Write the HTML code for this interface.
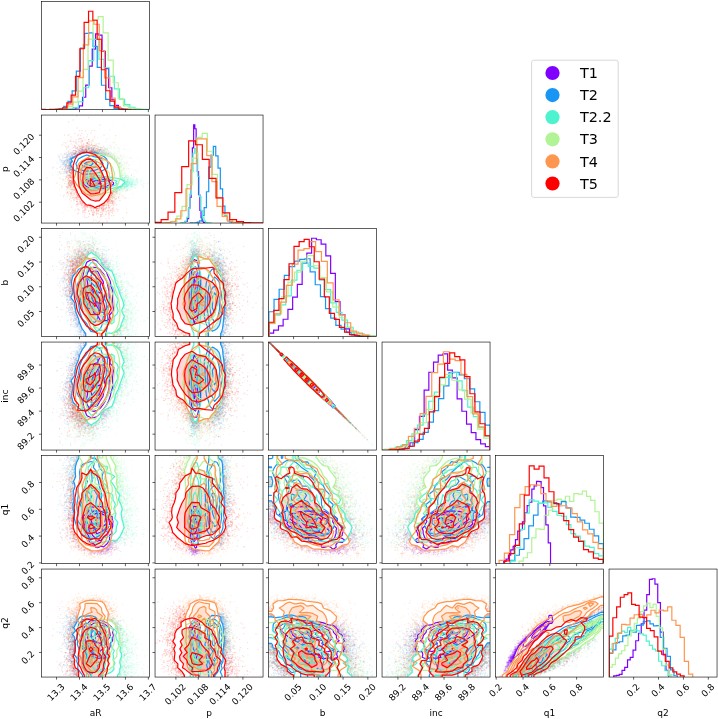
<!DOCTYPE html>
<html><head><meta charset="utf-8"><title>corner</title>
<style>html,body{margin:0;padding:0;background:#fff}body{width:718px;height:719px;overflow:hidden}</style></head>
<body>
<svg width="718" height="719" viewBox="0 0 718 719" style="display:block;font-family:'DejaVu Sans','Liberation Sans',sans-serif">
<rect width="718" height="719" fill="#fff"/>
<defs><marker id="m0" markerWidth="4" markerHeight="4" refX="2" refY="2" markerUnits="userSpaceOnUse"><circle cx="2" cy="2" r="1.56" fill="#8000ff" fill-opacity="0.12"/></marker><marker id="m1" markerWidth="4" markerHeight="4" refX="2" refY="2" markerUnits="userSpaceOnUse"><circle cx="2" cy="2" r="1.56" fill="#1996f3" fill-opacity="0.12"/></marker><marker id="m2" markerWidth="4" markerHeight="4" refX="2" refY="2" markerUnits="userSpaceOnUse"><circle cx="2" cy="2" r="1.56" fill="#4df3ce" fill-opacity="0.12"/></marker><marker id="m3" markerWidth="4" markerHeight="4" refX="2" refY="2" markerUnits="userSpaceOnUse"><circle cx="2" cy="2" r="1.56" fill="#b2f396" fill-opacity="0.12"/></marker><marker id="m4" markerWidth="4" markerHeight="4" refX="2" refY="2" markerUnits="userSpaceOnUse"><circle cx="2" cy="2" r="1.56" fill="#ff964f" fill-opacity="0.12"/></marker><marker id="m5" markerWidth="4" markerHeight="4" refX="2" refY="2" markerUnits="userSpaceOnUse"><circle cx="2" cy="2" r="1.56" fill="#ff0000" fill-opacity="0.12"/></marker></defs>
<svg x="41.54" y="1.55" width="108.00" height="108.00" viewBox="0 0 108.00 108.00">
<path d="M24.6 108L24.6 107.9 27.9 107.9 27.9 107.8 31.2 107.8 31.2 107.5 34.4 107.5 34.4 106.4 37.7 106.4 37.7 104.3 41 104.3 41 95.7 44.2 95.7 44.2 83.5 47.5 83.5 47.5 64.6 50.7 64.6 50.7 47.6 54 47.6 54 32.4 57.3 32.4 57.3 33.5 60.5 33.5 60.5 49.7 63.8 49.7 63.8 67.1 67.1 67.1 67.1 86.2 70.3 86.2 70.3 98.2 73.6 98.2 73.6 103.9 76.9 103.9 76.9 106.9 80.1 106.9 80.1 107.7 83.4 107.7 83.4 108 86.6 108 86.6 108 89.9 108 89.9 108" fill="none" stroke="#8000ff" stroke-width="1.20" stroke-linejoin="miter"/>
<path d="M5.4 108L5.4 108 9.6 108 9.6 108 13.8 108 13.8 107.7 18 107.7 18 107.1 22.2 107.1 22.2 104.9 26.4 104.9 26.4 99.8 30.6 99.8 30.6 89.4 34.8 89.4 34.8 69.6 38.9 69.6 38.9 46.5 43.1 46.5 43.1 31.9 47.3 31.9 47.3 31.3 51.5 31.3 51.5 44.8 55.7 44.8 55.7 65.8 59.9 65.8 59.9 83.7 64.1 83.7 64.1 97.9 68.3 97.9 68.3 104.1 72.5 104.1 72.5 106.8 76.7 106.8 76.7 107.4 80.9 107.4 80.9 107.9 85.1 107.9 85.1 107.9 89.3 107.9 89.3 108" fill="none" stroke="#1996f3" stroke-width="1.20" stroke-linejoin="miter"/>
<path d="M11 108L11 108 16.2 108 16.2 108 21.3 108 21.3 107.9 26.5 107.9 26.5 107.5 31.6 107.5 31.6 106.1 36.8 106.1 36.8 100.2 41.9 100.2 41.9 86.2 47.1 86.2 47.1 59.1 52.2 59.1 52.2 37.8 57.4 37.8 57.4 57.7 62.5 57.7 62.5 66.2 67.7 66.2 67.7 74.7 72.8 74.7 72.8 87.3 78 87.3 78 97.7 83.1 97.7 83.1 103 88.3 103 88.3 105.7 93.4 105.7 93.4 107.2 98.6 107.2 98.6 107.7 103.7 107.7 103.7 107.8 108.9 107.8 108.9 107.9 114 107.9 114 108" fill="none" stroke="#4df3ce" stroke-width="1.20" stroke-linejoin="miter"/>
<path d="M1.1 108L1.1 108 6.2 108 6.2 108 11.2 108 11.2 108 16.3 108 16.3 107.9 21.3 107.9 21.3 107.1 26.3 107.1 26.3 105 31.4 105 31.4 100.5 36.4 100.5 36.4 89.6 41.5 89.6 41.5 67.8 46.5 67.8 46.5 37.6 51.5 37.6 51.5 18.2 56.6 18.2 56.6 15.1 61.6 15.1 61.6 31.4 66.6 31.4 66.6 58.5 71.7 58.5 71.7 81.2 76.7 81.2 76.7 97 81.8 97 81.8 104.3 86.8 104.3 86.8 106.7 91.8 106.7 91.8 107.6 96.9 107.6 96.9 107.8 101.9 107.8 101.9 108" fill="none" stroke="#b2f396" stroke-width="1.20" stroke-linejoin="miter"/>
<path d="M-11.1 108L-11.1 108 -5.8 108 -5.8 108 -0.5 108 -0.5 108 4.8 108 4.8 108 10.1 108 10.1 108 15.4 108 15.4 107.7 20.7 107.7 20.7 107 25.9 107 25.9 103.2 31.2 103.2 31.2 95.3 36.5 95.3 36.5 76 41.8 76 41.8 43.4 47.1 43.4 47.1 19.4 52.4 19.4 52.4 22.7 57.7 22.7 57.7 49 63 49 63 76.3 68.3 76.3 68.3 96.5 73.6 96.5 73.6 105.2 78.9 105.2 78.9 107.6 84.2 107.6 84.2 107.8 89.5 107.8 89.5 108 94.8 108 94.8 108" fill="none" stroke="#ff964f" stroke-width="1.20" stroke-linejoin="miter"/>
<path d="M-0.7 108L-0.7 107.9 3.7 107.9 3.7 108 8 108 8 107.9 12.3 107.9 12.3 107.9 16.7 107.9 16.7 107.5 21 107.5 21 106.3 25.3 106.3 25.3 101.3 29.6 101.3 29.6 93.6 34 93.6 34 74.9 38.3 74.9 38.3 47.2 42.6 47.2 42.6 20.9 47 20.9 47 9.7 51.3 9.7 51.3 18.7 55.6 18.7 55.6 37.7 59.9 37.7 59.9 68.2 64.3 68.2 64.3 89.2 68.6 89.2 68.6 99.6 72.9 99.6 72.9 105.5 77.2 105.5 77.2 107.5 81.6 107.5 81.6 107.7 85.9 107.7 85.9 108" fill="none" stroke="#ff0000" stroke-width="1.20" stroke-linejoin="miter"/>
</svg>
<svg x="41.54" y="115.05" width="108.00" height="108.00" viewBox="0 0 108.00 108.00">
<path transform="scale(.5)" d="M54 121l9 2 99 2 4 0 14-5-14 12 0 7-5 0-96-1 0-2-3-3-1 6-2-1-3-5-7 11 6-3 3 4 7-4 3 5 77 3 4-2 0 2 0-3 1-1 1 0 2 0 1 1 3-1 1 0 0-2-1 7-10 5-3-2-4 2-69 1-1 2-3-8" fill="none" marker-start="url(#m0)" marker-mid="url(#m0)" marker-end="url(#m0)"/>
<path transform="scale(.5)" d="M96 53l-25 5-1-3-20 13 11-1 8 0 0 0 2 0 0-2 5-2 2 6 0-6 2 6 1-3 0 2 0 0 0 0 1 1 0-1 1-3 5 3 1 1 0-4 0 3 1-4 3 4 0-2 0-4 1 5 0 1 0-5 1 4 0 1 0-5 0 3 1 1 0 2 1-2 2-1 1 2 0-3 0 3 1-1 0-7 0 9 2-3 0 2 1 1 0 0 0 0 0-2 0 1 3-2 0-4 1 7 0-9 1 7 4 2 1-4 2 1 1 3 1 0 1-3 2-1 0 0 3 4 3-2 4 2 5-3 4 0 15 1 11 1-26 9-1-2-1 4-2 0 0-3-2 0 0 0 0 2-1 0-1 1 0-2-1 1 0-2 0-6-1 9-1-3-1 2 0-4 0 3-1-7 0 1-1 6 0-1-1 0 0 0 0-5 0 6 0 2-1-1 0-3-2 4 0-3 0 0 0 3-1-8 0 3 0-3 0 6-1-3 0-1 0-3-1 9 0-1-1-1 0 2 0-9 0 4 0 2 0 1 0-2-1-3-1 0 0 7 0-7 0 1 0-1-1 6 0 0 0 0 0 0 0-1-1-3 0 0 0 2 0-1 0 0-1 1 0 1 0 1 0-1 0 0 0-1 0 2-1-1 0-2 0-4 0 4-1 2 0-3 0 0 0 0 0 1 0 0-1 1 0-1 0 0-1-2 0 3 0-2 0-3-1 2 0 2 0 0 0-2 0-1-1 0-1 3 0-3 0 1-1 0 0 2 0-1 0-2-1 3 0-1 0 0-1-4 0 0 0 2 0 1 0 3 0-2-1-1 0 1 0-4-1 3 0 0 0 1 0-4-1 5 0-3-1-1 0 1 0 3 0-4 0 2 0 0 0 2-1 0 0-2-1 2-1-1 0-3 0 3 0-1 0 0-1-1 0 1-1 2-1 0-1 0 0-5-1 4 0-4 0 1 0 0-1 3 0-3 0 3 0-2 0 2 0-4-1 2-1 3-1-3 0-2 0 5-1-2 0 1-2 2 0-2 0-2 0 2 0-4 0 5-1 0-1 1 0-3 0 1 0-2 0 1 0-3 0 6-1 1 0-1 0-1-1-2 0 4 0-5 0-1-1 1 0 2 0 2 0-2-1 1-1-1 0 4 0-3 0 1 0 0 0 1 0 0-1 0 0-2 0-2-1 6 0 0 0-2 0-2 0 4-1-5 0 0 0 2 0 2-1 1 0-2 0-7-1 9 0-7 0 5 0-1 0 3-1-3-1-1-1-1-1 2 0 0 0 0-1-1 0 1-1-5 0 8-1 0 0-2 0-1-1-1 0-4 0 7-2-3-1-4 0 4 0 1-2-2-1 2-2 3-1-1 0 0 0-1-2-2-2 4-2-1-3-1-13 3 0 4 3 5 0-2 2 2 3-8 1 2 1 2 3 0 1 0 1 0 1-1 1 5 0-6 0 4 1-1 0-4 0-2 0 4 1 1 1 4 0-9 0 2 0 7 0 0 0-6 0-3 1 6 0-4 1 6 0 1 0-1 1 0 0-1 0 2 0-3 0 3 0-2 1 2 0-6 0 5 0-8 1 6 0 3 0-5 0 3 0-4 0 3 1-2 0 4 0-3 1 1 0 0 0-5 0 4 0-5 1 5 0-3 0 1 0 1 1 0 0 1 0-1 0 1 0 0 1-2 0 1 0-4 0 4 1 0 1-1 0-3 1 3 0 0 0 0 1-2 0 0 1 1 0-1 2-1 1 0 0 0 49 0 2 0 3 1 0-1 0 0 1 0 2 1 0-1 7 3 2 0 1 1 0-3 2 4 1-1 1-4 0 5 0-2 4 5 0-1 0 1 1-2 2 2 1 1 5-2 3-6 2 7 19-2-13 10-8 1-1 1-1-2-1 0-2 2-2-6-2 1-2-1-85 1-1 0 0-3 0 4 0-3 0 1 0 0 0 0 0-1 0 2-1 1 0-2 0 2 0-2 0 2-1-3 0 2-1 2 0 3 0-8 0 3 0 5 0 0 0-5 0-3 0 7 0 1 0-1 0 2 0-4 0 3-1 1 0-2 0-7 0 8 0-2 0-2-1 1 0 1 0 3 0-9 0 8 0-2-1-4 0-1 0 5 0 3 0-2-1-2 0 2 0-5 0 2-1-2 0 5 0-4-1 0 0-2 0 2-1-2 0-1 0 5-1-1 0-3 0 2 0 4-1 1 0 0 0-8-1 2 0 7 0-4-1 4 0-7-1 1 0 0 0 4 0-2 0 4-1-2 0-5-1 7 0-8-1 7 0-2 0-3-1-3-1 4 0 5-1-8 0 0-1 3-2-2-6 4-7 8 7 3 7-5 1 1 3 5 1-2 1-2 1-3 1 8 1-9 0 2 0 5 0-4 1-3 0 2 1 4 1-5 0 0 1 6 0-1 0-2 0 5 1-2 0-1 1-1 0-4 0 7 1-6 1 0 0 6 0-6 0 5 0-5 0 2 0 3 1-7 0 1 0 5 0-5 0 4 0 2 0-7 0 6 1 3 0-2 0-6 0 4 0 3 0-7 0 1 0 4 1 3 0-6 0 6 0-5 0 1 1 2 0-7 0 9 0-9 0 9 0-6 0-3 1 6 0 3 0-6 0 4 1-3 0 1 1 4 0-3 0 3 0-1 0 1 0-3 0 3 0 0 1-1 0 0 0 1 92-3 1 3 0-3 2-2 3-3 13 6-111 6 0 2 0-4 0 4 0 1-1-6 0 0 0 8 0-8 0 5 0-2-1 4 0-7 0 2-1 3 0-5 0 2 0 6 0-6-1-2-1 0-1 4 0-4 0 4-1-3 0 3 0-3-2 0 0 8-1-3-1 3-2-2-1-1 0 0 0-2-3-4 0 3 0 3-2 1-7-1 0-3-4 6-22 7 42-6 4 0 1 2 2 2 3-4 0 3" fill="none" marker-start="url(#m1)" marker-mid="url(#m1)" marker-end="url(#m1)"/>
<path transform="scale(.5)" d="M50 109l114-2 28 8-3-5-22 9-7 0 0-3-138 4 27 9 11-2 96-7 0 7 1 1 0-1 0-3 0 1 0 1 0-1 0-3 0 3 1-1 0-1 0 5 1-6 0-2 0 7 0 1 0-2 0 2 1-1 0-3 0-3 0 1 0 7 0-7 0 6 1-4 0 1 0 3 0 1 0 0 0 0 0-1 1-8 0 7 0-5 1 6 0 1 0-2 1-1 0-5 0 6 0 0 1 0 0-1 0 3 1 0 0 0 0-2 0 0 1 2 0-8 0 2 0 3 0-1 0 4 1-5 0 0 0-3 1 4 0-2 1 3 1-5 0 5 0 3 1-3 0 3 0 0 0-9 0 9 0 0 1-4 0-3 0 5 0-3 1 0 0 4 0 0 0 1 1-4 1 1 2 0 0 1 1 0 1-5 1 7 1-2 2 2 1-6 0 0 4 6 1 0 0-2 2 0 8 0 16-7 2 6-3 10-2-3-1 4-5 0-3 0-4 2 0-8-1 3 0-3-4-1-1 8-1-4-1 0 0 0-1-3 0 4 0-1-1 4-1-7 0 1-1 6 0-5-1 2-1-5 0 7 0 1-1-5-1 2 0-3-1 0 0 7 0-9-1 4 0 5 0-2 0-3 0 2-1 1 0-3 0 0 0 0 0 5 0-5-1 3 0-6 0 5 0 1-1 0 0 2 0 0 0-2 0-7 0 9-1-3 0 3 0-9 0 3 0 6 0 0 0-5 0 2-1-2 0-1 0-3 0 6-1 0 0-1 0-1 0 4 0 1 0-4-1-5 0 6 0-2 0 2 0-2 0-2 0 5 0-2-1-3 0 7 0-1-1-7 0 0 0 3 0 3 0-1 0 0 0 3-1-3 0-5 0 5 0-3 0 1 0 1 0-3 0 2 0 0-1 3 0 1 0-5 0-2 0 8 0-9-1 6 0 2 0-7 0 4 0 3 0 1-1-1 0 1 0-2 0-4 0 1 0 1 0 1 0-1 0 0 0-2 0 1 0 5-1-2 0-6 0 6 0 0 0 1 0-3 0-2-1-2 0 2 0-1 0 1 0 3 0-4 0 5 0-4-1 5 0-3 0 0 0-3 0-1 0 5 0-2-1-4 0 2 0 0 0-2 0 6 0-3 0-3 0 3 0 6 0 0 0-3 0 3-1 0 0-7 0 6 0-1 0 0 0 2 0-2 0 1-1-7 0 8 0-8 0 7 0-8 0 1 0-1-1 9 0 0-1-9 0 0 0 0-96 6-1-2-1-4-3 8 0 0-1 1-1-3-1-6-1 6 0 3-3-2-2 5 5 5 2-7 3 9 1-8 1-1 1 0 0 2 4 4 78 3 1-1 0 0 1 0 0 1 0-2 1-2 0 1 1 2 0-2 0-1 0 2 0-1 0 3 1-4 0 3 0-2 0-1 1 4 0-3 0-1 0 2 0 1 0-1 1 0 0 1 0-3 0 1 0-1 0 0 1-1 0 3 0 0 1-3 0 0 0 4 0 0 0-3 0 0 0 0 1 0 0 3 0-4 0 0 0 0 0 2 0-2 0 1 2-1 0 0 0 2 0-3 0 4 0-3 0-1 0 0 1 4 0-4 0 2 0 0 0-1 0-1 0 1 0-2 1 3 0 3 0-6 0 0 0 2 0 2 1-5 0 0 0 7 0-5 0 0 0-1 1-1 0 2 0 0 0 0 0-3 1 5 0-2 0-2 0-1 0 1 0 7 0-6 1 5 0-1 0-4 0 1 0-2 1 6 0 1 0-4 0-2 1 2 0-4 0 4 0 4 0-3 0-4 0 4 1 0 0-5 0 3 0 3 0-6 1 3 0-2 0-1 0 2 0 3 0-5 1 5 0-2 0 2 1-4 0 2 0-3 0 2 0 0 0 2 0 4 0-5 0 4 1-5 0-1 0 1 0-2 0 2 0-1 1-1 0 1 0 8 0-5 0 4 0-8 0 4 1-2 0-2 0 2 0 0 1-1 0-1 0 0 0 5 1 3 0-5 1-2 0-1 1 8 1-5 0 2 1-1 0-3 0 1 1 1 0 1 0-4 0 2 1-1 2 2 0 1 0-4 0 0 2 0 1 6 1-6 0 0 0 0 1 5 0-5 1 5 1-5 12 6 0-5 2 3 0-3 8 8-28 9-12-8-2 3-3-1-5 1-3 0-1-3-1 4-4-3 0 2-1-2 0 1-1 1 0-1 0 0-1-1-1-1 0 2-1 3 0-5-1 3-1-3-1 2 0-1-1 5 0-4-1-1 0 3 0-3 0 4-1-1-1-2 0 0-1 2 0-2 0 1-2 1-68 1-8-4-9 5-3-6 23 11 109 4" fill="none" marker-start="url(#m2)" marker-mid="url(#m2)" marker-end="url(#m2)"/>
<path transform="scale(.5)" d="M53 25l63 2 26-7 22 5-32 12-27 12 3-7 1 5 11-2 16 2 0-3 11 3 2 11-2-3-11 1-21 1-4 0-5-1-4 2 0-4-1 1-1 3-1-3 0 0-9-5-26 5-47-3 35 16 21-2 2 0 1-2 3 1 8 1 1 0 1 2 0-8 1 9 1-8 1 7 0-8 1 8 0-3 0-1 1 4 0-5 1 4 1 1 2 0 0 1 1 0 0-9 1 0 1 5 0 4 2-2 1 0 3-1 2 0 1-2 1 3 1-6 0 7 1 1 1-2 1-4 2 6 1-1 2 1 0 0 2-4 2 3 1-3 0 1 2 2 2 1 0-3 3 0 1 1 1-6 5 7 6 0 0-4 0 3 2-1 4 0 0-3 2 3 11-5 15 5-20 11-2 2-1-8-1-1 0 4-1 4-1-5-1 3 0-4-2 6-2-2 0-6 0 8-1 0-1-2 0-3-1 3 0 1-1 1-1-1 0 1-1 1-2 0 0 0-1-2-1 0 0 2-1-3-1-3 0 5 0-3-1 3-1-1 0-5-1 5 0-1-1 2 0-2 0 3 0-7-1 0-2 6 0-8-1 9 0-1-1-4-1 1 0-2 0-1 0 5 0-1-1-5-1 3 0-2-1 4 0 1 0-2 0 4 0-7-1-1-1-1-1 7 0-2 0 3-1 1 0-3 0 1-2 0 0-5 0 7 0-3 0-3 0 0 0 6-1-8 0 3 0-4 0 0-1 8 0 0 0-4 0 1-2 0 0 2 0-4 0 3 0-1 0-1-1 3 0 0 0 1-1-5 0 3-1-4 0 4 0 0 0 1-1-3 0 2-2 0 0-2 0 1 0-1-1-1 0-3 0 6-2-4 0-1 0 3-1 1-2-3-1 3 0-4 0 3-1-1-2 2 0-4-2 3 0-2-1 3-1-2-2-2 0 1-1-1 0-1-4 5-1-5-1 4 0 0 0-3-1-1-1 1-3 4 0-5 0 5-5-1-5 0-2 1-7 3-5-8 5 19 2-6 3-1 1 2 55-4 0 0 5 0 3 0 1 0 1 1 3-1 0 1 0 0 0 0 0 1 1 0 0-1 0 2 1-2 1 2 0-1 1 1 0 1 1 0 1 1 0-3 0 3 1-3 0 4 0 0 0-2 1 2 0-4 0 5 0-6 1 7 0-3 1-4 0 1 0 4 0-5 0 0 1 2 0 0 1 6 0-5 0 4 0-7 1 2 0-1 0 7 0-2 1 2 0-6 0 1 0 5 1-1 0 0 1-1 0 1 1-4 0 0 0 4 1-5 1 6 1-4 1-4 0 8 0-6 1 3 0 0 3-2 0 5 3-2 1-7 0 7 2-7 1 4 3 0 1 4 1-5 2 2 2 1 3 0 13 2 7 2-14 3-5 6-4 0-3-2-2 0-1 1 0-3-4-1-3 5-1 0-1-1 0 1 0-6-1-3 0 1 0 3-1 1-1 1-1 3 0 0 0 0 0-1 0-8 0 5-1 0-1 0 0 2-1-4 0 6-1-1 0-4 0 3 0-2 0 2-1 0 0-2 0-3-1-1-1 1 0-1 0 1 0 0-91 3-3 0-1 4-2-4-2 2 0 4 1-1 3 6 3-1 1 0 1 3 0 0 1-1 1 2 1-1 2 1 88-9 2 0 0 5 1 2 0-6 0 0 0 3 0 5 0-7 1 5 0-2 0-1 0-3 0 3 0-1 0 1 1 4 1-7 0 2 1-3 0 2 1 1 0 1 0 1 2 2 0 2 1-5 1 1 0-3 0 6 0-3 1 1 0 2 1-1 0-2 0 3 0 0 2-6 0 4 2 1 0-2 0 4 1-1 3-8 7 8 13 0 2-2-4 8-4-3-3 5 0-6-9 1-1 4-7 2 0 0-1 2 0-3-1-1-1-5 0 4 0-2-1 5 0-4-1 5 0-8 0 8-1 0 0-6 0-2-1 1-1 2 0 3 0-4 0-1 0 5 0-1 0 2-1-4 0-3 0 7 0-4 0 2 0 2 0 0 0-5 0-1-1 6 0 1 0-6 0-1 0 7-1 1 0 0 0 0 0-3 0-5 0 6 0 2 0-7-1-2-92 0-1 9 0-6 0 2-1 0 0 0 0 0 0 1-1 0 0 1 0 1-1 1-2-1-4-3 0 3-1 0-2 0-2-5 0-3-5 4-3 4-2-1-37 4 36 4 11-4 1-1 2 9 6-6 4 1 0-3 1 7 1-5 92 2 0 0 1-4 0 1 0 3 0 0 0 2 1-7 0 7 0-4 1 0 0 2 0-4 0 5 0-1 0 3 1-4 0 5 0-5 0 1 1 3 1-4 1 3 0 1 0-7 2-1 2 6 0 3 0-8 1 4 1-5 0 6 1-5 0 1 0 6 1-5 0 5 2-3 2-2 2 6 2-8 1 8 1-1 2 1 0-4 21 7-21 1 0 4-2-5-5-1-2 6-3-7-2 6-1-4-1 0 0-2 0 0-1 7-1-6-2 0-2-1-96 4-6-3 0 2 0 1-1-2-1 3-1-4-2 4 0 2-1-6 0 7-1-6 0 11 0 2 1 1 2 3 2-5 2 3 1-3 2 1 3 0 3 4 0-1 78 1 1-1 1-2 0 2 0-1 2 2 1-2 2 0 0-1 0-2 0 5 1-4 1 1 2 2 1-4 1-2 1 5 0 0 0-2 0 2 0-5 1 4 0 2 0 0 1-3 0-2 2 5 4 0 1-4 2 4 5-2 5 3 0-5 2 1 6-5-8 18-4-7-7 1-1 2-5-4-1 0-1 1 0-1-2 1 0-1 0 9-2-1-1-2 0-1-1 2-1-3-2-1-1 0 0-3 0 1-1 0 0 0-1 0 0 1 0 5-2-6 0-1 0 9-1-2 0-6-1 0-1 3 0 2 0-6 0 0 0 4 0 0-1 2 0 3 0-4-1-2 0 0 0 6-1-5 0 4-1-2 0-4 0 4 0 2 0 0 0-5-1 1 0 0-1 2 0-1-68 3-2-5-1-1-3-1 0-1-1 1 0 4 0-2-1 2-1-4-13-1 2 18 7-5 7 4 2-4 4-3 1 8 60 0 2 1 1-1 0-1 1 0 0-3 0 0 2-2 1 3 0-2 0 3 0-6 0 4 1 3 0-7 1 9 0-9 0 0 1 8 1-5 0 3 0 0 1-2 0-4 1 3 0-1 0 7 0-8 0 8 1-8 1-1 0 3 5-1 0-1 7 0 1 2 5-2 0 6 1-1 4 1 0-2 0 0 5 2-20 5-4-1-3 8-8-2-1-4-2-2-5 6 0-4 0-1-3 6-1-5 0 5 0-6-50 5-1 0 0-6-23 7 4 3 28 1 2-1 1-1 3 4 9 1 0 4 6-1 0-2 2-1 3 2 1-1 3-2 1 2 1 2 11 0 0-6 10-1 0 2 11-2 36 15-17 1-42-4-10-3-11 3-7-3-17 3 26 14 35-3 19 7-18-1" fill="none" marker-start="url(#m3)" marker-mid="url(#m3)" marker-end="url(#m3)"/>
<path transform="scale(.5)" d="M136 30l-23 16 37 13-4-6-2 2-1 1-15-2-47-4-11 8-5-4-4-1-9-1-7 8 6 6 11-6 4 0 8 9 6-4 10 0 3 3 0-3 4 0 1 1 2 0 1 3 1-2 0-3 1-2 2 3 0-1 0 1 1 1 0-5 1 0 2 8 0 0 1-7 0-2 1 1 0 5 4 3 0-9 3 6 1 0 5 3 2-4 0 3 1-1 5-1 13-2 28 6-35 3-2 4-2 1-2 1-2-5 0 0 0 5-1-3 0-1 0 1 0-3-1 4-1 2-1-1-1 1 0-1-2 0 0-5-1-1-1 1 0 1 0-4-1 7-1 1 0-1 0 0-3 1 0-8 0 0-1 9-1-8-2 1 0-2-1 5 0-3-2 4 0-3 0 1-1 1-2 0-1 1-3-1 0-3 0 2-1-4 0 6 0-3-1 1-1 1 0-3-1 1-1-1-1 1 0 1 0 1 0-5-1 5-1-1 0-1-1-3 0 4-1-1 0 2 0-4 0-1-2 3 0-3-10 2-1 4-1 0-1-1-2 4 0-9-1 6-2 1-4-5-1-1-2 5-4-1-9 4-3 10 2 0 7-8 6 2 67-3 4 0 1 1 1 1 3 3 3 1 2-6 1 3 1-1 4 3 0-4 1 5 8-3 3 1 9 10-2 0-11 0-4 1 0 2-1 0-2-1-5-6-87 0-1 4-1 5-2-5 0 3-4-7-1 6-2-1-8 14 2 0 4-1 5-4 1-4 1 4 0 0 0-2 0 0 0 4 1 0 0-6 0 9 0-9 0 0 1 6 1 0 1-3 0-3 1 3 0 2 1-1 1 4 0-4 1 2 2 2 90-5 0 1 2-1 4 6 5-9 8 2-13 12-96-3-1 3 0-4 0 2-1 2 0-2 0 4-1 3 0-3 0-3 0 4 0-2-1-2-1 4-1 2-1-8-1 4 0-2-2 1-2 1-1-3-2 1-3 0-2 1-2-1-1 3-9-2 10 14 0 1 3-6 4 1 3-2 3 3 1 0 0-4 0 0 0 1 0-2 1 0 0 4 0-3 0 0 2 2 0-1 0-1 0 3 1 2 1-1 0-2 1 0 0-1 0 0 0 7 1-6 0 2 0-2 1 4 0 1 93-6 1-1 3 0 9 1 20 6-124 9-1-4 0 5 0-5 0 3-1-5 0 3 0-4 0 0 0 1 0 2-1 4 0-2 0 2 0-4-1-3 0 6 0-2-1 3-1-5 0 2-1 1-3 3-1 1 0-8-1 1 0 7-1-2 0-2-1-3-2 6-2-6-1 1-4-1-7 7 0 9 4-3 2-1 9 5 1-4 1-5 0 0 1 6 1-6 2 9 1-9 1 3 0 5 0-8 1 7 0-5 1 5 0-3 0-3 3 1 0 3 1-2 0-2 1 2 0 1 1 2 1 2 79 1 0 0 1-1 2 1 3-4 9-4-9 17-2-6-3 3-1-5-3 1-3 4-1 0-1-1 0-1 0 0-2 6-64 0-2-3-1-2 0 0-1-4 0 3-1 0-1-3 0 9 0-9-1 6 0-5 0 4-1-4-2 4-1 2-1-5 0-2-3 6 0 3-2-2-19 3 17 1 4 5 3-5 4 8 0 0 2-4 1-4 0 6 0-1 6-1 1 0 1 1 57 2 3-1 1-2 3 2 2 0 2-7 4 9-12 2-1 1-2-1-1 8 0-8-2 1-1 5-2-2-1 3-43-2-4-4-2 3-6-3-13 6 15 2 7 5 12-1 2-3 4 0 1 0 4 3 1 4 11 1 2-8 3 2 2 6 5-1 0-4 2 1 41 2-26 4-9 4-10-3-6 7-25-6-8 5-33-7-11 4 21 7 19 1 28-3 6 13" fill="none" marker-start="url(#m4)" marker-mid="url(#m4)" marker-end="url(#m4)"/>
<path transform="scale(.5)" d="M71 2l23 3-31 5-9 4 17 12 46-6-11 11-5 0-2 5-7 3-4-7-7-1-1 6-4-6-2 8-7-2-12 2-9 1 7 1 6 3 13-3 2 8 1-2 2 0 1-6 0 6 2 0 4-2 7-1 3 5 0 0 9-1 3-4 19-4 6 8 17-7-33 16-6 1-6-6-3 6 0-6-4 4-1 3 0-9-1 3-1 4-1-1 0 0 0 0-1 1-1-1 0-1-3-5-3 7 0 2-2-7-1 7 0-7 0-1-1 3-1 2-2-3-3 1-5-4 0 3-1 3-4-3-5 5 0-8-1 3-1-1-8 4-4-1-4 5 7 3 3 1 3-2 0 2 3 5 7-4 1 0 1-4 1 1 0 2 1 2 1-3 2 3 1-1 1-3 0 6 0 1 1-9 2 2 1 3 0 2 0-4 0 4 1 0 1-6 1 7 0-5 1 2 0 0 0 3 0-7 2 2 0 5 0-4 0 0 0 5 0-6 0 6 0-8 1 4 1-2 1 6 0-5 0 4 1-1 0-6 1 8 0-3 1-6 0 2 0 7 0-6 1 5 0-7 0 3 0 3 2-5 1 2 0-4 0 5 1 4 0-2 1-1 0-6 1 2 0 4 2-5 0 4 1-5 1 7 1-2 1-3 2-1 0 7 0-1 1-2 0-4 1 0 1 7 1-5 2 4 1 0 1-4 1 5 0-4 1 5 4 0 0-5 3 4 3-5 6 5 8-6-4 10-9 1-1-2-1 4-2 2-2-1-1-6-2 0-1 4 0 2-1-6-1 6-1-5 0 2-1-3 0 7-1-2-1-3-1 4-1-2 0 1 0 1-1-3 0 1 0 0 0-3-1 4 0-4 0 2-1 2 0-4-1 0-1-1 0 4-1-4 0 2 0 2 0 0-1-1 0 0 0-3-1 5 0-4-1 1 0 0-1 2-1 0 0 0 0 1-1-5-1 5 0-3-2 2-1 0-1-3 0 1 0 0 0 1 0 1-1-4 0 0 0 0-1 3-1-2 0 4 0-5-1 4 0 0-1-4 0 4 0-1 0 1 0-3 0 1 0 3-2-3 0 0 0 3 0 1 0-4-1 0-2-1 0 4-1-5 0 3 0 0-1 1 0 3 0-3-1-3-1-1 0 5 0 2 0 1 0-7 0-1 0 8 0-2-1 3 0-2 0 2 0-5 0-3 0 7-2-5 0 5 0 1-1 0-1-1-1-5-1-1 0 4 0-3 0-1-1 6 0-7 0 6-1 2 0-2 0 1 0-1-1 1-1-2 0-5 0 7-1 0 0-7-2 2-1 6 0-2-2 1-1-2-3 0 0-3-2-1-3 4-3 2-8 0-4 6 1-2 7 4 2-6 4 5 2-3 2 5 3-5 0 2 2 3 0-2 1 2 2-1 0-6 0 0 0 6 1-6 0 5 0-1 1 2 0-1 1-2 0 1 1 0 3-3 2-1 0 1 0-1 1 0 57 0 3 1 8 1 0 1 6 2 0 4 6 3 0 1-90-1 0 0-2-2 0 3-1 5 0 1 0-4-1-1-1 0 0-1 0 6-1-8-3 4 0-4-2 8-2-8-2 1-1 3-1 1-1 0-1 3-20 7 15-1 4 3 6 1 1-5 0 1 1-3 2 1 1-2 1 6 0-3 2 5 1-5 1-3 0 2 1 0 0 2 0 2 0-6 1 8 0-5 1 5 0-1 0-4 1 5 1-3 0 2 1-1 1 6 0 4 0-4 0 1-1 0 0-3 0 3 0-4 0 9-1 0 0-3-1-5 0 0 0 6-1-1 0-2-1 4 0-5 0 2-1 2 0-2 0 1-1-1-1 0 0-4 0-1 0 3-1-2-1 1-1 0-1 1-1 2 0-2-1 2 0-3-2 0-10 5-2-3 1 13 7 2 4-2 1-3 1 0 1-3 0 3 2 3 0-2 0 4 1-3 0-4 0 5 1-5 1-2 0 3 0 6 1-4 1-4 0 2 0 2 0 1 1-1 0 0 2 3 0-3 0-4 0 7 1-2 0-5 0 5 0-3 0-1 1 7 0-3 1 2 0-2 0 2 106 5-105 4 0-1 0 1 0-1-1-3 0 5 0-1 0-6 0 7-1-4 0 0 0 0-1 3 0 1 0-4 0-3-1 3 0-1 0-3 0 7 0-4 0-2 0 4-1-1 0 4-1-7 0 4-1 2 0-1 0-5-1 8 0-7 0-1 0 5 0-5 0 2-1 3-1-1 0-2-1 3 0 2 0-7 0 5-8 1-15-1 9 6 10 1 1 3 1-3 1 3 1-4 0 2 2-4 0 1 1 3 0-3 1 3 0-1 0 6 1-8 1 8 0-9 2 9 1-1 0-3 1-2 0-1 0 7 0-6 2-1 0 6 0-1 0-6 1 2 0 1 0 1 1 3 80-2 3 1 15-4 6 7-3 1-13 8 0-9-1 0-3 6-2 0 0-3-1 1 0 4-1-6-2 1-2 0-1 5 0-7-1 4 0 4 0-2 0-5-1 5 0 0-1-2 0 4 0-5 0 1 0 2 0-2 0 2-2-4 0 3-67-1 0 1 0-3-1 2 0 4-2-5 0 1 0-3 0 0-2 6-1-7-1 7-3-5-1 5 0-3-1 1 0 1-1-1-2-3-2 5-2-5 0 2 0 0-2 1-6 7 1-3 6 2 5 6 2-5 1-3 2 6 2-1 0 0 0-4 2 7 1-3 3-1 0 1 1 1 0 2 0-4 1 2 0-6 1 2 0 3 0-5 0 1 0 0 1 8 0-7 0 1 0-3 1 2 0 4 0-2 1 0 1 1 1 4 54 0 1-1 0 1 1 0 1-1 0 1 0 0 1-5 1 3 0-4 0 5 1-5 0 2 0 0 0 0 0 4 1-1 1-7 0 0 0 0 0 2 1 2 0-5 1 3 0-1 1 4 1-4 0 2 2 1 1 0 0-5 1 8 2 0 0-5 0 4 5-2 0 1 1-3 8-1 4 4-10 5-7 8-3-3-2 1 0-5 0 1-1 6-1-6 0 2 0-3-1 5 0 1 0-2 0-1-1-1 0-3 0 1 0-1 0 2-1-1-1 0 0 5 0 0-1-4 0 2 0-5-2 5 0-5 0 3-1-2 0 0 0 6-1 0 0-5 0 7-1-7 0 1 0 0 0 1-1 1 0 0 0 0-1-1 0-4 0 2-1 0 0 6 0-5-1 6 0-7-2 2-1 2 0-1-1 4 0-2 0 1-1-2 0 2-2 1 0 0-36-2 0 1 0 1-1-4 0 2 0-2-1-2 0 5 0-5 0 1-2 3 0-2 0 0 0 0-1-2 0 4-1-5 0 7-1-1 0 0 0-3 0-5-1 6 0-3-1 0-1-3 0 8 0-5-3 4 0-2 0 4-1-1-1-5 0 0 0-3-1 3 0 6-1-1-4-7-6 1 1 12 11-2 1 6 2 1 6-8 1 0 1 4 0 2 1-6 1 3 1-1 0 0 1 6 0-8 1 5 0-6 0 6 0-4 0 3 0-4 1 6 0-5 1-1 0-1 0 9 0-6 1 0 1 1 0-1 1-2 0 4 0-3 3-1 0 0 0 3 1-3 0 0 1 3 0-3 0 0 1 1 0 2 0-3 0 7 0-7 1 5 0 0 0-3 1 2 1-1 0-2 0 7 1-3 2-1 0 2 1-4 0 3 3 0 0-2 0 3 1 0 0-2 1-2 0 1 0 3 0 2 0-2 1 0 0-4 1 4 0-4 0-1 1 4 0 1 2-4 0 0 0 5 1-2 0-4 0-1 0 3 1 2 0-4 1-1 0 4 0-4 2 1 0 4 0 1 0 0 0-7 1 5 0-5 0 0 0 4 0-3 0 7 1-7 1 0 0 8 0-2 0-2 1-3 0 6 0 1 0-7 0-1 0 5 1-5 0 1 1-2 1 7 0 1 1-8 1 6 1-5 0 5 0-2 3-3 1 4 0-4 0 2 0-2 1 5 0 0 1-1 1-3 2 7 2-2 0-6 2 7 0-3 0 3 2-6 5 6 3 1 17 6-18-3-6 0-4 1 0 4 0-7-1 4-2-3-1 0 0 3-3-3 0 5 0 3-1-9 0 3 0 4-2-6-2 2-1 5 0-4-1 5-1-9-3 2-1-1 0-1-1 1 0 3 0 4-1 0-1-8-1 9 0-5-1 5 0-4-4-4 0 7 0-5 0-3-1 2-1-1-1 5 0 1-1-5 0 6 0-8 0 3 0-3-1 1-2 5-1-2-2-2 0-2 0 6-1 0 0-2 0 5 0 0-1-4 0 4-2-7 0-1-2 0-2 7 0-1-2-5 0 0-6 3-1-5 0 0-1 4-1-3-1 3-1-3-1 3-7-4-1 6-2 2-5-8 19 12 1 3 4 0 3-2 9-3 0 1 2-1 7 4 6 0 0-2 1-1 1 2 5-1 4 5 6 0 0-5 5-1 4 0 19 5-26 11-6-2 0-3-8 4-7 1-1-4-2 3-4-5-5-1-1 6-2 0" fill="none" marker-start="url(#m5)" marker-mid="url(#m5)" marker-end="url(#m5)"/>
<defs><path id="c1" d="M53.2 73.8l2.4 0.3 3.3-0.1 2.3-0.2 1-0.8 3.2-0.4 0.3-0.1 3-0.8 1.2-0.4 0.9-1.3 1.2-1.1 0.1-0.1-0.1-0.6-0.1-0.6-1.4-1.3-1.8-1.1-0.2-0.1-2-1.3-1.1-0.2-3.2-0.6-3.3-0.3-3.3-0.1-3.2 0.1-3.3 0.8-1.4 0.3-1.8 0.7-1.3 0.6-1.5 1.2-0.5 0.4-0.9 0.9 0.4 1.2 0.5 1.2 2 1.3 1.3 0.6 3.2 0.5 0.2 0.1 3.1 1.2z"/><path id="c2" d="M49.8 71.3l2.6 0.9 3.2 0.1 3.3 0.1 3.3-0.6 2.8-0.5 0.4-0.2 2.2-1.1 1.1-1.1 0.2-0.1-0.2-0.3-0.4-0.9-0.7-1.3-2.2-1.1-0.3-0.1-2.9-0.7-3.3-0.5-3.3 0.1-3.2 0.1-3.3 0.7-0.8 0.3-1.6 1.2-0.8 1-0.4 0.3 0.4 1.2 0.4 1.2 2.8 1.1z"/><path id="c3" d="M53.1 70l2.5 0.9 3.3 0.1 3.3-1 2.2-1.2-0.9-1.2-0.4-1.3-0.9-0.3-3.3-0.2-3.3-0.3-3.2 0.5-0.8 0.3-2.3 1.3-0.2 0.8 0 0.4 3.3 0.9z"/><path id="c4" d="M55 68.8l0.6 0.3 3.3-0.1 0.7-0.2-0.7-1.2-3.3 0.4z"/><path id="c5" d="M39 57.7l2 1.5 4.2-0.1 4.2-0.3 4.2-0.3 3.5-0.8 0.7-0.1 3.2-2.2 1-0.4 3.7-1.9 0.3-2.3 0.2-1.1 0.3-1.2-0.3-0.7-0.5-1.6-0.6-2.3-2.5-2.3-0.6-0.4-4.2-1.9-4.2-1.5-4.2-0.1-4.2-0.2-4.2 0.6-3.2 1.2-1 0.2-3.4 2.1-0.7 0.7-3.3 1.6 1.5 2.3-1.9 2.3 0.6 2.3 1.5 2.3 1.6 2.1 0.1 0.2 4 1.7z"/><path id="c6" d="M41.4 55.4l3.8 0.7 4.2-0.2 2.4-0.5 1.8-0.2 4.2-1.8 0.7-0.3 2.1-2.3 0.9-2.3-1.4-2.3 0.2-2.3-2.5-1.4-4.2-0.7-1.1-0.2-3.1-0.9-4.2-0.7-4.2 1.6-4.2 2.3-1 2.3-1.4 2.3 0.7 2.3 0.7 2.3 1 0.8 4.2 1.5z"/><path id="c7" d="M49.1 53.1l0.3 0 0.4 0 3.8-1 0.7-1.3 0.5-2.3-0.3-2.3-0.9-0.8-4.2-1.5-4.2-0.2-0.4 0.2-3.8 2-0.5 0.3-1 2.3 1.5 2.3 0 0.1 4.2 1.7z"/><path id="c8" d="M43 48.5l2.2 1.3 4.2 0.7 2.2-2-2.2-2.3-4.2 1.1z"/><path id="c9" d="M47.7 74l2 0.5 5.1 0.6 5.2-0.6 5.1-0.5 5.1-0.5 4.7-1.1 0.5-0.1 4.9-1.5 0.2-0.8 0.5-0.8 2.3-1.5-1-1.6-1.8-1.1-0.7-0.5-4.4-1.3-2.9-0.3-2.3-0.5-5.1-0.7-3.5-0.4-1.6-0.3-5.2-0.6-5.1 0.8-0.8 0.1-4.4 1.5-0.3 0.1-3.3 1.6-1.2 1.6 0 1.6-0.3 1.5 1.4 1.6 3.7 1.5 0.1 0.1z"/><path id="c10" d="M49.7 72.4l5.1 0.7 3.6-0.7 1.6-0.2 5.1-0.3 5.1-0.8 1.1-0.3 4.1-1.1 0.8-0.5-0.8-0.4-1.4-1.1 1.4-1.6 0.1 0-0.1-0.1-4.7-1.5-0.5-0.1-5.1-0.7-5.1-0.4-2-0.4-3.2-0.4-3.5 0.4-1.6 0.2-3.1 1.4-2.1 1.2-0.8 0.4 0.8 1.3 0.1 0.3 0.3 1.5 1.3 1.6 3.5 1.6z"/><path id="c11" d="M51.7 70.8l3.1 0.5 3.4-0.5 1.8-0.6 5.1-1 2.6-1.5-2.6-1-1.1-0.6-4-0.7-3.6-0.9-1.6-0.4-2.2 0.4-2.9 0.9-1.4 0.7-0.2 1.6 0.8 1.5 0.8 0.7z"/><path id="c12" d="M53.6 67.7l1.2 1.5 1.5-1.5-1.4-1.6-0.1-0.1-0.1 0.1z"/><path id="c13" d="M48.2 78.5l0.8 0.4 5.1 1.3 5 0.9 3.6-2.6 1.4-0.6 5.1-1.1 4.9-3.4 0.1-0.2 2.5-4.8 1.7-5.1 0-5-0.8-5.1-2.2-5-1.2-1.7-3.5-3.4-1.5-1.1-5.1-1.6-5-0.9-5-0.5-5.1 1.8-3.2 2.3-1.8 1.8-3.2 3.3-1.9 5-2.5 5.1 0.3 5 1.3 5.1 0.9 1 3.6 4 1.5 2.2z"/><path id="c14" d="M50.6 73.4l3.5 0.8 5 1.2 5-0.8 2.1-1.2 2.7-5 0.3-0.4 3-4.7 0.8-5-1.7-5.1-2.1-3.8-0.8-1.2-4.3-3-5-0.7-5-0.2-5.1 3.9-5 4.8-0.2 0.2-1.7 5.1 0 5 1.7 5.1 0.2 0.2 5 4.5z"/><path id="c15" d="M51.4 68.4l2.7 1.3 5 0.6 3.5-1.9 1.5-1.4 2.8-3.7 1.2-5-4-4.6-0.5-0.5-4.5-3.6-5 0.7-5.1 2.9-2.1 5.1 0.4 5 1.7 2.9z"/><path id="c16" d="M55.1 63.3l4 0.6 0.7-0.6-0.7-5-5-0.3-0.4 0.3 0.4 3.3z"/><path id="c17" d="M46.5 79.6l3.3 1.5 5.3-1 1.7-0.5 3.6-0.8 5.3-3.4 1.3-1 3-5.2 1-5.1-0.3-5.2-0.8-5.2-1.3-5.2-2.9-3-4.2-2.1-1.1-0.8-5.3-2.2-5.3-0.4-4.9 3.4-0.4 0.1-5.3 3.3-1.8 1.7-2.6 5.2-0.8 5.2-0.1 0.6-1.7 4.6 1.7 3.3 0.9 1.8 4.4 5 0.2 0.2 5.1 4.6z"/><path id="c18" d="M46.8 74.4l3 1.2 5.3-0.4 1.5-0.8 3.8-2 3-3.2 2.3-5.1-0.1-5.2-1.7-5.2-3.5-4.2-1.3-1-4-2-5.3-0.7-4.5 2.7-0.8 0.6-4.7 4.6-0.6 4.6-0.1 0.6-0.4 5.2 0.5 0.8 2.3 4.3 3 3.8z"/><path id="c19" d="M48.8 69.2l1 0.8 3.8-0.8 1.5-0.3 4.9-4.8 0.4-5.2-3.1-5.2-2.2-1.8-5.3-0.3-3.5 2.1-1.8 1.9-1.2 3.3 0.1 5.2 1.1 1.4z"/><path id="c20" d="M49.6 58.9l0.2 3.9 5.3-3.9-5.3-0.2z"/><path id="c21" d="M52.1 91.6l1.3 1.2 1.7-1.2 2.7-0.8 4.3-2.5 3.4-3.6 0.9-1 2.7-5.8-0.1-6.9-1.7-6.8-0.9-2-1.4-4.9-2.9-5.9-0.4-0.9-3.9-6.9-4.4-4.2-4.3-1.4-4.3-1-4.3 0.9-4.4 2.3-2.3 3.4-2 6.1-0.2 0.8 0.2 6.8 0.1 6.9 1.2 6.8 3 6.7 0.1 0.2 3.8 6.8 0.5 0.7 4.3 4.4 4.3 0.6z"/><path id="c22" d="M49.1 84.7l4.3 1.3 4.4-0.4 0.7-0.9 3.6-4.3 1.8-2.5-0.1-6.9-0.5-6.8-1.2-2.7-1.8-4.2-2.5-5-1.5-1.8-2.9-3-4.3-3.4-4.3 0.3-4.3 2.6-2.5 3.5-1.3 6.8 0 6.9 0.9 6.8 2.9 6.7 0.2 0.2 4.1 3.3 4.3 3.5z"/><path id="c23" d="M48.3 77.9l0.8 0.9 4.3-0.2 3.4-0.7 1-0.3 2-6.6-2-6.8-4.4-6.6-0.2-0.3-4.1-4.8-4.3-0.1-2.9 4.9-0.6 6.9 0.3 6.8 3.2 4z"/><path id="c24" d="M48.7 71l0.4 0.2 4.3-0.2-3.8-6.8-0.5-0.6-0.3 0.6z"/></defs>
<g fill-rule="evenodd"><use href="#c1" fill="#fff"/><use href="#c2" fill="#8000ff" fill-opacity="0.15"/><use href="#c3" fill="#8000ff" fill-opacity="0.15"/><use href="#c4" fill="#8000ff" fill-opacity="0.15"/><use href="#c5" fill="#fff"/><use href="#c6" fill="#1996f3" fill-opacity="0.15"/><use href="#c7" fill="#1996f3" fill-opacity="0.15"/><use href="#c8" fill="#1996f3" fill-opacity="0.15"/><use href="#c9" fill="#fff"/><use href="#c10" fill="#4df3ce" fill-opacity="0.15"/><use href="#c11" fill="#4df3ce" fill-opacity="0.15"/><use href="#c12" fill="#4df3ce" fill-opacity="0.15"/><use href="#c13" fill="#fff"/><use href="#c14" fill="#b2f396" fill-opacity="0.15"/><use href="#c15" fill="#b2f396" fill-opacity="0.15"/><use href="#c16" fill="#b2f396" fill-opacity="0.15"/><use href="#c17" fill="#fff"/><use href="#c18" fill="#ff964f" fill-opacity="0.15"/><use href="#c19" fill="#ff964f" fill-opacity="0.15"/><use href="#c20" fill="#ff964f" fill-opacity="0.15"/><use href="#c21" fill="#fff"/><use href="#c22" fill="#ff0000" fill-opacity="0.15"/><use href="#c23" fill="#ff0000" fill-opacity="0.15"/><use href="#c24" fill="#ff0000" fill-opacity="0.15"/></g>
<g fill="none" stroke-width="1.20" stroke-linejoin="round"><g stroke="#8000ff"><use href="#c1"/><use href="#c2"/><use href="#c3"/><use href="#c4"/></g><g stroke="#1996f3"><use href="#c5"/><use href="#c6"/><use href="#c7"/><use href="#c8"/></g><g stroke="#4df3ce"><use href="#c9"/><use href="#c10"/><use href="#c11"/><use href="#c12"/></g><g stroke="#b2f396"><use href="#c13"/><use href="#c14"/><use href="#c15"/><use href="#c16"/></g><g stroke="#ff964f"><use href="#c17"/><use href="#c18"/><use href="#c19"/><use href="#c20"/></g><g stroke="#ff0000"><use href="#c21"/><use href="#c22"/><use href="#c23"/><use href="#c24"/></g></g>
</svg>
<svg x="155.04" y="115.05" width="108.00" height="108.00" viewBox="0 0 108.00 108.00">
<path d="M27.4 108L27.4 107.9 28.7 107.9 28.7 107.8 29.9 107.8 29.9 106.7 31.2 106.7 31.2 106.4 32.4 106.4 32.4 103.5 33.6 103.5 33.6 93.1 34.9 93.1 34.9 82.3 36.1 82.3 36.1 54.7 37.3 54.7 37.3 32.9 38.6 32.9 38.6 9.7 39.8 9.7 39.8 13.7 41.1 13.7 41.1 29.5 42.3 29.5 42.3 56.6 43.5 56.6 43.5 79.7 44.8 79.7 44.8 95.3 46 95.3 46 102.5 47.2 102.5 47.2 106.1 48.5 106.1 48.5 107.6 49.7 107.6 49.7 107.8 51 107.8 51 107.8 52.2 107.8 52.2 108" fill="none" stroke="#8000ff" stroke-width="1.20" stroke-linejoin="miter"/>
<path d="M35.3 108L35.3 107.9 37.6 107.9 37.6 108 39.9 108 39.9 107.7 42.2 107.7 42.2 107 44.5 107 44.5 105.8 46.8 105.8 46.8 100.6 49.1 100.6 49.1 92.5 51.4 92.5 51.4 76.7 53.7 76.7 53.7 52.1 56 52.1 56 40.1 58.3 40.1 58.3 31.3 60.7 31.3 60.7 40.8 63 40.8 63 53 65.3 53 65.3 73.8 67.6 73.8 67.6 91 69.9 91 69.9 100.7 72.2 100.7 72.2 104.9 74.5 104.9 74.5 106.8 76.8 106.8 76.8 107.8 79.1 107.8 79.1 107.9 81.4 107.9 81.4 108" fill="none" stroke="#1996f3" stroke-width="1.20" stroke-linejoin="miter"/>
<path d="M25.3 108L25.3 107.8 26.9 107.8 26.9 107.9 28.5 107.9 28.5 107.5 30.1 107.5 30.1 106 31.7 106 31.7 102.3 33.2 102.3 33.2 93.6 34.8 93.6 34.8 79.1 36.4 79.1 36.4 56.6 38 56.6 38 38.2 39.6 38.2 39.6 33.5 41.1 33.5 41.1 38 42.7 38 42.7 61.2 44.3 61.2 44.3 81.6 45.9 81.6 45.9 95.6 47.5 95.6 47.5 102.9 49 102.9 49 106 50.6 106 50.6 107.5 52.2 107.5 52.2 107.7 53.8 107.7 53.8 107.9 55.4 107.9 55.4 108 56.9 108 56.9 108" fill="none" stroke="#4df3ce" stroke-width="1.20" stroke-linejoin="miter"/>
<path d="M-3.4 108L-3.4 108 1.7 108 1.7 107.8 6.8 107.8 6.8 107.8 11.8 107.8 11.8 107.2 16.9 107.2 16.9 106.4 21.9 106.4 21.9 101 27 101 27 91.3 32 91.3 32 69.5 37.1 69.5 37.1 43.1 42.1 43.1 42.1 22.4 47.2 22.4 47.2 18.4 52.3 18.4 52.3 36.2 57.3 36.2 57.3 59.4 62.4 59.4 62.4 83.2 67.4 83.2 67.4 99.5 72.5 99.5 72.5 104.5 77.5 104.5 77.5 107 82.6 107 82.6 107.6 87.6 107.6 87.6 108 92.7 108 92.7 107.8 97.8 107.8 97.8 108" fill="none" stroke="#b2f396" stroke-width="1.20" stroke-linejoin="miter"/>
<path d="M-10.4 108L-10.4 108 -5.2 108 -5.2 108 0 108 0 108 5.1 108 5.1 107.8 10.3 107.8 10.3 107.5 15.5 107.5 15.5 106.7 20.7 106.7 20.7 103.8 25.8 103.8 25.8 95.7 31 95.7 31 73.7 36.2 73.7 36.2 48.6 41.4 48.6 41.4 23.9 46.5 23.9 46.5 23.8 51.7 23.8 51.7 40.6 56.9 40.6 56.9 66.5 62 66.5 62 91.3 67.2 91.3 67.2 101.4 72.4 101.4 72.4 106.2 77.6 106.2 77.6 107.3 82.7 107.3 82.7 107.9 87.9 107.9 87.9 108 93.1 108 93.1 108" fill="none" stroke="#ff964f" stroke-width="1.20" stroke-linejoin="miter"/>
<path d="M-14.4 108L-14.4 107.9 -7.6 107.9 -7.6 107.9 -0.7 107.9 -0.7 107.3 6.1 107.3 6.1 104.5 13 104.5 13 97.1 19.8 97.1 19.8 77.6 26.7 77.6 26.7 51.6 33.6 51.6 33.6 25.9 40.4 25.9 40.4 29.7 47.3 29.7 47.3 44.3 54.1 44.3 54.1 63.4 61 63.4 61 82.8 67.8 82.8 67.8 97.8 74.7 97.8 74.7 104.5 81.5 104.5 81.5 106.6 88.4 106.6 88.4 107.5 95.3 107.5 95.3 107.9 102.1 107.9 102.1 107.9 109 107.9 109 108 115.8 108 115.8 108 122.7 108 122.7 108" fill="none" stroke="#ff0000" stroke-width="1.20" stroke-linejoin="miter"/>
</svg>
<svg x="41.54" y="228.55" width="108.00" height="108.00" viewBox="0 0 108.00 108.00">
<path transform="scale(.5)" d="M83 27l1-1 11-1 8 4 22 7-21 3-3-5-6-3-7 6-12-2-9 13 5-2 3 1 3-2 2 2 0-5 2 3 0 2 2-2 1 1 0-2 2-2 0 2 2-2 2 6 1-1 2 0 0-7 0 7 1-1 2-2 2 3 1-4 0 5 1-2 2-3 1 1 0 3 2 1 2-1 3-7 1 1 1 7 5-6 3 4 13-4-4 11-1 4-3 2-3-9-1 3-1 6 0-9 0 5-2 0-3-1-1-1 0 3-1 2-3-7-3 0-3 0-1 1-7-2 0 0-4 4 0-4-3 3 0-2-1 5 0-6-1 6 0 1-2 1 0 1 0-4-3 4-1-7-1 3-2-3-5 4-1 3-8 1 2 2 3 2 2 1 4 2 4-5 0 3 1 3 0-7 0 1 38 3 1 4 0 0 0 0 0-1 2 1 0-8 1 7 0-3 1 2 0-7 0 1 1 2 1 6 0-1 0-3 1 0 0 2 1 1 2-1 0-1 1-2 2-4 4 8 2-5-2 14-1 0-2-5 0 2-1 5-1-4 0 2 0 0-1-5-2 0 0 5 0 1-2-7 0 6-1-3-2-2 0 1 0-1 0 1-1-1 0 0 0 1-1 0-1-3-1 2-41-1 0-1 0 2-2 3 0-5-2 4-3 4-1 1-5-7-4-1-1 3-5-1-2 10 11-2 0 7 3-1 0-6 61 0 1 0 2 1 1-1 0 0 1 0 0-1 0 3 3 0 3-1 2 6 12-6 12 9-9 4-7-4-4 1-80-1-7 3-1-2 89 13 4-1 29 11-19-3-5 6-2-2-3-5-1 0-1 0-94 8-6 6 107 3 1 0 1-5 3 6 1-8 4 5 0 18-21 64 5-3 1 2 7 2 0-5-6 8-7 2-14 1-2-3 0-1-2 4" fill="none" marker-start="url(#m0)" marker-mid="url(#m0)" marker-end="url(#m0)"/>
<path transform="scale(.5)" d="M42 9l16 0 9 9-9-5-21 5-1 8 17 0 2 0 1 3 15-3 2 1 2 1 34-3-11 8-11 6-9-2-2 2-13-2-27 4 10 2 7 6 0 0 12-7 2 3 2-3 3-2 2 4 0 4 0-8 0 9 2-8 1 5 5 2 3-7 4 6 3-2 0 1 2 3 5-1-7 3-1 6-3-2-1-1 0 4-3-3 0 4-1-5-1 4-1-8 0 2-1-2 0 9-2-2-1-1-1 0 0 2-1-6-1 0 0 4 0-3-2 1 0 5-1-7 0 1 0-1-1 1-1 4 0-2 0 4-2 0 0-9-1 2-1 3 0 4-4-4-4-2-4-2-2 4 0 2-2-5-3 1 0 6-9 10 11-1 3-6 2 6 0-6 1 3 1 0 1-5 0 4 2 4 2 0 0-7 1 8 1-7 0 4 0-5 1 6 1-4 1 5 2-4 1 2 1 2 0-8 1 9 1-1 0-2 1 3 0-2 0-1 0-6 1 5 1 1 0 1 1-6 0 4 1 0 0-4 0 8 1-8 0 8 0-7 0 4 0 3 1-1 0-3 1-3 0 2 1-3 0 8 0-2 0 1 0-5 1-3 0 6 1-3 1-2 0-1 40 9-2 4-41-3-3 4 0 0 0-1-1 1 0-3-1 5-1-2-2 5 0-6 0-3 0 3-1 5-1-4 0 1 0 1 0 3-1-9 0 2 0 2-1-3-1 1-1 1 0 4-1-7 0 8-1-6-1 1 0-1 0 0 0 3-1-2 0 3-1 0 0-6 0 7-3-1-4 1 0-3-3-1-1 5-1-3 0 3-2-5-1-3-2 1-1 4-2 3-3-6-7 4-7 7 23 0 1 5 1-5 1-1 3-1 1 7 0-2 1-1 0 2 1-6 0 1 1 7 0-7 1 6 0 0 1 1 2-4 1-3 0-1 0 8 0-6 1 4 0-3 1 3 0-7 0 8 0-7 0 5 0-6 1 3 0 2 0-4 1 3 1-4 0 1 0 3 0-3 1 4 0-2 0-1 0 7 0-2 1 1 0-6 1 3-3 6-1 0-3 0 0 2 0-1 0 2-1 0 0-2 0-2-2 8 0-2 0-3-1 5 0-7-3 5-1-3 0 0 0 3 0-3-2 5-1-7-2-1-2 6-1-4-2 2-12 5-22-7 26 13 2-4 1-1 1 5 2 0 0-4 0 6 1 1 1-8 1 1 0 0 0 2 1 4 1 1 1-7 2 1 2-2 2 0 1 8 1-7 0 0 0 3 0 3 1 0 0 1 0-7 0-1 1 2 0 2 0-3 0 2 1 1 0 1 0 0 0-1 1-3 0 0 0-1 0 15 0 0 0-3 0 7 0-5 0-1 0-2 0 8-1-6 0-1 0 6-1-7-1 8 0-8 0 2-1 4 0-5 0-1 0 8-1-7 0 3 0-1 0-2-1 6-2-5 0 1-1 3-1-3-1-4 0 0-1 9-2 0 0-1-1-6 0 5-8-2-5-1 9 9 1-3 2 7 3 2 1-9 1 4 1-1 0 3 1 3 1-7 1 0 1-1 1 6 0-4 0 4 1-2 0-1 0 2 0-4 1 4 1-6 0 4 1 4 0 1 0-8 0 4 0-1 1 3 1 2 0-5 0 2 0 0 1-1 0 0 95 1-97 7 0-1-1-1 0 8 0-9 0 4 0-1-1 4-1-1 0-2 0-4 0 8 0-2 0 1-1-1 0-5-1 2 0 4 0-2-1 3 0-4-1-2-1 5-1-3-1-3 0 2-1 1-1 1-1-4-1 7-1-4 0-2-2-1-2 4-1 13 9-5 0 0 1-2 0 0 1 7 0 0 1-1 2-4 0 1 1-1 0-2 0-1 1 2 1 6 0-4 0 4 1-2 0-3 1 2 0 4 0-9 1 2 0 0 1 2 0 2 0 2 1 1 1-3 0 1 1-1 101-2 0 15-98 0-1-5 0 4-1 1 0-9 0 8-1-5 0 3-1 0-1-3-1-2 0 1-1 6 0-6 0 5 0-7 0 9 0-1-1-8-1 2-1 0 0 3-2 3 0-2 0-1-6 3-6-7-13 6 8 5 11 5 3-1 1-6 1 4 0 0 0-1 1 5 1 0 0-6 1 5 1-6 0-1 1 3 0 4 1 2 1 0 0-7 0 7 1-9 0 7 2-5 0 6 0-1 1-1 0-4 0 2 1-3 1 0 0 7 0 1 0-2 1 2 1 0 104-5 5 5-105 10-2-3-1 3 0-2 0-3 0 5 0-1-1-7 0 2 0 2 0 4 0-9 0 7-2-5 0 1 0 2 0 4-1-2 0-2 0-1-1 5 0-7 0-1 0 3 0 1-2 1 0-2-2-2-1 2 0 2-2-3-1 5 0-8-1 4-4 0-4-3-9 5-7 0 19 9 2-2 6-2 0 6 1-7 2 6 1-3 0 1 0-1 2 2 1 3 0-8 1 1 0 7 0-5 0-3 1 5 0-2 0 6 1-2 1-1 1-4 0 3 2 2 0 2 0-3 0 0 1 3 1 0 5 10-1 0 0-1 0 1 0-1-1-3-1 0 0-3 0 3 0 4 0-7-1 7-1 0 0-8 0 4 0-2-1 4 0-6 0 1-1 3-1 4 0-6 0 2 0-4 0 1 0 1-1 0 0-3-1 4 0 2 0-4 0 5 0 0-1-6 0 2-1 2-1-5 0 1 0 7-1-6 0 2-2 3 0-1-1-5-3 5 0-4-4 12 12 1 3 0 1 0 1-3 1 6 0-8 1 2 1 5 0-2 0-2 1 5 0-4 0-2 0 5 0-1 1-2 0 4 1-3 0-2 0 5 0-4 1-2 0 1 1 1 1 1 1-1 1 5 0-1 1-2 0 3 0-1 0-2 42 3 1-1 2 1 12 0 3-3 1 1 2-1 6-2 1 1 1-4-2 12-2-3-3 3-4 2 0-1-2-1-12-1-1-2 0 3-1 2 0 0 0-5-1 1 0 3 0-3 0 2 0-3-1 2-1 3-38-3 0 0-1-1 0 4 0-3-1 3 0 0-1-5 0 0-1 3 0 0-1 2-1-3 0 0 0-2-3 4-1-2-1 0-1-1 0 0-3 1 0 1-3-2-4 2" fill="none" marker-start="url(#m1)" marker-mid="url(#m1)" marker-end="url(#m1)"/>
<path transform="scale(.5)" d="M51 0l28 6 1-6 5 8 1 1 21 0 4-4 24 3-21 7-3 4-5 0-4-2 0 2-5-2 0-5-1 7-3 0-2-1-2-4-5-3 0 1-2 3-1-4-1 7-11-5-3 2-17 6 14 4 8-2 2 3 4 3 1-1 0 1 0-2 5-3 6 2 0-2 2-1 5 2 2 1 3-4 1 2 2 3 0-4 3 0 1 6 1-2 8 1 0-5 2 4 11-5 0 14-1 2-8-2-6-6 0 1-4-1-3 0-2 5 0-3 0-1-2 5 0 1-2 0 0-6-1 5-1-2 0 3-1-1-2-4 0 0 0 6-2 0 0-5-1-2-1 2 0 1-1 2-1-1-2 2 0-6-2 8 0-4-2 0-2-1-1-3-1 8-4-7-2 1-2-2-1 4-1 1-13 8 20 1 0-1 1-3 0 6 1 1 4 1 2-4 0-2 0 4 1-2 0-5 1 2 0 2 1-3 0 2 0-2 1 5 1 3 2-3 1 3 0-8 1 8 1-6 0-3 1 1 1 7 0 0 0-1 0 2 1-5 0 1 0 1 0-1 0-3 2 4 1-5 0 7 0 0 0-6 1 7 2-9 0 5 2-4 0 5 0 3 0-1 1-2 1 2 0 1 0-2 0-1 0 2 1-7 0 7 0-2 0-2 1-2 2 6 0-7 0 1 2 2 0 4 0-4 7 5 0-8 1 2 2-2 1 2 0 0 2 1 2 1 1-1 4-1 6-3 11 4 0 10-1 2 0 0-10 2-6-6 0 5-6-6-3 1 0 1 0-1-1 0-3 7 0 0 0-2-1 1 0 1-4-9-2 6 0-6 0 8-1-8 0 3 0 1 0 3-2-1-1-4 0 1-2-2-2 0 0 2-3-2-7-1-3 1-1 1 0 1 0 0-1 2-1-1 0-1 0 2 0-2 0 3-1-5 0 4-1 0 0 2 0-3-1-3 0 1-1 6 0 0-1-6 0 3 0 4-1-2 0-2-1 0 0 4 0-1 0-7-1 7-1 0 0-2 0-5-1 1 0 3-1-4-1 4 0 0 0 3-1 0-1-1 0 0 0 0-2-6-2 3 0 4-5-2-46 3 36 1 1 6 7-4 4-2 0 1 1 0 2 6 2-7 0 4 1 0 1 3 1 2 1-4 1 3 3-8 33 0 3 1 0 2 0 1 0-1 0-1 1 0 0-1 0 0 1 5 0-5 0 0 1 0 1-1 0 4 0 4 1-1 1 2 1-1 2-4 0 1 1 4 2 0 0-6 0 5 0-5 1 6 1-7 0 5 2 2 0 0 0-4 1 4 2-2 3-3 2 2 3 1 2-7 2 6 0 3 0 0 3-9 0 6 47 12-36-7-7 4-4 1-1-2-1-3 0 7-1-1 0-1-5-2-1-2 0 4-1 1 0-5-1 1 0 6-5-3 0-4 0-1 0-1-2 6 0 0 0-6 0 3-1 4 0 0 0 0-1-4 0 6-1-3-1-6-1 8 0 1 0-7-1 4-1 3 0-5-1-3 0 5 0-2-1-4-1 2 0 4 0 0 0 0-1-5 0 3 0-3 0 6-1-4 0-3-43 0-1 0-1 0-1 4-1-2 0 1 0 0-1-1-1 1 0 1 0-2-1 1-1 5-4-5-3 2-12 13 7-3 1-3 3-2 67 0 1 1 1 0 0 2 1-1 1 0 0 1 2-3 0 1 1 0 0 3 0-3 1 4 1-2 0 3 1-2 0-2 0 2 1 1 0 0 0-1 0 0 1-4 0 8 0-6 0 5 1-1 1-4 0-1 0 1 7 7 2 0 3-2 2-7 4 7 15 0 8 11-1-5-2 6-3-7-7-2-3 9-5-9-2 6-5 2-1-8-1 4-2 4 0-3-1 4 0-4-2-2-1 4 0 1-1-8-1 9 0-3 0-3 0 0 0 4-1 1 0-3-1 2-1-6 0 6 0-5-1 0 0 1 0 0-1-1 0-2-80 4-3 1-3-3-1 5 0 8 0-5 90 0 1 1 0-1 1 8 0-6 0-1 0 0 0 4 0-2 1-3 1 9 1-3 1 3 0 0 0-6 0-2 0 5 1 0 0 0 1 2 1 0 3-2 0-2 0 3 0 1 1-4 1 3 1 1 0-3 2-2 3 6 1-3 3 0 1-1 0 4 1-4 2 3 1-2 7-3 22 6 9 5-21-2-1 4-6 1-2 2-5-3-2-4-1 2-3 3-3 0-4 1-1 0-2-3-1 1 0 0-1 2 0-1 0-6-1 4-1 2-1 1-1-4-1 5 0-6 0 2 0 2-1-4 0 2-1 1 0-1-1 1 0 2 0-6 0 3-1-5 0 0-1 1 0 0 0 2-1-2-99-1 10 13 93-3 1 4 1-1 0-3 1 1 0-1 1 7 0-5 0 5 1-2 0 3 0-4 1 5 0-6 0-3 1 3 0-1 0 6 1 0 2 1 0-5 5 1 0-1 0-3 1 4 0-3 1 0 2 1 0 3 5 2 3 1 2-3 10 2 10-8 2 4-4 15-1-3-8 0-1-3-1 1-5 2-8 0-2-6-2 6 0 1 0-6-1 7-1 0-1-6 0 7 0-3 0-1-1 3 0-8 0 4 0-4 0 5-1 1-1-2-1-2-1 7 0-2-1-5 0 7 0-6-1 3-1-6 0 4 0 4-2-8-1 1 0-1 0 2-1-2 0 2 0-2-104 17 109-6 0 1 0 3 0-5 1 5 0-3 1 1 0 3 1-1 0-4 0 7 1 1 0-3 0 0 0 2 1 0 0-7 0 0 0 2 0 1 2 2 0 2 1-8 1 8 2-6 0 3 1 0 1 0 1 1 2 1 1 1 4 1 3-5 2-2 27 7 3-1-2 7-26-5-2 6-1 2-2 1-3 0-1-6-1-2-1 4-1-5-2 3 0-3-1 9 0-6-2 2-1-2-2 0 0 1-1 3 0-4-2 0 0 4-1-5 0 0-1-2 0 4 0-3 0 3 0 0 0 5 0-3-1-5 0 8 0-3 0 2-102 3 100-1 0 9 1-9 0 6 0 0 1 0 0 2 0 0 1-2 2 0 0 1 0-6 1 1 0 5 0-3 1 4 1 0 0-7 0 2 1 0 1 1 0-1 0-1 1 6 0 0 0-3 0-5 1 1 0 1 1 0 1 5 0-2 3 0 0 2 1-5 1 5 0 1 1-5 7 1 0 4 4-4 2 0 17 15 0 0-12-5-6 4-6-8-3 0-1 9-1-2-2-5 0 2 0 4-1-7 0-1-2 1 0 7-1-3 0 3-3-7-1 1 0 3-1 0-1 1 0-4-1 5 0 2-1-4-2-2 0-1 0 2-1-2 0 5 0-4 0 4-1-5 0 6-1-4-114 11 110 4 1-1 1 0 0-2 2 1 0 0 0 1 0-8 1 5 0-3 0 3 0-4 0 1 2-1 0 7 0-3 0-3 0 3 1-3 0 4 1-4 0 0 1 2 0 3 0 2 1-2 0-4 0 6 1-8 0-1 0 5 1-1 1-4 0 1 2 8 1-9 1 2 0 4 1-3 0 4 0-5 0 7 1-2 1-5 1 3 2-1 2-1 1 4 0-4 2-2 1 7 9-3 5 0 3-1-15 9-1 5-7-5-1 4-1-3-1 2-2-6-1 3 0-2-1 5-2-4-3 0 0-2 0 6-1-5 0 7-1-5-1-2-1 0 0 7-2-2 0 3 0 0-1-8 0 3 0-4-1 8 0-6-1 2 0 0-1 2 0-4 0 1-1 2 0-2 0 0-1 2 0-1-1 1-1-1-1 2-87 3 7 3 8 5 45 1 2 1 12-1 0 0 0 1 0-1 0 1 1-1 0-2 1 1 1 0 1-1 1 2 0-2 0 2 1 1 1-2 1-1 0-1 0 4 1 0 0-2 0 1 0-4 0-2 1 1 0 2 1-2 0 2 1-1 0 1 0-2 0 5 0 0 1-5 0 0 0-3 0 6 1-3 0-3 1 9 0-2 1-3 0 0 5 1 1-2 0-3 0 0 1 5 2-1 1 4 1 1 0-8 0 1 1-1 0 4 0-3 1 0 0 3 0-2 1-1 1 1 3 2 1-4 3 0 1 4 0 1 3-2 2 5 2-5 12 7-10-1-3 3-2-1-7 3 0-2-2 2-2 0-1-5 0 4 0-4-1 4 0-4-1 3-1 2 0-3-4 0-3-2-1 2-2 0-1 2 0-2-1 0-1 3 0 0 0 0 0-4 0-1-1 1 0-1-1 1 0 2-1 0-3-2-1 4-2-2 0 1-4-1-2-1-1-2-1 1-10 1 0 1 0-1-1-2 0 0 0 0-1 4 0 1 0-1-1-2 0 1-1 0 0-2-1 1 0 2" fill="none" marker-start="url(#m2)" marker-mid="url(#m2)" marker-end="url(#m2)"/>
<path transform="scale(.5)" d="M97-2l-11 6 33 13-17 1-11 0-32-8-1 0-9 8 3 3 3 8 3-5 20 1 0 3 8-7 2-1 9 0 5 5 7-4 1 5 4-6 3 9 30 2-27 3-8-1-1 3-5-2-1-3-3 6-2-4 0 4-2 1 0 1-2-8-2 8-2-8-3 8-1-6 0 2-1-3-1 6-1-8-1 4-1 0-1 3-5 2 0-8-7 6-2-7-1 3-3-1-7 1 0 6-4-4 0-4-51 7 52 5 5 3 3-6 0 3 3 6 5-5 1 4 1-6 2 6 0 1 1-4 4 2 3 0 1-6 0 7 0-1 1-4 0 4 0-6 2-1 1 6 1 3 2-5 0 5 2-2 1-4 0 5 0 1 1-2 1-5 1 3 1-1 0 5 1-5 0-2 1 7 2-3 0 2 0-6 2 0 0 4 1 1 0-3 1-1 1 3 0 2 3-5 1 4 1-4 0 6 12 0 1-5 19 9-1 3-13 3-1 0-1-4-3 0-2-4-1 5 0 1 0-3-1 5 0 0 0 0-1 0 0-8 0 0-1 2 0 5-3-6 0-1-1 4 0 1-1-1-1 0 0-1 0 0 0-1-1-2-1 3-1-3-1 3 0-4-1 3-1-3 0 3-2-3 0 0-12 0-2 7-1-2 0 1-2 3 0-8-2 6 0 1 0-5-1 6 0-6 0 4 0 2 0-3-1-3-1 6 0-5-1-2-1 5 0-6-1 2-2 6-1-1 0-5-2 2 0-3 0-2-2 9-1-9-1 6-1-3-1-2-1 0 0-1-1 7-1 1-1-3 0-5-1 3-1 2-1 3-1 1-1-9-9 6-11-4 2 17 13-9 4 9 1-3 2-3 2-1 1 3 0-5 2 2 1 7 2-4 0-5 1 3 1-1 0 3 1 4 0-4 1-3 0 5 2 1 0-5 0 4 0-4 1-1 1 2 0 5 0-8 1 8 0-4 0 2 0-3 0 4 0-4 1 5 0 0 1-7 0 3 1 2 0-4 0 3 2-4 0-1 0-1 37 3 0 6 2-1 0-3 0 0 2 0 0-5 4 1 0 8 0-8 1 8 0-1 5 1 1-5 2 2 5-3 3 0 5 10-1-1 0 1-4 3-3 0-2 0 0-4-1 3 0-1 0-4-1 5 0-1-1-3-1 5-1 2 0-7-1 3 0 1 0-4-1 1-1 7-1-8 0 6 0-5 0 5-2-1 0 3-1-2 0 0-1-5 0 6-1-6 0 2 0 2-1-3 0 4 0-4-1 0 0 0 0 0-1-3 0 5-2-3-41-1-3-1 0 3-1-3-1 5-1 1-1-5 0 7 0-4-1 3 0-5 0 1-1-1-2 5-1-1 0 3 0-1-1 0-1-6-2 6-2-1 0 2 0-1 0-1-5 0-3-4 0 3 0-6-2 3 0 2 0 1-1-3-2 5-32 7 35-3 1 5 7 0 3-2 2-2 2 5 0-5 0 3 0 1 0-6 1 5 1 2 0-3 59-5 2 1 2-1 4 1 1 1 1 2 1-1 0 0 2 4 6-7 4 7 2-7 9 12-3-1-2 5 0 1-2-3 0-4-5 7 0-5-2 4 0-4-1 6-1-2 0-6-1 4 0 1 0 1-81-4-3 0 0 0-1 0-1 5-1-4 0 1 0-2-6 1-3 2 0 2 1 7 0-3 4-1 1 6 4 1 1-7 88 6 0-1 1-1 0 0 1 2 1-6 1 6 0 1 1-2 1 1 1 2 2 0 2 0 1-1 0 0 0-2 3 1 1 3 1-1 1-1 9 3-11 6 0-3-1 4 0-4-4-2-2 1 0 5-1 2-1-7-1 5-1 2-1-1-2-6-1-2 0 2-88 6 0-3-10-1-7 15 9-7 5 0 1 6 3-1 0-4 0-1 0 4 0 0 1 1 92 0 1-4 1 1 0-1 1 2 1-4 0-1 0 4 1 4 2-4 1 5 4-2 3 0 21 2 13 6-18 2-11 2-6-5-4 5 0-3-1-2-1 2 0 0-1-1 0-2-1 0-1-2 0 5-104 2-1 0-2-3-2-2 3 16 110-2 2-5 0 2 3 4 2-7 0 5 6-6 4 1 15 4-13 7-2 3-2-3-1 5-1-6-1 6 0-4-8-2 0-1-1 1-2 0 0 7 0-1-100-6-5 2-22 9 124 3 0 0 2 1 3-5 1 2 1-3 1 5 0 3 0-8 0 4 3 0 2 2 4 1 1-2 3 3 0-8 2 1 0 3 7 9-4 5-4-6-1 2-2 4-2 0-4 1 0-8-1-1-3 9-1-5 0 0-1 3 0-4-1-2-2 4 0 2-1-6-2 0-94 5-2-3 96 11 2 4 0 0 1-8 0 6 0-4 1 5 1 1 1-3 0 2 1-5 0 2 0 0 1-4 0 2 1 0 2 5 7-7 17 12-17 2-10-1-2 3-1 0 0-4-1 1 0 6 0-6-2 5-1-6 0 4-1-4 0 3-2 2-1-3 0 4 0 1 0-7-1 5 0-3 0 1-1 2-84-6-2 4 11 8 4 5 42 0 16 1 0-1 1-1 1-2 2 3 0-3 1 3 1 1 0-2 1 0 1-3 0 1 0 2 0-1 0-1 1 2 1-5 0 5 1-7 0 3 1 1 1-1 1 1 0 3 1 0 0 2 0-2 0 0 0-3 4-4 1 5 2 4 2-9 4 5 8 4 8-9 5 7-11 8-7 0-6-1 0 1-9 0-1 0-2-3-3 2-1-3-2 0-1 0-1 4 0-2-1 2 0-5-2 0 0 3 0 0-2 1 0-1 0 1-1-3 0 2 0 2-1-1 0-4 0 4 0-3-11-1-2 1 0 0-1 3-1-4 0 4-1 0-51-2" fill="none" marker-start="url(#m3)" marker-mid="url(#m3)" marker-end="url(#m3)"/>
<path transform="scale(.5)" d="M80 8l28 2-7 5-3 2-10-6-14 8-14 6 5-2 3 2 0-2 2 4 5-3 0 2 0-1 2-1 3 5 3-8 4 5 5 1 2-1 6 3 1-9 1 7 1-6 0 7 1 0 1-8 9 19-5-2-2-3 0-3-2 1-1 1 0 6-2-2-1 1-4 1 0-6-1 3-1 2 0-5-3-3 0 3-2-2-1 3-3 2 0-2-1-2-2 2-2 4 0 1-1-3-1-1-1-4 0 8-1-2-1-2-3-4-3 0-1 8-7 0-3-9-3 7 0 0-4-7-1 3-4 5 7 5 1-3 1 4 4 2 3-2 1 3 0-1 1 2 1-1 0-5 1 2 2 2 1-5 2 7 0-6 0 2 1 4 0-2 1-4 0 1 1 0 1 1 0-2 2 7 2-8 0 3 0 5 1-8 1 8 0-1 5 1 0-8 1 4 1-3 0 2 2 3 0-2 1 4 1-2 0-5 2 6 1 0 1-5 1-3 1 0 0 7 1 1 0 0 0-4 2-1 0 6 0-4 5 1 1 3 0-2 2-7 0 2 4-2 9 2 6 2-5 9-5 6-2-6-1 4-2 0-1-6-1 5-1-5 0 2-1 2-1-4-1 1-2 1-3-2-11 4-1 1-1-1 0 0 0 4-1-1-1-5 0 3 0-4 0 5-1-4 0 0 0 3 0-4-1 6 0-3-1 2 0-4 0-1 0-1-2 4 0-5 0 7-1 0 0-3 0-1 0 0-1 1 0 3 0 1-1-5 0-1-1 6 0-5 0-3-1 5-1-1 0 0 0 0 0 4 0-3-1 3 0-7-1 1 0 7 0-4-1 0 0 0-1 2 0 2-2-2 0 2 0-8-1 4 0-5 0 6-2 1-3 1-1-2-2 0 0-6-1 3-1 3 0-1-3 1-2-5-1 1-1 2-7 5-3-3 1 12 4-8 3 4 2-1 1-2 3 7 1-4 1 5 0-3 1-1 0-1 1 0 0 4 0-3 0-3 1 2 2-2 1 6 1-2 0-5 1-1 1 7 0-6 0 8 1-5 0-3 0 3 1 5 0-4 0 4 0-2 1-5 0 3 1-3 1-1 0 7 1-3 1 3 0 0 0-3 0-5 1 2 0-2 1 8 0-5 0 1 0 5 0-3 1-6 0 6 1 3 0-9 1 0 1 5 0 1 0-1 1-2 1-2 0-1 0 1 0 2 35-1 0 1 3 0 1 0 3 3 1-4 1 2 1 3 0-7 1 5 27 5-15 9-7-1-4-3 0 0-2 2 0 0-4-3-2 1-42-5 0 1-2 0-1-1-1 1 0 2-1 3 0-2 0 0 0 0-1 2-1 1 0-6-1 2 0 1 0-3 0 1-1 5 0-6-1 6 0-2 0 4-1-1 0-1-1-5 0 6-1-5 0 6 0-5-1 1 0-2 0 3 0 0 0-3-1 6 0-8-1 1-1 2 0 1 0 2 0-1-1 3-3-4 0 0-2-4-1 5-1-6-2 4-1 2-3 1-7 7 3 5 2-3 2-6 4 5 2-3 2 0 1 6 0 1 2-1 1-6 0 4 1-4 1 0 0 7 0-5 0-1 1 4 0-6 1 1 0 1 0 0 0-2 0 3 1 2 0-6 0 8 1-6 0 2 1 1 0 1 0-6 0 0 1 0 0 5 0 0 0 0 0-3 1-2 60 0 2 1 13 10-79 0-2 1 0 0-1 4 0-6-1 6 0-2-1-3 0 7-1-7 0 4-1 3 0-1 0 2 0-9 0 8-1-4-3-2-1-2-1 2-4 1-7 4 10 4 0 8 0-9 2 1 2 1 0 7 0-1 1-7 0 5 1 2 1-3 91-2 23 8 0 0-13 5-7-6-92 7 0-3-2 2-1-4 0 2-2-3 0 8-2-1-1-3-2-3-1-1-5 3-2 4-1 0 0-8-6 8-4-7 20 16 2-1 0-6 1 4 1 4 2-7 2-1 1 6 1 0 0 1 1-3 93 0 16 6-12 5-99-4 0 1-1 2-1 5-1-8 0-1-1 3-1 4-1-7 0 1-1-1-2 2-11 3-1 0-3-3 14 13 1-4 3 3 1 4 5 0 129-1-25 6-99 0-5 6-19 4 9 4 3-5 7 1 2 1 2 2 3-5 0 0 93 7 9-2 0-4-98 15-2-7-1 4-4-1-29 12 33-1 5-4 0 7 96 7-8 0-85 2-36 7 34 4 10-1 43 3 2-1 14 0 1 0 2 0 0 1 3-1 1-4 0 4 0-4 3 0 0 0 3-1 0 4-2 5-3-2-4 3-1-1-1-1-1 3-2-3-1-1-10 2 0-1 0 1-1-1 0 2 0 1 0-4-1 5-2-1-41 1-8-3" fill="none" marker-start="url(#m4)" marker-mid="url(#m4)" marker-end="url(#m4)"/>
<path transform="scale(.5)" d="M37 14l14 14 43 7-8-3-1 7-7-7-4 4-19 1-3-1-12-3-4 9 31 0 0 2 2 5 6-5 0 2 0 0 2 0 2 2 1 1 1-7 8 0 4 2 0-3 1 8 2-9 5 3 3 2-11 5-1 3-5-2 0 5-2-3 0-1 0 7-1-9-1 3 0 0 0-3-3 7-1-2-1-2 0 3-1 0-1 2-1 0-1-8-1 1-1 8 0-1 0-1-2-6-3 5 0 1-7 1-3-1-1 0-4-1-17 11 3-3 3 5 3-1 6-6 1 5 1-2 0-2 2 4 2-1 1-3 0 3 1 3 1-3 0 0 1-3 2 3 0-2 1-4 0 5 0 4 0-4 1 1 2 1 1-6 0 6 0 2 0-8 1 8 1-1 0-6 0 2 0 2 1 1 0-1 1-2 0 5 0-2 0-4 1 6 1-5 1 5 0-9 1 8 0 0 0-7 0-1 1 6 0-1 1-3 0 2 1-3 0 7 1-7 0-1 0 1 1 1 0 0 0 7 1-3 0 0 0-2 41 5 8-6-54 7 0 5 0 0-3-1 0-2 0 1 0 4-1 1 0-3 0 0-1 2 0-2 0 3-1 1 0-9 0 9-1-1 0-3 0-3 0 3 0 4-1-4 0-2-1 5-2-7 0-1-1 0 0 1-1 2 0 2 0-2-1-3 0 0-1 5 0 0-1 0-1 0-1 0 0 4 0-7 0 0 0 7-2-3 0-2-5-3 0 4-2 3-5-1-3-5-19 3 17 7 3-2 3 9 1-1 1-5 3 6 4-3 0 3 0-6 1 1 0 5 1 0 2-8 0 8 1-5 0-2 1 4 1 3 0-3 0-6 0 2 1-1 0 8 0-5 0-3 0 6 0-4 0 5 0-5 1 5 0-3 0-2 1 2 0-5 0 4 0 4 1-5 0 5 0-3 1 2 0-1 0-2 1 3 1-6 0 0 0 7 1 0 0-3 1-5-4 12 0-1-1 0 0 1-3 3-1-5 0 4 0 5 0-5 0-4-1 7-1-2-1 0 0 4-1-7 0 6-1-1-1 1 0 1-1-2-1-2 0 0-1-3 0 0-1 1-1-2-2 2-1-2-1 7-1 1 0-4-2 3-7 11 8-4 4-2 1 2 1-2 1-1 2 1 1 4 0-3 0 4 0-1 0-2 1 0 1-2 0 4 0-5 0 7 1-8 0 7 1-2 0-1 0-2 0 1 1 2 0-2 0-1 1 5 1-7 0 1 0 1 0 15-1-5 0 1-1 2 0-1 0-5 0 0 0 6-2 1-2-5 0-1-2 5 0 0-1-3-1 5-1-1-1 1-12 8 6-3 2 0 1-3 2 6 0-2 0 2 3-3 3 1 0 0 2 3 0 2 0 0 0-9 0 4 1-2 0-2 0 7 1-1 0-1 0-2 0 3 1 1 2-5 0 5 0-4 0-3 2 6 107 7-109 0 0-2-1 0 0 3-2 0-1 2 0-6-1 1-1 5-2 0 0-2-1 2-2-1 0 1-1-5-1 2 5 10 1 6 4-6 0-2 0 0 0 8 1-9 1 8 0-5 1 3 1 3 0-6 4 6 0-1 1 5-1 5 0-4 0-1 0-1 0 2 0 4 0-3-2-1 0-2-2-2 0 9-2-8 0 6-1 0 0-5-2 7-1-8-2 7-1-5 0-1-2 7-20-1-32 0 58 10 1-7 1 3 1 4 2-5 1 3 3 0 1-6 1 2 0 5 0-7 0 8 1 1 98-2 5 10-101 1 0 1 0-6-3 4-2-5-1 7-1-9 0 0-1 1-2 1-5 0 2 11 1 0 6-1 0 2 2-4 2 2 1 0 0 1 2 5 1-3 1 3 0 0 1-1 91-6 4 16-1 2-9-3-80 2-2-3-1 1 0 3-3-9-1 0-1 5-2-5-11 3-1-1 17 15 4-2 2-5 0 1 0 1 2 6 2 0 0 0 2 1 58-1 6-4 0 2 5-3 7 2 0-4-18 14 0-3-3-1-10 4 0-5-2 4 0-1 0 0-1-2-1 0-1 3-39-1 0 0-1-3-1 0-1 4-1-1-5 2-9 0" fill="none" marker-start="url(#m5)" marker-mid="url(#m5)" marker-end="url(#m5)"/>
<defs><path id="c25" d="M58.2 91l0.7 1.2 3.3-0.6 3.2 0.5 1.8-1.1 1-4.7 0.5-0.6 3.3-3.9 0.1-0.3-0.1-0.9-0.7-3.8-0.3-4.8 0-4.7 0.2-4.8-1.8-4.7-0.6-4.7-0.1-0.3-2-4.5-1.3-3.5-0.4-1.2-2.8-3.4-1.2-1.4-2.1-2.6-2.1-2.1-1.2-1.4-3.2-1.6-3.3 0.5-3.2 1.6-0.9 0.9-1.6 4.7-0.8 3.2-0.4 1.6-1.1 4.7 1.5 4.5 0.1 0.3 0.1 4.7 1.2 4.7 1.9 4.2 0.1 0.6 1.6 4.7 1.2 4.8 0.3 0.7 2.6 4 0.7 3 3.2 1.8z"/><path id="c26" d="M57.8 81.5l1.1 1.9 3.3 0.5 1.5-2.4 1.7-2.2 1.4-2.5 0.9-4.8-0.1-4.7-0.1-4.8-1.1-4.7-1-4.7-1.9-4.8-1.3-2.6-1.7-2.1-1.6-2.1-3.3-2.4-2.7-0.3-0.5-0.1-0.5 0.1-2.8 0.5-2.8 4.3-0.4 1.3-1.5 3.4 1.5 4.8 0.5 4.7 1.6 4.7 0.6 4.8 0.5 1.2 2.2 3.5 1.1 2 2.4 2.8 0.8 1.4z"/><path id="c27" d="M54.2 72l1.4 1.9 3.3 1 3.2-2.9 0.1-0.5 0.9-4.2 1.4-4.8-2.3-4.7-0.5-4.7-2.8-4.8-2.3-4.7-1-1-3.2 0.1-2 0.9-0.7 4.7 0.3 4.8-0.5 4.7 2.1 4.7 0.8 2.8 0.7 2z"/><path id="c28" d="M55.4 62.5l0.2 0.6 3.3 1.6 1.3-2.2-1.3-4.2-0.4-0.5 0.4-1.9 0.1-2.8-0.1-0.2-3.3 0.2-1 4.7z"/><path id="c29" d="M44.2 110.3l1 0.7 4.2 1.7 4.2 0.1 4.2-0.5 4.2-1.2 2.1-0.8 0-5.2 1.4-5.1 0.5-5.2 0.1-5.1-0.5-5.2-0.6-5.2-0.3-5.1-2.3-5.2-0.4-0.7-1.5-4.4-2.2-5.2-0.5-1.1-1.3-4-2.4-5.2-0.5-0.9-4.2-3.6-0.3-0.7-3.9-4.1-4.2-0.5-4.2 2.3-1.1 2.3-3 2.8-1.6 2.4-1.2 5.2 0.7 5.1 0.9 5.2-2.1 5.1 3.3 4.6 0.2 0.6 0.7 5.1 1 5.2 2.2 5.2 1.4 5.1 2.3 5.2 0.5 0.7 3.2 4.4z"/><path id="c30" d="M47.4 100l2 2.9 4.2 0.8 4.2-2.5 1.2-1.2 2.1-5.2 0.4-5.1 0.5-2.4 0.4-2.8-0.4-1.9-0.6-3.3-1.3-5.1-2.3-5-0.1-0.2-2.3-5.1-1.3-5.2-0.5-0.8-4.2-4.1-0.2-0.2-4-5-4.2 0.4-4.2 4.6-1.8 5.1-0.3 5.2-0.3 5.1 2.4 5.2 0 0.3 0.8 4.8 0.8 5.2 2.1 5.2 0.5 0.9 4 4.2 0.2 0.5z"/><path id="c31" d="M45.2 89.7l4.2 3.7 4.2 0.3 2.4-4 0.4-5.2 1.2-5.2-1.5-5.1-2.5-4.8-0.1-0.4-2.2-5.1-1.9-3-3.3-2.2-0.9-0.9-2.3 0.9-1.9 0.9-2.6 4.3 0.4 5.1 0.7 5.2 0.8 5.1 0.7 3.1 1 2.1 3.2 5.2z"/><path id="c32" d="M45.2 79.3l4.2 1 0.7-1 1.6-5.1-1.1-5.2-1.2-2.4-4.2-2.6-2.2 5 2.2 4.6 0.6 0.6z"/><path id="c33" d="M52.7 99.2l2.1 2.9 5.2-0.4 5.1 2.6 5.1 0.5 5.2-2.6 3.3-3 1.8-5.6 2.3-5.6-2.3-4.5-0.3-1.1 0.3-1.3 1.9-4.4-1.4-5.6-0.5-0.7-2.1-4.9-1.8-5.6-1.2-2.3-1.3-3.3-1.3-5.6-2.3-5.6-0.3-0.5-5.1-2.3-3.3-2.8-1.8-2.6-0.8-3.1-4.4-4.7-2-0.9-3.1-2.2-3.2 2.2-2 4-0.6 1.6-3.1 5.7-0.1 5.6-0.5 5.6-0.1 5.6 0 5.6 1 5.6 2.3 5.6 1.1 3.2 0.3 2.4 0.9 5.7 2.2 5.6 1.8 3 1.3 2.6z"/><path id="c34" d="M65.1 93.6l5.1 1.7 2.2-1.7 0.2-5.6 2.8-2.4 1.2-3.2-1.2-4.2-0.4-1.5 0.4-1.3 1.4-4.3-1.4-2.1-2-3.5-1.4-5.6-1.8-2.5-4.1-3.1-1-2-1.5-3.6-3.6-3.2-1.4-2.4-3.2-5.6-0.6-2-5.1-1.6-2.7 3.6-1.8 5.6-0.5 5.6-0.2 1.5-0.7 4.1 0.6 5.6 0.1 0.8 0.3 4.8 1.3 5.6 1.6 5.6 2 5 0.2 0.7 2 5.6 2.9 4 5.2 0.2 5.1 1.4z"/><path id="c35" d="M53.7 82.4l1.1 2.6 5.2-1.7 5.1-0.9 3.8-5.7-1.1-5.6-2.7-5.1-0.3-0.5-0.7-5.6-4.1-5.3-0.2-0.3-2.5-5.6-2.5-5.1-5.1 2.3-1.2 2.8 0.1 5.6-1.1 5.6 1.1 5.6 0.1 5.6 1 2.2 1.4 3.4z"/><path id="c36" d="M53.7 65.5l1.1 5.6 1.8-5.6-1-5.6-0.4-5.6-0.4-0.6-0.4 0.6-0.5 5.6z"/><path id="c37" d="M65.5 110.9l3.7 1.2 2.4-1.2 0-6.4 2.6-3 2-3.4 1.7-6.4 0.6-6.4-0.3-6.4-0.8-6.4-1.5-6.4-1.7-4.1-0.7-2.3-1.7-6.4-2.6-4.3-1.2-2.1-3.9-5.2-1-1.3-4-4.6-1.8-1.8-3.2-5.4-5.1 1.5-5 1.5-2.8 2.4-1.3 6.4-1 3.8-1.1 2.7-0.2 6.4 0 6.4 0.7 6.4 0.6 1.7 1.8 4.7 2.2 6.4 1.1 1.5 2 4.9 3 6.4 4.3 6.4 0.8 0.7 5 1.7 5 3.3 1.4 0.7z"/><path id="c38" d="M55.1 91.7l4 3.4 5 0.5 5.1-1.1 2-2.8 0.8-6.4 1.1-6.4-0.5-6.4-1.1-6.4-2.3-4.9-0.7-1.5-2.1-6.4-2.3-4-1.7-2.4-3.3-3.9-5-2.2-0.8-0.4-4.3-2.4-3.2 2.4-1.8 3.9-0.6 2.6-0.9 6.4-0.2 6.4 0.5 6.4 1.2 2.1 1.4 4.3 3.6 6.4 1.5 6.4 3.6 5.1z"/><path id="c39" d="M57.2 85.3l1.9 2.3 5-1.3 0.7-1 1.9-6.4 0.1-6.4-0.9-6.4-1.8-4.7-1-1.7-4-6.4-5-2-5.1 2-1.9 6.4 1.2 6.4 0.7 2.7 1 3.7 4 6.4 0.1 0.1z"/><path id="c40" d="M57.2 72.5l1.9 0.8 0.8-0.8 1.8-6.4-2.6-3.9-5-2.5-1.2 6.4 1.2 4.9z"/><path id="c41" d="M58.6 110.6l1.8 0.1 0.2-0.1 0-5.8 3.7-5.9 1.4-1.1 3.4-4.7 1.9-4.7 0.5-1.2-0.5-2.1-0.5-3.7 0-5.9-1.3-5.8-1.1-5.9-0.5-5.8-1.9-3.7-1.1-2.2-3.6-5.8-0.6-1.4-3.1-4.4-2.2-1.9-2.7-4-2.6-3.5-5.3-2.3-4.4 5.8-0.9 1.9-5.3 4 0.9 5.8-0.9 5.4-0.2 0.4 0.2 0.6 0.8 5.3 1 5.8 0.1 5.9 2.7 5.8 0.7 1.8 1 4.1 3.1 5.8 1.2 1.9 2.4 4 2.2 5.8 0.7 0.7 5.3 4.8 3.5 0.4z"/><path id="c42" d="M59 93.1l1.4 0.3 0.3-0.3 3.5-5.9 1.5-3.4 0.9-2.4 0.4-5.9-1.3-3.5-1-2.3-1.2-5.9-0.9-5.8-2.2-3.6-1.1-2.3-3.1-5.8-1.1-1.3-4.8-4.5-0.5-0.8-5.3-1.7-1.5 2.5-3.1 5.8-0.7 2.1-1.3 3.7 1.3 4.3 0.4 1.6 0.2 5.8 1.4 5.9 1.2 5.8 2.1 5.9 4.9 5.8 0.4 0.5 5.3 4.7z"/><path id="c43" d="M51.5 81.4l3.6 3.2 5.3-2 0.5-1.2 0.2-5.9-0.7-2.1-0.8-3.7-0.2-5.9-2.3-5.8-2-4.4-0.8-1.5-4.5-4.3-5.3 1.3-1 3 1 5.9-1.5 5.8 1.5 3.3 1.3 2.6 1.4 5.8 2.6 3.9z"/><path id="c44" d="M48.3 63.8l1.5 3.7 4.5-3.7-4-5.8-0.5-1-0.4 1z"/><path id="c45" d="M55.9 110.2l1.9 1 2.4-1 0-5 1.9-1.5 2.8-3.6 1.5-4.1 0.4-0.9 2-5.1-1.5-5 2.3-5-2-5.1-1.2-2-1.4-3-0.7-5.1-2.2-4.8-0.1-0.2-1.5-5.1-2.7-2.8-2.1-2.2-2.3-3-2.6-2.1-1.7-2.5-1.7-2.5-2.6-1.8-4.3 1.8-3.6 5-0.8 1.4-2.7 3.7-1.2 5 0 5.1 0.4 5 0.4 5.1 1.6 5 0.6 5.1 0.9 2.5 1 2.5 2.9 5 0.5 0.6 3 4.5 1.3 2 4 3 0.3 0.3 4.3 2.9 2.5 1.9z"/><path id="c46" d="M50.7 95.1l2.7 1.9 4.4-1.2 0.8-0.7 3.5-2.4 1.5-2.7-0.4-5 0.3-5-1.2-5.1-0.2-0.5-0.8-4.5-1.1-5.1-2.4-3.7-0.7-1.3-2.3-5.1-1.4-1.5-4.3-3.5-4.3-2.6-3.9 2.6-0.4 0.6-3 4.4-1.2 5.1-0.2 1.5-0.4 3.5 0.4 1.6 1.3 3.5 0.7 5 1.1 5.1 1.3 2.1 1.7 2.9 2.6 2.7 1.7 2.3 2.6 4.1z"/><path id="c47" d="M48.5 85l0.6 0.8 4.3 0.4 4.4-0.7 0.2-0.5 0.9-5-0.5-5.1-0.6-5-3.6-5.1-0.8-1.7-1.6-3.3-2.7-3-4.3 1.2-2.7 1.8-0.7 5 0.9 5.1 0 5 2.5 3.9 0.9 1.2z"/><path id="c48" d="M51.6 74.9l1.8 3 1.1-3-1.1-5-4-5.1-0.3-0.6-4.3-0.4-0.6 1 0.6 4.6 0.1 0.5 4.2 3.3z"/></defs>
<g fill-rule="evenodd"><use href="#c25" fill="#fff"/><use href="#c26" fill="#8000ff" fill-opacity="0.15"/><use href="#c27" fill="#8000ff" fill-opacity="0.15"/><use href="#c28" fill="#8000ff" fill-opacity="0.15"/><use href="#c29" fill="#fff"/><use href="#c30" fill="#1996f3" fill-opacity="0.15"/><use href="#c31" fill="#1996f3" fill-opacity="0.15"/><use href="#c32" fill="#1996f3" fill-opacity="0.15"/><use href="#c33" fill="#fff"/><use href="#c34" fill="#4df3ce" fill-opacity="0.15"/><use href="#c35" fill="#4df3ce" fill-opacity="0.15"/><use href="#c36" fill="#4df3ce" fill-opacity="0.15"/><use href="#c37" fill="#fff"/><use href="#c38" fill="#b2f396" fill-opacity="0.15"/><use href="#c39" fill="#b2f396" fill-opacity="0.15"/><use href="#c40" fill="#b2f396" fill-opacity="0.15"/><use href="#c41" fill="#fff"/><use href="#c42" fill="#ff964f" fill-opacity="0.15"/><use href="#c43" fill="#ff964f" fill-opacity="0.15"/><use href="#c44" fill="#ff964f" fill-opacity="0.15"/><use href="#c45" fill="#fff"/><use href="#c46" fill="#ff0000" fill-opacity="0.15"/><use href="#c47" fill="#ff0000" fill-opacity="0.15"/><use href="#c48" fill="#ff0000" fill-opacity="0.15"/></g>
<g fill="none" stroke-width="1.20" stroke-linejoin="round"><g stroke="#8000ff"><use href="#c25"/><use href="#c26"/><use href="#c27"/><use href="#c28"/></g><g stroke="#1996f3"><use href="#c29"/><use href="#c30"/><use href="#c31"/><use href="#c32"/></g><g stroke="#4df3ce"><use href="#c33"/><use href="#c34"/><use href="#c35"/><use href="#c36"/></g><g stroke="#b2f396"><use href="#c37"/><use href="#c38"/><use href="#c39"/><use href="#c40"/></g><g stroke="#ff964f"><use href="#c41"/><use href="#c42"/><use href="#c43"/><use href="#c44"/></g><g stroke="#ff0000"><use href="#c45"/><use href="#c46"/><use href="#c47"/><use href="#c48"/></g></g>
</svg>
<svg x="155.04" y="228.55" width="108.00" height="108.00" viewBox="0 0 108.00 108.00">
<path transform="scale(.5)" d="M72 27l2-2 5 4 4-3 5 10-7-1-2-1-2 5-1-2-2-6-3 12 2 1 0 3 0-5 1 6 0 0 1-2 1 1 0-1 1-3 0 2 0 2 1 1 1-7 0-1 0 6 0 2 0-1 2-5 0 5 0-3 2 0 1 2 0 0 0-4 0 0 2 5 0-7 0 4 1 4 0-1 1 0 0-2 1 0 3 2 11-5-15 10-1 5 0-3-1-1 0 6-1 0 0-3 0-5 0 6-1-2 0 2 0 0 0 0 0-5-1 4 0-5 0-1 0 0-1 3 0 3 0-4-1 3 0-2 0-2-1 4 0-1 0 0 0-4 0 3-1 3 0-3 0-2-1 3 0 1-1-3-1 5 0 2 0-3 0-6-1 3 0 6 0 0 0-9 0 0-1 6 0 3 0-2 0-2-1 2-1 2 0-6 0 6-1 0 0-6-1 3 0 3-6-3-3 13 7-6 1 1 0 1 1 0 0-4 0 0 1 0 1 6 0-1 0-3 0 2 0 0 0 2 1 2 0-3 0 1 0 2 0-6 1 4 0-5 0 7 0-5 0 3 0-2 0 1 0 1 0-2 0 4 1-6 0 0 0-3 0 3 0 1 0-3 0 0 0-1 10 1 1-1 0 3 1 2 0-3 1 3 0-4 1 4 1-1-17 6-1 1 0 1 0 0 0 0 0-1-1 0 0-1 0 0-1 1 0 0-1 3-1-2 0-2-1 7 0-1 0-5-1 0 0 1-1 5-5-3 2 15 0-4 1-2 1-2-4 12 34 122-5-3-1 2-21-3" fill="none" marker-start="url(#m0)" marker-mid="url(#m0)" marker-end="url(#m0)"/>
<path transform="scale(.5)" d="M108 9l25 0-15 9 0-5-18 5 9 10 11 1 3-2 4-1 0 0 0 0 0 0 3-1-4 12-5 2-3 0 0-2-6-4-11 15 0 0 5-2 2-6 2 5 1-3 0-2 2 5 1 1 1 3 2-2 0-4 7 6 0-1 3 1 1-8 1 1 0-1 2 0 0 3 7 5 13 3-8 6-6-2 0 3-1-1-1-8-2 3 0-1-1 5-1-4-1-1 0 1-2 0 0 6 0 0-1-4 0-1-3 3 0 2-1-1 0-7-1 8-1-9 0 7-1-2-1 4-1-7 0 2 0-1 0 6-1-3 0-3-1 4-1-6 0 3 0 1 0 0 0-3-1 4 0 3-1-7 0 7-4-4-1-3-2 3-5 1-1-4 0-2-1 5-2-1 6 7 3-1 1 0 0 1 4-1 1 1 1 4 1-2 0 4 0-3 0 1 1-5 0 4 1-1 0 5 1-3 1 4 1-7 0-2 0 0 0 8 1 1 0-3 0 2 0-4 1 4 0-3 0 2 0-5 1 5 0-4 0 6 1-7 0 6 0-4 1 4 0-7 1 7 0-1 0-6 0 4 0 2 0-1 0-1 1-5 0 4 1 2 0-4 0 5 1-5 0 7 0-5 0 4 0-7 1 7 0-7 1-1 0 9 0 0 0-3 0 3 2 0 0-6 0-1 2-1 0 7 2-2 0-5 1 0 0 7 1-4 1 5 1-1 13 7-3-5-1 0-7 4 0 0 0 2-1-5 0 3-5-1 0-2 0 2-1 5 0-4-1 0 0 2 0 0-1 1 0-6 0 2-1 1 0-4 0 5-1 4 0-1 0 0-1-5 0 4 0-1-1-4 0-2 0 6-1-4 0 0 0 3 0-4-1 7 0 0 0-4 0-1 0 6-1-3 0 0 0 1-1-2-1 4 0-5 0 0 0 1 0 0-1 0 0 4-1-3 0-3 0 5 0-8 0 3 0 2-1 2 0-3 0-1 0-3-1 3 0-2 0 4 0-1-1-2-1-2 5 11 0-1 1 0 0 0 1 1 1 0 0 4 0-1 0-2 0 3 0-2 1 3 0-5 0 2 0 2 0-5 0 0 1 6 0-5 0 3 0-1 1 5 0-5 0 6 0-7 1 1 0 2 0-4 0 6 0-5 1-1 0 4 0-1 0-1 0 3 1-5 0 4 0 4 1-5 0-2 0-1 0 0 1 7 0-6 0 0 0-1 0 5 1-2 0 5 0-2 0-5 1 2 0-3 0 2 0 1 0-1 2 1 0 4 1-1 0 0 2 0 0 0 0-1 4-3 1 4 1 0 3-5 6 14-8-4-1-2-3 1-3 1 0 6-1-7 0 8-1-8-1 0 0 4 0 2-1-5 0 6 0-8-1 2 0-2-1 8 0-6 0 3-1-1 0-3 0 5 0-1 0 2-1-5 0 2 0 0 0-2-1 0 0 1 0 1-1-4 0 2-2-2 5 18 0 0 0-5 0 0 1-1 0 6 0-5 0-3 0 6 0-1 0 3 0-7 0 0 0 8 1-5 0-3 0 7 0-1 0-1 0 1 0 0 1 0 0-7 0 3 0 4 1-2 0-5 0 4 0-4 1 0 0 1 0 0 1 3 0-2 0 4 0 2 0-2 0 0 2 0 1 2 1-5 1-3 0 7 2-7 1 8 1 0 0-4 2 7-3-1-4 7 0-1-1-3 0 0-1 3-1-1-1-2 0 5 0-4-1 4 0-6 0-2 0 2 0 2 0-1-1-3-1 3 0 3 0-3 1 9 0 0 1 1 0-2 0 4 1-2 0-3 0 1 0 4 0-4 1 4 0 2 0-5 0 2 0 0 0 2 0-1 1-4 0 6 0-2 1 1 2-1 0 1 1 0 1 2 3-3 3-4 0 6-2 9-1 2 0-7-1 1 0 0-1 5-2-4-1 0-1 6 0-4 0-5 0 2 0 4-1-3 0 1-1 1 0-3 0 2 0 1-1-1 0 5 0-5 0 3-1 0 0-2 0-1 0 3 0-1 0 1 0-1 0-2 0 7 0 6 0 0 1-4 0 4 0-3 0 1 1-1 0-3 0 6 0-4 1 3 0 3 1-9 0 4 0 1 1-3 1 4 1 1 1-4 4-3 1 3 5 7-7 6-1 1 0-7 0 5-1 4 0-9-1 9 0-1 0-8 0 1 0 3-1 5 0-8-1 1-1 0 0 2-1 1-1 3-1-8 0 0 0 4 0 1 0-3 0 4 0 2-1-5 0 5 0-1 0 2 0-1 0-4-1 4 0-6 0 6 0 0 0-4-1 4-1 9 0-2 1-4 0 1 0-2 0 5 0-4 0 6 0 2 0-3 0 0 0-5 1 5 0-5 0 6 0-3 0-2 0 4 1 3 0-2 0-7 0 2 0-2 1 5 0-3 0 5 1 0 0-4 1 1 1 5 1-5 0-4 1 1 1 3 0 5 1-9 0 1 2 0 3-1 9 6-12 6-3 2 0 2-2 0 0-3 0 3 0 3 0-3-1-2 0 1-1 0 0-2-1 1 0 2-1-3 0 0 0 6-1-6 0 1 0-2-1 6 0-8 0 1 0 7 0-7 0 7 0-5-1 6 0-2 0 1 0-8 0 9 0-1-1-2 0-1 0-4 0 2 0 6 0-4 0 0-1 0 0 3-1 10 1-2 0-4 0 4 0 3 0-2 1-3 0-1 0 3 0 0 0-1 1-4 0 2 1-3 0 8 0-2 0-4 0-2 1 2 0 5 2-3 0-1 1-3 0 4 1-3 1 5 1-3 0-1 2 4 0-6 1 0 6 2 5 11-13 1-1-1 0 2 0-3 0 3-1-4-1 4-1 2-1-3 0 1 0-2 0 5 0-5-1 4-1-6 0 7 0-7 0 0-1 1 0 1-2-2 0 0 0 1-1 3 0 0 0-2 0 0-1 2 0 3 0-3 0 0 0 2 0-1 0-5-1 4-33 14 1-2 2 2 0-1 0 1 1-2 1 2 25 0 0 0 1-2 0 0 0 1 1-1 0 2 1-3 0-2 0 5 0-4 0-2 1 5 0-2 0 1 0-7 0 4 1 0 0 2 0 0 1 3 0-4 0-4 1 6 0 1 0-6 0 5 1 2 0-1 1-7 0 3 1-2 0 6 0 0 2-8 1 6 1-4 3 6 1 1 1-8 3 9-5 3-2-3-2 5-2-2-6-1 0 3 0-1 0-2 0 1-1-1 0 1-1 2 0-3-1 0 0 3 0-3-1 1 0-2 0 3-1 0 0-4 0 0 0 2 0-2 0 2-1 1-24 1 0-3-1 0 0 2-1-2 0 4 0-1-1-4 0 4 0-4-1 2 0 1 0 0-1 1-1 0-1-3 0 2-1-3-2 4-3-4-2 5" fill="none" marker-start="url(#m1)" marker-mid="url(#m1)" marker-end="url(#m1)"/>
<path transform="scale(.5)" d="M74 0l4 8 1 0 1 1 1-9 1 6 5-1 2 4 0 6 0 4-3-7-2 5 0-4-1 1-1-3-2 8-1-4 0 4-1-8 0 7-1-1-3 2 0-7-5 7-6-1-1-3 4 8 3 0 1 3 1 1 1-2 1-1 1 4 1-4 0 0 0-2 1 3 1 2 1 2 1 0 0 0 4-1 0-5 1 3 1-3 2-2 1 6 2-1 2-4 1 1 2 4 9 6-4 4-7-6-1 5-2-2-3 4 0-6-2 5 0-1-2-1 0-5-1 6 0-3-1-1-1-2 0 2 0 2 0 3-1 1 0-3-1 0 0-5 0 1 0 2 0 1-1 2 0-5 0 0-1 4 0-3-1 5 0-6-1 4-1 1 0 0-1 3 0-8-1 8-1-1-1-7-5 5 1 12 2 1 0-6 2 3 1-1 1 1 1-1 0 4 0-6 0 2 0-1 1 4 0-6 1-2 0 1 0 0 0 4 1-4 0 0 0 5 0 2 0 1 0-1 1 0 0-6 0 1 0 6 0-8 0 5 0-5 1 3 0 5 0-6 1 1 0 4 0 0 0-3 0-1 1 4 0-2 0 0 1-3 0-2 0 5 0-2 1 3 0 1 0-8 0 4 1 4 0-6 0 4 0-6 0 2 1 6 0-7 0 3 0 3 0-2 1-2 1 4 0-3 2-1 0 1 0 1 0 4 1-8 0 6 0 2 0 0 1-5 2-2 0 7 2-8 0 0 1-1 4 10-2 9-1-6-2 4 0-1-1-2 0 1 0 0 0 4-1-4 0-2 0-2-1 0 0 2-1-3-1 6 0-2-1-4 0 7 0 2 0-6 0 6 0-5 0 2 0 1-1-2 0 3 0 0 0-4 0 1 0 3-1 1 0-3 0-2 0 3 0-3 0 4 0-2 0-5 0 8 0-8 0 2-1-1 0 4 0 1 0-1 0 1-1-6 0 6 0 0-1-4 0 0 0-3 0 6 0-1 0 2 0-7 0 2 0 0 0 4 0 0 0-4-1 2 0-2 0 1 0 1 0-3-1 1 0-1 0 4 0-3-1-1 0 0 0 5 0-1 0-2 0 2-1 0 0-4 0 4 0-1 0 2-1-1 0 2 0-2-1 2 0-2 0-2 0-3 0 9 0-6 0 1 0 4-1-3 0-3 0 1 0 5 0-5 0 5 0-5-1-1 0 2 0-2 0 5 0 0 0 1-1 0 0 1 0-2 0-4 0 6-1-1 0-7 0 5 0 3 0-5 0 1-1 1 0-5 0 6-2 2 0-1 0-6-1 0-1 2-2 1-1 3-9 0 7 11 4-4 1 4 1 0 0 0 1-4 0 2 0 0 0 1 1-1 0-3 0 4 0-1 1-2 0-5 0 8 0 1 0-5 0-1 0 6 0-4 0 1 1-3 0 6 0-3 0 3 0-7 0 3 0-3 1 4 0-4 0-1 0 2 1 2 0 0 0-4 0 1 0 0 1 1 0 0 0-3 1 0 9 1 1 2 0-2 1-1 0 5 0-1 1 0 0 0 0 1 0-3 1 2 0 0 2-4 4 1 2 0-24 10 0 0-1-1 0 1-3 1 0-1 0-1-1 6 0 0-1 0-1-6 0 3-1-2-1 5-1-2-2 5-3-1 2 10 0-7 1-1 3 0-11 17 12 112 0 0 28 0 3 0 0 6-2-3-4 0 0-1 0 1-1 1 0 1-1-2-16 2 0-1-2-2 0 0 0 1-5 1-1-1-1 2" fill="none" marker-start="url(#m2)" marker-mid="url(#m2)" marker-end="url(#m2)"/>
<path transform="scale(.5)" d="M93-2l15 6 28 13-25-7-3 0-2 8-3 0-19 0-17 11 4-8 1 7 2-2 10-5 2 4 4 0 2-5 1 4 12-4 2 1 2-1 27 9-6 10-11-8-1 2-2-2-1 5-2-1-2-2-2 4 0 0-1-5-1 1-1 5-2-7-1 3-1 0-2 4-1-5-4 5-1 1 0-2-1 0-4 2-4-4 0-4-1 0-2 8 0-9-1 3-3 1-6 5-2-8-2-1-2 4-1-2-12 15 12 0 1-6 5-1 3 9 2-3 2-2 1-1 1 5 0 1 3-2 0-3 2 2 3-2 0-1 1 1 2 2 2 1 2-4 2 5 0 1 4 0 2-7 0 7 1-4 1 3 0-1 0 0 0 1 3-2 0-4 1 0 2 5 0-4 1 0 5 0 1 6 0 0 1-6 0 6 0-5 2 4 2-6 9 3 2 1 0-2 3-2 4-2 4 1 1 7 0 1 5-2 8 5-17 3-4 2-1 2-2-4-6 1-2-2-1-4-1 2-2 7-1-6 0 3-2 2 0-5 0 6 0-2-1-1 0 1-2 2 0-1-3 1-1-1 0-1-1-2-1 4 0-9 0 1-1 1 0 7 0-6 0 4-1 2 0-9-1 4 0 3 0-3-2 4-1 1 0 0 0 0 0 0 0-5-2-1-1 2-1-2 0 2 0 2 0 2-1-8-1 5 0-4 0 1-1-2 0 4 0-4 0 5-1 2-1-5 0 5 0-4 0 3-1-6 0 8 0-7-1 7 0-3 0-1-1-1 0 2 0 2 0 0-1-5-1-2-1 4 0-4-1 6 0-4-1 3 0 0-1-6-1 9-1-9 0 3-1 1-1 1 0-2 0 0-1 1 0-4-2 3-1 2-1 2 0-2 0-4-1-1-1 1 0 8 0 0-1-3 0 3 0-1-1 1 0-9-3 8-1-4 0-3-5 5-1 1-1-7-2 0-1 3-3 1-1 3-1 2-3-4-1 0-1 0-5 10 11-2 2 3 1 3 4-9 0 5 1 2 2-1 0 0 1-1 0-5 0 2 0 5 2-7 0 6 0-6 0 9 1-3 0-6 0 2 0 7 1-9 1 4 0-2 0 0 0 3 1-1 0 1 1-3 0 2 0-1 0-1 1 3 0-3 0 4 12-6 0 3 0 1 1-3 0 3 0-1 1 2 0-4 0 3 2-3 2 0 3-1 1 1 1-1 3 0 5 1 2 1 1 0 2-1 1-1 0 1 1 5 1-4 0 0 0 0 2 6 0 0 0 0 1-4 1 1 0-3 0 4 0-1 0-2 0-3 1 5 0-1 0-2 1 1 1 3 2-2 1 1 0-2 1 5 2 0 1-3 0 2 0-1 1 3 0-2 0-4 1-1 0-2 0 6 0-5 2 5 2 1 1 1 0-8 4 0 3 1 5 3 24 5-23 3 0 7-12 0-1-4 0-3-1 5 0-5-1-1-1 2 0 5-2-5 0 4-1-1 0 2 0-3 0-5-1 4 0-2 0 6-1-6-1-2-1 5 0-3 0 1 0 0-1 3 0-4-1 7 0-8-1 4-1 1 0-3 0 1-1-2 0-1-1 0-1 0 0 0-1-1-44 1-2 0-1 0-1 2-2 3 0 0 0 2-1 0-1-8 0 2-1 0 0-2-1 2 0 2 0-3-1 4 0 0-2-4-1 4-1-3-1 1 0 6-2-7-2 7 0-5-1-1-2 1 0-2-3-1-19 5 15 6 2-1 3 8 1-1 3-3 1 0 0-4 3 8 2-3 0-5 1-1 1 5 0 4 0-1 1-1 0-2 1-5 0 0 1 4 0 4 0-4 0-1 0 0 0 2 1-2 0-1 60-1 1 2 1-3 0 3 1 5 0-7 1 0 1 7 0-5 0 0 1 1 0-3 0 6 1 2 0-7 2 2 0-3 0 3 1-2 0 7 0-8 2 4 1-1 0-4 1 7 2 2 2-5 0 1 6-3 2-1 0 8 0-5 10-3 4 4-8 6-3 5-1-5-4-1-2 8 0-8-1 7-1-6 0 5-1 3-2-9 0 9-1-4 0-5-1 8-1-6-1 7 0-4-1 4 0 0-1-7-1 1 0 2 0-1-1-4 0 9-1-8 0 0-2-1 0 0-1 0 0 0-69 4-1-3 0 2-2 1 0-1 0-2-1 1-1 3-2-3 0 6 0-6-1 2 0-3 0 8-1-1-2-4-2 2 0-4-2 7-6-5-3 4-1-5-1 3-2-5-2-1-3 7-21 4 17 8 19-7 3-1 5-1 0 1 83-1 1 0 0 0 3 5 0 0 0-5 0 3 2-3 1 8 1-8 0 4 1 4 3-8 2 7 8 2 1 0 16-2 2 4-25 8-1-2-1-2-2-2 0 5 0 1-1-1-1-3-1-4-1-1-1 0-1 5 0 3-1-2 0-5-97-1-10 4-5-2-21 12 18-1 6 2 111-2 0-2 1 0 0 2 1 0 2-2 0-1 2 5 0-4 0-1 2 4 0 5 1-1 1-3 0 2 1-5 4 4 3-2 3 5 0-6 8 5 22 7-12 3-12-7-5 6-10-2-1-2-1 4 0-6-1 4-2-3 0 5-1 1 0-3-1 4 0-3-1 1 0 0 0-4-1 5 0-7-1 3 0 3 0-3-2 4 0 1 0-2-106-5-1 1-1 3-4-1 0-3-8 5 3 11 3 0 114-8 0 3 2-3 0 1 0 7 1-7 0-1 2 7 2-3 2 2 0-2 3-4 1 0 2 3 0 3 1 2 2-2 8-2 3 5 20-1 7-5-27 14-16 2-1-6-1-1-1 0-2-2 0 8-1-7-2-1 0 5-1 0-1 0 0 0-1 3 0-6-1 4 0-2 0-3 0-1-1 9-110-4 108 11 1-4 2 3 0 3 2-6 1-1 0 0 0 8 2-8 4 0 0 3 0-3 9 6 2-3 0 9-10-3-2 8-1-6 0 4-1-1-1 4-3 0 0 0-1-9-2 3 0-2 0 1-1 4 0 0-1-6 0 1 0 3 0-4 0 8-101 1-2-1-4-3-22 1 3 9 7 2 11-6 4 6 103 0 0-4 2-2 1 3 1 3 0-6 6 2 1-3 1 1 7 0 2 8 3-7 30 14-31 3-10-2 0-2-2 4-2 0-8-7 0-1-88 14 1 1 16 3 32 0 3 0 3-2 1 2 32-7 2 0 4 9-5 2-7 0 0-3-27 5-2-2-2-2 0 4 0-5-2 4 0 1 0-5 0 1-1-1-1 4 0-3 0 4-1-1 0 1-1-1 0-3-2-1 0 4-1-2 0 1-2 2-1 0 0-3-17-1-1 1-1 2-6 0-5 0-1-3-6 4-2-3" fill="none" marker-start="url(#m3)" marker-mid="url(#m3)" marker-end="url(#m3)"/>
<path transform="scale(.5)" d="M99 8l4 9-15-2-2 4-13-9-7 1-4 9 5 6 10 1 7-4 1 0 2 5 3-1 0-1 0-5 0-1 3 8 1-3 2 1 22-2 0 1 2 0 0-1 3 3 3 2 5-8 19 8 6 10-19 0 0-9-7 7-10-4-3 1-4-1-1 2-2-2-2-2-4-1-1 6-1 3-4-8 0 4-2-1-1 3 0-4 0 0-1 5-2-6 0 4-1-4-1 7 0-2-2 0 0 2-3-3-2 2 0-4-2 4 0-8-7 9-1-8-1 8-5-5 0 4-3-7-2 0-3 6-28 7 26 0 8 2 5 1 1-4 1 4 4-5 2 6 0-7 0 3 2 4 0-4 1-1 1-2 1 4 1-2 0-2 1-1 0 6 0 3 0-3 2 1 0-5 1-2 0 1 0 8 0-2 1-4 3 3 1-2 1 0 2 0 2 4 2-6 1 6 0-8 2 6 1 3 0-5 2-2 1-2 1 8 0-4 0 1 1-3 1 0 0 7 1-7 1 7 5-1 0 0 0-1 2-7 0 7 1 1 0-5 2 6 1 0 1-9 0 5 23-3-3 15-11-2 0-2-2-2-3 3 0 5-2-4-8-4 0 3 0-2-1 3-1 1-2-1 0-2-1 3 0-1 0 0-1-3 0 1-1 3-1 0-1-1 0 0 0-3-2 6 0-1 0 0 0 1 0 1 0-1-1 0 0 0 0-2-1 1-1-1 0-3-1 6 0 0 0-6 0 2-1 4-1-5 0-1 0 4 0 0-1-5-1 5 0-3-1-4-1 2 0 3 0 4-1-6-1 6-1-1 0-1-1-7 0 9-1-2 0 2 0-4 0 4 0 0 0-6-1 0 0 4 0 2-1 0-1-4 0-4-1 4 0-3 0 1-1 2-1 2 0-4-2 3 0-4 0 4-1-5 0 5-1-3 0-3-1 1-1 4-1-3-1 1-2 1 0-1 0 4 0-6 0 0-3 2-3-1 0 5 0-1-1-4 0 0-1-2-1 1 0 6-1 1 0 1-5-1-2-2-1-2-2 4 0-5-7 3-5 1-6 7 4-2 9 1 1 5 2-8 1 5 1-2 4-1 2 4 1 2 0-7 0 4 1-2 0 5 0 0 1-3 0 3 1-7 0 1 1 1 1 5 0 1 1-4 1 1 0 1 1-5 1 2 0-4 1 0 0 6 0-3 1 6 0 0 0 0 0-1 0-5 1 2 0-3 11 0 0 0 0 0 0 0 0-1 1 4 0-3 2 1 0-1 1-1 0-1 0 1 0 3 2-4 1 0 0 0 0 0 0 0 2 0 3 1 0-1 3 0 3 1 1 0 1-1 0 1 1-1 1 0 2 1 1-1 0 1 1 3 1-2 2 0 0 4 1-3 0 1 1 4 0-3 0-4 1 8 1-4 1 3 1-1 0-6 3 5 2 2 0-1 0-1 0 1 1-5 0 7 0-5 4 0 3 0 2 0 8-4 3 19-4-6-1 4-1-7-2 5-3 4-1-6 0-1-5 4-1-5-1-1-2 9 0-4 0-2-1-1-1-1-1 8 0-3 0-1-1 3 0-3 0-4-1 4 0 1 0-2 0 1 0-3-2-2-2 0 0 0 0 0-45 1 0-1-1 4-1 0 0-4-1 3 0-3-1 5 0 2 0 0-1-5 0 5 0-6 0 4 0 0 0-1-1 5 0-7-1 4-4 0 0 0-1-3 0-2-1-1 0 2-2 4 0-2-2 2 0 3-8-1-12-2-10-2-9-2 25 8 4 1 1 0 1 7 0-7 6 8 0-5 0-2 1 6 2-1 2 1 0-7 0 4 1 1 1-5 0 8 0-3 2-1 0-5 0 7 0-4 0 5 1-1 0-5 0 2 1-1 0 0 1-2 0-1 60 4 0-1 2-1 0-1 1 3 0-2 0 2 2 2 0 2 0 0 1-5 0 6 1 0 1-2 2 1 2 1 3-1 4-3 6-5 6 4 0 5 0 8-13-7-3 8-1-1 0 2-1-1-1-5-1 0-1 5 0-6-74 0 0 0-1-2-1 5-2-1 0 1 0 2 0-2 0-1-1 3 0-3 0-3-1-1-1 4 0 0-1 1-2 3 0-5 0-2-1 8-1-9-3 9 0-6-1-1-7 5-7-1-3 13 7-5 1-4 2 9 6-9 1 4 4-3 1 0 0-1 84 8 0-4 0 4 1-3 0-1 2-4 0 0 0 0 1 8 1 1 1 0 0-4 1-1 5 2 0 0 8-3 12-2-10 14-1-5-4 8-1-6-2 6 0-5-1 4-1-6 0 2 0-1 0 3-2-3-2 0-3-1-1 6 0-4-1 3-100 1-4-4 2 14 105-7 1 0 0 2 3 0 2-1 1 3 5-2 3 1 15 16-6-7-2 3-11-1 0 3-5 2-1-7 0 3-1 1-1-3 0 0 0 6-1-4 0 2 0 2-1-3 0 3-1-1 0-1-113 0-4 2 118 1 0 2 2 7 0-2 1 1 3-1 4 1 35 5-23 6 0-9-5 7-6 0-1 1-2-3-3-3-1 0-2 3-1-3-1 0-2 7-107-9 0 6-4-6-7 6-3-4-4 12 3-2 4 1 3 1 5-2 3 3 106 1 2-1 0-1 1-1 1 4 0-1 1 2 0-8 1 9 2-4 0-4 3 2 1 2 0 1 1-3 0 5 4-6 6 6-4 7-7-4-3 8-4-3-1-6-3 1-1 3-103 5-32 5 10 0 12 4 2-5 8 0 5 4 2 1 97-7 1 6 1-2 9-3 2-2 2 0 8 7-23 12-3-6-103 10 12 3 1-1 5 3 4-3 2 2 35 2 11-2 1 2 1-2 29 2 2-7 1-2 0 4 3 0 20 0-10 8-43 0-2 1-2-1 0-1-2 1 0-2 0 4-1-3 0-1-1 5 0-5 0 4 0-3-1 2-2 1 0-1-1 0-1-2-1 4-1-4 0-1-2 0 0 3 0-2 0-1-1 5 0-4 0 1 0-1 0 4-1 0-18-4-5 1 0 1-3-2-1 2 0-1-2-2-2 3 0-2 0 1-6 1-1-1-1 2 0-4" fill="none" marker-start="url(#m4)" marker-mid="url(#m4)" marker-end="url(#m4)"/>
<path transform="scale(.5)" d="M111 14l-41 14 107 8-72 1-16-5-15 1-13 3-6 3-7-7-10 3 6 8 7-1 6-2 33 2 3 3 5-1 2 2 5-5 3 8 1 0 0 0 1-7 9 6 1-2 11-2 3-2 5 2 10 2-20 4-3 8-11-3-1-2-4 3-2 1-3-1 0 1 0 2-6-8-2-1-1 0-3 2-3 4 0-5-2 2-2 5-1-8-2 3 0 4-5-4-2-2-1 2-2 3 0 1-6-1-5 1-50 12 14 0 0-4 0-5 1 9 24 0 5-3 1 0 0 1 0-4 3 4 1-4 1-1 1-2 0 5 1-3 1 1 1 4 2-7 3 1 1 6 0-1 1 2 0 1 12-9 4 4 0-1 2-2 0 0 15 0 4 1 2 0 4 1 3 0 1 5 0 1 1-1 0-8 2 6 0 0 2-3 2-2 1-1 3 8 1-1 4-2 2 2 0 0 1 1 3-7 3-1 7 7 1 0 3 2 7-5 16 3-15 10-4 1-1-2-8 3 0-1-5-1-6-2-2 0-1 2-1 2-2-8 0 3-2-3-1 8-1-1 0-8 0 5-1-4-1 4-2-2 0 1-1-4 0 5-1-4 0 2-1-3-1 0-2 4 0 1-48-4-3 3-3 3 0 2 0-9-1 5-1-2-1 5 0-7-1 1-1 7-1-2 0-5-1 7-2 0-1-1 0-6-1 5-1-6-1 6 0-3-4 5-6-2-1 2-3-3 0-6-10 7 1 4 5 6 0-7 3 5 1 3 2 0 2-2 0-3 3 3 1-6 1 0 2 4 0-1 3 5 2-1 0-4 2 1 1 2 0 1 1-5 1 1 1-2 0 7 0-6 2-2 0 5 0 2 60-7 2 4 1 2 0-3 2 1 0-1 0 3 1-2 1 1 2 1 2-5 1 4 0 3 3-5 0-1 2 6 0-5 1-1 2 7 1-4 1 1 2-5 4 2 1 0 2-1 7 7 3-2 12 1-7 8-6 3-4-5-6 5 0-5-5 1 0 4-2-1 0-7-2 4-1-3-1-2-2 5-2-3-1-1-1 7 0-5 0 5 0-3 0-5-2 1 0 4-1-2 0 5-1-4 0 0-1-2-69-2-3 1 0 1 0 2-1 0-1 1-1 0 0 3 0-7 0 2-1 5 0-5-1 6-1-7 0 0 0 1-1 0-1 6 0-2 0-2-2 0 0 1 0-5-1 5 0-6 0 9 0-3-1 3 0-6 0 4 0 1-2-6 0 2-1 0-1 3 0-6-2 6-1-3-7-1 0 6-1-1-2-8-5 1-7 6 0 1-14 1-3 1 12 5 4-4 4-1 1 7 0-5 2 4 2-5 2 0 4 8 0-1 0-6 4 3 1-4 2 6 0 0 2 0 1 2 1-2 0 0 0-2 0 2 1-4 0-1 0 3 1-5 4 0 0 1 2-1 0 1 2-1 81 1 1 6 0-3 0-2 0 5 1-2 1 0 1-2 0 1 0-3 0 4 1-1 1-2 1 4 0-1 2-3 0 2 1 3 0-6 0 4 1 3 0 0 0-5 4 5 2 1 2-6 1 1 1-4 5 9 2-6 4 0 6-3 12 9 27 6-5 4-21-2-5-4-3-2-10 4-1 1 0-1-1-4-1 6-1-1-2-3-1 0 0-2-2-1-3 4 0 1-1 1 0-1-1 0 0 3-3-2-1-5 0 1-2 2-1-4 0 3 0-1-1-1-1 6 0-7-1 4 0 5 0-1 0-6-1-1 0 2-2 2-1-5-1 7-1-4-1-3 0 2-94-2-1 2-2 7-1-7 0 3 0 3 0-7-2 7-1-7 0 7-2-2 0-4-1 0 0 2-2-1 0 3-1 1-3-1-1 3 0-7-3-1-2 6 0 1 0 1-2-4-4 4-9 9 10-2 1 3 4-2 3-7 1 5 0 4 0-4 2-2 0 4 3 1 1-2 2 2 0 0 1-5 0-3 1 7 0-5 0-1 1 5 0-5 0 3 0 4 1-2 0-2 0 1 0 3 1-1 0 2 0-1 2-8 0 0 100 0 1 1 0 7 0-2 1 0 0-1 1 1 0 3 0-6 1 5 0 1 2 0 0 0 1-7 1 0 0 5 0-2 1 4 0-2 0-2 2-1 0 0 1-3 2 4 6-4 1 3 3-4 1 2 3 0 5 5 18 2-5 8-10-3-6-2-1 1-2 6-4-4-5 4 0-1-1-5-1 2-1 1 0-6-2 0 0 1 0-1-1 4 0-2-3 7 0-5-1 0 0-4-1 2 0 1 0 6-1-4 0 3-1-1 0 0-1-4 0 1-1-3 0 3-2 1 0 4 0-3-1 1-104-3 0 5 0-1 0-1-1-4 0-3 0 3 0 6 0-3-1-6 0 6 0 2-1-4-1-2 0 3 0 1-3 2-2-2-1-6 0 6 0-5-2 5-1-3 0 4-1-4-2-2-4 6-6-6-9 1-1 6 16 9 1-2 3 2 3-6 1 3 2 5 2 0 0 0 0-9 1 1 1 7 1 1 2-2 0 1 1-7 107 2 0 2 1-4 0 1 0 0 1 6 2-3 0 0 1 1 2-1 1 0 0-2 0 4 7 1 0 1 0-3 2-4 1 6 11 1 8-6 8 2 0 2 17 2 12 10-18-1-21-4-7 3-4 1-4-4 0 0 0 0-4-4 0 2-1-2-1 0-2 2 0 3-1-5-1 7-1-6 0 0 0 4-2 3-1-8-1 5 0-3 0 2-2 5-1-5 0 5-1-6 0-3-2 7-106 2 0-8 0 0-1 7-1 1 0-7-2 5 0 1 0-6-1 6 0 0-2-5 0-2-2 4 0 2-4-1-2 2 0-5-1 5 0-7 0 8-3-7-1 4-4 1-9 7 3-3 8 3 1 5 5-5 0 3 0-7 1 2 1 7 3-2 0-5 0 1 1-1 2-1 2 0 0 5 0-1 1 0 1 1 0-5 0 8 0-8 1 0 0 1 0 3 1 4 0-1 2-7 0 6 1 0 1 2 0-1 104-1 0-6 0 2 1 6 0-3 1-2 1-4 0 7 0 2 1-7 0 7 0-1 1-5 1 0 2-2 2-1 1 8 1-7 0 0 1 8 1-9 1 4 1 0 1 0 2 4 11-6 2 1 8 8-4 7-12-5-7 6-2-7-2 5-1-7-2 3 0-1-3-2 0 1-1 6 0 1-1-7-2 1 0 2-1 5 0-4-1-1-1-1 0-1-1 0 0-2 0 8 0-3-101-5 0 4-2 4 0-4 0-3 0 7 0-1-1-2 0 4-1-2 0 0-1-5-1 2 0-2-1 5-1-1-2 3 0-7-1 1-1-1 0-1-1 2-3-3-7 3-14 6-1-4 15 5 1 5 5 3 3-6 1 5 1-4 1 5 2-2 0-2 1-3 1 1 0-1 0 1 0 2 1 5 0-1 4-2 0 3 2-8 0 3 1-1 0-1 0 2 1 3 99-7 0 2 2-2 1 8 1-2 0-3 10 1 1 3 0 0 6-2 8 1 5-3 3 6 1-1-21 2-2 9-7-9 0 3-2 0 0-1-3 1-2 3-1 1-2-4-1 4-88 2-3-8 0 1 0 0 0 3 0 4 0-5-1-4 0 7 0-7-2 2-1 2 0 1-1-1 0 0 0 1-1-4-1 6-1 0-1-5 0 0 0 0 0 2 0-3-3 0-1 8-2-2-1-4-3-2-1 5-2 2-1-1-2-3-1-1-12-2-6 6 10 4 1 1 15-2 3 8 1-1 5-2 0-4 1 0 1 2 0-3 1 3 2 1 1 4 0 0 0-3 0 0 1 0 0-1 0 1 1-3 1-1 0 3 0-3 2-1 0 1 1 1 1 3 0 0 0-2 1 6 0-8 0 2 0-2 2 2 1 6 2-1 0-3 1 3 0 0 0-2 1 1 1 1 0-2 1 2 1-1 1 1 1 1 40 0 35 0 4 0 1-6 1-2 2 0 2 5 2 6-8-2-33 3-1 0-1-3-6 1 0 0 0-1-2 1-2-1 0 1-1-1 0 5-1 0 0-2 0 2 0-3-1 3-1-5 0 1 0 4 0-1-1-4 0 4-1 0-1-1 0-1-16-2-1 3 0 1-1-1-1 0-1 0 0-3-1 3 0-1 0-2-1 5-1-5-3 3 0-2 0 4-2-1-1 0-1 0-1 0-1-1-3-3 0 1-5 2-2-1 0 3-1-4-1 1-4-1 0 1-1-1-2 3-3-4 0 0-4 1-5-1" fill="none" marker-start="url(#m5)" marker-mid="url(#m5)" marker-end="url(#m5)"/>
<defs><path id="c49" d="M38.4 91l0.8 3.9 1.2-3.9 1.3 1.1 0.2-1.1 1-3 0.4-1.7 0.6-4.8 0.3-3.3 0.2-1.4 0.2-4.8 0.5-4.7 0.3-4.8 0.1-4.7 0.3-4.7-0.4-4.3-0.1-0.5-0.6-4.7-0.5-2.6-0.6-2.2-0.7-3.7-0.2-1-1-2.2-1.3-0.3-1.2-0.5-1.2 1.3-0.7 1.7-0.6 1.8-0.9 2.9-0.3 2.1-0.7 2.7-0.4 4.7-0.2 2.4-0.1 2.4-0.2 4.7 0.3 4.7 0.2 4.8 0.2 4.7 0.9 4.8 0.5 4.7 0.7 4.8 1.3 3.2z"/><path id="c50" d="M38.7 81.5l0.5 2.3 1.2-0.1 1.3-2 0-0.2 0.2-4.7 1-2.5 0.3-2.3 0.4-4.7 0.6-3.9 0-0.9 0-0.8-0.6-3.9 0.1-4.7-0.3-4.8-0.5-3.1-0.4-1.6-0.8-2.7-1-2.1-0.3-0.4-1.2 0.4-1.2 1.9-1.3 2-0.2 0.9-0.2 4.7-0.2 4.8-0.2 4.7 0.2 4.7 0 4.8 0.3 4.7 0.3 2.1 0.6 2.7 0.7 2.3z"/><path id="c51" d="M38 72l1.2 2 1.2-2 1.3 0 0.2-4.7 0.5-4.8-0.1-4.7 0.2-4.7-0.8-4.1-0.2-0.7-0.9-4.7-0.2-0.4-1.2 0.3 0 0.1-1 4.7-0.2 2.5-0.3 2.3-0.9 4.7 0.5 4.7 0.4 4.8 0.3 4.1z"/><path id="c52" d="M39.1 62.5l0.1 0.5 1.2 1.4 0.8-1.9-0.8-4.5-0.1-0.2 0.1-4.7-1.2-2.8-0.3 2.8 0 4.7z"/><path id="c53" d="M53.4 110.3l1.5 1.9 2.3 0 2.3 0.1 2.3 0 2.3-0.6 1.5-1.4 0-5.2 0.8-1.3 1.1-3.8 0.6-5.2 0.6-5.1 0.3-5.2 0.6-5.2 0.6-5.1-0.4-5.2-0.8-5.1-0.3-0.9-0.8-4.3-0.7-5.1-0.8-4.3-0.2-0.9-2.1-3.7-1.3-1.5-1-2.4-2.3-0.4-2.3 0.1-2 2.7-0.3 0.5-1.6 4.7-0.7 2.1-1.2 3.1-0.7 5.1-0.2 5.2-0.2 5.1 0 2.6-0.2 2.6-0.1 5.1-0.9 5.2 0.5 5.2 0.7 1.7 0.8 3.4 1.5 4 0.3 1.2 0.5 5.1z"/><path id="c54" d="M54.9 100l2.3 2.6 2.3-0.9 2.3-1.5 0.2-0.2 2.1-2.9 0.8-2.3 1-5.1 0.5-4.1 0.2-1.1-0.2-2.6-0.1-2.6 0.1-0.6 1.3-4.5-0.9-5.2-0.4-3.3-0.2-1.8-1.4-5.2-0.6-5.1-0.1-0.3-2.3-3-2.3-1.9-2.3 3.9-1 1.3-1.3 1.2-1.1 3.9-0.8 5.2-0.4 4-0.2 1.1 0.2 3.9 0 1.3 0 0.4-0.5 4.7 0.4 5.2 0.1 0.2 1.1 5 0.3 5.1 0.9 5.2z"/><path id="c55" d="M57.2 89.7l2.3 3.9 2.3-2.9 0.8-1 1-5.2 0.5-1.6 0.6-3.6-0.6-5.1 0.2-5.2-0.2-0.7-1.9-4.4-0.4-0.8-1.7-4.4-0.6-1.1-1.5 1.1-0.8 1-2 4.2-0.3 0.7-0.7 4.4 0.5 5.2 0.2 5.1 0.7 5.2 1.6 5.2z"/><path id="c56" d="M57.2 79.3l2.3 4.6 1.7-4.6 0.6-2.5 0.4-2.6 0.3-5.2-0.7-1.5-2.3-3.2-2.2 4.7 0.3 5.2z"/><path id="c57" d="M38.8 110.4l1.5 0.8 1.6 0.5 1.1-1.3 0-5.6 0.5-1.1 1.2-4.5 0.2-5.6 0.2-1.6 0.3-4 1.3-5.3 0.1-0.3 0.3-5.7-0.1-5.6-0.3-1.1-0.4-4.5 0.4-4.5 0.3-1.1-0.3-2.1-0.4-3.5-0.1-5.6-1.1-4.6-0.3-1-0.5-5.6-0.8-5.2-0.1-0.5-1.5-3.2-1.6-1.8-1.5 1.7-1.3 3.3-0.3 1.8-1 3.9-0.6 3.1-0.4 2.5-0.2 5.6-0.8 5.6-0.2 2.8-0.3 2.8-0.6 5.6 0.9 5.2 0.1 0.4-0.1 0.5-0.6 5.1 0.1 5.7 0.5 2.8 0.6 2.8 1 4.8 0.1 0.8 0.8 5.6 0.7 2.5 1.6 3.1z"/><path id="c58" d="M36.9 93.6l0.3 1.2 1.6 0.9 1.5 0.4 1-2.5 0.6-0.9 1.6-3 0.3-1.7 0.3-5.6 0.7-5.7 0.3-3.5 0.1-2.1-0.1-5.6 0.2-5.6-0.2-1.1-0.9-4.5 0.1-5.6-0.8-3.2-0.7-2.4-0.9-4.3-1.6 0.3-1.5-0.3-1 4.3-0.6 2.5-0.4 3.1-0.8 5.6-0.3 5.6-0.1 0.8-0.5 4.8 0.5 5.6-0.3 5.6 0.3 2.4 0.5 3.3 0.8 5.6z"/><path id="c59" d="M38.3 82.4l0.5 1.3 1.5 2.5 1.6-0.1 0.7-3.7 0.4-5.7 0.3-5.6-0.1-5.6 0.3-5.6-1.2-5.6-0.4-2.2-1.6-3.2-0.1-0.2-1.4-1.3-0.4 1.3-1.2 5.5 0 0.1 0 5.6 0 0.5 0.2 5.1-0.2 2.4-0.3 3.2 0.3 4 0.1 1.6z"/><path id="c60" d="M38.4 71.1l0.4 4 1.5 0.4 1.3-4.4 0.3-2.3 0.3-3.3-0.3-5.6-1.6 2.3-0.8 3.3-0.7 2.3z"/><path id="c61" d="M44.4 110.9l0.3 0.1 5 0.2 0.8-0.3 0-6.4 4.3-1.8 4.4-4.6 0.6-0.6 3.6-5.8 1.4-6.4 0.1-0.3 2.8-6.1-0.2-6.4 0.7-6.4-0.3-6.4-1.3-6.4-0.4-6.4-1.3-1.9-3-4.6-2.1-3.6-1.8-2.8-3.2-3.3-5.1-0.3-5 1.5-5.1 1.8-0.3 0.3-2.7 6.4-2 2.8-2.9 3.7-1.7 6.4-0.5 6.4-2.1 6.4 1.7 6.4 0.4 6.4 1.4 6.4 1.8 6.4 1.9 2.7 3.2 3.7 1.8 1.7 4.8 4.7z"/><path id="c62" d="M40.3 91.7l4.4 2.6 5 1.4 5.1-3.3 0.8-0.7 4.2-5.2 0.4-1.2 1.2-6.4 0.5-6.4 1-6.4-2.1-6.4-0.3-6.4-0.7-1.1-4.1-5.3-0.9-1-4.3-5.5-0.8-0.9-5-0.9-1.9 1.8-3.2 5.8-0.5 0.7-3.2 6.4-0.9 6.4-0.4 1.5-1.9 4.9 1 6.4 0.9 6.4 2 6.4 3 5.8z"/><path id="c63" d="M45.6 85.3l4.1 2.9 3.1-2.9 2-5 0.5-1.4 1.9-6.4 1.7-6.4-4.1-6.4 0.8-6.4-0.8-1-5.1-3.7-5 2.1-3.4 2.6-1.7 3.7-0.5 2.7-1.5 6.4 1.1 6.4 0.9 4.1 1 2.3 4.1 5.1z"/><path id="c64" d="M44.5 72.5l0.2 0.3 5-0.3-2.8-6.4 2.8-2.4 0.8-4-0.8-1.2-2.8 1.2-2.2 4-0.6 2.4z"/><path id="c65" d="M36.5 98.9l2.3 2.5 5.1 2.5 5.2-0.8 5.2-1.2 3.1-3 1.5-5.8 0.6-0.3 4.1-5.6 1-2.9 1.5-2.9-0.7-5.9-0.4-5.8 0.8-5.9-1.2-5.8 0.5-5.9-0.5-0.7-2.2-5.1-1.5-5.8-1.4-2.6-2.6-3.3-2.6-3.9-5.2-0.7-2.9-1.2-2.3-0.9-0.9 0.9 0.9 3.3 0.8 2.5-0.8 0.4-1-0.4-4.1-2.4-2.2 2.4-3 3.7-1.4 2.2-1.8 5.8-1.3 5.8 0.1 5.9 0.2 5.8-0.1 5.9-0.9 4.3-0.5 1.5 0.5 1.3 1.7 4.6 1.6 5.8 1.9 4.9 0.5 1z"/><path id="c66" d="M43.3 93.1l0.6 0.5 2.3-0.5 2.9-0.6 5.2-2.5 3.3-2.8 1.9-4.5 0.5-1.3 0.6-5.9 0-5.8 1.5-5.9-0.7-5.8-1.5-5.9-0.4-0.8-3.5-5-1.7-3.7-3.3-2.1-1.9-0.7-2.9 0.7-2.3 0.3-5.1 3.4-1.8 2.1-2.5 5.8-0.9 2.3-0.9 3.6 0.5 5.8 0.4 5.9 0.9 5.8 1.1 5.9 3.2 5.2 0.5 0.6z"/><path id="c67" d="M42.5 81.4l1.4 1.7 5.2 0.5 2.1-2.2 3.1-5.9 1.1-5.8 1.3-5.9-1.4-5.8-1-3.5-1.9-2.4-3.3-1.9-5.2-1.5-2.3 3.4-1.5 5.9-1.3 5.4-0.1 0.4 0 5.9 0.1 0.3 1.1 5.5z"/><path id="c68" d="M44.6 75.5l4.5 1.6 0.9-1.6-0.9-3.1zM42.8 63.8l1.1 5.9 5.2-1.6 2.6-4.3-2.6-3.9-5.2 2z"/><path id="c69" d="M34.7 110.2l2.3 0.4 6.8-0.1 0.6-0.3 0-5 6.3-5.1 6.2-5 0.6-0.7 6.6-4.4 0.3-0.3 3.3-4.7 0.2-5 2.7-5.1-1.3-5 1.4-5.1-2-5-0.4-5.1-3.9-3.6-0.9-1.4-4.4-5.1-0.3-5-1.3-0.9-6.8 0.9-6.9 0-6.8 0.7-5.2 4.3-1.7 1.9-2.8 3.2-4 2.5-2.6 2.5-1.2 5.1-1.4 5-0.9 5.1-0.8 3.9-0.4 1.1 0.4 2.5 0.2 2.6 1.5 5 0 5 3.6 5.1 1.6 5 6.8 3.9 4.6 1.2z"/><path id="c70" d="M30.1 95.1l6.9 1.6 2.6-1.6 4.2-0.8 6.9-2.2 1.4-2.1 5.4-4.8 0.2-0.2 2.5-5 1.1-5.1 1.1-5 1.5-5.1-1.6-5-4.2-5.1-0.6-0.8-6.8-3.4-0.9-0.8-6-2.1-6.8 1.8-0.3 0.3-5.7 5-0.9 1.2-3.2 3.9-2.4 5-1.2 3.6-0.7 1.5 0 5-0.7 5.1 1.4 2.6 1.3 2.4 1.7 5 3.8 5.1z"/><path id="c71" d="M36 90l1 0.5 1.2-0.5 5.6-3.8 2.4-1.2 4.5-4.3 0.4-0.7 3.2-5.1 1.3-5-1.8-5.1-3.1-3-3.5-2-3.4-2.9-6.8-0.7-3.1 3.6-3.2 5-0.6 1.5-0.9 3.6 0.9 5-0.9 5.1 0.9 1.5 2.6 3.5z"/><path id="c72" d="M34.4 80l2.6 2.7 4.8-2.7 0.6-5.1 1.4-0.5 4.5-4.5-3.9-5.1-0.6-0.3-1 0.3-5.8 5.1-1.7 5z"/></defs>
<g fill-rule="evenodd"><use href="#c49" fill="#fff"/><use href="#c50" fill="#8000ff" fill-opacity="0.15"/><use href="#c51" fill="#8000ff" fill-opacity="0.15"/><use href="#c52" fill="#8000ff" fill-opacity="0.15"/><use href="#c53" fill="#fff"/><use href="#c54" fill="#1996f3" fill-opacity="0.15"/><use href="#c55" fill="#1996f3" fill-opacity="0.15"/><use href="#c56" fill="#1996f3" fill-opacity="0.15"/><use href="#c57" fill="#fff"/><use href="#c58" fill="#4df3ce" fill-opacity="0.15"/><use href="#c59" fill="#4df3ce" fill-opacity="0.15"/><use href="#c60" fill="#4df3ce" fill-opacity="0.15"/><use href="#c61" fill="#fff"/><use href="#c62" fill="#b2f396" fill-opacity="0.15"/><use href="#c63" fill="#b2f396" fill-opacity="0.15"/><use href="#c64" fill="#b2f396" fill-opacity="0.15"/><use href="#c65" fill="#fff"/><use href="#c66" fill="#ff964f" fill-opacity="0.15"/><use href="#c67" fill="#ff964f" fill-opacity="0.15"/><use href="#c68" fill="#ff964f" fill-opacity="0.15"/><use href="#c69" fill="#fff"/><use href="#c70" fill="#ff0000" fill-opacity="0.15"/><use href="#c71" fill="#ff0000" fill-opacity="0.15"/><use href="#c72" fill="#ff0000" fill-opacity="0.15"/></g>
<g fill="none" stroke-width="1.20" stroke-linejoin="round"><g stroke="#8000ff"><use href="#c49"/><use href="#c50"/><use href="#c51"/><use href="#c52"/></g><g stroke="#1996f3"><use href="#c53"/><use href="#c54"/><use href="#c55"/><use href="#c56"/></g><g stroke="#4df3ce"><use href="#c57"/><use href="#c58"/><use href="#c59"/><use href="#c60"/></g><g stroke="#b2f396"><use href="#c61"/><use href="#c62"/><use href="#c63"/><use href="#c64"/></g><g stroke="#ff964f"><use href="#c65"/><use href="#c66"/><use href="#c67"/><use href="#c68"/></g><g stroke="#ff0000"><use href="#c69"/><use href="#c70"/><use href="#c71"/><use href="#c72"/></g></g>
</svg>
<svg x="268.54" y="228.55" width="108.00" height="108.00" viewBox="0 0 108.00 108.00">
<path d="M0.4 108L0.4 104.5 5.1 104.5 5.1 101.6 9.9 101.6 9.9 97.4 14.6 97.4 14.6 90.7 19.4 90.7 19.4 80.9 24.1 80.9 24.1 68.5 28.8 68.5 28.8 55.8 33.6 55.8 33.6 34.8 38.3 34.8 38.3 24.6 43.1 24.6 43.1 9.7 47.8 9.7 47.8 11.2 52.6 11.2 52.6 15.6 57.3 15.6 57.3 27.3 62.1 27.3 62.1 44.8 66.8 44.8 66.8 73.1 71.5 73.1 71.5 86.1 76.3 86.1 76.3 100.3 81 100.3 81 104.2 85.8 104.2 85.8 106.5 90.5 106.5 90.5 107.5 95.3 107.5 95.3 108" fill="none" stroke="#8000ff" stroke-width="1.20" stroke-linejoin="miter"/>
<path d="M0.3 108L0.3 83.2 5.5 83.2 5.5 70.8 10.6 70.8 10.6 60.7 15.8 60.7 15.8 46.8 20.9 46.8 20.9 38 26.1 38 26.1 32.5 31.2 32.5 31.2 30.8 36.4 30.8 36.4 30.2 41.6 30.2 41.6 43.4 46.7 43.4 46.7 56.2 51.9 56.2 51.9 68.1 57 68.1 57 80 62.2 80 62.2 89.5 67.3 89.5 67.3 96.9 72.5 96.9 72.5 100.6 77.7 100.6 77.7 103.9 82.8 103.9 82.8 106.5 88 106.5 88 107.5 93.1 107.5 93.1 107.4 98.3 107.4 98.3 107.7 103.4 107.7 103.4 108" fill="none" stroke="#1996f3" stroke-width="1.20" stroke-linejoin="miter"/>
<path d="M0.4 108L0.4 94.9 6 94.9 6 86.6 11.6 86.6 11.6 76.3 17.2 76.3 17.2 67.4 22.8 67.4 22.8 51.6 28.4 51.6 28.4 41.7 34.1 41.7 34.1 34.6 39.7 34.6 39.7 37.8 45.3 37.8 45.3 39.5 50.9 39.5 50.9 51.5 56.5 51.5 56.5 61 62.1 61 62.1 74.4 67.7 74.4 67.7 83.8 73.4 83.8 73.4 91.5 79 91.5 79 98.9 84.6 98.9 84.6 103.5 90.2 103.5 90.2 105.4 95.8 105.4 95.8 106.5 101.4 106.5 101.4 107.4 107 107.4 107 107.7 112.6 107.7 112.6 108" fill="none" stroke="#4df3ce" stroke-width="1.20" stroke-linejoin="miter"/>
<path d="M0.3 108L0.3 95.2 6.7 95.2 6.7 85.4 13.1 85.4 13.1 68.4 19.5 68.4 19.5 53.5 25.9 53.5 25.9 43.5 32.3 43.5 32.3 32.7 38.7 32.7 38.7 27 45.1 27 45.1 37.2 51.5 37.2 51.5 49.1 57.9 49.1 57.9 63.3 64.3 63.3 64.3 78.5 70.8 78.5 70.8 89.2 77.2 89.2 77.2 98.9 83.6 98.9 83.6 104.5 90 104.5 90 106.3 96.4 106.3 96.4 107.4 102.8 107.4 102.8 107.8 109.2 107.8 109.2 107.9 115.6 107.9 115.6 108 122 108 122 107.9 128.4 107.9 128.4 108" fill="none" stroke="#b2f396" stroke-width="1.20" stroke-linejoin="miter"/>
<path d="M0.3 108L0.3 94.5 6.1 94.5 6.1 85.4 12 85.4 12 73.6 17.8 73.6 17.8 56.8 23.7 56.8 23.7 35.5 29.5 35.5 29.5 21.5 35.4 21.5 35.4 20 41.2 20 41.2 13 47.1 13 47.1 23.1 52.9 23.1 52.9 32.9 58.8 32.9 58.8 54.4 64.6 54.4 64.6 71.4 70.5 71.4 70.5 86.3 76.3 86.3 76.3 94.2 82.2 94.2 82.2 102.5 88 102.5 88 104.5 93.9 104.5 93.9 106.5 99.7 106.5 99.7 107.7 105.6 107.7 105.6 108 111.4 108 111.4 107.8 117.3 107.8 117.3 108" fill="none" stroke="#ff964f" stroke-width="1.20" stroke-linejoin="miter"/>
<path d="M0.3 108L0.3 93.7 5.3 93.7 5.3 81.9 10.4 81.9 10.4 70 15.4 70 15.4 51 20.5 51 20.5 35.2 25.5 35.2 25.5 17.8 30.6 17.8 30.6 13 35.6 13 35.6 10.8 40.7 10.8 40.7 18.2 45.7 18.2 45.7 33.2 50.7 33.2 50.7 50.5 55.8 50.5 55.8 68.4 60.8 68.4 60.8 84.9 65.9 84.9 65.9 90.9 70.9 90.9 70.9 98.9 76 98.9 76 103.5 81 103.5 81 106.1 86 106.1 86 107 91.1 107 91.1 107.7 96.1 107.7 96.1 107.9 101.2 107.9 101.2 108" fill="none" stroke="#ff0000" stroke-width="1.20" stroke-linejoin="miter"/>
</svg>
<svg x="41.54" y="342.05" width="108.00" height="108.00" viewBox="0 0 108.00 108.00">
<path transform="scale(.5)" d="M127 1l2 2 0 1 2-4 1 4 1-4 12 2 0 5 6 1 1-5 6 3 0 5-8-1 16 60-5 1-5 15 1 0 4-1 5 2 14 11-18-6-4-1-2 4-2 2-99-1-6-6 98 19 2-6 1 0 1 0 10-2-4 18-6-9-93 13 1-2 6 6 1-3 2 3 74-2 4-4 4 1 16 0-12 9-14 1-3-1 0 5-1 1-2-4 0 0 0 6-1-5 0-2 0 0-1 6 0-1 0-1-3 0 0 0-2 0-1 3-3-1-1 1-1-1-49-1-1-2-3-1-3 0-11-2 2 10 5-1 1 3 4-2 9-1 1 7 1-3 2-2 0 2 0-2 2 3 38-4 0 1 0 5 1-6 0 0 0 3 0 0 0-3 0 2 0 2 0-5 1 3 1 0 0-4 1 6 0-4 0 0 0 6 0-7 1 5 0-5 0-1 0 2 0-2 2 5 0 1 0 3 1-1 0-1 0-5 1 4 1-4 1 4 0 1 1-5 0 7 3-7 3 3 2 5-6 3-4 3-3-1-1-5-1 3 0 0-2 0-1 2 0 3-2 0-4-1-1-1-25 2-1 1 0-2-2 0 0-2-3 0-2-2 0-1-1 0 0-2-6 8-1-3-1-5-2 1-3 2-2 2 2 12 5 2 3-2 3 2 1-6 1 4 1-7 1 7 0-4 2 6 1-1 1-8 3 4 1-3 0 2 1 4 1 0 1-7 0 4 1 3 0 0 1 1 2-4 0 0 2 3 1-1 1 2 3-6 0 5 1-4 1 3 2-3 0 4 3-5 2 3 2-4 1-1 5 3 0 4 1-6 1 3 7-4 4 11-9 6-7-6-6 2-1 1-7 0 0-4-1 1-3 0-3-1-3 4-5-2-1 5-1-5 0-2-2 1-3-1-2 2-4 7 7 8 1 1 11 0 0-5 6-3 2 5" fill="none" marker-start="url(#m0)" marker-mid="url(#m0)" marker-end="url(#m0)"/>
<path transform="scale(.5)" d="M67 2l4 2 3-1 0-1 1 5 2 1 0-4 0 1 1 2 0-3 0 5 0 0 1-6 0 4 1 0 0-5 3 1 0 0 0 2 1-5 1 2 0 4 0 2 0-6 1 7 0-3 0 1 0-2 0 0 0 4 1-8 0-1 1 4 0-4 0 3 1 0 0 0 38 1 0-4 1 6 0-3 1 1 0-3 0 4 0-3 0 5 0-1 1-6 0 0 0 5 1 1 0-1 0-3 1 5 0-4 1 0 8 3 1 0 1 0 1-4 2-2 0 9 0-7 1 6 2 1 1-7 3 3 2-3 2 12-1-4-1 1-70 0-1 1-1 1 0-3-1 2-1 1 0-1 0 4-1-5 0 1 0 4 0 1 0-1 0 1 0-6-1 1-1-1 0 2 0 3-1 0 0-6 0 3-1 3 0-3-1 5 0-3-1-2-1 3 0-6-1 1-1 8 0-1 0 0-2-8-1 8-3 0 0 1-4 0-4-8 3 17 1-4 3 1 3-2 0-2 0 6 1-2 0 2 0-3 1 2 0-6 1 4 0 4 0-6 1-1 0 2 0 6 1-7 0 3 1-3 0-2 0 4 0 0 0-2 1 6 0-2 0 3 0 0 0-9 1 4 0 2 0-3 1 1 0 2 0-6 0 2 2-2 0 3 0-3 0 3 1-3-4 12-1 3 0 1-1 3-1-6 0-3 0 9-1-2 0 1 0-2 0 1-1-1 0 2-1-8 0 3-1 1 0-2 0 4 0-1-1 3 0-3-1 1 0-6-2 9 0-7 0-1 0 1-1-2-2 9 0-4-1-1-2 3-4-5-2-2-12 9-7 0 16 5 1 5 3 0 0-8 3 6 1 0 0-6 1 7 0-3 1-2 1 5 1-7 0 5 1-3 0 3 0 0 1 2 1-7 1 6 0 1 1-5 0 6 0-5 0-3 0-1 1 0 0 2 1 1 0 4 0-5 0 4 0 2 0-8 1 7 1-3 0-1 0-3 0 5 0 1 1-5 108 4-5 5-8 6-97-6-1 5 0 1 0-3-1 5 0-4-1 2 0-3 0-2 0 6-1-4 0 6-1 0-1-4-1-2-1 4 0 1 0-2 0 1-1-5-1 3 0 0-2-2-1 5 0 1-1-8 0 0 0 1-1 3-4 2-11-4-8 5 10 9 3-3 8 3 0 0 1 1 3-8 2 7 0-4 0-3 0 7 1-4 0 6 1-3 0-1 1-2 0 2 1-1 0-1 0 6 0-2 1-5 0 4 1 3 0-1 1 1 0 0 0-7 1 3 1-4 99 9-101 0-2 2-1-1-1 2 0 0-1 3 0-6 0 5-1 3 0-6-1 7 0-2 0-6 0 8 0 0-1 0 0-6-1-1 0 6 0-4 0 1-1 2 0-5 0-1-2 7-2-4 0 0-1-2 0 0-3 5-5 3 2 5 1 3 1-6 0 1 2 3 0-2 1-4 1 1 1 3 0-2 0 7 1-8 0 5 2-3 1-2 1 1 0 6 0 0 0-8 1 9 0-5 1-3 0 8 0-3 2 2 0-4 0 2 0-1 0-4 0 1 1 6 0-6 0 1 1 3 0 3 0 0 96-1-95 2 0 0-1 1-1 5 0 0-1-2 0-4 0 7 0-6-1 4 0-4-1 5-1 2 0-8 0 1 0 2 0 3-1-4-1 5 0-3-1-1-1 0-1 5-1-6-1-1-1 4 0 1-2 0 0 1-1 1-3-3-1-2-9 8 5 0 5 7 1-1 2-4 1 6 1-1 2-3 0 0 1-4 2 1 0-1 3 2 0-3 0 2 0 2 0 4 1-5 0 1 0 4 1 0 0-1 0-3 0-2 1 3 1-3 0 1 1-3 0 0 0 3 0 4 0-1 0-5 0 1 0 5 0-3 0 2 1-6-1 14 0 0 0 1-1-4 0 6 0-7 0 9 0-9 0 1-1 6 0-4 0-2 0 3 0-2-1 2 0 1-1-1 0 0 0-3-2 5 0 3-2-2 0-2-2-2-2 1-1 5-2-5 0 1 0-3-1 3-2-4 0 3-2-3-1 5-1-2-2-3-4 5-22 8 34-3 2 2 1 5 2-2 2-2 2 3 0 2 1-7 0 0 0 6 0-5 1-3 1 6 1 1 0 0 1-1 0-2 1-2 2 4 0-5 0 2 0 2 1 3 0-4 0-2 0 1 0-2 1 7 0-1 0 2 2-5 1 0 1 5 0-3 0 2 1-1 53 12-47 0-4-2-1-7 0 8 0-2-1-3-1-1 0 1-1 1 0 0 0-4 0 4-1-3 0 7-1-6 0 5 0-7 0 4-1 1 0-1 0 1-1-4-1 2 0 1 0-2 0 7-1-9 0 9 0-1-3 1-1-6-1 1 0-1-1-3-1 8-1-4-3 3 0-4-1 4 0-5-2 0-6 5-17-4 7 7 6 6 1-3 5-2 1 3 2 2 1-4 1 6 1-8 2 2 2 5 1-6 4 6 2 0 1-1 0-1 1 4 0-7 1 0 0 6 0-5 0 0 0-3 1 2 1 2 0 3 1-5 1 1 1 6 0-5 1 0 0-1 0 4 0-6 1 0 0 4 0-5 1 7 0 1 1-3 0 3 0-6 0 2 0 5 0-8 2 7 0-7 0 7 1 1 1 0 0-8 0 5 0-3 1-3 0 5 0-4 0 7 0-6 0 4 1 0 2-2 0 1 0 2 0 0 1 1 40-8 2 4-32 13-3 2-1-2-3-1-1-3 0 1-1-3 0 5-1-2-1-1 0 2 0-4-1 2 0-3-1 7 0-7-1 3 0 6 0-7-1 2 0 5 0-2-1-3-1 4-1-8-1 4 0 2-3 1 0-2 0 4 0-3-2 0 0-5-2 5-1-4-2 1 0 1-2 0-4 1 0-4-1-1-1 0-1 3-2 0 0 5-5-2 0 6 3 2 2-4 2 6 0 0 0-2 4-2 4-2 4 0 1 3 1 2 0 4 3-7 1 0 0 0 0 1 1-2 2 1 0 5 0-5 0 4 1-3 2 5 3-4 1 1 0-3 1 4 1-6 1 0 3 1 2 6 3-4 0 6 0-1 2-3 5 1-12 9-2-2-7 5-2-5 0 3-2-6 0 5-2 0-3-3-4 1-2 5-17-6-10 2 0 15 17 0 2 0 1-3 15 3 2-1 2-1 23-7 11 8-42 8-30 2 5 8 16-4 0 4" fill="none" marker-start="url(#m1)" marker-mid="url(#m1)" marker-end="url(#m1)"/>
<path transform="scale(.5)" d="M85 8l42-5 0 0 0-2 1 1 0 2 1-1 0-1 1 0 0 5 0-7 0 2 1 3 0 0 0 0 1 1 0-3 0-1 0 1 1 4 0-6 8 3 1 3 0-3 1 4 0-3 1 2 0 0 0-4 0 3 0 1 0-1 1 1 0 2 1-1 0-6 1 6 1 1 1-2 0 2 0-2 1-1 0-4 0-1 1 7 1 1 0-3 0-6 1 6 0 2 0-1 0-3 3-2 0 5 0 0 1-3 0-2 0 7 1-5 0 1 1 1 0-5 0-1 0 0 0 4 0 4 0-3 1-2 1-2 0 2 1 0 2 0 1 2 3-1 2 3 1-1 1-6 0 3 1-1 1-1 0 4 1 0 0-3 0 3 1-5 2 0 2 0 0 2 3 7 4-6 1 3 1-4 3 3 10-1-11 13-1-7-4 1-3-1 0 8-1-4-1 5-2-6-1-3-1 8-2-6-1 1-1 0 0-3 0 2-1 2 0-4 0 9 0-6-1 1 0-1 0 4-2-6-1 6-1-7-1 2 0 7 0-4 0 1 0-1 0 0-1-5-1 7-2 2-2-8 0 0-2 1 0 3-1-3 0 7 0-7 0 3-1-4 0-1 0 2-1 0 0-2-1 2 0-2-1 1 0 2-1-3-75 3-7 3 88 5 1-1 1 0 0 1 0 4 1 2 0-7 0 2 0 0 1 5 0-4 0 6 0-7 1-1 0-1 1 8 0-1 0 0 0-4 1 1 0-3 0 8 0-5 2 3 1-3 0 5 1-5 1 3 0-2 0-3 1 5 0-3 0 1 1-2 0 1 3-1 1 3 2-4 0 7 0-6 1 5 0-3 0-1 1 3 2 2 0-8 2 0 3 7 3-2 2-5 7 8 5 0 8 7 0-1-5-5-13 7-5-3-2-2-1 0-2-2 0 6-1 1-2-4 0 3-2-4 0 1-1-1 0 4-1 3 0-4 0 2-3-3 0 0-1 5 0-9-1 9 0-6 0 2 0-5-1 9 0-7-1 5 0-6 0 4-1-2 0 0 0 6-1-7-1 2 0-4 0 3 0-3-1 8 0-1-1-7 0 3 0 1 0-1 0 3-1 0 0-2-1-2-113-2 112 16 1 2 0 0 1 1 0-9 0 7 0-1 1-3 0 5 1-6 0-1 1 7 0-7 0 1 0 5 0-7 1 7 1-1 1 0 1-4 2 1 0 3 0 1 0 2 1-6 2 4 0 2 2-6 1 6 0-2 1-4 0 2 1-3 0-2 0 7 0-1 4-2 3 0 1 3 11-7 16 18-21-8-2 0-4 0-1 8-1-2-2-1-3-4 0 4-2-2-1 6-4-4 0-3-1 1 0 0-1 6 0-4-1-5 0 1 0 1-1-1-1 2 0-2-1 6-1-5 0-2-1 7 0-4-2 2 0 3-1-3 0 3 0-1-1-3-101 0-9 15 110 0 1-1 1-4 0-4 0 3 0 6 0-9 0 6 0-6 1 5 0-3 0 6 0-6 0 6 0-2 1 0 0-5 2 7 0-2 0-5 1 0 0-1 1 5 1-4 1 8 1-1 1 0 0-7 1 0 0 7 0-4 2 3 0-3 1 2 1-3 1-2 2 4 7-1 25 1 3 1-18 8-1 3-8 1-3-7-2-1-2 7-8 1-3-6-1 6 0-1-1-1-1-2 0 2-1-1 0 2 0 2-1-3 0 3-1-1 0-5 0 0 0-3 0 0-2 3-1 2 0-4 0 6-1-2 0-3-1 1 0-2 0 2 0 5-1-5 0 3-4 11 0-3 0-1 0 3 1-3 0 6 0-3 0-2 0-2 0 7 1-4 0-1 1 2 1-2 0-4 0 6 2-4 0 3 0 4 0-8 2 1 1-2 2 9 0-5 0-4 0 4 1-2 0 6 3 0 0-5 2 1 3 2 3-2 2 3 7-7 1 0 2 5 12 4 9 10-11-6-11 4-6-1-2-2-5 3-3 2-3-9 0 7-2-6-1 5 0-4-1-2 0 3-3 2-1 1-2 3-1-1 0 0-1-8 0 6 0-5 0 5-1 2 0-7 0 2-1 3-1-1 0-3-1 1 0 1 0 5-1-5 0 5 0-3 0-5 0 3-1 5-1-2 0-3 0 4-1 0 0-2 0 3-92-7-10 13 98 1 0 3 1-6 1-1 0 0 0 2 0-3 1 7 0-4 0 0 1 0 0 1 0-4 0 6 1 0 0 1 1-8 0 6 1-6 0 6 3 1 0 2 0-2 0-2 2 1 0-3 1 3 0 3 5-5 1 3 3 0 1 1 0-4 1 4 2-3 1 2 1-6 16 0 12 3-18 11-3-1-1-4-12 4-7-4 0 7-4-7-1 5-4 0 0 3-1-4 0 4-1-8 0 2-2 4 0-1-1-2-1 1 0 3 0-5 0 0 0 0 0 4 0-5-1 4 0-3 0 1 0 5-1-4 0-1 0 0 0 3-1 1-89 1 0-8 0 5-3 12 4-4 3-3 3 1 75 8 1 0 2 0 0 0 1-1 0 0 0 1 0 0 1-4 0 2 0-5 0 2 1-3 0-1 0 1 0 6 1-5 0 0 3-2 0 0 1 3 2-3 1 4 2 0 2-4 1 3 0 3 6-1 2-2 8 0 5 3 2-6 5 0 15 14-41-1-2 5-4-1-1 2-1-4-1 1 0 1-5-6 0 8 0-7 0-1-1 6-1-4 0 4 0-6-1 3-1-3-1-1-2 2 0 1-1 4 0-3 0-2-2 0 0 5 0 0 0-6-1 6 0-1 0 0 0-5-1 1 0 3-1 3 0-6-1 1-1 3 0-2-1 4-1-4-1 3 0 2-2-2 0 0 0 1-1 1 0-2-52 0-8-2-3-2-1-3-1 19 6-9 3 2 5 6 0-6 1-1 0-1 0 3 1 0 1 0 0-2 0 1 1-2 0 8 1-4 0 2 1-2 0 5 1-4 0 2 39 2 1-9 1 7 2-7 0 9 0-3 0-2 1-1 0 3 0-3 1 2 0-4 1 4 0-1 1-2 1 7 0-9 0 8 1-4 1-3 1 3 0-1 0 2 1-1 1-4 0 6 2-2 0 0 0-1 0 5 0-8 1 4 1-3 0 1 0 1 1 4 3 2 1-9 1 7 0-6 1 0 2 5 4 1 0-3 0 0 1-2 2 5 11-6-11 12-1 6-1-2 0-1-3-3-7 2-6 1-2-5-2-1 0 1-8 3-1 1 0-1 0 2 0-3-1 2 0-2 0 0 0 1-1-2 0 1 0 0-1 0 0-3 0 0 0 1-3 3-1 3 0-2-1 2-2 1-20 1-1-1-1 1-1 0 0-1-2-2 0 0-1 3 0-4-1 2 0 2-1-4 0 2-1 0 0-2-1 2 0 1-1 1-2-3-1 1-1 0 0 1 0 0-1-7-1 4 0-4-2 5-2-3-1 2 0-1-2 4-2-5-8 2-36 2 51 4 2 3 3 5 1-9 0 0 0 7 1-1 0-3 1-1 1 2 2-4 0 5 0-2 2 6 0-7 0 5 1 2 1-6 0-1 1-2 1 3 0 5 1-8 0 1 0-1 0 5 0-4 2-1 0 2 0 0 0 6 0-7 1 4 0-2 1 2 2-1 1 2 0 0 0 1 0-2 1 4 0-1 0 1 2-1 1-2 0 0 1-1 1-2 1 6 2-7 0 6 0-8 0 5 0 1 1 2 1-2 0-2 0 3 0-5 0 6 0-3 1 0 0 3 1-6 0-1 2 5 1-3 0-2 0-1 1 5 0 4 0-5 2 0 5 0 3-3 1 1 0-2 0 1 2 8 1-6 1 5 1 1 4-8 17 8-11 4-6-3-5 7-1-2-3-5 0 0-1 2-2-2-1 2-1 5-6-7-2 3 0-1-2-1-1 2 0-3-3 3-1 5-1-4-1 4 0-1-2-4 0 4 0-5-1 6-1-1-1-7 0 8 0-6-2 1 0 3-1-5 0 3-1 2-1-3-2 5-1 1-2-6 0 4 0-6 0 2-1 0 0-2-1 4 0 4 0-5-1-3-1 8-4-4-2-1-1-3-6 8-1-1-13-7 15 18 0-6 2-2 2 4 0-3 1 4 0-1 0 2 4-4 1-3 6 3 0 5 4-7 0-1 1 3 1-2 1 8 1-7 0 0 1 6 2-8 2 3 2 3 2-5 0 2 2 0 0 1 1 3 2-4 4 0 0-1 2 3 2 1 11 4-13 0-3 9-3-5-4-4-1 4-2-4-2 7 0-7 0 4-1-2-4 5-1-2-3 0-2 1 0-5-2-1-6 0-3 6-9-5-8-1-14 4 17 6 3 1 10 7 2-5 1-3 2 3 0-1 1 4 1 0 3-6 8 2 10 3 4 3 24-4-39 14-16-4-29 1" fill="none" marker-start="url(#m2)" marker-mid="url(#m2)" marker-end="url(#m2)"/>
<path transform="scale(.5)" d="M76 3l11 4 40-5 1 3 0-4 1 0 0 6 1-3 0 0 2 1 1-3 0 3 0-5 8 4 1-1 0 0 1 5 0 1 0-8 0 4 0-3 0 2 1 0 0-2 0-2 1 6 0-4 0 0 0 5 0-6 1 7 1-3 0-3 0 0 2 5 0-6 0 4 1-5 0 2 0 5 1-1 0 2 0-4 1 0 0 4 1 0 0 1 1-1 0-4 1-3 0 7 3-5 1 5 1 0 0-2 0 2 0 0 0-8 1 1 6 5 3-4 0-2 6 1 5 5 2-6 11 8-5 6-16-4-4 5 0 4-1-1-1-2-2 1 0-7-1 5 0 4-3-1-1-1 0-1 0-5-1 6 0-6 0 8-1-1 0-6-1-1-1 4 0-3-1 1-2-2 0-1 0 0-4 0-2 0-64 2-11 8 2 4 85-3 1 0 0 2 3-1 0-2 1 3 1 4 0 0 1 2 1-8 0 1 0 6 1-5 0 4 1 2 0-1 2-6 3 5 7-6 17 2-10 13-7-1 0 2-2 0-4-1-3-3-1 1 0-1 0 3-1-3 0-3 0 0-1 8-3-4 0 4 0-5-3-2-94 8-2 3 95 7 2 0 1-6 1-3 2 4 1-3 1 8 0-9 0 6 0-5 4 3 1 4 0-5 4 5 1 1 3-3 0-6 1 2 8 0-7 11 0-3-2 4-2 5-3-2-2 0-3-7-3 4 0-4-1 4-1-3-1 3-2 2 0 1-3-7-124 3 16 13 6-4 5 7 0-5 99 3 1-4 1 6 1-6 1 0 0 1 1 2 2 2 5-7 1 2 2-1 4 0 13 7 8 9-18-1-5-4-4 1-2 1-4-2-5-1-1 3 0 3-1 1-1-1 0 0-1 1-2-1-104-1-1 0-11 9 7-4 2-2 6 7 2-6 1 7 0 1 0 0 1-1 94 1 1 0 2-7 0 3 1-5 1 1 1 4 4 2 2-7 1 6 21-1-27 13-1-2-1-6-3 2 0 1 0-3-2 1 0 5-1-5 0 3-2 2-1-1-91-3 0 1-1 4-3-3-5 0-2 8 4 7 4-1 2-8 87 8 0 0 1-5 0-1 1 0 0 6 2-1 0 0 1 1 1-1 1-1 0-4 2 3 0-4 2 4 0-3 1 4 0 0 0 2 3-8 0 7 1-3 0-3 1 4 1 1 9-3-18 14 0-1-2 3-4-6-1 3-1-6 0 0-1 8-1-2-1 1 0-7-1 9 0 0 0-2-85-2-1 3-5-2-4-5 0 3-1 4 0 3 3 2 1 5 5-6 0-1 0 2 2 5 0-5 1 0 0 0 3 0 1-2 2 6 0 2 0-1 1 1 1-2 72-1 5-2 2-3 2 0 1 5 4-2 4-2 3-1-9 12-6 0-2 4-3 0-2 0-1 2 0-8 0 8 0-8-1-1 0 8 0 1-1-8-1 6 0-4-1 2-1 4 0-1-2-4 0 1-1 1 0 1-2 0 0-3-1 3 0-1-1-1-1 2-1-1-2 2-2 1-46 0-1 0-1-2-1 0-3 0 0-7-1 9 0-3 0 1-1-5 0 5 0-3-2-2-1 5-1-7-1 8 0-2 0 1 0 1-5 0-3 1-2-6 0 6-3-2-32-6 24 16 10-5 1 0 0-2 2 2 0 3 4 1 1 3 7-6 1 2 4-2 1 0 0 2 0-3 1 2 0 4 0-8 2 7 0 0 1-2 1 0 0-1 0-3 1 5 0 2 0-1 1-1 0-1 1 4 1-2 0 1 38-4 1 0 0-1 0-1 1 0 1 4 0 2 0 0 1-5 1-3 0 9 0-9 0 1 1-1 0 1 1 0 0-1 1 1 1 4 1-1 0 1 2-2 0-1 2 0 1 0 0 3 1-2 0 6 2-7 0 5 2-4 1-2 9 0 0-1 1 0-5 10-3 7 0-7-13 4-1-2 0 2 0-2-1 6-3 0 0-5-3 5 0-2 0 3-1-9 0 4 0 0 0 1-1 0-1 0-4 3 0-1-1 2-1 0-22-2-1 2 0-1-4 0 0-2-1 0 0 1 0-2 0 3-1-6 0 2 0 0-1 1-1-3-1 0 0 6-2-8 0 0 0 1-1 0 0 4 0-1-1 2 0-4-1-1 0 1-2 1-1 2 0-5-1 3 0-3-1 8 0-7-1-1 0 5-3 3 0-6-1 5-1-7 0 5-1-2-2 4 0-5-1 4-6-1-15 9 11-4 9 9 0-4 3-5 1 2 1-2 0 5 1 1 2-3 0 2 1-1 1-2 2 5 0-3 3-4 0 3 0 2 0 1 0-1 2-3 3 5 0-6 1 2 1-1 1 5 0-7 1 7 0-6 0 7 1-7 0 7 1-6 2 7 0-6 1 2 2 0 2-1 0 3 1-1 0-1 1 2 2 2 1-4 2 0 2 3 0-2 2 2 1-1 0-3 0 0 0 5 2-2 0-3 0 2 1-5 1-1 0 3 1-1 1 4 0-6 1 2 0 3 1-5 0 0 0 0 3 2 0 1 3-3 1 2 0 0 3 0 1 3 1 4 19-9-23 19-9-9 0 8-2-7-3 8-1-9-2 2-1 5-1-5-1 5-2-1 0-6 0 2 0 2-1-4-2 2-1 3-1-4-3-1-1 5-1 4-2-5 0 3-2-6 0 2-1 0-1 5-5-2-2-6-3 2-2 5 0-6-8 4 0-3-5 4-3-4-52 7 51 2 0 3 2 2 2-4 7 1 3-1 1 2 9 0 1 3 5-7 1 0 1 4 2-2 1-1 4 2 4 0 4-2 2 7 3-5 5 4 2-7 5 4 30-2-28 14-5-2-5-1-7 2-5-1-6 2-3-2-2-1-8-3-20 1-6 3-3 4 9 7 1 0 38 11-11-6" fill="none" marker-start="url(#m3)" marker-mid="url(#m3)" marker-end="url(#m3)"/>
<path transform="scale(.5)" d="M75 8l4-5 8-3 40 4 0-3 1 5 0-5 2-1 0 7 1-3 0-2 0-1 0 4 1-2 0 1 0-1 2 0 0 2 8-1 0 1 0-2 1 1 1 3 1-6 0 6 1-3 1 4 0-2 0-3 1-1 2 5 1 0 1-2 3-2 2 5 0 4-3-1 0 0-3 0 0 0-66-1-44 3 33 15 3-8 85 1 8 0-96 14-2 3-3-7-33-1 15 18 14-6 0 7 4-8 1 4 100 3 0 4-102 2 0 0-5-3-2 5 0-4-7 2-12-2 14 15 5 0 5-5 99-1 25 6-30 11-101-2-3 2-1-7-3 3-1-4-14 13 3-2 1-1 11 3 0 5 2-3 0 4 1-4 0-1 1 3 1-5 1 2 0 1 2-4 1 8 0-5 0-1 1 0 0 6 0-1 110-5-12 15-4-8-93 1-2 7-1-3-1 4-1-5-2 2-1-5-1 6 0-2-11 3-1 0-6-1-4 7 10 2 3-5 5 3 1-1 1 3 1-6 3 6 0 1 0-2 1 4 1-5 0-3 0 6 3-6 92 2 20-1 0 1-23 7-87 9-1 0-1-2 0-7-2 7 0 1 0-8 0 7 0 0-2-3-1-1-2 1-2 0 0 1-10 4 3 7 4-3 4 0 1 2 1-2 3-2 0 6 0-1 1-1 1-1 0-4 0 7 1-3 0 5 1-8 1 5 0-1 1-2 0 5 0-5 2 1 0 5 0-2 2 2 77-7-4 12-7 1-2-3-2 7 0-5 0 5-2-2 0-1-4 3-2 0-1 0-46 0-1 0-1-2-2 1-1-3 0 3 0 1 0-3-1-1 0-5 0 0 0 0 0 7 0 1 0-6-1-2 0 7 0-2 0 0-1-2 0 3 0-5-1 4 0 4 0-1-1-2 0-3 0-2 0 1 0 1 0-2-1 3-1-1 0 5 0 1 0-8 0 1-1 4 0-3-1 0-4 0-1 6-1-6-2-2-1 8-3-1 0-3-2-5-5 2 2 15 9-6 2 4 2 2 0-3 2-4 0 6 0 3 0-9 2 7 2-6 0-1 1 3 1 1 0 3 1-7 0 2 0 7 0-7 1 0 0-2 1 2 0 5 0-1 2 0 0-1 0 3 1-4 1-2 0-1 0 3 0-1 1 0 0 3 2 1 0 0 0-6 0 0 0-1 1 4 0-2 1 5 0-1 0-1 0 4 1 0 0-6 1 3 1-1 1 3 37 0 1-3 0-1 0 1 6 3 2 1 1-3 1 2 27-5-28 10-2-1-4-2-1 1-2 4-1-4 0 0-2 6-2 0-2 1-2 1-19-1-1 1-2-1 0 0-1 0-1-2 0 3-1-1-2-5 0 1 0 3 0-3 0-2-1 6 0-6-1 5 0-1 0-6 0 0-1 4-1 3 0-3-1 1-1-4 0-1 0 7-1-5 0 2 0 3-1-1 0-6 0 4-1-4 0 9-1-1 0-4 0 2-1-3-1 4 0-4 0-3 0 6-1-6 0 8-1-8 0 4 0-3-1 3 0 3-1-2-1-2-1 4-1-4 0 6-2 0 0-8-1 0 0-1 0 3-1 6 0-9 0 1-2 0-1 8-3-5-1-2-2 0-3 3-2 2-3 2 10 3 1 1 1 1 5 5 0-9 1 2 1 2 2 4 0 1 1-2 1 1 3 1 1-9 0 5 1-1 1 3 1-1 0 3 1-9 1 2 0-2 1 4 1-3 0-1 0 0 0 0 1 6 0-6 1 2 0 3 1 0 0-4 0 2 1-2 1 4 0 1 0-5 0 0 0 0 1-1 0 5 2-4 0 1 0 1 2 2 0-3 0-1 0 2 1-2 0 8 0-6 2-3 1 7 0 2 1-9 0 5 1 2 2-1 1 0 3 1 1-1 0 0 2-1 0 4 1-6 3-2 1 7 1-6 0 3 0 2 1-4 2 0 0-2 2 2 4-3 7 0 5 9-6 2-9 4 0-2-4 1 0-2-1 4-5-1-2-4 0 6-1-2-1-5-1 4-1 0-1 1 0-4-1 7-1-2-2-4-4 0 0-2-2 4-1 4-5-2 0 0 0-2-1 4 0-4 0-4-1 9-1-4-1 3-1-7 0 2-1-2-1 2 0-2-2 2 0-3-2 4-1 2-2-6-1 2-3-1-1 5-6 2 0 0 0-7-1 4-1-3-7 5 4 5 1 3 7 0 9 4 2-2 0-3 3-1 2 6 0 0 1-9 2 3 2 2 3-5 2 2 1-1 1 7 2-8 1 3 2 1 0 2 0-5 2 6 1-6 2-1 3 5 2 2 1-1 1-5 0 4 1-3 2-2 0 3-2 10-2-1-2 6 0-4-3 3-15-4-6-2-2-1-1 5-6-4-3 1-5-2 20 17 8-4 20 0" fill="none" marker-start="url(#m4)" marker-mid="url(#m4)" marker-end="url(#m4)"/>
<path transform="scale(.5)" d="M70 0l5 8 4-8 4 7 1-5 1 5 0 0 0-6 1 5 1 0 0-1 1-3 0 1 39-2 1 3 1 0 1-2 0 0 0 0 1 5 1-7 0 5 9-3 0 1 1 1 0 4 3-8 0 3 0 4 6 2 19 8-1-1-6-6 0 4-3 5-4-7-5-1-70 5 0-2 0 0-1 3-1-7-2 9 0-3-19 7 1-1 11 3 2-5 0 7 1-2 1 2 0-2 0 2 1 1 3-8 94 17-6-4-93-3 0 8-2-1 0-1-1-3 0-1-1 1-1 5-1-3-2-2 0 3 0-5-6 2-1-1-2 12 1 3 3 0 1-4 2 6 0-5 1 1 0 0 2 4 0-6 2 5 0-1 1-1 2-4 1-2 95 7-99 6 0 2-1 4 0-4-1 2 0 0-4-1 0-4-2 6-1 0 0-7-1 3-1 2-3 1-3-1-20 1-32 1 54 4 0 1 1 3 2-2 2 2 1-3 1 4 0-3 1 5 1-4 0 1 2-5 0 2 2 3 0-1 0 2 0-6 0 1 0 1 0-2 0-1 1 2-3 8-2 2-2 0-1 3-1-3 0 2 0 0-1 5-2 0-2 0 0-7-1 7-2 0-13 10 11 0 0 0 0-7 1 2 1-4 3 1 3 7 0-2 0 1 0-2 1 0 0 3 1 1 0-8 1 7 1-4 0-3 1 7 0-6 0 2 2 5 107-8-107 11-2 1 0 4 0-5 0 3-2 4 0 0-1-9 0 2 0-2-1 3 0 2 0 3-1-3 0-4-2 0 0 0-1 8 0 0-2-2 0-5-1 7-1-2-1-6-2 4-1-2-2-1-7 15 16-5 2 6 0 0 0 0 1-5 0 1 1 4 0-2 1 1 2 2 0-9 0 5 0 0 1-3 0 5 0-6 1 6 0 5 0 4 0-2 0-1 0 0-1 6-1-8 0 1-1-2 0 0 0 2 0-1 0 5-1-2 0 3-1-5 0 6 0-5-1-3 0 7 0-1-1-5 0 7 0-8-1 2-2 2-1-2-1-2-1 2-2 5-1-1-1-6-1 8 2 8 0-6 1 7 1-3 1-2 2 2 0 2 1-4 1 1 0 0 1-3 0 0 1 6 1 0 1 0 1-3 1 3 0-6 1 0 1 9 1-4 0 1 0-5 0 8 0-8 0 4 1 1 0 2 0-8 0 7 1 0 1 0 1-4 0 4 0 2 0-6 1 0 0 1 0 4 0 1 1-1 1-1 1-1 1 2 3 9-1 0 0 2-1-1 0 1 0-3-1 0 0-3 0 2 0 1-1 1 0-7 0 5-1-2 0 1-1 3-1-6-1 1-1-2 0 5 0-4-1-1 0 2-1 2 0-3 0 3 0-2 0 0-1 2 0-1-2-2 0 2-1 1 0 2 0 0-2 3-1-8-1-1 0 3-5 4-2-5-3 7-2-3-3-3-17 8 13 8 6-5 0 3 3 0 7 1 0-4 0-4 3 8 2 1 0-8 1 8 1-9 0 3 0 0 0 3 1 3 0 0 0-9 1 0 1 0 0 0 1 5 0 0 0 4 1-7 0-2 0 9 0-7 0 4 1-1 0 4 0-5 1 0 0 0 1 4 1 0 0-2 1-6 0 6 0-4 1 5 0-7 0 3 0-3 0 9 1-5 0 4 0 1 1-3 0 2 1-8 0 6 1-5 0 1 0-1 1 5 1 0 0 0 1-1 0 4 0 0 0-9 2 7 2-2 1 3 0 1 41-4 8 5-43 8-2-3-4-5-1 3 0 4 0-4-1 0 0 6 0-5 0-1-1 1 0 4-1-6 0-2 0 9-1-2-1 0 0-4 0 2-1 0-1-5-1 6 0 1 0 1-1-7 0 1-2 1 0-2-2 3 0 5 0-1 0-5-4 2 0-5-1 0-2 7 0-5-3 0 0 6-1 0-4-8 0 9 0-7-2 1-12-1 31 14 1-3 3 0 1 2 1 3 0 0 2 1 1-7 1 4 1 0 3-5 0 0 0 3 1 0 1-2 0 0 2 1 5-2 1 3 1 2 10 3-3 2-5 2-2 6-1-9 0 3-4 0-4 2-4-3-6-2-1 9-7-6 0-2-12 7-19-5 4 10 11 4 1-7 26 2 8 0-49 20" fill="none" marker-start="url(#m5)" marker-mid="url(#m5)" marker-end="url(#m5)"/>
<defs><path id="c73" d="M45 73l0.9 0.9 3.2 1.6 3.3 0.2 3.2-1.3 1.3-1.4 2-2.2 2.1-2.5 1.2-1.5 2.6-3.2 0.6-1.2 1.7-3.5 1.6-4.7 1-4.8 1.6-4.7-0.3-4.7 0-4.7 0.6-4.7 0.4-1.6 0.6-3.1-0.6-1-3.3-3.4-0.3-0.3-0.5-4.7-2.5-1.5-3.2-0.1-3.3-0.2-1.1 1.8-2.2 4.4-1.6 0.3-1.6 0.8-0.7 3.9-2.6 3.8-0.4 0.9-1.2 4.7-1.5 4.7-0.1 0.6-2.1 4.1-1.1 4.7-0.1 4.8-1.5 4.7 0.9 4.7 0.6 2.3 0.7 2.4z"/><path id="c74" d="M49.5 68.3l2.9 1 3.2-1 3.3-2.3 1.8-2.4 1.5-2.1 1.6-2.6 1.4-4.7 0.2-0.7 1.3-4.1 1-4.7-0.1-4.7 0.6-4.7-1.1-4.7-1.7-3.2-1.1-1.5-2.1-2.9-3.3 0.2-1.6 2.7-1.7 2.4-1.4 2.3-1.8 2.1-1.4 2.6-1.9 3.1-0.8 1.6-0.7 4.7-1.4 4.7-0.3 2.9-0.3 1.9-1.4 4.7 1.7 4 0.2 0.7 3 4.6z"/><path id="c75" d="M50.6 63.6l1.8 0.8 3.2-0.7 0.2-0.1 2.6-4.7 0.5-0.6 2.6-4.1 0.7-4.1 0.2-0.7 2-4.7-1.5-4.7-0.7-4.7-3.3-3-3.3 1.2-1.3 1.8-1.2 4.7-0.7 2.1-0.8 2.6-1.9 4.7 0.5 4.8-0.2 4.7z"/><path id="c76" d="M55.5 54.2l0.1 0.4 1.3-0.4 2-4.8 1.4-4.7-1.4-1.9-3.3 1.3-0.2 0.6-0.7 4.7z"/><path id="c77" d="M35.7 64.4l1.1 1.5 4.2 2.4 4.2-0.4 3.5-3.5 0.7-1.6 4.2-3.6 2.8-5.2 1.4-4.5 0.2-0.6 2.3-5.2 1.7-5.1 2.6-5.2 0.2-5.1 0.9-5.2 0.2-5.2 0-5.1-0.3-5.2-1.8-5.1 0-5.2-1.8-0.7-4.2-1.3-4.2-0.5-4.2 0.1-4.2 1.8-0.8 0.6 0 5.2-3.4 4.7-0.3 0.4-2.5 5.2-1.3 5.1-0.1 0.3-2.1 4.9-1.1 5.2-0.5 5.1-0.4 0.9-3.2 4.3 2.1 5.1-0.8 5.2-0.7 5.1 1.1 5.2 1.5 2.3z"/><path id="c78" d="M36.8 54l4.2 4.7 4.2 0.3 4.2-5 4.2-4.5 0.4-0.6 1.1-5.2 2.6-5.1 0.1-0.4 2.3-4.8 1.2-5.1 0.7-3 0.6-2.2-0.6-3-0.6-2.2-0.3-5.1-1.8-5.2-1.5-1.4-4.2-2.4-4.2 0.8-2 3-2.2 4.2-0.6 1-3.6 4.2-0.5 0.9-2.1 5.2-0.9 5.2-0.7 4.3-0.2 0.8-2.1 5.2 0.1 5.1 0.3 5.2 1.9 5.1z"/><path id="c79" d="M42.3 48.9l2.9 1 0.9-1 3.3-2.6 1.7-2.6 2.2-5.1 0.3-0.7 2.5-4.5 0.9-5.1-0.2-5.2-0.8-5.2-2.4-4.5-4.2 0.6-4.2 3.9-3.1 5.2-1.1 1.7-0.9 3.5-0.6 5.1-0.4 5.2-0.7 5.1 2.6 4.6z"/><path id="c80" d="M43.1 38.6l2.1 4 4.2-1.8 1.1-2.2 1.7-5.2-2.5-5.1-0.3-0.6-4.2 0.6 1 5.1-1 1z"/><path id="c81" d="M46.6 80.9l3.1 2 2.8-2 2.3-1.1 4.1-4.5 1.1-5.6 5.1-2.8 5.1-2.6 0.2-0.2 2.3-5.6 1.1-5.5 1.6-3.5 1.2-2.1 1.8-5.6 2.1-5.6 2.1-5.6-2.1-4.9-0.1-0.6 0.1-0.7 2.1-4.9-2.1-5.6-1.8-5.6-3.3-2.9-5.2-2.6-5.1 0.4-5.1 2.5-5.2-0.3-2 2.9-1.9 5.6-1.2 2.5-1.7 3.1-2.3 5.6-0.9 5.5-0.3 2.5-1.2 3.1-2.2 5.6-0.9 5.6-0.2 5.6 0.2 5.5 0.6 5.6 0 5.6 3.1 5.6 0.6 1.6z"/><path id="c82" d="M46.9 69.7l2.8 3.5 5.1-2 0.4-1.5 3.6-5.6 1.2-2.1 3.7-3.5 1.4-4.3 0.5-1.2 4.6-3.7 1.5-1.9 1.8-5.6 1.9-3.8 1.2-1.8-1.2-4.8-0.2-0.8 0.2-0.5 1.4-5-1.4-3.3-2.8-2.3 0.1-5.6-2.5-1.8-5.1 1.8-5.1 1.3-5.2 0.2-2.9 4.1-2 5.6-0.2 0.6-2 4.9-1.6 5.6-1.2 5.6-0.4 4.3-0.2 1.3-0.5 5.6 0.7 3.5 0.3 2 0.3 5.6z"/><path id="c83" d="M48.5 58.5l1.2 2.7 5.1 2.3 2.5-5 2.2-5.5 0.5-0.9 4.2-4.7 0.2-5.6 0.7-0.9 3.2-4.7 0.2-5.6-3.4-5.5-5.1-1.2-5.2-1.7-1.2 2.9-2.6 5.5-1.3 3.3-1 2.3-0.2 5.6-1.1 5.6 1.2 5.6z"/><path id="c84" d="M54.7 53l0.1 0.1 0.1-0.1 0.7-5.6 0.2-5.6-1-5.6-0.6 5.6-0.2 5.6z"/><path id="c85" d="M41.9 73.1l2.1 1.9 5 1.6 5.1 0.4 2.4-3.9 2.6-2.5 3.3-3.8 1.7-1.9 3.1-4.5 2-3 2.3-3.4 1.4-6.3 1.3-3.1 1.6-3.3 1.3-6.4 0.7-6.3 0.5-6.4-0.7-6.4-1.8-6.3-1.6-2.9-3.3-3.5 0-6.4-1.7-0.9-3.1 0.9 0 6.4-2 1-5 3.7-5 1.7-4.7 6.3-0.4 0.6-2.7 5.8-2.3 5.3-0.8 1.1-2 6.3-2.3 5.7-0.2 0.7-0.7 6.4 0.3 6.3 0.3 6.4 0.3 1 1.1 5.4z"/><path id="c86" d="M46.1 66.8l2.9 2 4.4-2 0.7-0.3 5-2.7 3-3.4 2-2.7 2.4-3.7 1.5-6.3 1.2-2.1 2.6-4.3 0.7-6.4 0.5-6.3-1.1-6.4-0.6-6.4-2.1-2.7-5.1-1-5 0.3-3.9 3.4-1.1 1.4-3.7 5-1.4 6.4-3.5 6.3-1.5 4.4-1.1 2-0.6 6.4 0.2 6.3 1.1 6.4 0.4 1.8z"/><path id="c87" d="M49 54l5.1 1.3 5-1.3 3.6-6.3 1.4-2.5 1.8-3.9 0.8-6.4-0.1-6.3-1.7-6.4-0.8-1.2-5-0.9-1.8 2.1-3.1 6.4-0.1 0.2-4.1 6.1-1 4-0.6 2.4-1.2 6.4 1.8 6.3z"/><path id="c88" d="M52.6 41.3l1.5 6.4 5-2.6 2.5-3.8-0.7-6.4-1.8-2.1-3.9 2.1-1.1 0.6z"/><path id="c89" d="M40.1 72.9l4.4 5.6 5.3-2.6 2.3-3 3-4 1.8-1.9 3.5-5.1 0.4-0.7 3.5-5.9 1.4-3 1.5-2.8 0.9-5.8 1.1-5.9 1.2-5.8 0.3-5.8 0.3-4.9 0.1-1-0.1-0.4-1.6-5.4-3.7-4.9-1.2-1-3.6-5.8 0-5.8-0.5-0.3-2.7 0.3 0 5.8-2.6 0.3-5.3 4.9-0.7 0.6-2.3 5.9-2.3 3.7-1.4 2.1-2.9 5.9-1 4.1-0.7 1.7-2.7 5.8-0.1 5.9-1.1 5.8-0.7 5.3-0.2 0.5 0.2 0.5 1 5.4-1 5.8 5.3 4z"/><path id="c90" d="M43.7 67l0.8 1.4 5.3-1.1 0.2-0.3 5.1-5.4 0.3-0.4 3.8-5.9 1.2-2.3 1.9-3.5 1.2-5.8 1.1-5.9 1.1-2.5 1-3.3 0-5.8-1-2.7-1.5-3.2-3.4-5.8-0.4-0.4-1.8 0.4-3.5 0.6-5.3 4.7-0.4 0.5-4.9 5.9-2.1 5.8-1 5.8-1.6 5.9-0.1 5.8-0.5 2-1.1 3.8 1.1 3.3 0.8 2.6z"/><path id="c91" d="M42.8 55.3l1.7 4.7 5.3-0.3 4.8-4.4 0.5-0.8 2.5-5 2.2-5.8-0.2-5.9 0.8-2.8 1.3-3-0.1-5.8-1.2-2.5-5.3-1.5-4.2 4-1.1 1.2-3.2 4.6-1 5.8-1.1 2.1-1.9 3.8 1.9 5.8z"/><path id="c92" d="M49.6 49.5l0.2 0.5 0.2-0.5 3.8-5.8-4-5.1-1.7 5.1z"/><path id="c93" d="M36.1 68.2l4.4 0.2 4.3 0.6 1.1-0.8 3.2-2.8 1.9-2.3 2.4-2.6 2.3-2.5 2.1-2.9 1.4-2.1 2.6-5.1 0.3-0.6 2.1-4.4 0.4-5.1 1.8-2.9 1.6-2.1 1.1-5.1-1.2-5.1 0.8-5-2.3-5.1-1.3-5-3-3.7-1.8-1.4 0-5-2.5-1.1-2 1.1 0 5-2.4 1.8-4.3 2.6-0.5 0.7-3.8 2.9-1.4 2.1-2.9 4.3-0.7 0.8-2.8 5-0.9 2.6-0.8 2.5-0.9 5.1-1.3 5-0.6 5.1-0.2 5-0.4 5.1 1.4 5 2.8 3.3 1.2 1.8z"/><path id="c94" d="M41.3 58l3.5 2.4 3.3-2.4 1-0.8 4.3-4.2 3.8-5.1 0.6-1.5 1.6-3.5 1.7-5.1 1-5 1.2-5.1-0.1-5.1 0.1-5-1.2-2.3-3.4-2.8-0.9-0.8-4.4-1-2.5 1.8-1.8 1.1-2.5 4-1.8 2.2-2.6 2.8-1.7 3.1-1.2 2-1.1 5.1-1 5-1.1 3.9-0.2 1.2 0.2 1.7 0.5 3.3 1.4 5.1 2.5 4z"/><path id="c95" d="M42.5 47.9l2.3 1.5 4.3 0.1 1.5-1.6 2.8-3.6 0.7-1.4 3.7-4.9 0.1-0.2-0.1-5 1.2-5.1-1-5.1-0.2-0.4-4.4-0.2-4.3 0.2-0.4 0.4-2.9 5.1-1 1.6-2.1 3.5-0.6 5-0.2 5.1z"/><path id="c96" d="M44.5 37.8l0.3 2.8 4.3 2.3 3.9-5.1 0.4-1.7 0.7-3.3-0.7-2.2-1.3 2.2-3 1.8-4.3 2.3z"/></defs>
<g fill-rule="evenodd"><use href="#c73" fill="#fff"/><use href="#c74" fill="#8000ff" fill-opacity="0.15"/><use href="#c75" fill="#8000ff" fill-opacity="0.15"/><use href="#c76" fill="#8000ff" fill-opacity="0.15"/><use href="#c77" fill="#fff"/><use href="#c78" fill="#1996f3" fill-opacity="0.15"/><use href="#c79" fill="#1996f3" fill-opacity="0.15"/><use href="#c80" fill="#1996f3" fill-opacity="0.15"/><use href="#c81" fill="#fff"/><use href="#c82" fill="#4df3ce" fill-opacity="0.15"/><use href="#c83" fill="#4df3ce" fill-opacity="0.15"/><use href="#c84" fill="#4df3ce" fill-opacity="0.15"/><use href="#c85" fill="#fff"/><use href="#c86" fill="#b2f396" fill-opacity="0.15"/><use href="#c87" fill="#b2f396" fill-opacity="0.15"/><use href="#c88" fill="#b2f396" fill-opacity="0.15"/><use href="#c89" fill="#fff"/><use href="#c90" fill="#ff964f" fill-opacity="0.15"/><use href="#c91" fill="#ff964f" fill-opacity="0.15"/><use href="#c92" fill="#ff964f" fill-opacity="0.15"/><use href="#c93" fill="#fff"/><use href="#c94" fill="#ff0000" fill-opacity="0.15"/><use href="#c95" fill="#ff0000" fill-opacity="0.15"/><use href="#c96" fill="#ff0000" fill-opacity="0.15"/></g>
<g fill="none" stroke-width="1.20" stroke-linejoin="round"><g stroke="#8000ff"><use href="#c73"/><use href="#c74"/><use href="#c75"/><use href="#c76"/></g><g stroke="#1996f3"><use href="#c77"/><use href="#c78"/><use href="#c79"/><use href="#c80"/></g><g stroke="#4df3ce"><use href="#c81"/><use href="#c82"/><use href="#c83"/><use href="#c84"/></g><g stroke="#b2f396"><use href="#c85"/><use href="#c86"/><use href="#c87"/><use href="#c88"/></g><g stroke="#ff964f"><use href="#c89"/><use href="#c90"/><use href="#c91"/><use href="#c92"/></g><g stroke="#ff0000"><use href="#c93"/><use href="#c94"/><use href="#c95"/><use href="#c96"/></g></g>
</svg>
<svg x="155.04" y="342.05" width="108.00" height="108.00" viewBox="0 0 108.00 108.00">
<path transform="scale(.5)" d="M67 4l21-2 0 1 1 0 5-2-35 116-1 0 2 4 0-1 2 9 5 9-2-2-1-3-1-2-3 8 1 7 5-3 0-1 1 1 1-1 0 2 1-4 0 9 1 0 0-6 0 0 1-1 0 3 0-1 1-1 0 3 0 2 0 1 0 0 0-1 1 0 0-2 0-1 1 3 0-2 0 3 0-1 0-1 0 2 13-1 1 1 1 0 1 0 0 1-1 0-1 7 0-1 0-3-1-3 0 0 0 7 0-5-1 2 0-3 0 4-1 0 0 3 0-4 0 3-1 1 0-2 0 1 0 0-1 1-1 0-1 1-1 0-1-1-3-1 0-2 0 3-1-3 0 0 0-4 0 0 0 2 0-3 0 0 0 3 0 0 0 1-1 5 0-7 0 2 0-4 0 6 0 2-1-1 0-7-1 1 0 4 0 0-1 0 0-2-1 0 0 5 0-5 0 3-1-6-1 1-4 6 7 4 1-1 1 7 1 0 0 0 1-6 0 3 0 0 0 3 1 0 0 1 0-4 1-1 0 6 0-2 1-7 0 0 0 5 1-4 0 7 0-2 0-3 0 4 1-7 0 0 0 4 0-3 1 0 0 2 0 4 1-6 0 0 1 2 0 1 0-1 1 6 0-1 0-6 1 0 1-1 0 6 1-1 0 1 0-7 1 7 0 2 0-6 4 4 11 4-14-1-1 7-2-3 0-3-2 1 0 0-1-2-2 2 0 7 0-9-2 3 0 1-2-3 0 3-1 3-3-7 0 1-2 0 1 16 2 1 0-5 5-3 0 5 4 3" fill="none" marker-start="url(#m0)" marker-mid="url(#m0)" marker-end="url(#m0)"/>
<path transform="scale(.5)" d="M90 7l2-6 2 4 3-3 2 3 1-1 0-2 1 0 1 4 0-5 1 2 0-1 0 6 0-6 1 3 0-4 0 4 1-1 0 2 0 1 0-7 0 6 0-5 1 7 0-3 0-3 1-1 0 3 24-2 1-1 0 4 0 1 0 0 0-3 0 2 0 2 0-4 1 5 0-6 0 2 0 4 0-7 0 6 1-4 0 5 0-7 0 6 0-4 1 6 0-9 0 6 0-3 1 4 0-4 0-1 0 7 0-1 1-5 0 6 0-9 0 1 0 2 0-1 0 7 1-3 1 2 0-1 0 1 1-2 0 1 2 0 0 0 1-5 2-2 0 9 2-4 2-3 0 5 1-1 4-1-3 9-5-1-2 2 0 3-1-1-1-4 0 5-1-4 0 3 0-6-2 2-1-3 0 4-1-2-1 5 0 1 0 1 0-4 0-4-1 0 0 0 0 1 0 8 1 0 0 7 0-7 0 0 0 7 0-3 1 5 0-9 0 9 0-3 0-6 0 2 0 0 0 6 1-4 0 5 0 0 0-5 0-1 2 4 0-4 0 6 0-7 1 2 0 4 0-4 0-1 2-2 0-1 0 2 0 0 2-2 1 9 0-6 1-1 0-2 0 3 0-3 1 1 1 8 12-7-5 11-6 2-1 0-1 4-1-7 0 1-1 6 0-1 0-2 0 3-1-5-1 1 0-4-1 0 0 1 0 7-1-3-1-3-1 4 0-2 0 2 0-1 0-3 0 2-1 1 0 2 0-4 0 3 0-1 0 1 0-6-1 8 0-8 0 1 0 4 0-6-1 3 0 4 1 3 0 4 0-2 0 6 0-8 0 0 1 5 0 4 0-1 0-3 0 4 0 0 1-4 0-1 0 5 0-1 0-5 0 6 0-7 1 4 0 2 0-6 0 0 0 1 1-1 0-1 0 6 1 1 0-8 1 0 0 2 1-1 0-1 0 6 1-5 2 0 0 5 3-3 12 6-9 6-3-2 0 6-1-1 0 1-1-3 0-1 0-1-1 2 0-5 0 6-1-1 0-2-1-3 0 3-2-4-1 7 0-5-1-2 0 2 0 6 0-1-1-1 0-1 0 3 0-3 0 1 0-3 0 2-1 1 0 1 0 0 0-4 0-2 0 2-1 1 0-1 0 0 0 1 0 2-1-6 2 13 0-3 0 8 0 0 1-6 0 6 0-8 1 5 0-1 0 4 0-8 0 0 0 2 1 6 0-2 1-6 1 2 0-1 1 2 0 6 1-6 0 5 1-3 0-1 0-3 1 4 1 0 8 0-5 7-1 3-1 4-1-2-2 1 0-6-3 1-1 3 0-2 0-3 0-1 0 9-2-9 0 4 0-2 0 7-1-7 0-1 0-1 0 6 0 1-1 1 0-1 0 1 0 0 0 0-1 1 0 0 0 10 1-3 0-6 0 1 0 8 0-8 0 3 0-3 1 7 0-7 0 8 0-8 0 8 1-9 0 8 0-6 0-2 0 9 1-8 0-1 0 8 1-8 0 5 0-2 1-2 0 8 1-1 0-6 1 4 2-4 0 1 1 6 0-5 3 4 0 5-8-3-1 7 0 2-2-6 0 6-1-9 0 3 0-2 0-1-1 2 0 3 0-1 0 3 0-4-1 4 0-6 0 3-1-1 0-1-1 7-3 7 0 1 0 2 1-3 0 2 0-2 0 0 1-5 0 6 0 1 0 1 0-9 0 8 0-7 0 6 1 1 0-6 0 6 0-7 1 8 0-4 1-2 0 2 0-3 0-1 0 0 1 0 0 7 0-7 0 5 0 3 0-1 1-8 1 9 1-8 0 5 0-4 2 5 3-3 0 3 1-1 2-3 5 15-7-8-2 4-2 1-1-4-3 6-1-6 0 2 0 3-1-2 0-1 0 0-1 1 0 4 0-7 0 4-1 2 0-3 0-3-1-1 0 3-1-1 0-1 0 6 0-2 0-5 0 4 0-1-1-2 0 7 0 1 0-1 0-6-1 1-7 16 1-1 0 1 1-1 1-4 0 2 0 0 1 3 0-1 1-4 0-2 0 7 0-1 0-6 1 1 0 3 0-4 0-2 0 1 1 1 0-1 0 0 0 2 1 3 0-5 0 8 0-5 1 2 0-3 0-3 0 8 1-5 0 2 1-2 0 2 1-2 0-3 0 7 1 0 0-3 0 4 1-4 1 4 0-6 0 5 0 1 3-4 2 3 1 1 0-4 1-2 5 17-3-7-5-1-3 7-4-7-2 0 0 3 0-3 0-1 0 2-1-2 0 7 0-5-1 0 0 0 0 1 0 6 0-1-1-1 0-7 0 3 0 1 0-1-1 1 0-4-1 5 0 1 0-3 0 3 0-6 0 2-1-1 0 7 0 0 0-4 0-2-1-1 0 7 0-6-1 2 0 5 0-9 0 1-1 3 0 3 0-6 0 5 0-2 0 0 0 1-1 3 0-5 0-3 0 1 0 2 0 5 0-6 0 6-1 1 0-6-1 3 0-1 0-1 0 5 0 0-1-5 0 1 0-2 0 2-1 4 0-2 0-2 0 4-1-1-8 11 1-2 2-1 1 3 1-5 0-4 0 6 1-3 0 3 1 0 0-4 0 6 0-1 0-3 0-4 0 0 0 0 1 7 0 2 0-2 0-7 0 0 0 6 1 2 0-6 0 2 0-2 0 4 1 0 0-5 1 7 0-7 0-1 1 7 0 0 0 1 0 0 0 1 2 0 0-9 0 1 0 7 1-3 0 1 0-4 0 1 0 0 1 0 0 4 0-3 1-2 0 4 0 0 0 3 0-3 2-5 0 4 0-1 0-4 1 3 0-2 1 5 0-6 1 0 1 1 0 2 0 5 0-6 1 5 2-2 1 2 1-3 0-3 1 0 0 0 7 4 1 0-7 12-5-7-1 3 0 6 0-3-1-2 0 3-2-4-2-2 0 6 0-4-2 1-1-2-1 1 0-2 0 3 0 2 0-1-1-2 0 6-1-5 0-4-1 4 0-4-1 7 0-4 0 2-1-2 0-3 0 6-1-4 0 4-1 2 0-6-1 7 0-8-1 1 0 2 0 2 0-2-1 2-1 2-1-7 0 6-1-2 0-5-1 9 0-3 0-5 0-1 0 0-1 5-1-2 0-3-1 4-4 0 0 0-1 1-3-2-2 6-2 0-2 2 3 3 0 0 1 2 0 0 5-6 0 8 2-6 1-2 1 9 3 0 0-6 1 5 1-5 0-3 0 6 0-6 0 0 0 2 2 5 0-6 1 1 0-2 0 2 3 3 2-1 1 2 0 1 3-2 0-4 1 1 2 0 0 0 1 0 2 0 0 1 2 2 3 1 13-3-20 10 0-3-2 2 0 2-1-1-2 5-5-2-3-1 0 3-1-6-6 1 0 2-3 0 1 12 3-7 8 6 3 2 4 1 0 0 0 0 0 0 3-1-12 8-18 2 8 8 10-4 15 4" fill="none" marker-start="url(#m1)" marker-mid="url(#m1)" marker-end="url(#m1)"/>
<path transform="scale(.5)" d="M63 2l1 1 1 3 0 0 0-4 5 2 0 0 0-1 2-2 0 1 14 3 0-5 1 5 0-1 1-1 0-2 1 1 0-1 1 2 0 1 0-1 3 3 1-3 2 3 0-6-43 116 7 11 8 12-1-1-3 0 0-4-3 1 0-1-1-1-2 3 4 9 1-5 2 4 1 0 0 5 0-7 1 4 1-2 0 0 1 5 0-7 0 5 0 1 0-2 0-3 0 1 1 4 0 1 0-3 0 1 1 2 0-3 0-1 0 0 0 3 0 0 1-4 0 4 0-4 0 1 0 4 0-5 1 4 1 1 0 0 12 0 1-1 0 1 1 0 0 0 1 0 7 8-3 0 0 1-1 1 0-4-1-4 0 8 0-5 0-4 0 1-1 4 0 0-1-5-1 1 0 3 0-4 0 8 0-5 0 3 0-2-1 0 0 3 0-3 0 1 0-5 0 6 0 0-1-5 0 5 0 1 0 2 0-3 0-2-1 1 0 3 0-1 0-5 0 1 0 4 0 1 0-4 0 1-1 3 0-1 0 1 0-1-1 0 0 1-1 0 0 0 0 0-1 1-1 0-1-1 0 1 0-1-1 1 0-1-1 1 0-3 0 3-1-3 0 3 0-4 0 0 0 4 0-4-1 4 0-8 0 0 0 6 0-3 0 3-1-4 0-1 0 0 0 5 0 0 0-1-1-4 0 4 0-2 0 4 0-5 0-3 0 5-1-4 0 5 0 2 0-3 0-3 0 7 0-7-1 6 0-4 0 3 0-7 0 1-2 3 0 2-4 3-1-3-9 0 10 10 2-6 0 5 1-3 1 6 0-7 1 7 1 0 0-5 1 6 0-6 0-3 0 5 0 4 0 0 1-3 0-5 1 1 0-2 0 2 0 7 1-7 0-1 0 7 0-2 0-2 0 1 0-4 0 0 1 5 0-5 0 3 0-4 0 5 0 3 1-3 1 4 0-5 0 2 0-6 0 0 0 6 0 3 1-6 0-1 0 3 0 3 0 0 0-7 1 1 0 0 0 6 0-7 1-1 0 2 0 5 0-6 0 4 0-5 0 3 1-2 0 5 0-6 0 4 0-4 0 4 0-2 0-1 0 7 0-6 1 4 0-3 0 6 0-2 0 2 1-7 1-2 0 7 0-7 0 3 0 1 0-3 1-1 0 0 1 3 0 6 0 0 0-8 0 0 0 4 1 2 0-7 0 5 0 0 1-1 1-1 0-2 1 3 0-2 0 1 1-3 0 0 3 0 3 4 2 13-6-4-1 0 0 0-1 5-1-7-2-1-1 3-1-2 0 4-2 2 0-6 0 7-1-8-1 9 0-6-1 4 0-5 0 2 0-2-1 2 0-4-1 1 0 2 0-2 0 6-1-1 0 3-1 0 0-8-1-1 0 8 0-8-1 9 0-6 0-3 0 2 0 0-1 1 0 1 0 3-1-3 0-1 0 5 0-5-1 5 0 0 0-6-1 3 0-5-1 5-1 1-3-5-3 6 5 5 1 6 1-2 1 3 0-6 2 2 1-2 1-2 1 5 0-3 0 0 1 0 0 2 0-2 0-2 0-1 1 4 0 1 1-2 0-1 0-2 1 2 1-1 1 5 0-3 1 6 3-7 1 5 2-7 0 8 3-5 2 4 9-6-11 10-1 1-3 7 0-5-2 0-2-4-1 7-1-7-3 4-1 0-1 2-1 1-1-7-1 0 0 0 0 0-1 5-1-5-4 5 0-5-3 1-3 5-1 4 12 2 4 1 0 1 1-4 0 6 1-1 2 3 0-5 1-3 1 1 2 1 1 6 2-2-2 12-6-4-7 1" fill="none" marker-start="url(#m2)" marker-mid="url(#m2)" marker-end="url(#m2)"/>
<path transform="scale(.5)" d="M50 3l2-3 6 4 1-2 5-1 3 5 3-4 1 1 1 1 14-1 1-3 0 0 0 1 0 0 0 3 2-4 0 3 1-3 2 3 0-1 1 4 0-5 2 0 0 3 1-3 0-1 1 1 0 3 0-4 1 5 1 1 0-5 0-1 0 5 0-1 2 0 0-4 0 5 1 1 1-4 2-1 1 5 26-4 0 3 7-3 5 2 47 15-31-3-10 2-2-2-2 0-6-3-2 0-87-3-1 0-31 18 15 0 103 0 1-6 0 2 3 4 9-8 8 6 3 6-5 2-7 0 0 3-1-2 0 4-1-7-1 4-3 0 0 0-2-2-1-4-1 8 0 1 0-5-1 2-1-4-100 4-2 1-4 2-1-5-18-4-3 9 129 6 0-1 0 4 0-7 0 4 2-3 0 2 0-1 1 4 1-2 2 0 3-5 1 3 3 2 8 2 2-5 8 15-8-6-8 5-3-2 0-3 0 2-2 3-2-3-2 1 0-1 0 6-1-7 0 7 0 0-1-2-1 2 0-9-1 5-1-2-116 14 3 0 4-7 3 5 108-4 0 3 0 1 1-3 0 4 3-2 0-4 0 7 2-3 1 1 1 3 1-6 1 1 1-1 3 6 1-1 2 1 11-3 20 2 7 4-17 6-13-7-4 7-7-5-2 2-1 0-2 4-1-7-2 0 0 7-1-1 0 2-1-4 0 3-1-1 0 0-1-4 0 3 0-2-1 4 0-4 0-1-2 3 0-2 0 2 0 1 0-5-108 7-12-2 8 3 0 2 5-1 1 1 106 2 2-3 0 0 1 1 1-1 3 2 1 2 1 1 0-6 1 8 0-1 0-3 1-3 1-1 3 9 6-4 6-1 2 2 22-6-30 12-3-2-7 2-2 4-1-6 0 8-1 1-1-9 0 3 0 1-1 2 0-2-1 3 0-3 0 0-1 5-1-7-1 2 0-2-1-1 0 2-1 6 0-3-1 2-109-8-6 2-18-2 18 16 3-4 5-1 10 3 2-3 93 1 1 7 0 0 1-6 2 3 0-2 1 1 1-1 0 3 3-6 2 6 8-3 1 1 16 2 2-4-21 15-7-2-1 1 0-2-1 3-1-3-2 0 0-5 0 5-1 4-1-5 0 2-2-1 0 4 0-6 0-1-1 3 0-1-2 5 0-5 0 1-1-1 0 1-78 4-2-3-1-2-1 2-1-1 0-1-3 4-2-2 0-4-3 1-6 4-2 1-7-1-21-4 24 11 2-1 3-1 4-1 8 1 1 3 1 1 0-6 3 0 0 4 0 5 1 0 0-8 0 2 3 2 0-3 1-2 0 1 0 2 1 5 1-5 0-2 1 8 0-4 0 1 1 2 2 1 64-3 2 0 0-2 1 0 0 2 0-2 1 1 1-2 0 0 1 1 1-3 0 0 0 4 1-2 1 6 2-7 0 6 2-3 0-1 1 0 3-1 2 2 2-1 2 1 2-2 4 0 8 8-4 2-10 0 0-3-2 3 0 2-6-4 0-1-5 0 0 4-1 1-1 4-1-7 0 1 0 4-1-6 0 2 0-3-1 6-1-5-1-1 0 3 0 4-1 1 0-3 0 4 0-7 0-1-1 5 0-4-1 1-1 0 0-1-1 7 0-8 0-1-1 3 0 5-1-3-1 0 0 4-1-2 0 2-54-1 0 0-1-1-2-5 0-1-1-1 0 0 0 1 0 0-1 3 0 4 0-4-1-4-2 5-1-2-1 2-4 0 0-1-3 5-5-7-2 0-15 5 17 12 2-6 3-1 2-2 1 0 2 1 2 0 1 2 0 4 1-2 0-5 1 3 2-3 1 2 0-2 0 3 1 3 0-4 0 2 1 0 0-2 1 6 0 1 1-2 2 1 0-6 0 3 1-1 0 4 0-3 1-2 1 6 3 0 0-1 14 1 0 0 1 0 0 0 23-1 3-3 0 1 0 0 1-1 1 4 0-1 0 0 0-5 0 0 1 0 1-1 0 1 1 5 0-8 0 1 2 3 0 5 1 0 0-8 1 1 0-1 0 0 0 5 1-1 1 1 0-4 1 7 0-9 0 7 0 0 0-5 1 3 0 2 0-2 1-3 0 5 2 2 0-8 1 2 1 4 0-5 1 4 0-4 13 0 23 2-24 6-5 3-3 1-1 3-1-2-2 3 0-4-5-1 0 1 0-1-1 5 0-8-2 9-3-7-1 3-1 3-2-6 0 4 0-2 0 3-1-7 0 0 0 7 0-5-1 1 0-2 0 4-1 1 0 0 0-6-3 2 0 0 0 3 0-3-1 5 0 0-1 2 0-4 0-1-1-1 0 1-1 1 0 2-1-1 0-4-1 1 0 5-1-6-1 1 0 2-1 0 0-3 0 3 0 0 0 0-3 4-1-2 0-3 0 1-2 3-1 1 0-4 0 3-1-2 0-2-1 2 0-2 0 2-1-1-1-1 0 3-1 0 0-4 0 3 0 0-2-4-1 6-1-6 0-2 0 8-1-6 0 5 0-6 0 1 0 5-1-2 0-1 0-2 0-2-1 4 0-2-3 7-4 0-1-2 0 2-2-4 0 0-1 3 0-3 0 1 0-4-1 3 0-3 0-2 0 1 0 1-1-2 0 0-1 0 0 2 0 0-1 5 0-3-1 1 0-4-1 3 0 1-2-5 0 4 0-2-2 6-1-2-1-3 0-3-7 8 0-7-1 3-3 5-1-1-1 1 3 8 4-7 3 0 1 5 2-1 2 4 5-8 0 2 4 2 0 1 2 3 0-5 1 1 1-1 2-2 0 5 0-1 2-5 0 4 1 3 0-7 0 1 1-1 1 8 0-3 0-4 2 2 2 6 0-8 1 2 1 4 0-5 1-2 1 0 0 7 1-7 1 2 0 1 1-3 0 0 1 7 0-2 1-1 0-2 1 2 0-3 1 2 1-2 0 4 0-5 2 2 0 3 1 4 1-2 0 0 0 1 0-2 0-6 3 9 0-9 0 0 1 5 1-3 0 0 1 4 0-1 0-3 7 4 0-1 1-5 0 5 0 4 1-7 1 4 1-4 3 0 1 2 8 5 8-9 4 6 0-1 5 2 8-5-14 11-4 1-4-2-3-2-2 0-2 4-7-2-4-2-2 1-2 7-2 1-1-8-1 0-2 6 0 0 0-5-1 0-2 4-3-4-1 7-2-2-5 2 0-7-1 3 0 2-1 1-4-3-1-5 0 0-5 1-1 5-3-4-1-2 0 9-6-3-1-1-5-2-1 10 1-3 1 6 1-2 2 0 2 3 2 0 7-5 1 2 2-1 1-2 0 3 1 4 13-7 4-1 1 3 3-1 1 0 3-2 5 3 2-2 1 1 17 2 0 12-27-2-2-1-1 2-1-1-2 4-10-7-1 3-2-4-6 3 0 3-13-2 37 11 3 0-3 5-15 6" fill="none" marker-start="url(#m3)" marker-mid="url(#m3)" marker-end="url(#m3)"/>
<path transform="scale(.5)" d="M45 9l4-7 0 3 1-2 1-1 0 5 6-5 0 2 0-1 0 5 2-3 2-3 0 1 1 1 3-1 0-1 5 2 16-2 0-2 0 0 0 0 0 2 1 2 1-3 1-1 0 4 0-1 0 1 0-4 1 5 0-3 0 2 0 1 2 1 0-2 0 1 1-5 1 4 1-2 1 0 0 1 2-1 1-2 0 5 0-4 0 3 1 0 0 1 1-2 0 2 0-4 2 2 0 5 0-4 1 3 1-5 0 6 2-5 27 3 16-3 10 8-20 0-1 5-2-1 0-4-1 2-81-3-9 0-13 2-8 15 15 1 2-1 94 1 0-6 4 5 22 1-8 7-2-1-2-1-3 3-4 2-2-8-2 4-104-2 0 4-8-4-14-1-10 0 135 9 0 9 1-6 1 6 2-5 0 3 0 1 1-1 1-1 2 3 4-5 0 4 1-2 6-6 4 6 2 10-5 2-3-6-3 6-1-6 0 5-1-7-1 2-3 2-3 0-2-2-1-1-1 4-107-5 0 9-3-7-5-1-3 1 0 6-4-5-3-2 4 12 10 1 4 0 109-2 1 1 1 3 0 1 0-7 1 7 1-4 1-1 1 6 2-8 2 6 12-2 23-3-16 15-19 2-5-2-2 2-1-2-1 2 0-3-1 4 0-5 0-1 0 3-1 1 0 1-113-1-4-2 12 12 107-7 1 2 0 0 2 0 0-2 6 0 11 0 2 3-8 16-1-8-3 2-1 4-3 0-1-7 0 7-1-4 0 6-2-7-3 2 0-2-1 2-2 3-1 1-100-1-9 8 5-4 5 5 4-3 92 4 0 0 1-2 0 4 1-9 2 6 0-4 1 4 0-3 1 2 0 4 2-7 2 1 2 6 0-7 0 0 0 6 0-6 2-1 2 2 5 1 11 9-10 5-2-7-13-1-1 7-1 1 0-3-1 1-1-2 0 0 0 0-2 2 0-6-1 0-76 7-1 2 0-2 0 2-1-2-5 0-1-2 0-2 0 2-1-2-3 2-1-5-1 5-6 2-2-2-1-5-4 8 14 4 1-1 1 5 2-1 2-4 0 2 2 3 0-6 1 1 0 6 0-6 1 4 1-5 0 3 0 4 1-6 0-1 1 6 0 3 1-9 0 8 1-4 0 1 0 3 2 1 0-1 0-2 68 2 0-1 0-1 1 0 1-1 1 3 2-6 0 5 1-5 1 4 0-6 3 6 3-2 13 2 0 4-6 3-3 2-3-5-2 7-3 2-3-4-5-4-1 8-2-9 0 3 0-3-1 3 0 1-1 1-1-5 0 2-2 1 0 3 0 3 0 0-1-3 0 3 0-4-1 4 0-3 0 2 0 1-53 0 0-1-1-1 0 2 0 0-1-3 0 0-1-2 0 1 0 4-1-7 0-1-1 0 0-1-1 3 0-2-1 7 0 1-1-6-2 0-1 5-2 0 0-3-2-5 0 2-6 4 0-3-1 0-1-1-4 1-6 5-19 4 9-1 27 5 5-6 2 4 0-1 1-1 0 2 2 4 1-2 0 3 1-2 0-1 1 3 0-3 1-3 1-1 0 1 0-3 1 5 0 1 1-5 0 4 1 3 0-8 0 8 0-3 2 0 1 4 2-1 12 1 28-3 0 2 1-5 1 1 0-2 0 2 0 3 0-3 0 5 1-3 1-2 1 2 1 2 0-8 0 2 1 2 2 4 0-5 1-1 1 4 0 1 0-7 0 8 0-8 0 7 1-2 1 0 1-2 6-1 0 0 6 2 2-3 1 12 0 4-8-7-2 0-1 9-2-9-3 5-1-3 0 0-6 0-2-2-2 3-1-1 0 6 0-7-1 0-1 8-1 0 0-7-1-2-1 4 0-1 0 5-1 1 0-5-1 5-1-5-1 2 0 2 0 0 0-2 0-1 0 2 0-2-1-1 0 2 0 1 0-4 0 5-1-1 0-4-1 5-1-2 0 1-1-2-1 3 0-4 0 3-2-1-1-2 0 0-1 1-2 0 0 0-1 1 0 2-1-3 0 0 0-1 0 0 0 1-1-1 0 3 0-3 0 2 0 0-1-4 0 5 0-6 0 5-1-3 0 2 0 0 0 0 0 1 0-2 0-4-1 0 0 3 0 6-1-4-1-3 0 7-1-8 0 2 0 0 0-1 0 1 0 4 0-3-2 5 0 0-1 0-3 0-4-2-1-4-1-1-1 2 0-3-1 0 0 3-1-1-1 4 0 1-1-8-2 1 0 6-1-3 0-2 0 3 0 0-2-3-1 1-2 3-1-3-1 5-3-1 0-6-1-1-1 4-3-3-2 7-5-1-2-5-4-1-7 18 25-7 2-2 7 8 2-5 1 2 1-3 0 1 1 0 0 4 2 1 1-7 3 1 0-1 0 3 0-1 2 4 0-6 1 1 1 5 1-3 1-3 0 3 1-1 0 6 1-7 1 7 0-4 0 4 1-8 1 6 1-7 0 2 0 3 0 3 0-8 1 4 2-3 1 8 0-9 0 1 1 4 3-4 1 1 0-2 1 6 0-1 1-5 1 2 1-1 0-1 0 6 2 3 0-7 0-2 1 6 0-5 4 5 0 3 1-9 0 3 1 2 2-3 0 3 0-4 1-1 0 0 1 1 3 5 0 0 0-6 0 7 1-4 0-2 0 2 1 4 1-1 2-1 1 0 1 4 2-9 2 1 3 2 2-1 23 14-9-3-10 2-7 2-6-4-4-2-1 3-7 5-1-8-1 1-1 0-1-1-1 4-1-2-2-3-1 8-1-3-1-1-1-2-4-1-1 7-1-3 0-5-1 1-1 7-2-2 0 2-1-7-1 7 0-2 0-2 0 2-1-4-2 2 0 4-1-6 0 2-1 3-1-3-1 2 0-5-1-1-2 4 0-4-2 3-2 2-2 0-1-4-4 5-8 2-2-8 5 13 2 0 3-3 0 8 6-5 4 4 4-2 2-5 4 6 3 1 0 2 1-7 1 0 1 3 1 4 1-8 0 0 1 6 0-6 2 2 0-3 6 4 4 0 2-3 3-1 4 0 3 9 0-7 3 4 3-1 11 0 13 0-19 7-11-1-2-1 0 0-15 7-13-4 0 0-2 5-2-3-1-3-1-1-22 3 4 9 7 0 26 4" fill="none" marker-start="url(#m4)" marker-mid="url(#m4)" marker-end="url(#m4)"/>
<path transform="scale(.5)" d="M25 5l4 2 1-3 0 4 4-3 0 0 3-3 2 2 1 0 0 0 1 4 0-1 3-4 1 1 1-1 0-3 2 2 1 4 3 0 1 0 0-2 1 4 1-1 0 0 0 2 1 0 0-7 1-1 0 6 0 2 1-2 0-6 1 0 0 7 1-6 0 5 1-1 1-4 0 2 0-4 3 5 1-5 1 2 0 1 0 2 1-3 0 3 1-3 1 0 1 0 0-1 1 4 14-2 0 1 2-1 0 1 1-3 1 4 0-4 1 4 0-1 0-4 0 1 1-1 1 0 0 2 0-1 0 2 1 3 0-6 1 5 0-1 2 1 2-1 0 0 0 1 2 1 4-1 1-3 30 4 4-1 0 1 6 3 2-6 5 13-9-2-2 0-1-2-2 7-1-1-3 0-81-8-3 2-2 2 0-2 0 2-1-4 0 0 0 2-1 1 0 3-1-1 0-1-2 0 0-3 0 5 0-2-1 4 0-5-1-3 0 1 0-1-1 0 0 0-1 1-2 1-1 0 0 6 0-3-1 3 0-3-1-5 0 4-4 2-2 1-3-2-2 4-2-2-1 0-10-4-1 1-10 4 6 6 12-2 1-1 1 5 4 2 1-4 1 3 2 2 0-7 3 4 0 1 1-3 3-1 0 0 0 0 0-2 0 8 0-5 0 2 3-3 1-2 0 0 0 7 0-8 1 0 0 0 1 3 2 2 0 0 1-1 0-1 0 2 0-2 0-3 0 1 2-1 90 1 5 1 0 5 1 2 2-7 0 1 2 2 0-3 7 6 0 0 2-3 12 4 8-3 1 0-1 11-3-4-13-3-3 6-4 2 0-7-7 7 0-1-3-5-1 4-1-1-2 2 0-3 0-1-100-1 0 1 0-2-1 3 0-3-2 6 0 0 0 1-1 1 0-3-1 2 0 0-3-6 0 1 0 0 0 5 0-7-1 3 0 4-1-8-1 6-2-4-2 1-8-3-1 5-14 1-1 4 13 6 2-5 3 7 2-3 2-1 1 3 2-5 1 0 0 1 1-2 1 2 0 6 0 0 2-1 0-2 2-5 0 4 0-2 0 4 1-4 1 5 1 0 1-2 0-5 0 3 0 2 103-3 0 2 0-5 1 7 0-5 0 1 1 2 0 4 0-8 1-1 1 8 0-5 0 3 0-5 1 5 0 1 1-3 2 1 0-1 3-3 0 2 1 3 1-1 1 1 2-3 4 4 5-5 16 2 35 12-18 0-25-4-2 1-1 4-4 0-8-6-1 0-1 0-1 4-2-1 0 0-1 4-1-3 0 4-2-2 0-3-2-2-1 0-1 0 0 4-1-1 0 1-1-5-2 6 0-3 0-2-106 2 0 2-1 1-1-2-1-1 0-1 0-3-1 8 0-2 0-2 0 0-1 2 0-6 0 7-1-3-2-1-1 6 0-1-1-5-1 0 0-2-2 7-2-2 0-3-1-2 0 6 0-2 0 1-4 3-2-8-2 6-6-4-3-2 14 11 1 5 2-4 1-1 1 6 6-3 1-3 0 1 1 3 0 0 2 0 0-3 1 3 1-3 1 5 0-2 1-2 0-1 108-1 0 3 1-5 0 7 2 2 1-9 0 3 0 6 0-8 1 3 1 5 1-1 1-4 0 0 2 0 1-1 0-3 2 5 1 2 0-1 0 3 0-4 1 0 0-2 2 4 2-6 0 0 0 0 9 5 6-5 10 7 17-2-17 4 0 8-8-7-11 5-9 0 0 1 0-5-2 7-1 0-6-9 0 6 0-5-2 5-1 1-1-7 0 8 0-1-3-3 0-2 0 0-1 0 0 2 0-4 0 6 0 3-1-2-104-1 0 1 0 0-1-2 0 3-1 0 0-4 0 2-2 2-3-2 0-3-1 2-1 4-1 0-2-1 0-7-1 7 0-4-6-4-1 7-16-1 1 7 5 3 4-3 6 6 1-3 3-3 1 5 1-6 1 0 2 3 0 4 1-4 0-1 1 4 3-1 1 2 1-7 0-2 1 7 0-6 0 6 1-2 1-3 0 6 0-3 0-4 1 0 0 7 0-2 1 3 0 0 0-2 1 0 103-7 0 7 1 2 1 0 0-5 0-4 0 6 1-5 0 6 0-6 0 4 2-5 0 6 0 0 1-3 0-1 1-2 0 7 0-3 1-3 0 4 0 3 3-8 0 2 1 2 0 0 0 1 1 4 1-5 2-2 6-2 6 1 1 2 3 4 3-6 15 5 16 10-21 1-18-5-1 7-2-6 0 5-1-3 0 4-3-8-1 2-5 6-1-3-2-3-1 6 0-8 0 0-2-1-1 3 0-3-1 2-2 6-1-2 0 1-1-5-1-2-1 3 0 6 0-9-1 4-1 4-1-1-96 1 0-3-2 0 0 0 0 1-1 3 0-2-2-7 0 7-1 0 0-3 0-3-1 2 0 1-1 4 0-7 0 4-3 3-1-1-3 1 0-7-1 4-1-5-1 5-3 2 0 0 0-1-2 3-4-4 8 12 0-4 2 5 1-5 5-2 2 4 0-3 0 5 0-7 1 3 2 1 1 5 2-7 0 2 1 4 0-1 2-5 0 6 1-4 0 1 0-4 0 1 1 6 0 0 0 0 1 1 91-2 0 0 1-2 0-3 1 7 0-7 2 3 2 4 1-5 0-3 1 0 0 2 1 5 0-4 1 3 0-4 0 4 1-2 0-4 0 2 1-2 2 2 0 4 0-4 2 3 2-6 1 0 1 1 0-1 3 5 2-4 0 3 0 2 1-4 4 2 1-4 1 0 10 4 3-2 4 3 27-5-39 14-3 5-3-7-3 4-1-4-7 3-1-4-1 4 0-3-5 7 0-3-2 0-1-5-1 3 0-4-1 2 0-1-2-1-1 2-1-2-1 2 0-2 0 4 0-4-2 0 0 7 0-1-1-5 0 2-1 1 0 5-1-3-73 2-1 0-2-1-1 2 0-2-1 0-1-1-1-1-2 0 0 3 0-3 0-2-2 6 0-5 0 0 0 4-1 1 0-4 0 3-1-2 0 1 0-1-2-2-1-3 0 0-1 7 0-8-2 7-4-3-4 1-1 2 0-5-4 1-2 0-4 0-1 2-3 2 0 0-1-4-4-3-9 5-3-1 24 10 5 0 3-3 2 6 4-1 1-5 1 5 2 3 0-5 1-4 1 2 0-2 1 9 1-8 1 2 1 0 2-3 1 1 1 5 0-3 0 0 0-1 2 6 0-7 1 2 0-1 1-2 1 1 0 8 0-2 1-4 0 0 0-3 2 6 65 3 2 0 0-1 2 1 2 0 0-8 0-1 1 1 1 2 1 4 1-5 0-2 0 5 1-2 1 0 2 4 0-7 2 4 1 2 0-3 1 6 0-9 1 8 1-4 7-3 6 0 2 5 3 2 12-1-12 10-4 0-1 1-5-6-2 1-1 3 0-4 0 5-4-3-1 3-5-4-1-1-2 0 0 1-1 4-1-1-1-6-1 3-3 3-1 0-1-5-1 1-2 0-1-1-2 4-1 0-56 2 0-2-3-2 0-3 0 7-2-2 0-2 0 0-1 4 0-6-1 1 0 3-2-5 0 6-1 0-1 1 0-5-2 7-3-8 0 1-1 3-1 0-1-1-4 4 0-7-1 4-3 3-1-8-3 4-5 0-1 3-17 7 14 2 1 0 12-2 12 2 2-5 1 2 2 6 0-7 1 6 0-1 3-4 0 4 2-4 1 0 1-1 1-2 1 4 0 3 3-6 3 7 0 1 0-6 1 3 0 0 17 3 27-7 3 5 0-7 0 0 0 6 1 1 1-2 1-1 0 5 0 0 1-6 0-1 1 3 0-5 1 1 0 0 2-1 1 4 1 0 0-4 1 6 1 3 0-5 2 0 0-4 2 9 2-9 0 8 0 0 1-2 1-6 12 8 1-1 3 0 23 1-16 2-18 4-3 0-14 1-1-1-1 3-1-5-4 2-2-3-3 1-1 7-3-6 0-3-2 3 0 5-2 0-2-4-1 5 0-1 0-3-1-2-4 0-9 0 0 0-1 5 0-8-1 0 0 1-3 6-1-3-2 4-10 1 0-1-2-5-3 1-1 5-2-8-1 1-1 2 0-4-1 3 0 4-1-5-4-1-31-1 0 5 49 6 1 2 2-2 5 1 2 3 3-3 2 1 3 6 0-7 3 2 1 0 2-1 1 5 8-2 1 0 0 0 5-5 5 5 1 2 9-4 20 5 28 10-38-8-5 2-3-3-21 2-5 6 0-5-7-3-8 3-33 0-2 2-4-2-7-2-6 8 10 3 13-2 9 7 4-4 15-1 22 20" fill="none" marker-start="url(#m5)" marker-mid="url(#m5)" marker-end="url(#m5)"/>
<defs><path id="c97" d="M37.4 73l0.6 1.3 1.2 1.3 1.2-0.7 1.3 0.1 0.8-2 0.4-1.8 0.6-2.9 0.7-2.5 0.5-2.2 0.6-4.7 0.1-0.7 0.3-4-0.2-4.8-0.1-1.5-0.1-3.2-0.3-4.7-0.3-4.7-0.4-4.7-0.1-0.6-0.3-4.1-0.7-4.7-0.3-1.4-1-3.3-0.2-0.8-1.3-0.4-1.2-2.5-0.9 3.7-0.3 1.3-1.2 3.4-0.1 0.2-0.7 4.5-0.5 4.7 0 0.4-1 4.3 0 4.7-0.3 4.7-0.2 4.7 0.2 4.8 0.3 4.7 0.4 4.7 0.6 1.7 0.5 3 0.7 2.5z"/><path id="c98" d="M39.2 68.3l1.2 0.7 0.4-0.7 0.9-2.2 0.7-2.5 0.5-1.5 0.5-3.2 0.2-4.7 0.3-4.8 0.3-3.6 0-1.1 0-0.6-0.6-4.1-0.3-4.7-0.4-2.8-0.7-1.9-0.4-4.7-0.1-0.4-1.3-1.8-1.2-0.4-0.5 2.6-0.7 2-0.6 2.7-0.7 2.2-0.5 2.5-0.1 4.7-0.2 4.7 0 4.7 0.3 4.8 0 4.7 0.4 4.7 0.1 0.5 1.3 2.4 1.2 1.8z"/><path id="c99" d="M39.8 63.6l0.6 0.1 0.1-0.1 1-4.7 0.2-0.9 0.7-3.8 0-4.8 0-4.7-0.5-4.7-0.2-4.7-1.3 0-1.2-2.1-1.2 2.1-0.2 4.7-0.5 4.7-0.5 4.7 0.9 4.8 0.3 1.8 0.3 2.9 0.9 4.6z"/><path id="c100" d="M39 54.2l0.2 2.4 1.2-2.4 0-4.8 0.8-4.7-0.8-1.9-1.2 0.6-0.4 1.3 0.1 4.7z"/><path id="c101" d="M54.9 64.4l2.3 2.3 2.3-0.1 2.3-0.5 0.6-1.7 1.7-1.9 2.1-3.3 0.2-1.1 0.7-4.1 0.8-5.1 0.8-4.3 0.3-0.9 0.7-5.1 0.6-5.2-0.7-5.1-0.5-5.2-0.4-5.2-0.8-5.1-0.3-5.2-1.2-3.9-0.8-1.2 0-5.2-1.5-1.4-2.3-0.6-2.3 0-2.3 0.1-2.3-0.1-1.6 2 0 5.2-0.5 5.1-0.2 0.9-1.6 4.3-0.7 3.1-0.8 2-0.4 5.2 1 5.2-0.3 5.1 0.5 3 0.1 2.2 0 5.1 0.4 5.2 0.7 5.1 1.1 2.7 0.9 2.5 1.4 5.2z"/><path id="c102" d="M59.4 59.2l0.1 0.1 0.2-0.1 2.1-2.3 2.3-2.6 0.1-0.3 0.5-5.1 1.2-5.2 0.5-2.2 0.6-2.9 0.6-5.2-1.2-4.4-0.1-0.7 0.1-2.6 0.2-2.6-0.2-1.1-0.6-4.1-1-5.1-0.7-2.3-2.3-2.9-2.3-1.5-2.3-1.1-2.1 2.6-0.2 0.6-1 4.6-0.1 5.1-1.2 5-0.1 0.2-0.2 5.2 0.3 5.1-0.1 5.2 0.1 0.3 0.5 4.8 0.7 5.2 1.1 4.2 1.5 0.9 0.8 0.7z"/><path id="c103" d="M58.7 48.9l0.8 0.4 0.3-0.4 2-3.9 0.6-1.3 1.7-5.1 0.1-5.2 0.5-5.1-0.6-3.9-0.4-1.3-1.2-5.2-0.7-1-2.3-3.3-2.3 4-0.1 0.3-2.2 5.2 0.3 5.2-0.3 3.8-0.1 1.3-0.5 5.2 0.6 4.3 0.4 0.8 1.9 3.6z"/><path id="c104" d="M57.1 38.6l0.1 0.1 2.3 3.9 2.3-3.4 0.3-0.6-0.3-5.2-1-5.1-1.3-3.8-2.2 3.8 0.5 5.1-0.6 4.7z"/><path id="c105" d="M37.4 75.3l1.4 3.2 1.5 1.7 1.6-2 1.2-2.9 0.4-1.2 1-4.4 0.2-5.6 0.4-1.4 1.1-4.2 0.2-5.5 0.3-3.5 0.3-2.1-0.3-1.1-0.4-4.5 0.4-5.6 0.5-5.6-0.4-5.5-0.1-0.6-1.2-5-0.4-4.2-0.2-1.4-0.2-5.6-1.2-4.7-0.4-0.8 0-5.6-1.2-1.3-1.6 0.5-1.5 0.8 0 5.6-1.6 3.1-0.6 2.4-0.9 5.6-0.1 0.8-1 4.8-0.6 2.8-0.5 2.8-0.1 5.5 0.6 5.6-0.9 5.6 0.7 5.6 0.2 1.8 0.3 3.8 0.6 5.5 0.1 5.6 0.6 2.8 0.7 2.8 0.9 3.9z"/><path id="c106" d="M38 64.1l0.8 2.6 1.5 0.8 1.6 0.5 0.7-3.9 0.9-3.1 0.7-2.5 0-5.5 0.9-5.4 0-0.2 0-2.8-0.1-2.8 0.1-5.6-0.5-5.6-0.6-5.5-0.3-5.6-0.2-1.1-1.6-3.2-1-1.3-0.6-1.5-1.5-0.3-1.6 1-0.2 0.8 0 5.6-0.8 5.6-0.6 4.1-0.2 1.4 0.2 5.6-0.2 5.6 0.2 5.6 0.6 5.6 0.8 5.5 0.2 1.8z"/><path id="c107" d="M38.4 58.5l0.4 1.5 1.1-1.5 0.4-0.7 1.6-2.8 0.4-2 1.2-4.9 0.1-0.7-0.1-1.2-0.3-4.4 0.2-5.6-0.4-5.6-0.2-5.5-0.9-4.2-1.6 0-1.5 3.1-0.4 1.1-1.1 5.5-0.1 1.1-0.4 4.5 0.4 3.5 0.2 2.1-0.2 3.7-0.2 1.9 0.2 5.6z"/><path id="c108" d="M39.8 41.8l0.5 2.1 1.6 1.8 0.2-3.9-0.2-3.9-0.1-1.7-1.5-4.2-1.5-1.4-0.3 5.6 0.3 2.6z"/><path id="c109" d="M41.1 73.1l3.6 1.6 5 2 5.1-0.4 2.9-3.2 2.1-3.1 1.8-3.2 3.3-4.6 1.2-1.8 0.6-6.4 1-6.3 0.5-6.4-0.5-6.4 0.1-6.3-2.9-6.2-0.1-0.2-1.3-6.4-3.7-5.8-0.6-0.5-4.4-4.7-4.3-1.7 0-6.4-0.8-0.3-5 0.2-0.3 0.1 0 6.4-4.8 4.8-1.6 1.6-3.4 3.3-2.3 3-1.4 6.4-1.3 6.4-0.1 2.1-0.4 4.2-1.8 6.4 2.2 6.1 0.1 0.3-0.1 6.3 2.5 6.4 2.6 3.4 2.2 3 2.8 5.6z"/><path id="c110" d="M42.9 66.8l1.8 1.7 5-1.5 0.3-0.2 4.8-6.2 0.1-0.2 4.9-6.4 0.9-6.3 1.8-6.4-0.8-6.4-0.6-6.3-1.1-6.4-0.2-0.5-4.8-5.9-0.2-0.2-5.1-3.2-5 1.1-3.8 2.3-1.3 1.2-2.7 5.2-2.2 6.4-0.1 1-0.4 5.3-1.1 6.4 1.5 4 0.7 2.4 0.9 6.3 3.1 6.4 0.3 0.5z"/><path id="c111" d="M41.6 54l3.1 2.2 5 2.1 5.1-4 0.2-0.3-0.2-6.3 3.8-6.4-1.6-6.4-1.4-6.3-0.8-1.9-2.2-4.5-2.9-2.8-4.4 2.8-0.6 0.9-3.7 5.5-1.4 3-0.8 3.3-1.2 6.4 1.8 6.4 0.2 1.2z"/><path id="c112" d="M47.5 47.7l2.2 0.9 0.7-0.9-0.7-6.4-1.1-6.4-3.9-0.6-0.5 0.6-0.2 6.4 0.7 2.1z"/><path id="c113" d="M43.4 78.7l0.5 0.5 1.2-0.5 4-1.6 5.2-0.9 2.3-3.3 2.9-3.1 1.6-2.8 1.1-5.8 2.4-4.6 1-1.3-0.8-5.8 1.2-5.8-1.4-5.3 0-0.6 0-0.7 1.6-5.1 0-5.8-1.6-3.3-0.8-2.6-4.3-5.8-2.1-5.9-3.1-3.2-5.2-1.6-5.2-1-5.1 3.1-2.6 2.7-2.3 5.9-0.3 0.7-1.9 5.1-2.1 5.9-1.2 4.4-0.4 1.4 0.4 1.2 1 4.6-0.2 5.9-0.3 5.8 0.6 5.8 0.6 5.9 2.3 5.8 1.2 2 2.8 3.9 2.4 2.6 4.2-2.6 0.9-0.4 0.8 0.4-0.8 3.5z"/><path id="c114" d="M47.9 67l1.2 0.5 1-0.5 4.2-3.7 1-2.1 4.2-5.3 0.3-0.6 1.2-5.8 1.1-5.8-1.8-5.9 0.3-5.8-0.6-5.8-0.5-1.3-1.9-4.6-3.3-2.8-5.2-3-5.2 0-4.6 5.8-0.5 0.7-3.4 5.2-0.8 5.8-0.8 5.8-0.2 2-0.6 3.9-0.2 5.8 0.8 2.6 1.5 3.2 2.4 5.9 1.3 1.3 5.1 3.6z"/><path id="c115" d="M41.4 55.3l2.5 3.7 5.2-1.8 4.2-1.9 1-1.4 0.9-4.4 1.6-5.8-1.1-5.9-1.4-5.8-2.9-5.8-2.3-2.4-5.2 0.4-1.5 2-2.5 5.8-1.1 5.3-0.2 0.5-0.2 5.9 0.4 1.8 1.7 4z"/><path id="c116" d="M43.7 43.7l0.2 0.4 5.2 2.3 1.8-2.7-1.8-3.2-5.2-2.7zM46.2 32l2.9 1.9 0.6-1.9-0.6-1z"/><path id="c117" d="M32.3 63.1l4.7 4 6.8-0.8 6.9 1.3 6.8 0.6 1.7-5.1 5.2-4.7 0.3-0.4 2.9-5 1-5.1 1.7-5-0.8-5.1 0.8-5-2.2-5.1-0.8-5.1-2.9-3.7-1-1.3-5.9-4.5-0.4-0.6-6.4-5-6.6-5.1 0-5-0.3-0.2-6.8-0.2-2.3 0.4 0 5-4.6 1.3-6.8 3.8-1.3 5-3.8 5.1-0.6 5-0.9 5.1-0.3 5.1 0.9 5 0.6 5.1 2.9 5 0.6 5.1 1.9 2.2 4.9 2.8 1.9 2.1z"/><path id="c118" d="M36.5 58l0.5 0.5 6.8 1.5 5.6-2 1.3-1.1 6.8-3.9 5-5.1 1.2-5-0.9-5.1-1-5-0.6-5.1-3-5.1-0.7-0.7-4.8-4.3-2-3-6.9-1.5-2.1-0.6-4.7-3.3-6.9 3-0.3 0.3-4.1 5.1-1.8 5-0.6 1.7-1.4 3.4 0.5 5.1-0.3 5 1.2 2.8 0.9 2.3 3.1 5 2.8 4 0.9 1.1z"/><path id="c119" d="M34.3 47.9l2.7 2.6 6.8-0.4 3.6-2.2 3.3-2.9 2.2-2.1 2.6-5.1-1.5-5-2.6-5.1-0.7-1.2-4.6-3.9-2.3-1-6.8-4-4.8 5-2.1 5.1-0.5 5.1 0.4 5 0.1 0.6 1.1 4.5z"/><path id="c120" d="M37 37.8l6.8 4 4.9-4-4.9-4.4-3.4-0.6 1.4-5.1-4.8-2.9-2.3 2.9 1.4 5.1 0.9 5z"/></defs>
<g fill-rule="evenodd"><use href="#c97" fill="#fff"/><use href="#c98" fill="#8000ff" fill-opacity="0.15"/><use href="#c99" fill="#8000ff" fill-opacity="0.15"/><use href="#c100" fill="#8000ff" fill-opacity="0.15"/><use href="#c101" fill="#fff"/><use href="#c102" fill="#1996f3" fill-opacity="0.15"/><use href="#c103" fill="#1996f3" fill-opacity="0.15"/><use href="#c104" fill="#1996f3" fill-opacity="0.15"/><use href="#c105" fill="#fff"/><use href="#c106" fill="#4df3ce" fill-opacity="0.15"/><use href="#c107" fill="#4df3ce" fill-opacity="0.15"/><use href="#c108" fill="#4df3ce" fill-opacity="0.15"/><use href="#c109" fill="#fff"/><use href="#c110" fill="#b2f396" fill-opacity="0.15"/><use href="#c111" fill="#b2f396" fill-opacity="0.15"/><use href="#c112" fill="#b2f396" fill-opacity="0.15"/><use href="#c113" fill="#fff"/><use href="#c114" fill="#ff964f" fill-opacity="0.15"/><use href="#c115" fill="#ff964f" fill-opacity="0.15"/><use href="#c116" fill="#ff964f" fill-opacity="0.15"/><use href="#c117" fill="#fff"/><use href="#c118" fill="#ff0000" fill-opacity="0.15"/><use href="#c119" fill="#ff0000" fill-opacity="0.15"/><use href="#c120" fill="#ff0000" fill-opacity="0.15"/></g>
<g fill="none" stroke-width="1.20" stroke-linejoin="round"><g stroke="#8000ff"><use href="#c97"/><use href="#c98"/><use href="#c99"/><use href="#c100"/></g><g stroke="#1996f3"><use href="#c101"/><use href="#c102"/><use href="#c103"/><use href="#c104"/></g><g stroke="#4df3ce"><use href="#c105"/><use href="#c106"/><use href="#c107"/><use href="#c108"/></g><g stroke="#b2f396"><use href="#c109"/><use href="#c110"/><use href="#c111"/><use href="#c112"/></g><g stroke="#ff964f"><use href="#c113"/><use href="#c114"/><use href="#c115"/><use href="#c116"/></g><g stroke="#ff0000"><use href="#c117"/><use href="#c118"/><use href="#c119"/><use href="#c120"/></g></g>
</svg>
<svg x="268.54" y="342.05" width="108.00" height="108.00" viewBox="0 0 108.00 108.00">
<path transform="scale(.5)" d="M2 2l2 1 0 0 1 2 0-1 3 3 1 1 11 11 0 0-1-1-2-2-1-1 0 0 0 0-1-1 0 0 0 0-1-1 0 0-1-1 0 0-1-1 0 0-1-1 10 10 1 1 0 0 1 1 0 0 8 7 0 0 0 1 0 0 111 109-1 0 0 0 0 0 0 0 0 0 0 0 0 0 0-1-1 0 0 0 0 0 0 0 0 0-1-1 0 0 0 0 0 0 0-1-1 0 0 1 0-1 0 0 0 0 0 0 0 0 0-1 0 1 0 0-1-1 0 0 0 0 0 0 0 0 0 0-1-1 0 0 0 0 0 0 0 0 0 0 0 0 0 0 0 0 0 1-1-2 0 0 0-1 0 1 0-1 0 1 0 1 0-1 0 0 0 0 0 0 0 0 0 0 0 0-1-1 0 0 0-1 0 1 0 0 0 0 0 0-1-1 0 0 0 1 0-1 0 0 0 0 0 1 0-1 0 0 0 0 0 0 0 0 0 0 0 0 0 1 0-1 0 1 0-1 0 0 0 1-1-2 0 0 0 0 0 0 0 0 0 0 0 0 0 0 0 0 0 0 0 0 0 0 0 0 0 0 9 10 0 0 0 0 0 0 1 0 0 0 0 1 0-1 0 0 0 0 0 0 1 1 0 0 0 0 0 0 0 0 0 0 0 0 0 0 0 1 1 0 0 0 0 0 0 0 0 0 0 0 0-1 0 1 0 0 1 1 0 0 0 0 0 0 0-1 0 1 0 0 0 0 0-1 1 2 0 0 0 0 0 1 1 0 0-1 0 1 0 1 0-1 0 0 0 0 1 0 0 1 0 0 0 0 0 0 1 2 0 0 0-1 0 0 0-1 0 1 1 1 1 1 0 0 0 0 10 9-1 0 0 0 0 1 0-1-1-1 0-1 0 1-1 0-1-2 0 0-1-2 0 1-2-2-1-1 0 0-1-1 0 0-1 0 10 10 2 1 1 2 1-1 3 4 1 1 0 0 1 2 9 8-3-3-1-1-1-2 0 1-1-1" fill="none" marker-start="url(#m0)" marker-mid="url(#m0)" marker-end="url(#m0)"/>
<path transform="scale(.5)" d="M1 1l0-1 0 1 0-1 0 0 0 0 0 1 0-1 0 1 1 1 0 0 0-1 0 1 0-1 0 1 1 0 0 0 0 0 0 0 1 2 0 0 0-1 0 0 0 0 0 0 0 0 0 0 1 1 0 0 0 0 0 0 0 0 0 0 1 1 0 0 0 0 0 0 1 1 0 0 0 0 0 0 0 0 1 1 0 0 0 0 0 0 0 0 0 0 0 0 0 0 0 1 0-1 1 1 0 0 0 0 0 0 0 0 0 0 0 0 1 1 0 0 0 0 0 0 0 0 0 0 0 0 0 0 0 0 0 0 10 10 0 0 0 0 0 0-1-1 0 0 0 0 0 0 0 0 0 0 0 0 0 0 0 0 0 0 0 0-1-1 0 0 0 0 0 0 0 0 0 0-1-1 0 0 0 0 0 0 0 0 0 0 0 0 0 0 0 0 0 0-1-1 0 0 0 0 0 0 0 0 0 0 0 0 0 1 0-1 0 0 0 0 0 0-1-1 0 0 0 0 0 0 0 0 0 0 0 0 0 0 0 0 0 0 0 0 0 0 0 0 0 0 0 0-1-1 0 0 0 0 0 0 0 0 0 0 0 0 0 0-1-1 0 0 0 0 0 0 0 0 0 0 0 0-1-1 0 0 0 0 0 1 0 0 0-1 0 1 0-1 0 0 0 0 0 0 0 0-1 0 0-1 0 0 0 0 0 0 0 0 0 0 0 0 9 10 1 0 0 0 0 0 0 0 0 0 0 0 0 0 0 0 0 0 0 0 0 0 0 0 0 0 1 1 0 0 0 0 0 0 0 0 0 0 0-1 0 1 0 0 0 0 0 0 1 1 0 0 0 0 0 0 0 0 0 0 0 0 0 0 0 0 0 0 0 0 0 0 0 0 0 0 1 1 0-1 0 1 0 0 0 0 0 0 0 0 0 0 0 0 7 6 0 0 0 0 0 0 0 1 0 0 0 0 0 0 0 0 0 0 0 0 0 0 0 0 110 108-1 0 0 0-1 0-1-1 0 0 0 0 0-1 0 1-1-1 0 0 0-1 0 0 0 0-1-1 0 1 0-1-1 0 0-1 0 1 0-1 0 1 0 0-1-2 0 1-1-1 0-1 0 1 0-1-1-1 0 1 0 0 10 10 0 0 0-1 0 0 0 0 0 1 1 1 0-1 0 0 0 1 1 1 1 1 0-1 1 1 1 1 0 1 0-1 0 0 0 0 1 3 0-1 0 0 0 0 0-1 0 0 0 0 1 2 0-1 1 2 1 0 0 0 9 10 0 0-1-2-2-1-1-2-1-1 0 0-1 0 0 0-1-2 9 9 2 2 1 1 2 2 2 2 8 8-2-2-3-3 16 17 10 9" fill="none" marker-start="url(#m1)" marker-mid="url(#m1)" marker-end="url(#m1)"/>
<path transform="scale(.5)" d="M1 0l0 1 0-1 0 1 1 0 0 0 0 0 0 1 0-1 0 0 0 1 1 0 0 0 0 0 0 0 0 0 1 1 0 0 0 0 0 0 0 0 0 0 0 0 1 1 0 0 1 1 0 0 1 1 0 0 0 0 0 0 0 0 0 0 1 1 0 0 0 0 0 0 0 0 0 0 0 0 1 1 0 0 0 0 1 1 0 0 0 0 10 10 0 0 0 0 0 0 0 0 0 0 0 0-1-1 0 0 0 0 0 0-1-1 0 0 0 0 0 0 0 0 0 0-1-1 0 0 0 0 0 0 0 0 0 0 0 0 0 0 0 0 0 0-1-1 0 0 0 0 0 0 0 0 0 0 0 0-1-1 0 0 0 0-1-1 0 0 0 0 0 0-1-1 0 0 0 0-1-1 0 0 0 0 0 0 0 0 0 0 0 0-1 0 0-1 0 0-1 0 11 10 0 0 0 0 1 1 0 0 0 0 0 0 0 0 0 0 0 0 0 0 0 0 0 0 0 0 1 1 0 0 0 0 0 0 0 0 0 0 0 0 0 0 0 0 1 0 0 0 0 1 0 0 0-1 0 1 0 0 7 6 0 1 0 0 0 0 0 0 111 109-1 0 0 0 0 0 0 0 0 0 0 0-1-2 0 1 0 1 0-1 0 0 0 0 0 1-1-2 0 0 0 0 0 0 0 0 0 0-1-1 0 0 0 0 0 1 0-1 0-1 0 1-1-1 0 1 0-1 0 0 0 0 0 0-1 0 0-2 0 0 0 0 0 1 0 1 0 0 0-1 0-1-1-1 0 0 0 1 0 0 0-1 0 1 0 0 0 0 0 0-1-1 0 0 0 0 0-1 0 1 0 0 0 0 0 0 0 0-1-1 0 0 0 0 0 0 0 0 0-1 0 1 0 0 0 0 0 0 0 1-1-2 0 0 0 1 0-1 9 10 0 0 1 0 0 0 0 0 0 0 1 2 0-1 0 0 0 0 0 0 0 0 0 1 0-1 0 0 0 1 0-2 1 2 0 0 0 0 0 1 0-2 0 1 0 0 0-1 0 1 1 1 0 0 0 0 0 0 0 0 0 0 0 0 0 0 0-1 0 1 0-1 1 2 0 0 0 0 0-1 0 1 1 0 0 1 0-1 0 0 0 0 0 1 1 1 0 0 0 1 0 0 0 0 0-1 0 0 0 0 1 2 0 0 0-1 0 0 1 0 0 1 0 0 0 0 0-1 0 1 0 0 1 1 0 0 0 0 0 0 0 0 10 10 0 0 0 0-1-1 0 0-1-1 0 0 0-1 0 1-1-1 0-1 0 2 0-1-1-1 0 0 0-1-1 1 0-1 0-1 0 2 0-1 0 0-1-1 0-1-1 0 0 0 0 1 0-1 0 0-1-1 0 1 0-1 0-1 0 2-1-1 0 0 0-1 0 0 0 0 9 10 1 0 0 0 0 0 0 0 1 1 0 0 1 1 0 0 0 0 0 0 1 1 0-1 0 1 1 0 1 2 0-1 1 2 0 0 0-1 2 3 1 1 10 10-1-1 0 0 0-1-3-2-1-1-1-1 0 0 0 0 0 0-1-2-1 0-1-1 16 15 1 1 8 9 0-1 0 1 4 5 4 3 2 3 1 0 8 9" fill="none" marker-start="url(#m2)" marker-mid="url(#m2)" marker-end="url(#m2)"/>
<path transform="scale(.5)" d="M1 0l0 0 1 2 0-1 0 0 1 1 0 0 2 2 0 0 1 2 1 0 0 0 0 0 0 0 0 0 1 1 0 1 0-1 1 1 0 0 0 0 0 0 0 0 0 0 0 0 0 0 1 1 0 0 0 0 10 10 0 0 0 0-1-1 0 0 0 0 0 0 0 0 0-1 0 1 0 0 0 0 0-1-1 0 0 0 0 0 0 0 0 0 0 0 0 0 0 0-1-2 0 1 0 0 0 0 0 0-1-1 0 0 0 0-1-1 0 0 0 0 0 1 0-1-1-1 0 0 0 0 0 0 0 0-1-1 0 0 0 1 0-1 0 0-1-1 0 0 0 0 0 0 0 0-1-1 0 0 0 0 0 0 10 10 0 0 0 0 0 0 0 0 1 1 0 0 0 0 0 0 0 0 0 0 0-1 1 2 0 0 0 0 0-1 0 1 0 0 0 0 0-1 0 1 0-1 0 1 0 0 1 1 0 0 0-1 0 1 0-1 0 1 0 0 0 0 0 0 0-1 0 1 0 0 7 6 0 1 0 0 0 0 111 109 0 0 0 0 0 0-1 0 0 0 0 0 0 0 0 0-1-1 0 0 0 0 0-1 0 2 0-1 0 0 0 0-1-1 0-1 0 2 0-1 0 0 0 1 0 0 0 0 0-1-1-1 0-1 0 0 0 1 0-1 0 2 0-1 0 0-1-1 0 0 0 0 0 0 0 0 0 0 0 1-1-2 0 0 0-1 0 1 0 0 0 0 0 0-1-1 0 0 0-1 0 1-1-1 0 0 0 0 0 0 0-1 0 2 0-1 0-1 0 2 0 0-1-2 0 0 0 0 0 0 0-1 0 2 0 0 0-1 0 0-1-1 0 0 0 0 0 0 0 0 9 10 0 0 1 0 0 0 1 1 0-1 0 2 0-1 0 1 0 0 1-1 0 1 0 0 0 0 0 0 0 1 0 0 0-1 0 0 1 1 0 1 0-1 0 1 0-2 0 0 0 1 0 0 0 0 0 0 0 0 1 1 0 0 0 0 0 0 1 0 0 2 0 0 0-2 0 1 0 1 0-1 0 0 0 0 1 1 0 0 1 1 0 1 1 1 0-1 0 0 0 0 0 0 1 1 0 0 0 0 10 10 0-1 0 1-1-1-1 0 0-1 0 0-1 0 0-1 0 1 0-1-1 0 0-1 0 0 0 0 0 1 0-2 0 1-1-1 0 0-1-1-1 0 0 0 0-1 0 0 0 0 0 0-1-2 0 2 0-2 0 1-1 0 0-1-1 0 11 10 1 2 0-1 0 0 2 1 0 2 2 1 1 2 1-1 0 1 1 2 0-1 0 1 12 10 0 0-4-3-3-3-1-1 0 0-1-1-1-1 0 0-1 0 10 11 4 1 2 2" fill="none" marker-start="url(#m3)" marker-mid="url(#m3)" marker-end="url(#m3)"/>
<path transform="scale(.5)" d="M1 0l0 0 1 1 0 0 0 1 0 0 1 0 1 1 0 0 0 0 0 0 1 1 0 0 0 0 1 1 1 1 0 0 0 0 0 0 1 1 0 1 0-1 1 1 1 1 0 0 0 0 10 10 0 0 0-1 0 1 0-1 0 1 0 0 0 0 0 0-1-1 0 0 0 0 0 0 0 0 0 0 0 0 0 0 0 0-1-1 0 0 0 0 0 0 0-1 0 1-1-1 0 0 0 1 0-1-1-1 0 0 0 0 0 0 0 0 0 0-1-1 0 0 0 1 0-1 0 0 0 0-1-1 0 0-1-1 0 0 0 0 0 0 0 1 0-1-1-1 0 0 0 0 0 1-1-2 0 0 0 0 0 0-1 0 10 10 1 0 0 0 0 0 0 0 0 0 0 0 0 0 1 1 0 0 0 0 0 0 0 0 1 1 0 0 0 0 0 0 0 0 0 0 1 1 0 0 0 0 0 0 0 0 0 0 0 0 0 0 7 7 0 0 0 0 0 0 111 109-1 0 0 0 0 0 0 0-1 0 0 0 0-1 0 0-1 0 0-1 0 0 0 0 0 0-1 0 0-1 0 0 0 0 0 1-1-1 0 0 0-1 0 1 0-1 0 0 0 0-1 0 0-1 0 0 0 0 0-1 0 2 0 0 0-1 0 0 0 0-1 0 0-1 0 0 0 0 0 1 0-1 0 0 0-1 0 1 0 1-1-2 0 1 0-1 0 0 0 1 0 0 0-1 0 1 0 0 0 0 0-1 0 0 0 1 0 0-1-2 0 0 0 0 0 0 0 1 0-1-1-1 0 1 9 9 0 0 1 1 0-1 0 0 0 0 0 0 0 0 1 2 1 0 0 1 0-1 0 1 0-1 0 0 0 0 1 2 0-1 0 0 0 0 1 0 0 1 0 1 0-1 0 1 0-1 0-1 1 2 0 0 1 2 0 0 0-1 0 0 0 0 0 0 0 0 0 1 1 0 0 0 1 1 0 0 0 0 0 1 0-1 0 0 0 1 1 0 0-1 0 1 0 0 1 0 9 10-1-1 0 1-1-1-1-2 0 0 0 0-2-2 0 0-1-2 0 1-1-1 0-1 0 1 0-1 0 1 0 1 0-1 0 0-1 0 0-1 0 0 0 1-1-1 0-1 0 0 0 0-1 0 10 10 0 0 1 2 0-1 0 0 1 0 0 0 0-1 1 3 0-1 1 1 2 3 0-1 1 1 0 1 0-1 0 0 0 0 2 3 11 10-1-1-2-3-1 0 0 0-1-1 0 4-2-6 8 8 0 0 7 7 2 2 6 6-2-3-2-1-1-1 0 1" fill="none" marker-start="url(#m4)" marker-mid="url(#m4)" marker-end="url(#m4)"/>
<path transform="scale(.5)" d="M1 0l0 0 1 1 0 0 0 0 0 1 1 0 0 1 0-1 0 0 0 0 1 1 1 1 0 0 1 2 0-1 0 0 0 1 0-1 1 1 0 0 0 0 1 1 0 1 0-1 0 0 0 0 0 0 0 1 0-1 0 1 1 0 0 0 0 0 0 0 1 1 0 0 0 0 10 10 0 0 0 0 0 0 0 0 0 0 0 0 0 0 0 0 0 0 0 0 0 0 0 0-1-1 0 0 0 0 0 0 0 1 0-1 0 0 0 0 0 0 0 0 0 0-1-1 0 0 0 0 0 0 0 0 0 0 0 0 0 0 0 0 0 0-1-1 0 0 0 0 0 0 0 0 0 0 0 0 0 0-1-1 0 0 0 0 0 1 0-1 0 0 0 1 0-1-1-1 0 0 0 0 0 0-1 0 0-1 0 0 0 0 0 0-1-1 0 0 0 0 0 0 0 0 0 0-1-1 0 0-1-1 0 0 0 1 0-1 0 0 0 0 10 10 0 0 0 0 0 0 0 0 0 0 1 1 0 0 0-1 0 1 0 0 0 0 0 0 0 0 1 1 0 0 0 0 0 0 0 0 0 0 1 1 0 0 0 0 0 0 0 0 0 0 0 0 0 0 0 0 0 0 0 0 6 6 1 0 0 1 0 0 0 0 110 109 0 0 0 0 0 0-1-1 0 0 0 0 0 1-1-2 0 0 0 0-1 0 0 0 0 0 0-1-1 0 0-1 0 1 0 0 0 0-1-2 0 0 0-1-1 1 0 0-1-2 0 0 0 1 0 0 0-1 0 0-1 0 0-1-1 0 9 9 0 0 0 0 1 0 0 1 1 1 0 0 1 0 0 0 0 1 1 0 0 1 0-1 1 2 0 0 1 0 1 1 0 0 1 3 0-2 1 1 0 1 0-1 0 1 8 8-1-1-1-2 0 0-1 0-1-2 0 1-1-2 0 0-1-1 0 1 0 1-1-2 12 11 0 0 0 0 11 11 0 1-2-3 12 12" fill="none" marker-start="url(#m5)" marker-mid="url(#m5)" marker-end="url(#m5)"/>
<defs><path id="c121" d="M62.3 63.6l2.1 2.1 2.2-2.1-2.2-2.2-1.9-2.5-2.8-2.8-1.7-1.9-3.1-3.1-1.5-1.7-3.2-3.1-1.6-1.6-3.1-3.1-2-1.6-2.8-2.8-2.1-1.9-2.6-2.6-2.5 2.6 2.5 2.5 1.9 2.2 2.8 2.8 1.7 1.9 3.1 3.1 1.6 1.6 3.1 3.1 1.8 1.7 2.9 2.9 2.1 1.8 2.7 2.6zM29.6 30.6l1.6 1.6 1.7-1.6-1.7-1.7zM25.8 25.9l0.7 0.6 0.6-0.6-0.6-0.7z"/><path id="c122" d="M59.3 58.9l0.4 0.4 0.4-0.4-0.4-0.4zM54 54.2l0.9 0.8 1-0.8-1-1zM49.1 49.4l1.1 1.2 1.2-1.2-1.2-1.1zM44.2 44.7l1.3 1.2 1.2-1.2-1.2-1.2zM40.2 40l0.5 0.5 0.6-0.5-0.6-0.5z"/><path id="c123" d="M49.9 49.4l0.3 0.3 0.3-0.3-0.3-0.3zM45 44.7l0.5 0.4 0.4-0.4-0.4-0.4z"/><path id="c124" d="M54.4 54l0 0.1 0.1-0.1-0.1 0zM48 48.9l1.3 1.2 1.3-1.2-1.3-1.4zM42.1 43.7l2 2.1 2.2-2.1-2.2-2.1zM36.4 38.6l2.6 2.6 2.7-2.6-2.7-2.7-2.5-2.5-2.7-2.7-2.5-2.4-2.6-2.7-2.6 2.7 2.6 2.5 2.5 2.6 2.6 2.6zM21.1 23.1l2.4 2.4 2.5-2.4-2.5-2.4zM16.4 17.9l1.9 2 2-2-2-2zM12.1 12.8l1.1 1 1.1-1-1.1-1.1z"/><path id="c125" d="M43.1 43.7l1 1.1 1.1-1.1-1.1-1.1zM37.2 38.6l1.8 1.7 1.8-1.7-1.8-1.9zM32.1 33.4l1.7 1.8 1.9-1.8-1.9-1.8zM27 28.3l1.7 1.6 1.7-1.6-1.7-1.8zM22.1 23.1l1.4 1.4 1.5-1.4-1.5-1.5zM17.5 17.9l0.8 0.9 1-0.9-1-0.9z"/><path id="c126" d="M38.8 38.6l0.2 0.1 0.1-0.1-0.1-0.2zM33.7 33.4l0.1 0.1 0.2-0.1-0.2-0.1z"/><path id="c127" d="M63.3 64.1l1.6 1.7 1.8-1.7-1.8-1.7zM56.5 58.5l2.8 2.8 2.9-2.8-2.9-2.8-2.3-2.7-3.3-3.4-1.8-2.2-3.8-3.8-1.8-1.8-3.8-3.8-1.7-1.8-3.9-3.9-1.9-1.7-3.7-3.7-2.3-1.8-3.4-3.4-3.1-2.2-2.5-2.4-2.4 2.4 2.4 2.4 2.3 3.2 3.3 3.2 2 2.3 3.7 3.7 1.7 1.9 3.9 3.8 1.9 1.8 3.7 3.7 1.9 1.9 3.7 3.6 2.4 2 3.2 3.2zM12.9 13.9l1.5 1.5 1.6-1.5-1.6-1.5z"/><path id="c128" d="M52.8 53l0.9 0.8 0.9-0.8-0.9-1zM46.3 47.4l1.8 1.7 1.8-1.7-1.8-1.8zM40.7 41.8l1.8 1.8 1.9-1.8-1.9-1.9zM34.8 36.2l2.1 2.1 2.1-2.1-2.1-2.1zM29.6 30.6l1.7 1.7 1.6-1.7-1.6-1.6zM24.7 25.1l0.9 0.9 1-0.9-1-1z"/><path id="c129" d="M42.4 41.8l0.1 0.1 0.1-0.1-0.1-0.1zM36.4 36.2l0.5 0.4 0.4-0.4-0.4-0.4z"/><path id="c130" d="M59 60.4l2.1 2.2 2.3-2.2-2.3-2.2zM51.5 54l3.2 3.2 3.4-3.2-3.4-3.3-2.5-3-3.9-3.9-2.1-2.5-4.3-4.2-2.3-2.2-4.1-4-2.7-2.3-3.7-3.6-3.3-2.8-3.1-3.1-3 3.1 3 3 2.9 3.4 3.5 3.5 2.5 2.8 3.9 4 2.3 2.4 4.1 4.1 2.7 2.3 3.7 3.7zM14.5 15.8l1.8 1.8 1.9-1.8-1.9-1.8z"/><path id="c131" d="M54.4 54l0.3 0.4 0.4-0.4-0.4-0.3zM47 47.7l1.3 1.3 1.4-1.3-1.4-1.4zM39.9 41.3l2 2 2.2-2-2.2-2.1zM33.8 34.9l1.7 1.8 1.8-1.8-1.8-1.7zM28.2 28.6l0.9 0.9 1-0.9-1-1z"/><path id="c132" d="M41.1 41.3l0.8 0.9 0.9-0.9-0.9-0.9zM35.1 34.9l0.4 0.5 0.5-0.5-0.5-0.4z"/><path id="c133" d="M59.9 61.2l1.8 1.8 1.9-1.8-1.9-2zM52.8 55.3l3.1 3.1 3.2-3.1-3.2-3.2-2.4-2.6-3.5-3.6-2-2.2-3.8-3.9-2.2-2-3.7-3.6-2.2-2.2-3.6-3.6-2.7-2.2-3.2-3.2-3 3.2 3 3 2.4 2.8 3.5 3.5 2.3 2.3 3.5 3.5 2.2 2.4 3.7 3.6 2.4 2.2 3.4 3.4zM18.9 20.3l1.9 1.9 1.9-1.9-1.9-1.9zM14.9 14.5z"/><path id="c134" d="M55.8 55.3l0.1 0.1 0-0.1zM49.3 49.5l0.7 0.7 0.7-0.7-0.7-0.7zM42.8 43.7l1.4 1.3 1.3-1.3-1.3-1.4zM37.4 37.8l0.9 1 1-1-1-1zM31.6 32l0.9 0.9 0.9-0.9-0.9-0.9z"/><path id="c135" d="M43.7 43.7l0.5 0.4 0.5-0.4-0.5-0.5zM38.2 37.8l0.1 0.1 0.1-0.1-0.1 0z"/><path id="c136" d="M56.9 58l1.4 1.5 1.6-1.5-1.6-1.6zM50.8 53l2.5 2.5 2.6-2.5-2.6-2.9-1.6-2.2-3.5-3.5-1.3-1.5-3.7-3.9-1.1-1.2-4-3.9-1.2-1.1-3.8-3.9-1.3-1.2-3.8-3.7-1.6-1.4-3.4-3.3-2.2-1.7-2.8-2.8-2.7 2.8 2.7 2.7 1.8 2.3 3.2 3.2 1.5 1.9 3.5 3.5 1.5 1.6 3.6 3.5 1.4 1.5 3.6 3.6 1.6 1.5 3.5 3.4 1.9 1.6 3.1 3.2zM11.4 12.5l1.5 1.6 1.6-1.6-1.6-1.5z"/><path id="c137" d="M47.3 47.9l0.9 1 1.1-1-1.1-1zM41.6 42.9l1.6 1.6 1.8-1.6-1.8-1.8zM36.2 37.8l1.9 2 2.2-2-2.2-2.1zM31.2 32.8l1.9 1.9 2.1-1.9-2.1-2.1zM26.2 27.7l1.8 1.8 2-1.8-2-1.9zM21.9 22.6l1.1 1.1 1.2-1.1-1.2-1.1z"/><path id="c138" d="M37.8 37.8l0.3 0.3 0.3-0.3-0.3-0.3zM32.9 32.8l0.2 0.1 0.2-0.1-0.2-0.2z"/></defs>
<g fill-rule="evenodd"><use href="#c121" fill="#fff"/><use href="#c122" fill="#8000ff" fill-opacity="0.15"/><use href="#c123" fill="#8000ff" fill-opacity="0.15"/><use href="#c124" fill="#fff"/><use href="#c125" fill="#1996f3" fill-opacity="0.15"/><use href="#c126" fill="#1996f3" fill-opacity="0.15"/><use href="#c127" fill="#fff"/><use href="#c128" fill="#4df3ce" fill-opacity="0.15"/><use href="#c129" fill="#4df3ce" fill-opacity="0.15"/><use href="#c130" fill="#fff"/><use href="#c131" fill="#b2f396" fill-opacity="0.15"/><use href="#c132" fill="#b2f396" fill-opacity="0.15"/><use href="#c133" fill="#fff"/><use href="#c134" fill="#ff964f" fill-opacity="0.15"/><use href="#c135" fill="#ff964f" fill-opacity="0.15"/><use href="#c136" fill="#fff"/><use href="#c137" fill="#ff0000" fill-opacity="0.15"/><use href="#c138" fill="#ff0000" fill-opacity="0.15"/></g>
<g fill="none" stroke-width="1.20" stroke-linejoin="round"><g stroke="#8000ff"><use href="#c121"/><use href="#c122"/><use href="#c123"/></g><g stroke="#1996f3"><use href="#c124"/><use href="#c125"/><use href="#c126"/></g><g stroke="#4df3ce"><use href="#c127"/><use href="#c128"/><use href="#c129"/></g><g stroke="#b2f396"><use href="#c130"/><use href="#c131"/><use href="#c132"/></g><g stroke="#ff964f"><use href="#c133"/><use href="#c134"/><use href="#c135"/></g><g stroke="#ff0000"><use href="#c136"/><use href="#c137"/><use href="#c138"/></g></g>
</svg>
<svg x="382.04" y="342.05" width="108.00" height="108.00" viewBox="0 0 108.00 108.00">
<path d="M13.8 108L13.8 107.4 18.5 107.4 18.5 106.7 23.2 106.7 23.2 104.4 27.9 104.4 27.9 100.7 32.6 100.7 32.6 87.5 37.4 87.5 37.4 74.4 42.1 74.4 42.1 48.1 46.8 48.1 46.8 30.2 51.5 30.2 51.5 20.1 56.2 20.1 56.2 13 60.9 13 60.9 11.9 65.6 11.9 65.6 28.1 70.3 28.1 70.3 35.9 75.1 35.9 75.1 56.9 79.8 56.9 79.8 69.2 84.5 69.2 84.5 82.1 89.2 82.1 89.2 90.5 93.9 90.5 93.9 97.5 98.6 97.5 98.6 101.8 103.3 101.8 103.3 104.6 108 104.6 108 108" fill="none" stroke="#8000ff" stroke-width="1.20" stroke-linejoin="miter"/>
<path d="M5 108L5 107.7 10.1 107.7 10.1 107.4 15.3 107.4 15.3 107.7 20.4 107.7 20.4 106.5 25.6 106.5 25.6 104.4 30.8 104.4 30.8 100.5 35.9 100.5 35.9 97.4 41.1 97.4 41.1 90.3 46.2 90.3 46.2 80.1 51.4 80.1 51.4 68.5 56.5 68.5 56.5 56.6 61.7 56.6 61.7 43.9 66.9 43.9 66.9 30.6 72 30.6 72 30.2 77.2 30.2 77.2 32.8 82.3 32.8 82.3 36.7 87.5 36.7 87.5 46.9 92.6 46.9 92.6 59.7 97.8 59.7 97.8 70.3 103 70.3 103 83.1 108.1 83.1 108.1 108" fill="none" stroke="#1996f3" stroke-width="1.20" stroke-linejoin="miter"/>
<path d="M-3.5 108L-3.5 107.7 2 107.7 2 107.3 7.6 107.3 7.6 106.4 13.2 106.4 13.2 105.4 18.8 105.4 18.8 103.4 24.4 103.4 24.4 98.5 29.9 98.5 29.9 91.7 35.5 91.7 35.5 83.1 41.1 83.1 41.1 72.7 46.7 72.7 46.7 59.2 52.3 59.2 52.3 50 57.8 50 57.8 36.2 63.4 36.2 63.4 35.4 69 35.4 69 30.2 74.6 30.2 74.6 38.8 80.1 38.8 80.1 48.6 85.7 48.6 85.7 65 91.3 65 91.3 74.6 96.9 74.6 96.9 85.5 102.5 85.5 102.5 94.1 108 94.1 108 108" fill="none" stroke="#4df3ce" stroke-width="1.20" stroke-linejoin="miter"/>
<path d="M-19.3 108L-19.3 107.9 -12.9 107.9 -12.9 108 -6.5 108 -6.5 107.9 -0.2 107.9 -0.2 107.8 6.2 107.8 6.2 107.4 12.6 107.4 12.6 106.5 18.9 106.5 18.9 104.8 25.3 104.8 25.3 99.7 31.7 99.7 31.7 91.3 38 91.3 38 80.7 44.4 80.7 44.4 67.3 50.8 67.3 50.8 53.6 57.1 53.6 57.1 42.9 63.5 42.9 63.5 32.4 69.9 32.4 69.9 38.2 76.3 38.2 76.3 47.9 82.6 47.9 82.6 57.1 89 57.1 89 70.9 95.4 70.9 95.4 87 101.7 87 101.7 96.1 108.1 96.1 108.1 108" fill="none" stroke="#b2f396" stroke-width="1.20" stroke-linejoin="miter"/>
<path d="M-8.6 108L-8.6 107.8 -2.8 107.8 -2.8 108 3 108 3 107.7 8.9 107.7 8.9 106.6 14.7 106.6 14.7 104.5 20.5 104.5 20.5 102.6 26.4 102.6 26.4 94.4 32.2 94.4 32.2 86.2 38.1 86.2 38.1 71.6 43.9 71.6 43.9 54.3 49.7 54.3 49.7 30.5 55.6 30.5 55.6 22 61.4 22 61.4 9.7 67.3 9.7 67.3 17.1 73.1 17.1 73.1 18.5 78.9 18.5 78.9 32.4 84.8 32.4 84.8 54.6 90.6 54.6 90.6 71.8 96.4 71.8 96.4 84.9 102.3 84.9 102.3 93.7 108.1 93.7 108.1 108" fill="none" stroke="#ff964f" stroke-width="1.20" stroke-linejoin="miter"/>
<path d="M7 108L7 107.9 12 107.9 12 107.7 17.1 107.7 17.1 107.1 22.2 107.1 22.2 106.3 27.2 106.3 27.2 104.2 32.3 104.2 32.3 99 37.3 99 37.3 92.1 42.4 92.1 42.4 86.3 47.4 86.3 47.4 69.8 52.5 69.8 52.5 54.5 57.5 54.5 57.5 35.3 62.6 35.3 62.6 21.4 67.7 21.4 67.7 10.8 72.7 10.8 72.7 14.6 77.8 14.6 77.8 17.9 82.8 17.9 82.8 34.5 87.9 34.5 87.9 51.7 92.9 51.7 92.9 69.9 98 69.9 98 81.7 103.1 81.7 103.1 93.7 108.1 93.7 108.1 108" fill="none" stroke="#ff0000" stroke-width="1.20" stroke-linejoin="miter"/>
</svg>
<svg x="41.54" y="455.55" width="108.00" height="108.00" viewBox="0 0 108.00 108.00">
<path transform="scale(.5)" d="M58 113l-3-2-6 10 5 5 8-2-3 25 2-3 2-1 98 10-105 10 14 3 75 1 6 0 10-5 5 4 14 5-14 1 0 5-10-8-5 0-1 0-2 2 0 0-1-1 0 0-1 3-1-5-1 1 0 5-2 0 0-2-1-1 0 6 0-5 0 3-1 1-1-7-1-1 0 2 0-2 0 6 0-2 0 5 0-8-1 6 0 2 0-3 0 2 0 0-1 1 0 0-1-3 0 0-1 2-67-6-2 0 8 11 7 2 3 3 5-2 3 1 0-1 6 3 18 0 4 0 4 0 2-3 2 0 2 2 0-3 0 4 0-4 1 0 0 2 0 2 1-3 0-2 0 0 1 5 0-6 0 5 0-3 0 4 1-7 0 6 0-2 0-6 0 8 0-8 0 1 1 7 0 1 0 0 0-9 0 6 0 0 1-6 0 0 1 3 0 4 1-2 0-2 0-3 0 5 0-2 0 4 0 1 2-4 0 0 0-2 1 6 0-4 0 4 2-3 0 1 1-2 2-1 1 6 1-1 2-7 0 0 1 7 1-3 3 0 4 7-3-2-14 5-1 4-1-7-1 2-2-2-2 2-1-4-1 3-1-3 0 1-1 0-1 4 0-3-1 0 0-1 0 5-1 2 0-3-2-2 0-2 0 2 0 3-1-5 0 5 0-3-3 5 0-2 0-4 0 0 0-2 0 1-1 1 0 0 0-1-1 8 0-3 0-2-1-3 0 3 0-1-1-2 0 5-1-2 0-3 0-1 0 6-2-3 0-1-1 2 0-2-1-2 0 8 0-7 0 3-1 3 0-5-2 3 0-2-2 1-1 3 0-2 0-4-1 6-2-7-1 3-1 3 0-6 0 2 0-1-1 3 0-4-1 1 0 8-1-8-3 6 0-2-2-3 0-2-7 0-2 0 53 10" fill="none" marker-start="url(#m0)" marker-mid="url(#m0)" marker-end="url(#m0)"/>
<path transform="scale(.5)" d="M11 3l28 6 7-3 4 2 1-5 1-1 1 3 2 4 2-2 1-1 0-1 1 4 0-5 0 5 2-3 0-2 2 5 1-4 0 3 1-6 0 1 1 4 0-2 0 4 1 0 1 0 1-7 0 5 1-3 0 1 0 3 0 0 1-6 0 2 0 1 0-4 1 6 0-5 0 5 1 2 0-4 0-3 1 3 0-3 0-1 0 6 1-1 0-5 0 5 69 1-73 6 0-1 0-2-1 3 0 3 0-6 0 4 0 1 0 4 0-1-1 1 0-1 0-5 0-2-1 0 0 5 0-1 0 3 0-3-1 4-1-4-1 4 0-2 0 0 0-5-1 0 0 0 0 7 0 0-2-9-3 0-1 9 0 0-1-4 0 4-1-2-2-4-5-3-2 4-4 1 0 4-2 7 2-6 2 5 2-1 1 4 2-3 0-5 2 8 0-3 1 1 0 2 2-2 1-5 0 2 1 6 0-9 3 2 0 5 1 1 0 0 0-7 0 3 0 0 1 2 0 1 0-3 1 0 0 4 2-3 0-2 0-3 1 7 0-6 0 4 0 2 0-2 0 1 0-6 1 6 0-5 0 1 0-1 0 5 1-1 0-2 0-3 0 8 1-6-1 17-1-2 0-4-1 1 0 3 0 2 0-8 0 5-1-1 0 4-1-5 0-4 0 8 0-7-1 6-1-2-1 1 0 2-1-2 0 2 0-4-1-2-1 1 0-1 0 7-1-2 0-7-1 5 0 0-1 3 0-3-2 4 0-7 0 7-2-7 0 1-4 1-4 3-6-1-4 0-9 0 18 13 2 0 2-6 5 4 4-4 0 5 0-7 1 4 0 4 0 0 0-5 1 0 1-1 0 3 1-1 1 2 0-4 1 0 1-3 0 1 0 0 1-1 1 3 1 4 1-2 1-1 0 2 0 0 0-1 1-5 87 4-89 15-1-3 0-2 0 2 0 0 0-6-1 6 0-2 0 2 0-3-1 0 0 5 0-3 0 3-1-6 0 4 0-5 0 5 0-1 0 4 0-4-1-3 0 4-1-1 0-1-1-2 0 0-1 3-1-4 0 0-1 7 0-6-1 2-1 2 0-6-1 9-7-3-4 3 2 7 0-3 6 5 2-1 0-2 1-3 0 6 1-4 2-2 0 6 0-2 1-3 0 6 0-8 1-1 2 1 0 2 0 3 1-6 0 9 0 0 0 0 0-3 1-5 0 1 1 5 1-3 0 5 1-9 0 7 93-6-1 18-4-6-88 0-1-2 0 3-1 2 0-2 0-1-1 2 0-4-1 1 0-1 0 4 0 1-1 3 0-1 0-6-1 5 0 1-1-6 0 1 0 6-1-4 0 0 0-2-1 6-5-3-1 0-1-3-1 3-2 2-2-8-4 7-9-7 5 19 1-8 9-1 0 2 2 0 0-2 1 2 1 6 0-1 2-7 1 7 1-7 0 4 1-3 1-1 1 2 1-1 1 0 1 1 0 5 1 2 0-6 1-1 0 5 0 0 0-7 0 8 0-1 1 1 0 0 0-1 0-6 1 6 0-6 0 7 1-3 0-5 0 2 90 6 11-1-103 8 0 3 0-4 0 0 0-3-1 5 0 0 0 2 0 1-1-9 0 7 0-6 0 3-1-4 0 2-1 6 0-5-1 2 0 0 0 1 0 1-1 0 0-3-1 4 0-7 0-1-1 3 0 0-1 4-3-4-1 1-1-2 0 0-1 1-2 0 0 1 0 3-7 0-1-5-2 5-3 2-2 9 9-7 6 4 2 2 1-1 1-5 0 5 2 0 1 1 2 0 1-4 2-3 0 4 1 5 1-8 1 2 0 2 0-4 0 4 0 0 0-5 1 4 1 5 0-7 0 4 1 2 97-1-1 4-95 8 0-1-1-5 0 1-1-4 0 9 0-8-1 0 0 3-1-4 0 5 0-1-2-4-1 3 0 4-2 1 0 0-1-8 0 2 0 2 0 5-1-3-1-1-2-1 0-4-2 0-2 0 0 1 0 3-1-4-1 0-4 11 2 7 6 0 1 1 3-6 0 4 0-2 1 4 1-5 0 3 1-1 1-1 0-1 1-4 1 0 1 6 0 0 0-5 1 7 0-7 1 6 0 0 0-7 0 6 0-5 1 7 0-4 0 0 0-3 0 3 1-2 0 2 0 4 1-8-1 17 0-4-1 0 0 1 0 3-1-7 0 9-1-4-1 4 0 0 0-6 0-2-13 5-14 0 9 11 7 0 2 2 0-1 6 0 1-3 0 1 2-3 0 1 1 1 0-4 1-1 0 3 0 3 0-6 2 0 0 5 0-5 110 9-8 5-95 5-2-2 0 2-1-3-1-3-1 5-1-1-1-2-4 3-2 1-5-3-2 2-6-8-7 5 3 10 10-4 5 5 2 1 1-6 2 4 3 4 1-4 0 0 1-5 0 0 1 2 3-2 88 8-17 2-4 2-58 5-2 0-2 1-3-3 0-3-11-1-1 1-23 3 37 5 1 1 6 0 8 5 51-4 11 4 28-5" fill="none" marker-start="url(#m1)" marker-mid="url(#m1)" marker-end="url(#m1)"/>
<path transform="scale(.5)" d="M50 0l3 5 17 3 3-6 67 4 2 2 2-3 2-4 5 4 15 2 15 2-15 9-1-3-1-1-3 4-2 1-4-5 0-2-3 0-1-2-1 4-2 3-1-4-1 2-2-5-73 2-3 7-46 8 40-2 85 0 0 3 1-8 0 4 0 5 1 0 0-2 1-7 1 5 0 3 1-6 0 0 1 5 0 2 1-9 2 8 3-6 0 5 1-2 2 3 3 0 2-4 4 9-10 3-1-4-1-1-1 5 0 1-1 2-1-3-1-3-1 6-2 0-1 0 0-4 0 0-1-1-88-3-2 10 4 8 86-5 0-3 0 0 1 0 0 4 1 4 0-7 1 3 1-5 1 4 1 3 1-1 0 2 0 1 1-2 0-6 3 8 2 0 0-6 1 3 1-3 3 4 0-4 1 6 0-3 2-2 1-3 7 17-4-8-4 8-1-7-6 2-1 5-1-6 0 1-1 6 0-1 0-6-1 5-1-6-1 0-1 1-1-1 0 2 0-3-1 2 0 7 0-4-1 1 0-4-1 4 0-2-1 0 0 3-1-1-1-6 0 3-90 6-2-7-2 5 3 11 5-8 3 0 82 9 1-4 0 3 1-2 0 0 0 3 0 0 1-3 0-4 0 1 1 0 0-2 0 7 1-6 0 1 2-2 1 1 0 2 1 5 0-6 1 0 0 6 0 0 0-1 1-2 2 2 0-7 0 3 1-2 0 4 1 0 1-3 3 4 3 2 1-8 1 6 0-4 1 3 2 0 2-2 5 1 4 0 4-2 21 2-23 10-5-5-5 0-2 8 0-8 0 9-1-3-1 3-2-7 0-1-1 6-1-1 0-2-1 2-1 1-1-6 0 4-1-4-2 6 0-4-1 3-1-4 0-2-1 0-2 1 0 5 0-6 0 8-1 1-1-6-1-3 0 6 0 2-1-4 0-4 0 5 0 3-1-4 0 1-1-5-1 3-2-2 0-1-91 9 93 9 1-2 0 0 0 2 0 1 1-1 0 1 1-8 0 4 0-5 0 6 1 1 0 0 0-3 0-2 0 6 0 1 1-8 1-1 0 8 1 1 0-9 0 1 0 7 0-6 1-1 0 3 3-2 0 5 0-2 1 1 0-4 1 6 1-2 2 1 2-2 1-5 0 6 0-6 3 5 1-5 5 4 0 2 3-1 15-4 19 9-3 9-26-2-2-5-4 2-3 4-2 1-3-8-2 7-1-7 0 4 0 1-1-5 0 5-1 2-1 0-1-7 0 4-2-5 0 7-2-4 0 4-1 0 0-7-1 5 0-1-1 1-1-2-1 2 0-2-1 0 0-3 0 0-1 3 0 1-2-4-105 8 3 5 3 2 103-5 1 1 0 2 1-3 0 5 1-3 0 6 0 1 0 0 1-3 0-4 0 1 2 3 0 3 0-7 1 7 0-2 0-7 1 0 2 9 2-1 0-8 1 7 0 2 1-6 0 6 1-3 2 2 0-2 0 3 2-5 0 3 1 1 5-1 2-4 2-2 1 7 1-3 2 1 0 1 3 5-7-1-2 3-3-2-1 7 0-1-1 0-1-5 0 5 0-8-2 2-3 3-1 4-1-6-1-1 0 2-3-2 0 4 0 2 0-2-2 1 0-5 0 0-1 3 0 3 0 0-1-8-1 0-1 8 0 0-1-8-1 2 0 3 0 2 0-5 0 5-1 1 0 0 0-8-95 8-4-5-12 15 7 0 1-8 103 6 0-5 1 7 1 1 0-3 0-6 0 4 0 3 2 2 0-3 0-2 1 5 0-8 0 1 0 1 1 4 1 1 1 0 1-1 1 1 0-5 0 2 2-1 0 4 2-8 1 0 0 7 1 2 1-4 0 0 1-5 1 1 0 6 3-6 9-1 1 8 20-3-10 14-3-4-5-3-2 0-4 0-5-1-1 4-2 0-1-4 0 6-1-7 0 7-4-3-1 0 0 4 0-6 0 7 0-9-1 9 0-1 0-8 0 2-1 3-1-4-1 1 0 0-1-2 0 9-1-3 0-4 0 5 0-4 0 4 0-5-1 4 0 3-1-3 0 2-1-4 0-3 0 2-1-3-1 0 2 16 1 1 0-2 0 1 0-2 0 0 1 1 0-1 0 0 1-4 0 4 1 5 0-4 0-4 1 7 1-7 0 0 1 2 1 6 1-8 0 5 1-5 0 2 0-1 1 4 0 2 0-8 1 7 2-3 0-1 2 6 0-5 3-1 4 4 0-3 2-1 1 0 0-1 14 6 3-1 9-7-3 11-9 6-2 0-2 0-10-7-2 5-2-1-1 2 0 2-1-3-1 3-1-2 0 3 0-3-1-6 0 6-1-6-1 9 0-2 0-5-3 1-2 2-3 0-1-2 0 1 0-2 0 6 0 0 0-3-1-1 0 4-2-8 0 3 0 5-3-8 0 3-1 1 0-2 0 1 0 4 0 0-1-4 0 1-1 3-1-1 0 1-1 0 0 2 0-1-96-6-12 9 7 1 5 0 6-2 75 9 6 0 0 0 2-1 2 1 0-3 3-3 1 1 0 2 1-6 0 4 1 3 0-4 1 0 2 3 1 3 0-4 1 1 0 2 0-8 2 1 1 6 1-1 1 2 1-3 1-5 0 0 0 2 2 2 0-4 1 5 3 4 0-4 2-3 1-1 2-1 2 7 0-1 1-3 3-3 2 0 13 2-4 14 0 2-7-3-12-1-11 5-2-4 0 2-1-1-1-1-2-2-4 3 0-2 0-1-1-3-1 1-2 5-1 3 0-8-3 2 0 1 0-3-1 6 0-3 0-3 0-1 0 0 0 9-1-7 0-1-1 2-1 2-2-2 0-3-1 3-1 0 0 0-1-3 0 9 0 0-1-9 0 0-1 4 0 1-1-1-1 3-2-2 0 0-2 3-64-5 61 10 8-3 13 6" fill="none" marker-start="url(#m2)" marker-mid="url(#m2)" marker-end="url(#m2)"/>
<path transform="scale(.5)" d="M38 0l20 2 2 5 1 0 0 0 1 0 3-1 4 0 0 2 0-2 1 2 1 0 1-4 0 4 0-1 1-1 0-1 0 3 1-6 0 2 0 2 1-5 0 2 63-2 1 2 0 2 1-2 0-2 0 4 0-4 1 1 0 5 0-4 0 4 1-6 0 8 1-1 0-7 0 5 0 3 0-2 1 1 0-2 0-2 0-1 0 4 1-5 0 1 0-1 1 0 0 7 1-4 0-1 1-1 0-2 3 6 0 0 0-3 0 5 2-6 0 1 5 5 1-5 1 3 0-4 3 5 10-7 3 8-11 2-3 2-2 3 0-6 0 1-1 7 0-3 0-1-2-3-2 6-1-2 0 1-1-4 0 5-1-4-1 1-1-1 0 6 0-7-1 4 0-5-1 0 0 7 0-7-1 4 0 3 0 0 0 0-1-4 0-1-1-3 0 6-75-5-1 3 0-3 0 3-1-3-1 7 0-1-1 2-1-2-2 1-13 9 3-7 1 4 1 4 4-6 0 1 3 1 0 1 0-2 1 0 1 5 1-4 0-2 0 1 3 0 0 0 1 1 78 1 0-5 1 5 0-4 0-1 1 9 0-1 0-4 0 0 1-2 0-2 1 0 0 4 1-4 0 7 0-7 2 4 0-3 2 0 0 1 0 0 1 2 0 3 1-3 0 0 1 2 0-2 1-2 4 5 5 0 0-3 12-1 2 5 11 9-11-1-4-3-8 5-1-8 0 1-2 8-1-4 0-4-3 2-1 5-2 0-2 1 0 0 0-4 0-3-3 5 0-1 0-1-1 0 0 4-1-6 0 4-1-6 0 3-1-3 0 7-2-3 0 2 0-1 0 0-1-6 0 5-1-5 0 1-1-1-1 0-78 4 0-1 0-3 0 2-1 1 0-1-1 6 0 0 0-3 0 2-2-4 0 1-1-2 0 3 0-2-1 2-1-1-2 2-3-2-4 3-1-2 0 1-1-2 0 4-1-7 2 12 1 5 1-6 1 2 5 1 2-5 0 5 1 0 0 4 0-4 1-1 1-4 86 3 1 5 0-7 0 8 1-1 0 0 0-2 0 0 1-1 0-5 0 2 2 4 0 0 1-4 0 1 0-2 1 2 0-2 2 0 0 4 1 1 1-3 0 5 1-3 1-4 3 6 0-4 1 3 2-4 6 4-7 10-2 3-2-7-1-1-2 3-1 0 0-2 0 0 0-1-1 7-1-5-1-3 0 7 0-2 0 3-1-1 0 0 0-1 0 0-1 3 0-7 0 1-1-3-1 4 0 1 0 0 0-2-1 5 0-6-1 2 0 1 0 1 0-5 0 3 0 3 0 1 0-8 0 9-1-2-1-3-87 5 0-9-2 2-1 1-1 2 0 1-4-3-5 2-47-2 15 7 24 5 8 0 6 0 3 3 0 0 2-8 4 7 1-5 1 2 84 3 1 2 0-3 0 0 1-5 0 2 0 1 0-3 0 0 1 4 0-4 0 1 0 2 0 1 0-3 0 6 0-1 1-7 0 4 1 4 0-1 0 2 1-5 0-1 1-3 0 6 0-4 0 2 1-3 0 2 0-3 0 0 2 1 0 3 0 1 1-2 0-3 1 9 0-5 0 1 1 4 1-6 1 5 0-7 2 5 1-5 2 0 0 4 0 2 1-6 12 0 0 6 6 1-4 6-4 2-7-2-2 5-3-2-2-5 0 5-2-5 0 5 0-3-2-2-1 7-2-5 0 0-1 0 0 0 0 4-3-8 0 3-1 0 0-1-1 4-2-4-2-2 0 1-86 2 0 1-3 4 0 0-1-2-1-6-5 2-1 3-1-5 0 18 0-8 10 1 1 3 90 3 0 1 1 1 1-2 0-4 0 6 0-7 0 4 1-5 0-1 0 8 1-7 0 5 0-4 0 7 1-7 0 2 1-3 0 0 1 1 0 7 0-8 2 2 2 0 1 0 0 2 0-5 1 9 3-1 0-2 1 1 0-2 0 2 0-2 1 3 2-6 1 3 2 1 3-4 1 7 1-2 4 2 1-6 12 5-14 2-6 3-1-3-6 6-1-1-1 1 0-2-1-3-4 4-1-1-1-1 0-1 0 4 0 0-1 2-1-4 0 2-1-5 0 0 0 1 0-1 0 2-1 3 0-1-1 0 0 0-1-5 0 2-93 3-1 2-4 2-4-8-1 3 0 0-4 1-5-4-5 9 18 0 0 2 103-2 0 1 3 2 2 0 1 4 1 0 4 2 0-2 4-1 1-1 1-2 2 6 2-3 0-3 11 8-4 7-13-8-7 3-2-3 0 4-1-4-3 5-2-3 0-2-98 3 0-1-2 7-1-7-7 16 2-8 0 3 106-1 1-2 1 1 1 2 7 3 5-4 0-2 21 9-27 6-5-3 0 0 0 4-1-4 0-2-2 0-103 8-1 1-2-9 113 16 0-4 13 7 2-8 8 0 13 3-34 6-3 8-1-6-2 3-1 3-96-5-3-2 7 10 81 7 4-5" fill="none" marker-start="url(#m3)" marker-mid="url(#m3)" marker-end="url(#m3)"/>
<path transform="scale(.5)" d="M41 1l10 2 10 0 2 1 1 0 1 5 6-4 0 0 1 1 1 0 0 0 1-4 1 3 74 3-81 3-1 6 0-6-1 1-1 6 0-7 0 7-2 1-8-8-19 18 7 0 2-2 4-1 3-3 0-2 2 7 1-5 3-2 3 0 0 0 4 2 1 5 3-6 80 2 1 1 1 2-83 10 0-4 0 6 0-6-3 4 0-2-1-5-1 8-3-6 0 6-4 0-1-1-4-7-19 12 4 7 5-9 1 0 5 7 2 1 1 1 2-3 0-2 2 2 1 0 2-4 1 2 2 5 1-3 0 3 0-2 0-4 2 3 1-2 0 3 1-5 1 4 1-1 0 0 0-3 0-2 85 9 6-8-4 13-3-1-1-3-85 3 0 2-3 2 0-5-2 0-1 6-3-3 0-2-2 2 0-4-14 6-3 9 5-6 10 8 2-4 2 5 1 0 1-3 0 1 1 2 1-3 1 1 1-2 0-1 1 2 2-5 0 0 0 5 85 1 1 2 1-2 10 1-97 10 0-1-1 0 0-2 0 3-1-1 0-5 0 2-1 2-1-1 0 4-1-6-1 1 0-3 0 1 0-2-1 1-14 13 2 0 8 2 2-6 0 7 1-6 2 3 2 5 1-7 0 1 0 3 3-5 0 7 93 7-97 1-1-2-1 1 0-5 0 7-1-3-2 1-2-5-1 2-2-2-6 4-3 4 0 11 1-7 8-1 3 1 1 3 5-2 3-1 1 6 106 6-105 4 0-3 0 3-3-4 0 0-4 0-2 4-3-1 0-6 0 14 1 0 1-1 2-3 2 0 1-1 0 5 1-3 1 5 2 7 0-1 0 0-1 5-2 1-2-6-2 3-2 2-1-1-5-1-1-1 8 13 1-6 4 5 0 0 2-3 0-3 0 6 109-4 18 13-20-3 0-2-9 3-90 5-1 0 0-1-2-2-2-3 0 1 0 3-1-6 0 3-1-3 0 8-1-7-1 5 0 2 0-8-1 1 0 5-3-3 0 0-2 0-1-2-2-1-4 2-7 7 5 9 4-2 1 1 1-7 4 4 3-1 1 3 1-4 0-2 1 5 1 0 0-3 0-3 1 2 0-2 1 6 2 3 0 0 1-7 0 3 1 4 0-1 0 1 2-5 0-2 1 7 83-2 1-2 8 0 8 2 0 5-10-1-5 6-4-4-1 1-5-4-1 6-1-2 0-2-2 6-1-8 0 7-1 2 0 0-2-5 0-3 0-1 0 7-1-1 0 3-1-7 0 3 0-4-1 1-2 7-55 0-2-3-1-1 0 2 0-2-3 0 0 3 0-6-1 3 0 1 0 3 0-2-1-7-2 0 0 4-1 3-1 2 0 0-1-4-3-3-3-1-6 1-3 5 0-7 4 11 3 3 6-2 1 3 1-4 1 1 1-1 1 3 1-3 1 8 1-4 1-1 1 0 0 4 2-8 2 6 0-4 1 7 1-9 0 4 1-2 0 0 1 2 0 3 0 1 1-4 0-2 2 6 0 0 2-2 0 3 0-4 1 4 2-1 0-2 1 3 4 0 1 0 1 0 26 0 1-2 2 0 0-1 1 1 0 2 0-3 1-1 0-1 1 1 1 4 0-1 2-3 1 2 0-5 1-2 0 1 1-1 0 1 0-1 1 8 1-7 1 6 0-5 1-1 2-1 0 6 0 1 1-1 2-5 4 3 2-2-1 15-5-4-1-3-3 8-2-2-4-5 0 1-2 0-1 2-1 1-1-5 0 0 0 5-1-2 0 4-1-2-1 0-2-5-1 7-1-2-1-4-1 1 0-1 0 1 0 2 0-4-1 8 0-4-1-4-1 3-1-3-1 3-2 0 0 2 0-3 0 5 0-6-1 4-1 1 0 1-2-6-1 2 0 0 0-2-2 3 0 0-2-4 0 6 0-3-3 2 0-3 0 0-1 1 0-2-1 8 0 0 0-9-1 6 0-1 0 3-1-2 0-2 0 4-1-6-1-1 0 4-1-4 0 8-2-1-1-6-2 3-3-5-1 3 0 6-3-9-3 0-1 6-2-6-2 0-5 8-7-8-5 1-2 5 19 11 8-7 2 8 4-7 2 2 0-3 4 6 2-5 2 4 0 0 2 4 1-6 1-1 2 2 0-1 1-1 2 0 3-2 2 2 2 3 2 2 1-7 0 4 5-1 6 4 1-7 4 2 22 6" fill="none" marker-start="url(#m4)" marker-mid="url(#m4)" marker-end="url(#m4)"/>
<path transform="scale(.5)" d="M36 9l17-4 1-4 7 3 7-1 2 1 1-3-3 12-1 3-11-4-57-2 55 11 6 8 3-1 1 0 0-7 3 7 96 7-95 1 0-4-2 2-1-1-14 0-3 2-9 8 9-2 2 0 0 6 5 1 0-1 2-3 2 3 2-2 0 4 0-4 1-4 1 0 1-1 0 8 1-6 2 3 0-2 1-1-2 15 0 2 0-2 0-2-3 0-1 1-1-2-2-3-2 6-5 1-2-6-2-2-3 8-8-6-6 0-9 11 22 1 8-2 1 7 1-9 0 1 0 8 0-1 1-2 3-2 0 1 0-3 0 7 1-2 0 1 1-2 2-1 1 0 0-1 0 5 1 0 2-6 0-3 0 4 0-3 1 1-2 15 0 1-1-2 0-3-1 4 0-4 0 6-1-1-2 1 0-3-1-4 0 7-1-4 0 4 0-6-1-2-4-1 0 4-2 3 0-6-5 8 5 1 1 5 1 0 1 3 3-1 0 1 0-3 0-3 0 4 1-6 0 5 0 4 1-4 0-3 0 7 0-5 1 3 0 2 1-3 0-5 0 4 1-3 1 3 1-1 1-2-1 8-1 7 0 1 0-3-1 4 0 0-1-5-1 0 0-1-1-3-1 4-1-1-1-1 0 2 0 5-2-6-4-3-1 4-3 5-3 1 2 6 4-3 1-2 2 0 1 2 0 6 3-3 0-2 0 5 1-3 0-2 1 1 0 1 0-4 0 4 1 0 1-3 1-3 0 6 1-1 0 2 0 1 0-1 1-4 0 5 107 2-105 9-1-7 0-1-1 2 0 6-1-4 0 2-1 1-1-8-1 8-1-2 0-2-2-1-1 3 0-4-1 7 0-1 0-2-3 2-5 1-3-4-8 8 10 2 0 4 3-4 2 4 1-7 2 4 0 1 1-4 0 1 0-4 2 7 1-7 0 5 1 4 0-3 1 2 0-5 0 1 1 5 1 0 0-3 0-1 1 4 0-9 0 4 1 3 0-5 0 3 0 0 0-2 1 2 0-3 0 6 96-6 3 2 3-2 4 11-106 2 0 0 0-4-1 4 0-4-1 2 0-1 0 6 0-6-1-1 0 5 0-6 0 0 0 9 0-8-1 0-1 6-1 1-2-8 0 2 0 0-1 5 0-2-2-4-6 1-3 5-3-7-5 15 5 4 3-1 4-3 1-4 1 4 1-1 1 3 0-2 4 2 0-6 0 2 0-2 0-1 0 0 1 7 1-3 0-3 1 4 0 2 1-1 0 0 1-6 0 0 0 0 1 7 0-4 1 4 1-2 108 1-3 13-2-3-99-1 0 3-1 0-1-2 0-2 0 2 0 3-1-7 0 6 0 0 0 0 0-4 0 4-1-1 0-3 0-3-1 8-1-3-1-3 0-1 0 3 0-4 0 2-2 0 0-1-1 5 0-4-3 6-3-5 0-3-1 3-4 2-10-1 1 7 2 2 2 5 6-5 1-3 2 0 7 4 4 1 1 0 1-1 0-5 0 1 0 2 1 2 1 2 0 1 1-1 0 2 0-6 1-3 0 4 1-2 0 6 0 0 1-6 0 2 1 5 1-7 84 2-7 11-4-3 0 0-4-1-2 6 0-2-2-2-63-2-1 1-2 1-2 3 0-3-5-2-1 1 0-1-2 1-4 3-2-1 3 8 2 4 1-5 3 2 3 0 2 1 3-4 1 0 1 2 0 6 1-7 0 3 0-2 2 4 0 2 2-8 0 5 0 0 1 4 1-8 2 1 1 2 1 5 0-5 1 3 0 2 0-4 0 2 3-1 1 2 1-2 1 3 31-1 2 0 0-2 0 2 2-3 3-1 2 0 1 3 1-6 1 3 7-1 4 1 1 4 2-3-9 6-8 5-10-6 0 0-2 0-2 2-2 6-1-7-10 5-1-2-1-1-4 1-1-1-1 3-1-6-1 0-9 5-1 1-5-5" fill="none" marker-start="url(#m5)" marker-mid="url(#m5)" marker-end="url(#m5)"/>
<defs><path id="c139" d="M54 91.6l1.6 0.6 1.9-0.6 1.4-0.9 3.3 0.6 2.1-2 1.1-0.8 1-1.6 1.5-2.3 0.2-2.4-0.1-2.3 0.7-0.8 1.8-1.5-0.8-2.4 0.7-2.3 0.8-2.4-0.1-2.3 0.3-2.3-0.8-2.4 0-2.3-1.9-2-0.3-0.4-3-2.3-3.2-2.2-0.3-0.1 0-2.4-3-0.7-3.3-0.2-3.2 0.6-3.3-0.3-1.3 0.6 0 2.4-1.5 2.3-0.4 0.7-1.8 1.6-1.5 0.8-1.2 1.6 1.2 2.3 0.1 2.4 0.7 2.3-0.8 1.8-0.3 0.5 0.3 0.6 0.8 1.8 1.2 2.3 0.3 2.4 1 0.9 0.9 1.4 1 2.3-0.4 2.4 1 2.3 0.7 0.5 3.3 0.9 0.8 1z"/><path id="c140" d="M54.3 84.6l1.3 1 3.3-0.8 0.7-0.2 1.2-2.4 1.4-0.9 2-1.4 1.2-0.7 1.6-1.6-1.6-1.6-0.5-0.8 0.5-2.1 0.2-0.2 2.1-2.4 0.2-2.3-0.3-2.3-0.6-2.4 0-2.3-1.6-2.4-3.2-1.9-1.1-0.4-2.2-1.1-3.3-0.4-3.2 0.5-2.1 1-1.2 1.7-0.5 0.6-2.7 2.4-0.1 2.3-0.6 2.4 0.7 1 1.5 1.3 0.2 2.3-0.2 2.4-0.1 2.3 1.8 1.8 1 0.6 1 2.3 1.3 1.3 1.2 1z"/><path id="c141" d="M54.6 77.6l1 0.7 1.3-0.7 2-0.8 2.8-1.6-0.8-2.3 1.2-2.4 0.1 0 2.2-2.3-0.9-2.3 0.4-2.4 0.2-2.3-1.9-2.1-1.3-0.3-2-0.5-3.3-0.7-3.2 1.2-1.9 2.4-1.4 1.3-0.3 1 0.3 0.5 0.8 1.9 0.6 2.3 0.2 2.3 1.7 2.4 2.6 2.3z"/><path id="c142" d="M55.5 70.5l0.1 0.1 3.3 0.7 0.5-0.8-0.5-2.3-0.1-2.3 0.1-0.3 0.8-2.1-0.8-1.5-3.3 0.6-1.2 0.9-1.3 2.4 2.3 2.3z"/><path id="c143" d="M46.9 81.8l2.5 1.2 4.2-0.3 1.1-0.9 3.1-1.7 3.3-3 0.9-1.4 1.8-3.2 1.1-4.7 0.8-4.6-0.8-4.7 0.2-4.7-1-4.6-0.8-4.7-0.7-4.7 0.5-4.6-1.1-3.3-0.4-1.4-0.2-4.7-1-4.6 1.3-4.7-3.9-4.7-0.7-4.6-3.5-4.7-4.2 0.1-0.2-0.1 0-4.6-4-1.6-4.2-0.3-3.6 1.9 0 4.6-0.6 1-1.9 3.7-1.1 4.6-0.1 4.7 0.4 4.7-1.4 3.2-0.8 1.4 0.8 1.4 0.8 3.3-0.8 3-0.9 1.7 0.6 4.6-0.1 4.7-0.8 4.7 0.1 4.6 1.1 4.7 0.2 4.7 1.3 4.6 1.5 4.7 1.1 1.1 2.5 3.5 1.7 2.1 4.2 2.1z"/><path id="c144" d="M48.4 77.1l1 0.7 1-0.7 3.2-4.3 4.2 0.7 0.7-1-0.7-1.5-0.6-3.2 0.6-2.6 1.4-2 1.3-4.7 1.5-4 0.2-0.7-0.2-0.5-2.4-4.1-0.3-4.7 1-4.7-0.8-4.6-1.7-4.4-0.1-0.3-0.8-4.7-1.4-4.6 0.1-4.7-2-2.5-1.8-2.2 1-4.6-3.4-1.3-3.8 1.3-0.4 0.1-4.2 1.5-1.9 3-1.1 4.7 0.4 4.7-0.6 4.6-0.6 4.7-0.4 2-0.5 2.7 0.5 4.6-0.7 4.7-0.9 4.7 0.3 4.6 1.3 4.7-1.1 4.7 1.1 3.2 1.1 1.4 3.1 3.3 1.5 1.4 2.7 2.2z"/><path id="c145" d="M50.6 67.8l3 1.2 0.9-1.2 0.2-4.6 1.3-4.7-1.7-4.7-0.2-4.6 0.7-4.7 1.2-4.7-2.4-3.9-0.3-0.7-3.9-3.4-2.3-1.3 2.3-1.7 1.2-3-0.2-4.6-0.4-4.7-0.6-0.7-0.4 0.7-3.8 3.9-1.3 0.8 1.3 3.6 0.8 1-0.8 1.6-1.3 3.1-2.2 4.7-0.7 2.1-0.6 2.5 0.6 4.7-2.1 4.7 2 4.6-0.3 4.7 0.4 4.7 4.2 4.6 4.2-0.7z"/><path id="c146" d="M45 63.2l0.2 0.2 1.4-0.2 2.8-1.5 2.2-3.2-1.9-4.7-0.3-0.6-2.1 0.6-2.1 3.1-0.1 1.6zM44.7 44.5l0.5 2.1 2.1-2.1 2.1-1.9 0.9-2.8-0.9-1.2-4.2-3.4-1.1 4.6z"/><path id="c147" d="M49.7 85.8l5.1 1.8 5.2-0.6 4.5-1.2 0.6-0.1 5.1-0.8 5.2-0.4 3-3.3 2.1-4.6 2.1-4.7-1.1-4.6-1-3.1-0.2-1.5-0.8-4.7 1-4 0.3-0.6-0.3-0.6-1.2-4-2.5-4.7 1.4-4.6-2.8-4-0.6-0.6-2.3-4.6-2.3-3.4-1.2-1.3 1.2-1.5 3-3.1-3-2-5.1-1.9-1.1-0.7 1.1-1.9 1-2.8-1-1-5.1-0.1-2.9-3.5-0.8-4.6 0-4.7-1.5-0.8-1.9 0.8 0 4.7-0.9 4.6-2.3 1-3.1 3.6 0.2 4.7-0.5 4.6-1.8 4-0.2 0.6-0.4 4.7-1.2 4.6-1.2 4.6-0.5 4.6-0.4 4.7-0.6 4.6 0.7 4.6-0.4 4.7 0.3 4.6 0.1 4.6 2 4.7 1.8 3.1 0.6 1.5 4.6 4.6z"/><path id="c148" d="M49.4 81.2l0.3 0.3 5.1 2.3 5.2-0.9 5.1-1.3 1.4-0.4 3.7-1.1 4.2-3.5 0.4-4.7 0.6-2.1 0.9-2.5-0.9-1.8-2.2-2.8 1.3-4.7-2.2-4.6 1.5-4.6-2.2-4.7-0.4-4.6-1-1-5.1-1.7-1.6-1.9 1.6-4.1 0.4-0.5-0.4-0.5-5.1-3.3-0.2-0.9-1.7-4.6-2.6-4.6-0.7-0.9-0.8 0.9-1.1 4.6-3.2 4.2-0.3 0.4 0.1 4.7-2.9 4.6-0.8 4.6-0.1 4.6-0.5 4.7 0.3 4.6-0.7 4.6-0.3 4.7 0.7 4.6-0.3 4.6 2.2 4.7z"/><path id="c149" d="M51.5 76.6l3.3 2.9 5.2-2 1.7-0.9 3.4-1.6 4.7-3.1-4.7-3.4-1.1-1.2 1.1-3.6 0.5-1 1.2-4.7-1.2-4.6-0.5-0.6-5.1-3.1-0.4-0.9-1.2-4.7 1-4.6-1.1-4.6-3.5-2.9-4.1 2.9-1 2.2-0.7 2.4 0 4.6 0.7 3.5 0.2 1.2-0.2 1.4-0.6 3.2-0.9 4.6 0.4 4.7-0.5 4.6 0.1 4.6 1.5 2.2z"/><path id="c150" d="M52.9 67.3l1.9 4.6 2.7-4.6-0.1-4.6-0.4-4.7-1.4-4.6-0.3-4.6-0.5-1-0.5 1-0.2 4.6-1.7 4.6 0.4 4.7z"/><path id="c151" d="M48 69.7l1 0.8 5.1 1 5 0.5 5-0.9 5.1-1.4 1.5-4.2-1.5-1.9-1.2-2.3 1.2-1.2 4.2-3 0.1-4.2 0.7-1.6 1.9-2.7-0.6-4.2-0.8-4.2-0.5-2.1-0.2-2.1 0.2-0.9 1.9-3.3-1.4-4.2 0.7-4.3-0.1-4.2-1.1-1.6-1.1-2.6 1.1-3.7 0.2-0.5-0.2-0.3-2.2-3.9-2.8-4.3 0-4.2-5.1-2-5 0.2-5-0.4-5.1 0.1-5 1.7-5.1 0-0.7 0.4 0 4.2 0.7 1.3 1.8 3-1.8 4.2 0.6 4.2 0 4.2 0.4 4.2-0.7 4.3 1.5 4.2 0.5 4.2 0.4 4.2-1.1 4.2 0.9 4.2 1.6 4.3-0.1 4.2 1.1 2.3 1.2 1.9 1.1 4.2z"/><path id="c152" d="M53 65.5l1.1 1 3.7-1 1.3-0.6 2.7-3.6 2.3-1.2 3.3-3 1.8-2.6 0.9-1.6-0.9-4.3 1.5-4.2-1.5-3.8-0.1-0.4 0.1-0.3 1.6-3.9-0.1-4.2-1.5-3.5-0.2-0.7 0.2-1 1.2-3.3-0.5-4.2-0.7-4.2-1.1-4.2-1.8-4.2-1.7-4.3 0-4.2-0.5-0.2-3 0.2 0 4.2-2 0.3-1-0.3 0-4.2-4-0.4-5.1 0-1.1 0.4 0 4.2-2.6 4.3 0.1 4.2-1.4 3.9-0.2 0.3-0.5 4.2 0.7 3.5 0.1 0.7 1.2 4.3-0.7 4.2-0.5 4.2 1.9 4.2-1 4.2 0.9 4.2 2 4.3 1.1 2.4 0.6 1.8 4.5 4.2z"/><path id="c153" d="M53.9 52.9l0.2 0.8 5 0.1 1.3-0.9 3.7-3.1 0.5-1.2-0.5-1.6-1.1-2.6 1.1-1.2 1.4-3-0.8-4.2-0.6-1-2-3.2 2-1.9 1.2-2.3-1.2-2.3-1.2-2 1.2-4.2 1.1-4.2-1.1-2.9-0.8-1.3-4.2-3.4-3.4-0.8-1.6-0.4-1 0.4-2.9 4.2-1.2 4.2-0.5 4.2-0.7 4.2 1.2 2.8 0.9 1.5 4.2 3.3 1.8 0.9-1.8 2.1-5.1 0-1 2.1 1 1.7 2 2.5 1.2 4.2-0.9 4.2z"/><path id="c154" d="M57.6 36l1.5 1.2 1.2-1.2-1.2-1.6zM53.2 27.6l0.9 0.7 5 2.1 3.2-2.8-2.2-4.3-0.3-4.2 1.3-4.2-2-3.5-2.3 3.5-2.7 1.6-2.4 2.6 2.4 4.2z"/><path id="c155" d="M43 91.4l1.5 1.2 5.3 2.5 5.3 0.3 5.3-1.1 5.3-2.9 2.9-5.2 1.6-5.2 0.3-5.2-1-5.2 0.9-5.3-2-5.2 0-5.2-1-5.2 0-5.2 0.2-5.2-1.3-5.2-0.6-5.3-1.2-5.2-0.8-5.2-1.4-5.2-1.9-2.4-2-2.8-2.7-5.2 0-5.2-0.6-0.3-5.3 0.3 0 5.2-5.3 4.5-1.1 0.7-3.8 5.2 0.2 5.2-0.6 3.1-0.7 2.1-1.5 5.2-0.7 5.3 1 5.2 1.4 5.2-3.4 5.2 1.4 5.2-0.5 5.2-0.7 5.2-0.2 5.3 0.2 5.2 0.2 5.2 1.7 5.2 1.8 1.8z"/><path id="c156" d="M41.3 86.2l3.2 3 5.3 1.5 5.3 0.7 5.3-1.6 3.3-3.6 2-4.6 0.2-0.6 1.6-5.2-1.8-4.8-0.2-0.4 0.1-5.3-1.7-5.2 0.3-5.2-0.7-5.2-0.2-5.2-0.3-5.2-0.4-5.2-1.2-5.3-1-3.2-1.5-2-2.9-5.2-0.9-2.3-5.3-0.7-2.9 3-2.4 2.6-1.5 2.6-1.8 5.2-0.2 5.3 0.2 5.2 0.6 5.2-0.8 5.2 0.2 5.2-0.5 5.2-1.3 5.2 1.1 5.3-0.8 5.2 0.2 5.2z"/><path id="c157" d="M46.4 86.2l3.4 1.2 3.8-1.2 1.5-0.6 3.9-4.6 0.6-5.2 0.8-2.4 1-2.8-0.8-5.3-0.2-2.6-0.2-2.6-1.6-5.2-0.9-5.2 1.2-5.2-2.2-5.2-1.6-3-1.5-2.2-3.8-4.8-3.4 4.8-1.2 5.2 2.9 5.2 0.9 5.2-3.2 5.2-1.3 5.2-1.9 5.2 1.9 5.3-0.4 5.2 0.1 5.2 0.3 1.3z"/><path id="c158" d="M49.3 75.8l0.5 1.2 5.3-1.2 2-5.2-1.8-5.3-0.2-2.6-5.3-1.9-1.6 4.5 0.3 5.3z"/><path id="c159" d="M43.6 86.7l1.2 1.1 4.3 1.5 4.3 0.4 4.4-2.1 1.2-0.9 3-5 0.1-0.1 4.3-4.3 0.4-0.5 2.5-4.9 0.3-5-2.9-4.9 1.9-4.9-1.9-5-0.3-0.7-0.9-4.2-1.1-5-1-4.9-1.3-2.1-1.3-2.8-1.4-5-1.3-4.9-0.3-0.4-4.4-3.4-2-1.1-2.3-4-2.3 4-2 1.9-3.8-1.9-0.5-0.3-0.3 0.3 0.3 4.9-2 4.9-2.4 3.2-1.1 1.8-0.6 4.9-1 4.9 0 5-0.8 4.9 0.5 5-1 4.9-0.1 4.9-0.2 3.3-0.2 1.7 0.2 0.6 1.5 4.3 2.8 3.1 1.1 1.8 3.3 3.5z"/><path id="c160" d="M43.6 81.7l1.2 0.6 4.3 1.7 4.3-1.1 4.4 0.6 1.4-1.8 2.9-3.7 1.1-1.2 1.7-4.9 0.3-5-0.9-4.9-0.6-4.9-1.6-3.3-0.8-1.7-0.4-4.9-3.1-4.8-0.2-0.2 0-4.9-4.2-4.9-4.3-3.5-3 3.5-1.3 0.6-4.3 4.3-0.2 4.9-2.1 5-1.2 4.9-0.4 5-0.5 2.4-0.6 2.5 0.1 4.9 0.5 2.5 0.4 2.5 2.2 4.9 1.8 2.9z"/><path id="c161" d="M44.6 76.8l0.2 0.2 4.3 1 4.3-1.1 0.2-0.1 4.2-3.7 0.7-1.2 0.8-5-0.6-4.9 0.5-4.9-1.4-2.2-3.2-2.8-1.2-1.4-4.3-3.5-4.3 2.4-1.2 2.5-1.4 5-1.4 4.9 1.1 4.9-0.8 5z"/><path id="c162" d="M47.1 71.9l2 1.3 4.3-1.3-4.3-3.6zM45.8 62l3.3 2.3 4.3-2.3-4.3-1.5z"/></defs>
<g fill-rule="evenodd"><use href="#c139" fill="#fff"/><use href="#c140" fill="#8000ff" fill-opacity="0.15"/><use href="#c141" fill="#8000ff" fill-opacity="0.15"/><use href="#c142" fill="#8000ff" fill-opacity="0.15"/><use href="#c143" fill="#fff"/><use href="#c144" fill="#1996f3" fill-opacity="0.15"/><use href="#c145" fill="#1996f3" fill-opacity="0.15"/><use href="#c146" fill="#1996f3" fill-opacity="0.15"/><use href="#c147" fill="#fff"/><use href="#c148" fill="#4df3ce" fill-opacity="0.15"/><use href="#c149" fill="#4df3ce" fill-opacity="0.15"/><use href="#c150" fill="#4df3ce" fill-opacity="0.15"/><use href="#c151" fill="#fff"/><use href="#c152" fill="#b2f396" fill-opacity="0.15"/><use href="#c153" fill="#b2f396" fill-opacity="0.15"/><use href="#c154" fill="#b2f396" fill-opacity="0.15"/><use href="#c155" fill="#fff"/><use href="#c156" fill="#ff964f" fill-opacity="0.15"/><use href="#c157" fill="#ff964f" fill-opacity="0.15"/><use href="#c158" fill="#ff964f" fill-opacity="0.15"/><use href="#c159" fill="#fff"/><use href="#c160" fill="#ff0000" fill-opacity="0.15"/><use href="#c161" fill="#ff0000" fill-opacity="0.15"/><use href="#c162" fill="#ff0000" fill-opacity="0.15"/></g>
<g fill="none" stroke-width="1.20" stroke-linejoin="round"><g stroke="#8000ff"><use href="#c139"/><use href="#c140"/><use href="#c141"/><use href="#c142"/></g><g stroke="#1996f3"><use href="#c143"/><use href="#c144"/><use href="#c145"/><use href="#c146"/></g><g stroke="#4df3ce"><use href="#c147"/><use href="#c148"/><use href="#c149"/><use href="#c150"/></g><g stroke="#b2f396"><use href="#c151"/><use href="#c152"/><use href="#c153"/><use href="#c154"/></g><g stroke="#ff964f"><use href="#c155"/><use href="#c156"/><use href="#c157"/><use href="#c158"/></g><g stroke="#ff0000"><use href="#c159"/><use href="#c160"/><use href="#c161"/><use href="#c162"/></g></g>
</svg>
<svg x="155.04" y="455.55" width="108.00" height="108.00" viewBox="0 0 108.00 108.00">
<path transform="scale(.5)" d="M65 185l1-4 1 7 0-8 1 4 0-3 0 2 1 4 0-5 0 2 0 2 0 0 0-3 0 5 1-7 0 7 0-6 0 4 0 3 1-1 0-1 0-4 1 5 0-5 0 2 0-1 0-1 1 4 0-2 0 1 0 3 0-1 0-2 0-1 0-1 1 5 0-3 0 1 0-1 1 0 0 0 0 1 0-2 1 2 0 1 0-2 1 2 0 1 0 0 0-2 1 1 0 1 0 0 0-1 1-1 0 1 0 1 1 0 0-1 1 0 0 1 0 0 1-1 0 0 1 1 0-1 0 0 1 1 1-1 1 1 2 0 2 0 5 6 0 1-1-6-1 0-1 2-3 1-1-3 0 0 0 2 0 4-1-6 0 3 0-3-2 3 0-2 0 0 0 5 0-6 0 0-1 6 0-4 0 5 0-4-1 3 0-4 0 0 0-2 0 6-1-4 0-1 0 7 0-4 0-3 0 4-1 0 0-1 0-3 0 0 0 2 0-2-1 0 0 3 0-3 0 0 0 3 0 5 0-5 0-4 0 1-1-1 0 7 0-4-1 5 0-6 0-1 0-1 0 6 0-2-1-4 0 2 0 1-1-2 0 5 0-6 0 7 0-2 0-2 0-1 0 0 0 2-1 4 0-1 0-7-1 0 0 1 0 3 0-4 0 9 0-8-1 3 0 5 0-7-1 0-1 0 0 0-2 3-1 0 11 5" fill="none" marker-start="url(#m0)" marker-mid="url(#m0)" marker-end="url(#m0)"/>
<path transform="scale(.5)" d="M125 2l0 0 0 1 1 3 0-4 0 3 0-2 0-2 1 5 0 0 0-2 0 2 1 0 0-5 1 3 0-2 0 4 0 0 1 2 1 1 0-5 0 3 0-6 0 6 0 0 1-4 0 0 0 6 0-2 0-1 1-2 0-2 0 6 1-5 0-1 0 3 0 0 0 4 1-5 0 3 1-5 0 2 0-3 0 4 1-3 1 7 0-7 1 4 1 1 2 1 2-4 2 5 0-7 17 14-12-6-1 3-3-3-1 4-1 3-2-3 0 3-2-4 0-3-1 8 0-2 0-5-1 4 0-2-1-3 0 3-1 4 0 0 0-4 0 5-1-5 0-3 0 7 0 1-1-7 0 7 0-4 0 3 0 1 0-1-1-7 0 1 0-1 0 0 0 2-1-2 2 19 0-7 0 6 1-8 0 8 0-5 0 2 0-2 0 1 0 4 0-1 0 2 1-9 0 3 0 6 0-7 0 6 1-5 0 4 0-7 0 2 1 4 0-6 0 8 0-5 1 4 0-3 0 4 1-2 0 0 1 1 2-7 1 4 0 3 1 2 1-5 1-2-1 13 0-5-1 9-1-8-2 8-1-7 0 1 0 3-1-4-2 2 0 5 0-1-1-4-1-2 0 0 0 7 0-4 0 0 0 0-1-2 0-2 0 3-1-1 0-1 1 14 0-3 0-1 1 3 0-4 0 0 0-1 0 5 0-3 1 0 0-2 0 8 0-4 0 1 0-5 1 1 0 5 0-4 0-1 0 5 1-5 0 6 1-6 0 2 0 1 1 3 0-4 0 1 0 1 1 0 0 2 0-5 0-2 1 8 0-4 3-3 1 0 1 3 0 4 0-5 2-2 1 16-6 2-2-2-3 2-1-4 0 1 0-4 0 3 0-4 0 6 0-6-1 0-1 4 0 4 0 0 0 0 0-2-1-5 0 1 0 2 0 3 0-8 0 5-1-2 0-1 1 16 0-1 0 0 0 1 1 1 0-7 0 4 0-1 0-2 0 0 0 1 1 0 0-1 0 3 0 0 0 3 0 0 0 0 0-9 0 5 1 3 0-7 0 8 1-7 0 1 0 5 1-7 0 4 0 1 0-2 3-4 0 6 0-5 2 1 1 0 1-1 5-1 2 7 2 12-5-2-2 1-1-1 0-7-2 7 0-3-1 5-3-5 0 1 0-4-2 5 0 2 0 1 0-7 0-1 0 5 0 2-1-2 0 3 0-8 0 3 0-2-1-2 0 3 0-1 0 4 0 1 0-7 0 2-1-2 0 7-1 1 0-3 0-5 0 6 0 3 0-1-1-5 0-2 0-1 1 13 0 6 1-5 0 1 0 0 0-2 0 4 0-1 0-5 0-1 0 6 1-1 0 1 0-4 0 0 0 7 0 0 1-4 0-2 1-3 0 4 0 1 1 0 2 3 1-2 0 3 0-2 0-4 1 3 1 1 0 1 1-5 0-1 0 0 4 2 3 3-3 6-3-1-1 1 0 0-1 0 0 5 0-6-1 1-2 4 0-2-1-3 0 3-1-4-1 3-1 3 0-4 0-3 0 8 0-3 0-2 0-1-1 3 0-3 0 2 0 4 0-4 0-1-1-3 0 6 0-6-1 4 0 9 0 6 0-2 0-6 1 7 0-5 0 1 0 4 0-7 1 7 0-7 0 7 0-3 0 4 0-4 0 2 1-2 0-5 0 6 0-5 1 3 0 3 0-3 0 5 1 0 0-6 1-3 0 0 0 0 0 8 1 1 0-7 1 3 2-5 1 6 0 0 1 3 1-2 0-4 2-1 8 1-10 10-1 4-1-3-1-4 0 1 0 1-1-2 0 8-1 0-3-6 0 4 0-2-1-4-1 3 0 6 0-3 0-2-1 3 1 12 2-7 0 4 1 2 1 1 1-4 4 1 0-3 4 6-3 3-1 6-6-2 0-6 0 3-2 5-1-6 0 0 0 5-1-2 0 0-1 0 2 6 0 5 0-5 0 8 1-1 1-2 0 0 0-3 0 1 1-3 0 1 2-2 1 2 0 1 1-3 1 0-2 19-1-7-1 3-2-2 0-3-3 0 0 1 0 3-1-4 0 9 0-7 0 1 0-2-2 2 0 1 0 4-1 1 0-1-2 0-1 1 0-2-4 11 0-3 0 0 1 3 0-5 0 5 0-4 1-1 0 0 0 1 0-4 1 5 0-4 0 0 0-1 1 8 0-7 0 6 1 1 0-4 0 1 0-4 1 4 1 4 0-3 0-5 2-1 1 8 1-2 1-3 4-3 2 0 3 6-5 5-5 4-4-1 0-2-1 5-1 2 0-1 0-1 0-7-1 1 0 6-1-1 0 0 0 1-1-2-1-4 0 6 0 0-1-2-1 2 0-5 0 2-1 0 0 0 0-2-1 4-2 3 0-2-1 0 0 1-1 1 0 0-1 0 0 0-7 8 1-1 2 0 1-5 0-1 1 6 0-3 2-3 0 1 7-1 0 6 2-5 1-1 6 4" fill="none" marker-start="url(#m1)" marker-mid="url(#m1)" marker-end="url(#m1)"/>
<path transform="scale(.5)" d="M63 4l0 3 3-7 2 3 1-1 0 1 0 2-17 20 9-3 7 161 1 0" fill="none" marker-start="url(#m2)" marker-mid="url(#m2)" marker-end="url(#m2)"/>
<path transform="scale(.5)" d="M30 3l4 0 10 2 1-1 3-1 2-2 0 0 1 0 0 6 0-2 1-1 1-2 5 0 0 0 0 7 1-5 0 3 0-5 1 3 0 1 1 3 1-6 1-2 0 5 0-4 0 4 1-4 1 5 0 0 1-4 0 2 0 1 0 0 2-2 0-1 1 1 0 0 1 0 0-1 55 0 0 1 1 0 0-1 1 2 0 1 0-5 1 0 0 2 1-3 0 4 1 4 1 1 0-8 0 6 1-3 0 1 1 3 0-3 1 4 1-3 0 1 1-1 2 3 0 0 2-1 1-5 1 3 4 0 1-5 1 7 19-3-5 5-4 3-2 5-6-7-1 7-1-6-4 3-2 2-2-3-1-3 0 2 0 6-1-6-3-1 0 2-70-3 0 1-1 0-1-2-1 1 0 3 0 5-1-4-1 2 0 0 0-1 0 1-1 1 0-4 0 0-1 4-1-8-1 6 0-5 0 1-1 6 0-2-1 2 0-7-1 0-1 7-2 0 0-1-2-5 0 6-2-4 0 1-1 0-3 3-1-4-3 1-1 4-2 0-5 5 5-2 8 1 4 2 0 1 2-6 1 3 0 2 1-5 0 4 1-2 1 5 0 2 1-5 0 5 1-6 0 6 0-9 1 1 0 8 1-7 0 4 1 0 0 3 0-7 1 5 1-4 0 2 0-4 2 2 0 1 0-3 73 5 0-1 1 4 0-2 1-6 0 2 2 0 1 6 0-4 0-5 1 1 0-1 0 8 1-8 0 0 1 0 3 8 0-8 1 8 1-1 0 0 2-5 0 4 2-5 0 1 1 5 2-1 6 1 0-7 30 7 5 11-7-2-20-4-3 1-15-1-1 1 0 6-1-4-1-4-3 8-1-5 0 0-1 5 0-9 0 0-1 8-1-6-1 1 0 6 0-9-1 8-2 0 0 1-1-6 0 5 0-8-76 8 0-5-1-3-1 0-1 2-1-2 0 2 0 5-1-1 0-6 0 2-1 5 0-3-1-3 0 7-2-1-1-5 0 6-1 1 0-4 0-4-1 7 0-3-1 3-2 1-1-1-2 0-11-4-2-2-6 0-14 8 14 1 16 7 6-5 2 4 1-4 1-3 1 7 0-3 1 1 0-1 1-4 1 1 1 4 1 2 1-7 0 0 0 6 2-3 1-2 1-1 0 2 77 6 0-7 1-1 0 7 1-2 0-3 1 4 1 2 1 1 1-3 0-6 1 9 0-1 1-7 0 3 0-1 1 3 1 0 0-2 1-2 0 0 2 3 0-1 5 0 1 0 4 0 1-4 30 2-35 13-5-3-1 2-3 5-2 0-1-4 0 4 0-2-2 2 0-6-1 3-1 1-1 2 0-3 0-5-2 2 0 0 0 3-1-6-84 1-1-1-3 1 0 0 0 0-3 2-1 6 0-5 0-4-3 6 0 3-3-6 0 2-3 0-2 3-5-4-2 2-14 7 31 4 1 0 4-2 1-3 88 7 0-1 1 1 0-9 0 8 0 1 2-3 0-1 1-4 0 4 2 2 1-4 0 3 1 1 0 1 1-2 0-4 1 5 1 1 0-4 1 1 2 1 5-1 3 3 5-8 5 10-8 5-9-5-2 2-2 1 0-1-2 6-3 1-1 0 0-6-1-3-1 9 0-5-1 0 0 0 0 1 0 4 0 0-1-1 0-8 0 6-1-3 0-1-92-2-2 3 0-1-4 0 0 1-3-3-9 5-1-2-7 13 1-3 13-3 1 3 1 2 103-4 0 1 0 5 0-2 1 0 0 4 1-2 1-4 1 5 3-8 1 9 1 0 1-1 1-7 1 0 1 2 0 3 10 1 13 11-5-2-9 3-1-3-1 3-3-5-3-2-4 2-1 5-3-5 0 0-1 1-1 4 0 0-1-4-107-4-3 1-3 2-23-2 18 9 5-1 111 6 1 0 0 0 3-1 0 2 2-6 0 2 26 15-13-6-8 1-1 1 0-2-3 3-5 1-1-1-2-1-106-2 0 6-2 4 112 3 2 2 1 1 1-4 0 3 1-5 3-2 3 4 26 3-7 9-17 0-2 3-3 0-4-4-5 1 0 0-135-1 143 8-7 7-3 1-9 10 0 2 6-2 1 4 1-4 4 3" fill="none" marker-start="url(#m3)" marker-mid="url(#m3)" marker-end="url(#m3)"/>
<path transform="scale(.5)" d="M14 4l33 5 3 0 1-6 6 6 1-7 4 1 1 1 1-3 2 4 1-3 0 1 59-1 6 6 2-6 9 7 9-3 10 12-16-7-5 5-5-4-71-2-1 4 0 0-3-2-1 4 0 0 0 2-3-5 0 0-1 0-1-1 0 2 0 1-5-4-18 9 9 5 6 1 3-1 6 1 1 3 1-4 0 2 2-2 75 3 0-1 3-5 1 3 3 1 8-4 8 3 6-2-2 10-11 3 0-6-1 4-6 0-4 3-80-6 0 4-2 2 0-1-1-2 0 0 0 0-1-4-2 0-4 4-1 4-5-2-3-5-4 6-24 8 8-5 6 8 13-4 3-1 3-2 3 0 1 7 1-5 0 5 0 0 1-2 0-1 4-4 3 2 0-3 0 0 1 0 76 2 1 4 0 2 2-5 0 3 0-6 1 6 0 1 1 0 0 0 1 0 1-2 2 0 4-2 1 3 13 0 3-1-14 6-1 0-5 7-1-5-1 3-1-2-1 4-2 0-1 1-1-2-1-6 0 3 0 2 0-6-87 4 0-1-4 3-4-1-4-3-13 5-9 8 23-5 3 5 2 4 1-1 97-7 8 1-3 9-1 8-5-5-2 5 0-4-1-5-98 6-5 0-2-5-1 4-14-5-15 1 21 11 12 2 1-4 2 6 2-2 0 1 97 3 0 0 1-4 0 3 1-2 1-5 2 2 1 5 7 0 1-4 5 0-1 11-6-4-3 6-2-4-2 3-1 2-3-5-1 1 0 0-117 2-4 11 123-3 0 2 0 0 3-2 5 0 2-1 6 13-1-5-11 7-4-2 0 0-112-4 0 1-3 5 7 8 1 3 111-8 2 3 14 15-6-1-3-4 0 0-5 1 0-3 0 3-3 4-2-4-1 1 0 2-113-7-4 1 118 10 2 8 1-8 2 4 0 0 9-3 8 3 7 1-14 5 0 6-2-7-4 9-3-4-3 3-1-3-1-3-1 3 0-3-1 2-1 1 0-2-1 1-1 0 0 1-1 3 0 1-1 0-1-2-1 1-1 1-2 0-95-5-6-1 2 13 10-1 5 4 1-1 2 0 80-1 0 1 1-7 0 8 0-4 0-2 1 1 1 4 1-2 0 1 0-5 1 2 0 3 0-4 1 4 1-3 1-1 1-1 1-1 3 8 2-8 2 7 0-1 3-5 37 2-31 11-4 0-3 1-1 3 0-2 0-5-4 4 0-1-5 4 0-4-1 2 0-3 0 0-2-2 0 2-2-1 0 0-1-3 0 7 0 1 0-7-1 5 0 1-1-4-2 0 0 0-1 4 0 2-1-4 0 2 0-1 0-1-1 1 0 1-2 1-1 1-2 0-55-1-2 1-4 0-1-4 0 1 0 0-1 1-1 1-3-3-1 0-3-5 0 1 0 6-3 0-1-7 0 7-3-2-3-2-1 13 6 0 4-1 8-3 1 5 2-6 1-1 1 9 1-3 0-4 1 6 1-6 1-1 1 5 1-1 0-3 1 2 1 5 0-7 1 6 1-5 1 3 2 0 1 2 0 1 1-3 0 1 3 2 1-1 1 1 7 0 1 0 1 0 3 0 1 0 17-1 2-1 0 1 0 0 1-2 2-2 1 1 0 1 0-1 1-1 0-3 2 1 2 5 0-4 0 6 1-7 2 7 1 0 0 0 1-9 1 4 1-1 1 1 2-3 0 6 0-7 3 7 1-3 1 3 0 0 5-5 8 2 6-2 5 8-19 1-1 5-4-3-9-1-2 1-1-3-1 5 0-2-2-1-2-2-1 6-2-5 0 6-1-4-1 2-1 4-2-5-1 0 0 1 0-3-1 6-1-3-1 1 0 2-1-7 0 0 0 3-1 4 0-1-1 0-1-7 0 9-1-4-2-2-1-1 0 6-1-8 0 4-1-2 0-2-1 2-2 5 0-1 0-1 0-4-1 2-2 2 0-2 0 6-1-1 0-3-1 2-1-5 0 3 0-5-2 5 0 3 0-7-2 2-1-3 0 0-2 0-3 0-1 0 0 0 0 3-1 3-1-5 0 2-1-2-1 5-2-5-1-1-1 5-1-3-2 7 0-9-2 4-7 2-1-5-2 1-10 2-14 13 22-4 5 6 11-8 5 0 5 2 2 5 1-6 3 3 1-5 2 2 2 5 0-4 2 1 1-4 1 2 3 5 1-7 2 8 1-8 2 2 1 3 2-5 5 6 1-1 2-1 8-2 8 1" fill="none" marker-start="url(#m4)" marker-mid="url(#m4)" marker-end="url(#m4)"/>
<path transform="scale(.5)" d="M6 3l34 6 17-5 2 1 7-4 2 0 60 4 7-3 1 2 1 4 16-5 22 2 4-1-36 15-78-5-2 5-9-3 0 3-3-5 0-4-3 2-5 4 0 1-1-3-5 4-2-2-36 5 15 3 16 2 1 0 6-1 0-4 1 1 0 0 3 7 2 0 0-4 2-2 2-1 2-2 0 2 0 4 1-4 1 3 1 3 1-1 3 0 3 1 1-6 0 7 1-3 1-3 1-2 75 7 0 0 2-5 1-1 1 1 3-2 5 3 13-3 13 0-24 16-7-1-1 1-1-4-83 1-1-2 0 4 0-3 0-2 0 8-1-5-1 5-2 0-1-4 0 4-1-2 0 1 0 1-1-4-1-2-1 0 0 2-2 4 0-1-1 1 0 0 0-3-1-6 0 7 0-4-2 4-6 2-2-3-2-3-9 1-25 14 0-3 11 1 18 3 5-7 5 7 0 0 2 0 1-7 0 2 4 1 0-3 0 2 1-2 0 5 1 0 2-2 0 3 0-1 1-6 0 0 0 8 1-3 2-3 0 4 1-1 0-2 1-4 1 1 2 1 1 0 77 1 1 0 0 5 1-5 0-3 1 8 2-3 1 4 4-2 25 0 13-4 0 16-8-6-6 5-2-5-19-1-7 0-1 2 0-1 0-2-2 6-1-6 0 4-1 2-2-2-85-2-2-1 0 5 0 0-2 0 0-1 0 1-1 0 0-6-2 3 0-1-1 4 0-2-1 1 0 1-1-6 0 5-1 2-1-3-2 3-1-5-1-3 0 4-1-4-7 2-3 4-2 1-2 1 0 6 7 1 6-4 0 3 2 5 2-9 3 6 1 0 1 1 0-2 1 1 1-5 1 8 0-7 1 3 0-3 1 4 0-2 2-2 1-2 89 5 2-5 1 4 1 1 1 4 2-9 2 5 0-5 1 6 3-5 0 1 2-2 21 5 27-4-44 18-2-2-5-7-2 6-2-1-1 4 0-1-4-3 0 0 0 1-1-3-1-2-1 0-1 1-2 0-92 0-2 3-1-4 0 2-1 4-1 1 0 0 0-4 0 3 0-2 0-5-1 7-1 0-1-5-1 2 0 2-4-1-1-5-1 7-1 2 0-4-4-4-5 6-2-7-6 2-8 16 14-6 7 4 0-5 0 1 1 0 1 6 0-7 1 3 1 4 1-3 0-3 3 7 3-5 3 0 3 0 0 3 97 1 0-1 0-4 0 1 1 4 0 0 1-7 1 2 1 4 1-6 0 8 3-2 1 0 2 1 1-2 1-4 6 7 2 0 1-5 6 2 48 0-8 11-30 2-13-2-3-3 0 3 0-3-2-4-1 1-1 5 0 3-1-1-1-1 0-6-2 4 0 1-1-4-1 3-4 0-1 2 0-1-1-1 0-5-2 4-2-4 0 9 0-8-1 2-1-1-99-1-1 5-1-5 0 0 0 6-1 1-1-8 0 8-1-2-1-6-2 8-1-2 0 3-1 0 0-9-1 5-3-5 0 7-2-6-1 1-1 4-3 0-3-6-1 9-1 8 4-2 0-2 5 2 0-4 1-1 2 3 4 1 1 2 0-3 1-3 1 8 0-4 0 1 1 3 2-7 104 6 0 0 0-7 1 1 0 5 1-2 0-2 1 0 2 0 0 7 1-6 0 6 2-9 1 8 0-6 0 0 3 4 2 2 0 0 1-2 1-6 2 9 7-3 5 2 0-2 21 11-5-2-8 1-10 3 0-2-7-1-1-2-1-1-2-3 0 4-1-2-2 6 0-1 0-2-2-5 0 0 0 8-2 1 0-6 0 5-1-5-1 5-2-5 0-2-1 4 0 1-1-4 0-2-1 9-2-7 0-2-106 6-1-5-1 0-1 0 0 1 0-1-1 7-1 1 0-8 0 2-1 3 0-4-2 3-1-3 0 7-1-8-3-1-2 0 0 5-1 4-18-5 4 6 6 4 2 5 3-5 1 1 4 0 1 3 1-2 1 2 0-4 1 0 1-1 0 0 1 0 0 3 3-1 1-2 2 3 1-5 1 5 1-5 0 3 0-1 0 1 107 2 1-1 0 0 1-2 0 1 0 1 2 2 0-7 1 2 1 0 1 4 3-6 2 3 1-2 0 7 5 0 1-3 1 2 1-5 1 1 1-1 1 2 1-1 2-3 11 4-5 14 0-3-7 2-13-1 0-1 0-3-1 7 0 0 0-5-1-1 0 6 0-5-1-3-1 7 0-5 0 0-1-2-3 3 0 5 0-9-1 7 0-3-1-2-1 4-2-3-1 4 0 2 0-8 0 0-1 0-110 0-1 6-2-2-2-2-1-1-1 3-1-4 0 0-2 8-11-7 0 2-4-3-4 7-2 4 15 4 0-1 1-4 0 5 2-5 1 5 0-2 0-1 3 4 1-1 3-1 0 0 1-5 0 3 0-1 1-1 0 3 1-1 1 4 0 0 0-7 1 2 1 3 1 0 1 3 0-2 1 3 0 0 106-9 1 2 0 4 1-1 1 2 0 2 0-1 1-6 0 6 1-3 1-5 2 0 0 1 1 2 2-1 1 0 1 3 0-4 3 8 3-2 2 1 1-7 1 2 0-2 1 3 2 3 2 2 4-9 13 5 11 1 15-4-27 10-24 0-1 5-4 2-1-9-2 4-3-3-3 4 0 1-1-6 0 8 0-5 0 5-1-2-1-3-3 1 0 5 0-3-1-5 0 2-1 3 0-4 0 6-2 1 0-1-1 0-1 1-2-1-94 0-1 0-1-4-1 1 0 1 0-2-1 0-1 1 0 0 0 0-3-1-2 0-1-2-1 2 0-3-2 5-2 3-2-1-2-3-5 4-13 2 12-1 4 2 1 7 0-7 1 5 1-7 1 6 2-5 4 7 0-7 1 0 3 1 2 4 0-2 1 3 0 2 1-4 1-5 0 4 1 2 0 3 2-6 0 3 3-5 1 3 1 3 0-1 1 0 0-2 1 3 0-1 1 2 1-1 85-3 0 0 1 1 0-1 0 1 1-5 2 6 0 3 1-9 1 2 1 7 2-2 1-1 0-1 3 3 0-8 1 0 0 2 0 5 1-6 1 0 1 0 3 0 3 0 5 1 4-2 8 3-6 7-18 3-2-3-3 4-5-1-1 2-1 2-2-5-1 3-2 0 0 3 0-7-3 2 0-3 0 5 0-1-1-4 0 2-2 6-62 0-1 1-1-1 0-1 0 2-3 0-1 0-1-3-3 1 0-6-2 0 0 0-3 4 0 4-1-1 0-5-3 3-1 2 0-3-1-3-1 1 0 6 0-6-1 0-1 0-7-2-4-1-1 7-1-4-1-1 6 9 6 7 1-1 3-7 0 9 0-8 3 2 2-2 1 3 1 4 1-3 1-5 0 3 1 3 2 2 1-2 1 1 2-4 1 1 3 1 2 4 0-6 1 4 2-4 0-2 0 4 1 3 4-4 2 3 1-2 4 3 7 1 2 0 3 0 24-1 2-2 0 0 3 3 0-4 5 3 1-8 7 0 0 3 2 5 0-6 0 5 6 1 4-8 1 5 19-4 13 1 2 1-65 13-2-5-3 5-1-2-8-4-1 6-16-6-2 3-1 0-3 1 0 4-3-7-11-1 0 1-1 4 0-5-1 2-6 4-3-6" fill="none" marker-start="url(#m5)" marker-mid="url(#m5)" marker-end="url(#m5)"/>
<defs><path id="c163" d="M39.7 91.6l0.7 1 1.3-1-0.5-2.3 0.5-0.5 1.2 0 0.3-1.9-0.3-1.8 0-0.5 0-0.2 1-2.2 0.2-2.3 0.1-0.5 0.2-1.8 0.3-2.4 0.5-2.3 0.1-2.4-0.3-2.3 0.4-1.4 0.1-0.9-0.1-0.4-0.4-2 0.1-2.3-0.4-2.4-0.5-2.3 0-0.2-1.3-1.3-0.7-0.8 0-2.4-0.5-0.5-1.3-0.3-1.2-0.3-1.2 1.1 0 2.4-1.3 0-0.7 2.3-0.5 1.6-0.2 0.7-1.1 1.8-0.1 0.6 0.1 1.5 0.1 0.8-0.1 2.4 0 2.3 0.5 2.3 0 2.4 0.8 2.3-0.6 2.4 0.6 1.9 0.1 0.4 0.1 2.3 0.2 2.4 0.7 2.3 0.1 2.4 0 0.3 0.2-0.3 1.1-1.2 0.7 1.2 0.5 1.4z"/><path id="c164" d="M37.7 84.6l0.3 0.5 1.2 0.8 1-1.3-1-2.4 1.2-0.4 0.8 0.4 0.5 1 0.3-1 0.2-2.3-0.1-2.3 0.8-1.6 0.3-0.8 0.2-2.3 0.1-2.4 0.1-2.3 0.2-2.3 0-2.4-0.1-2.3-0.8-2.2 0-0.2-0.9-2.3-0.3-0.5-1.3-0.8-1.2-0.6-1.2 1.9 0 0.1-1.3 1.7-0.3 0.5-0.2 2.4-0.2 2.3-0.1 2.4-0.2 2.3 0.7 2.3 0.3 2.4-0.1 2.3 0.1 2.4 1.1 2.3-0.1 2.3z"/><path id="c165" d="M38.5 77.6l0.7 0.9 0.6-0.9 0.6-1 1.2-1.4-0.3-2.3 0.4-0.5 0.6-1.9 0.3-2.3 0.3-2.3-0.4-2.4-0.1-2.3-0.7-1.9-0.5-0.5-0.8-0.7-1.2-0.6-0.9 1.3-0.3 0.4-0.7 2-0.2 2.3-0.4 2 0 0.4 0 0.4 0.4 1.9 0.5 2.3 0.4 1.4 0.3 1 0.2 2.3zM38 65.9z"/><path id="c166" d="M38.7 70.5l0.5 1.1 0.8-1.1-0.8-1.4zM40.2 68.2l0.2 0.4 0.2-0.4 0.5-2.3-0.7-2.4-1.2-1.7-0.7 1.7 0.6 2.4 0.1 0.7z"/><path id="c167" d="M56.8 81.8l0.4 0.4 2.3 1.6 1.2-2 1.1-1.2 2.3-1.5 2.1-2 0.2-0.5 1.5-4.1 0-4.7 0.8-2.9 0.5-1.7-0.5-2.6-0.3-2.1 0.3-3.1 0.3-1.6 0.3-4.6-0.4-4.7 0.2-4.7-0.4-1.2-0.6-3.4 0.6-4.2 0.1-0.5-0.1-0.4-0.8-4.3 0.1-4.6-0.4-4.7 0-4.7-0.4-4.6-0.8-2.3-2.3-1.7-1.1-0.7 0-4.6-1.2-0.4-2.3-1.3-2.3-0.1-2.3 0.9-1 0.9 0 4.6-0.4 4.7-0.9 3.1-0.3 1.5-0.4 4.7-0.7 4.7-0.4 4.6 0.4 4.7-0.9 3-0.5 1.7 0.5 4.6 0.1 4.7 0 4.7 0.1 4.6-0.2 4.7 0.1 4.7 0.7 4.6 0.4 4.7 1.1 3.5 0.8 1.1 1.5 2.9z"/><path id="c168" d="M54.8 72.5l0.1 0.2 2.3 3.8 2.3-0.3 2.3-2.4 2.3-1.1 0.1-0.2 1.4-4.7 0.8-4.6 0-4.7 0.2-4.7-0.2-1-0.3-3.6-0.1-4.7 0.4-2 0.6-2.7-0.6-2.3-0.6-2.3-1.7-3.8-0.3-0.9 0.3-1.5 1.3-3.2-0.1-4.6-0.1-4.7-0.6-4.7-0.5-1.2-1.9-3.4-0.4-0.5-2.3-0.7-1 1.2-1.3 2.2-1 2.4-1.3 1.5-1.2 3.2 0.3 4.7-0.7 4.6 0.4 4.7-0.6 4.7 0.1 4.6-0.6 2.4-0.7 2.3 0.7 3.6 0.3 1.1 0.5 4.6-0.6 4.7 0 4.7 0.8 4.6z"/><path id="c169" d="M58.1 67.8l1.4 3.1 2.3-1.3 1.8-1.8 0.3-4.6 0.2-1 0.6-3.7-0.3-4.7 0.2-4.6-0.3-4.7-0.2-2.7-0.3-2-0.2-4.6-1.3-4.7-0.5-2.5-1-2.2-1.3-2.5-2.3 0.2-0.4 2.3 0.4 1.1 2.3 3.6-2.3 1-2.3 3-0.1 0.7-0.2 4.6 0.3 1.9 0.9 2.8-0.1 4.7-0.8 4.6-0.6 4.7 0 4.7 0.6 2.1 2.3 1z"/><path id="c170" d="M57.7 58.5l1.8 4.7 1.5-4.7 0.1-4.7 0.5-4.6-1.2-4.7 0.3-4.7-1.2-1.7-2.3-0.6-0.5 2.3 0.5 1.2 1.5 3.5-0.8 4.7-0.7 3.5-0.3 1.1 0.3 1.5z"/><path id="c171" d="M37.5 85.8l1.3 1.9 1.5-0.2 1.6-0.3 1.6-0.7 0.3-0.7 1.3-3.6 0.3-1 1.1-4.6 0.2-2.8 0.2-1.9-0.2-4.6 0.1-4.6-0.1-1.2-0.4-3.5 0.4-4.6-0.2-4.6-0.3-4.7 0.4-4.6-0.6-4.6-0.9-3.9-0.2-0.7 0.2-1.6 0.5-3.1 0-4.6-0.5-1.9-1.6-1.1-0.2-1.6 0.2-4.7-1.6-4.6-1.6 0-1.5 0.8-1 3.8-0.6 1.1-1.3 3.6 0.2 4.6-0.5 3.5-0.2 1.1 0.2 4.7-0.6 4.6-0.9 4.6 0.2 4.6-0.3 2.7-0.2 2 0.1 4.6-0.4 4.6 0.3 4.7 0.2 3.1 0.1 1.5-0.1 4.6 0.3 4.7 0.2 4.6 1.1 3.1 1.6 1z"/><path id="c172" d="M37.4 81.2l1.4 2.9 1.5-0.2 1.6 0 1.6-1.8 0.3-0.9 0.8-4.6 0.5-2.3 0.4-2.4-0.4-4.1-0.1-0.5-0.3-4.6 0.1-4.7-0.1-4.6-0.2-4.6-0.1-4.7 0.2-4.6-0.3-4.6-0.8-3.4-0.2-1.2 0.1-4.7-1.5-3.9-0.5-0.7-1.1-1.7-0.8 1.7-0.7 4.6-1.1 4.7-0.5 1.1-0.9 3.5-0.4 4.6 0 4.6 0 4.7-0.3 2-0.5 2.6 0.5 4.3 0 0.3 0 1.2-0.2 3.5 0 4.6 0.2 2.3 0.1 2.3 0.2 4.7 1.3 4z"/><path id="c173" d="M38 76.6l0.8 2.1 1.5 0.2 1.6-0.7 0.4-1.6 0.9-4.7-0.1-4.6 0.2-4.6-0.2-4.7-0.7-4.6 0.1-4.6-0.1-4.7-0.5-2.4-0.6-2.2-1-2.8-1.5 1.8-0.3 1-0.5 4.6-0.6 4.7 0.1 4.6-0.3 4.6 0.3 4.7-0.3 1.5-0.4 3.1 0 4.6 0.4 2z"/><path id="c174" d="M38.8 71.9l1.5 2.7 1.1-2.7-1.1-3.9-0.2-0.7 0.2-2 1.6-0.8 0.3-1.8-0.1-4.7-0.2-0.9-1.6-3.7-1.3 4.6 0.8 4.7-1 1.5-0.7 3.1 0.7 4.4z"/><path id="c175" d="M40.3 69.7l4.4 2.6 5-0.1 5.1-0.1 3.5-2.4 1.5-2.8 1.4-1.4-1.4-4.2 5.1-2.8 1-1.4 0.6-4.2-1.6-3.9-0.1-0.4 0.1-0.7 1.1-3.5-0.4-4.2-0.1-4.2 0.7-4.2-1.3-2.7-0.4-1.5-0.2-4.3 0.6-1.2 2-3-1.5-4.2-0.5-2.1-0.3-2.1-0.5-4.2-1.5-4.3 0-4.2-2.8-1.1-5-1-5.1-0.5-5 0.3-5.1 0.2-4.6 2.1 0 4.2-0.4 0.8-2.4 3.5-1.1 4.2-1.6 4.2 0.6 4.2-0.1 4.2 0.3 4.3 0.6 4.2-0.8 4.2 0.5 4.2 0.6 4.2-0.3 4.2 2.2 4.3 0.1 4.2 1.4 1.2 3.3 3-3.3 3.7-0.6 0.5 0.6 0.9 5 3.1z"/><path id="c176" d="M42.8 65.5l1.9 0.7 5-0.4 0.2-0.3 0.8-4.2 3.9-4.2 0.2-0.4 3.2-3.8 1.8-2.1 1.1-2.2-0.1-4.2 0.2-4.2-0.9-4.2-0.3-2.8-0.1-1.4 0.1-0.2 1.6-4-1.4-4.3-0.2-4.2 1.1-4.2-1.1-4.2-1.2-4.2-3.8-3.4-0.7-0.9 0-4.2-4.4-0.9-5 0.6-3.6 0.3 0 4.2-1.5 0.6-1.9 3.7-1.7 4.2-0.1 4.2-1.3 3-0.7 1.2 0.7 1.8 0.6 2.4 0.4 4.3 2.3 4.2-2.2 4.2 1.2 4.2-2.3 3.4-0.3 0.8 0.3 1.1 1.4 3.1 1.5 4.3 2.1 3.6 0.6 0.6 3.1 4.2z"/><path id="c177" d="M48.4 57.1l1.3 0.5 0.6-0.5 0.6-4.2 1.8-4.3 2.1-3 0.8-1.2-0.8-4.2 0.4-4.2-0.4-3.2-0.5-1 0.5-0.4 1.8-3.8-1.1-4.3 0.9-4.2-1.6-3-1.3-1.2 1.3-2.3 0.7-1.9-0.7-0.8-4-3.4-1.1-1.3-2.1 1.3-2.9 4.2-5.1 0-0.2 4.2 0.2 0.2 2.2 4-2.2 2.6-1.6 1.6 0.7 4.3 0.9 1.1 2.4 3.1-1.4 4.2 1.7 4.2-0.2 4.2-0.3 4.2 2.9 3.5 2 0.8z"/><path id="c178" d="M48.1 36l1.6 1.9 1.6-1.9-1.6-1.6zM44.3 31.8l0.4 0.7 1.1-0.7-1.1-1.9zM48.5 27.6l1.2 0.4 0.6-0.4-0.6-4.3zM43.6 19.1l1.1 4.2 5 0 3.5-4.2-3.5-3.2-4.4-1-0.6-0.1-0.2 0.1z"/><path id="c179" d="M35.8 91.4l3 2.2 5.1 0.7 5.2 0.7 5.2 0.4 3.7-4 1.5-1.5 4-3.7 1.1-3.8 0.6-1.4-0.6-2.6-0.3-2.6 0.3-2.3 0.9-2.9-0.9-5.3-0.5-5.2-0.5-5.2-1-5.2-0.6-5.2 1.6-5.2-0.6-5.2-0.6-5.3-1-5.2-1.3-5.2 0.1-5.2-0.7-2.9-5.2-1.3-2.1-1-3.1-5.2 0-5.2-5.2-0.7-1.7 0.7 0 5.2-2.4 5.2-1 1.5-2.5 3.7-0.4 5.2-2.3 3.3-0.7 1.9 0.7 5.2-3 5.3 1.5 5.2-0.8 5.2-0.7 5.2 0.2 5.2-0.7 5.2-0.8 5.2 0.4 5.3 0.1 5.2-0.1 5.2 0.7 5.2 3.2 3.9z"/><path id="c180" d="M33.6 86.2l5.2 2.5 5.1 1.8 5.2 0.3 5.2 0 4.5-4.6 0.5-5.2 0.2-0.6 1.7-4.6 1.1-5.2-0.7-5.3-1.1-5.2-1-3.6-0.5-1.6-0.6-5.2-0.6-5.2 1.5-5.2-2.3-5.2-0.5-5.3-2.2-5.2-4.2-5.2-1-2.9-5.2-1.8-2.5 4.7-2.6 5.2-1.3 5.2-0.7 5.3-0.7 5.2 0.8 5.2-1.3 5.2-1.1 5.2-0.7 5.2-0.2 0.7-1.3 4.5 1.3 5.3 0.6 5.2-0.1 5.2z"/><path id="c181" d="M38.8 81l5.1 4.2 5.2-0.4 5.2-1.5 1.2-2.3 0.2-5.2 1.8-5.2-1.3-5.3-1.9-4.1-0.5-1.1-1.1-5.2-3.6-5.2 3.5-5.2-0.6-5.2-0.4-5.2-1.5-5.3-1-0.9-2.4 0.9-2.8 4.7-0.1 0.6-0.5 5.2-1.1 5.2 0.8 5.2-3.1 5.2-1.1 4.2-0.1 1-0.3 5.2 0.4 0.9 1 4.4-1 4.6-0.2 0.6 0.2 5.2z"/><path id="c182" d="M42.5 75.8l1.4 2.3 5.2-0.5 1-1.8-1-5.2 1.7-5.3-1.4-5.2-0.3-0.5-1.1 0.5-4.1 4.4-0.2 0.8-1.4 5.3z"/><path id="c183" d="M28.4 86.7l1.7 1.4 6.9 2 6.8-1.3 6.9-1.1 1.5-1 5.3-1.6 5.9-3.4 1-1.1 4.1-3.8 2.2-4.9-1-5 1.6-4.5 0.3-0.4-0.3-0.6-1.8-4.3 0-5-3.5-4.9 2-5-2.7-4.9-0.9-0.8-3.3-4.1-3.6-4.6-0.3-0.4 0.3-4.9-6.8-2-6.9-2.8-3.4-0.1-3.4-5-1.2 5-5.7 2.7-1.6 2.2-3.7 4.9-0.6 5-0.9 1.4-2.4 3.5-0.3 4.9-1.4 5-2.2 4.9-0.4 5 0.7 4.9-0.9 2.1-2.4 2.8 2.4 5 1.2 4.9 4.6 4.9 1.1 0.9z"/><path id="c184" d="M32.6 81.7l4.4 2 6.8-0.7 2.7-1.3 4.2-1.5 6.8-1.1 2.7-2.3 4.2-4.2 0.7-0.7-0.7-1.5-1.8-3.5 1.8-4.6 0.1-0.3-0.1-0.2-2.3-4.7-2.6-5-2-1.5-2.4-3.4-0.8-5-2.7-4.9-0.9-1.3-2.8-3.6-4.1-1.9-6.8 0.4-1.6 1.5-4.7 4.9-0.6 4.9-3 5-2.1 4.9-1.7 5-1.5 4.9 1.5 4.9-1.7 5 1.7 2 3.1 2.9 3.7 3.4z"/><path id="c185" d="M34.4 76.8l2.6 1.7 6.8-1.3 1.5-0.4 5.4-1.4 3.8-3.5 0.2-5 0.1-4.9-0.1-4.9-4-2.4-4.8-2.6-1.9-4.9-0.2-0.2-6.8-0.2-0.5 0.4-3.5 4.9-2.9 5-0.5 4.9 0.2 4.9-0.3 5 0.6 0.5z"/><path id="c186" d="M35 71.9l2 1.8 5.8-1.8 1-5 2.1-4.9-2.1-1.8-6.8-0.3-1.4 2.1-0.2 4.9z"/></defs>
<g fill-rule="evenodd"><use href="#c163" fill="#fff"/><use href="#c164" fill="#8000ff" fill-opacity="0.15"/><use href="#c165" fill="#8000ff" fill-opacity="0.15"/><use href="#c166" fill="#8000ff" fill-opacity="0.15"/><use href="#c167" fill="#fff"/><use href="#c168" fill="#1996f3" fill-opacity="0.15"/><use href="#c169" fill="#1996f3" fill-opacity="0.15"/><use href="#c170" fill="#1996f3" fill-opacity="0.15"/><use href="#c171" fill="#fff"/><use href="#c172" fill="#4df3ce" fill-opacity="0.15"/><use href="#c173" fill="#4df3ce" fill-opacity="0.15"/><use href="#c174" fill="#4df3ce" fill-opacity="0.15"/><use href="#c175" fill="#fff"/><use href="#c176" fill="#b2f396" fill-opacity="0.15"/><use href="#c177" fill="#b2f396" fill-opacity="0.15"/><use href="#c178" fill="#b2f396" fill-opacity="0.15"/><use href="#c179" fill="#fff"/><use href="#c180" fill="#ff964f" fill-opacity="0.15"/><use href="#c181" fill="#ff964f" fill-opacity="0.15"/><use href="#c182" fill="#ff964f" fill-opacity="0.15"/><use href="#c183" fill="#fff"/><use href="#c184" fill="#ff0000" fill-opacity="0.15"/><use href="#c185" fill="#ff0000" fill-opacity="0.15"/><use href="#c186" fill="#ff0000" fill-opacity="0.15"/></g>
<g fill="none" stroke-width="1.20" stroke-linejoin="round"><g stroke="#8000ff"><use href="#c163"/><use href="#c164"/><use href="#c165"/><use href="#c166"/></g><g stroke="#1996f3"><use href="#c167"/><use href="#c168"/><use href="#c169"/><use href="#c170"/></g><g stroke="#4df3ce"><use href="#c171"/><use href="#c172"/><use href="#c173"/><use href="#c174"/></g><g stroke="#b2f396"><use href="#c175"/><use href="#c176"/><use href="#c177"/><use href="#c178"/></g><g stroke="#ff964f"><use href="#c179"/><use href="#c180"/><use href="#c181"/><use href="#c182"/></g><g stroke="#ff0000"><use href="#c183"/><use href="#c184"/><use href="#c185"/><use href="#c186"/></g></g>
</svg>
<svg x="268.54" y="455.55" width="108.00" height="108.00" viewBox="0 0 108.00 108.00">
<path transform="scale(.5)" d="M2 107l1 0 1 0 0 2 3-2 2 1 1 1 2-1 138 2-138 9-1 0 0-8 0 5-1-6 0 2-1 0 0 4-1-4 0-2 0 0-1 2 0 6-1-8-1 4 0-1-1-1 0 6 0-2-2 1-1-1 0 8 0-3 0 8 2-8 0 8 1-2 0-1 0-6 1 1 2 4 1-5 0 6 1 0 0-3 0 0 1 5 3-3 1 3 140-4 2 2 1 2 2 0 1-4 4 5 4-1 1-2 5 12-3 1-10-4-1-4-136 5-1-1-1 3 0-3 0-2-1 6-1-2-1 1-1 1 0-1-1-5-1 2 0-1 0 2-1-4-1-1-1 3 0 2-1-2 0-1-1 4-2-2-1 2-3-6 0 5 6 11 1-2 2-2 7 0 144-3 1 9 4-1 4-4 1 1 7 4 8-8 1 13-2 5-2-2-15 0 0-4 0 6-1-1-1 0-1-1 0 1-3-2-2 2-2-1-1-2-1 4-120-3-1 1 0-2-2 1 0 0-3-5-1 8-1-5-1 1-2 1 0 0-1-1 0 0-5-5-1 4-3-3-4 3 5 7 10 2 4-3 1 5 3 2 4-6 1-1 2 4 1 2 1 2 1-4 1 1 1 4 110-8 0 0 0 4 1 3 2-8 0 6 1 1 0 2 1-2 0-6 1 7 2-4 1 3 0-5 2 2 1-3 4 5 5-4 4 0-9 11-3 5 0-5-3 5 0-7-1 3-1-2-2 2-1 3-2-6 0-1-1 2-2 2-1 4-2 1-2 0-103-7-3 4 0 0 0 6 6 2 4-1 6-1 1 3 1-4 0 7 0-4 1-2 1 2 2-4 1 2 0 2 4 4 5-3 0 0 1 4 5-3 3 0 1 2 2 0 1-2 1 2 1-1 1 2 7-1 1 1 2-2 2 1 5 1 5 0 3 0 0 0 3 0 1 0 1 0 1-1 3 1 1-1 2 1 4-2 1 0 0 1 2 1 0-3 0 1 1-2 0 1 1-3 0 6 0-5 0-2 1 0 0 5 1-6 0 4 0 1 1-3 0-3 1 8 0-7 0 1 0-1 1 2 0 3 1-5 0 0 0 7 0-2 1-6 0 7 0-7 0 5 1 3 0-5 0 0 2-3 0 2 0 2 1 1 3-3 2 7 2-8 1 0 1 5 3 3 0-5 2 0 0 1 1 0 0-4 0-1 5 9 0-4 0 0 3-3 2-1 1 15-10-6-12 2 0-2-1 8-1-1 0-4 0 0-2-3-1 2-1 3-6 1-2-2-1 0-1-4 0 1-1-1 0 5 0-4 0 5-1 1 0-1 0-6-1 3 0 2-1-5 0 2 0 0-2 2-1-2-1-1 0 1-1-2-1 0 0 2-1-1 0 2 0-3-1 6 0-6-1 1-1 6-1-5-1 1-1-2 0 1-1 2 0-1 0 2-1-3 0-1-2 0-1 8-2-4-1-5-2 8 0-4 0 0-1 3-1-5 0-2-1 3 0 1-1 0-4 5-1-1 0-7-1-1-4 6-1-3-1-2-1 0 0 8-1-4-1-3-2-1 0 5-1-4-1-1-1-1-2 1 0 5 0-5-5-1-2 4-2-2-1-2 69 10" fill="none" marker-start="url(#m0)" marker-mid="url(#m0)" marker-end="url(#m0)"/>
<path transform="scale(.5)" d="M104 6l8 1 1 2 11-6 32 14-41-7-1 5-3 0-1-1-1 5 0-1-1-7 0 5-5-6-2 0 11 10 1 0 6 2 1 1 2 2 7-1 9 1 10-2-1 15-6-1-7 0-1-1-1-2-7-2-124 16 0-5 0 6 0 0 2-5 0-2 0 0 0 3 1-2 0 5 0-1 1-5 0 2 1 4 1 1 0-4 132 1 1-3 0 2 10-1 13 12-7 3-2 0-17-5-3-2 0 3-3 4-124-7-1 2 0 0 0 4-2-7 0 8 0-1 0 0-1-3-1 4 0-9 0 3 0 5-1-7 0 2 0 8 0-1 3 3 1-2 1-1 0 0 0 4 0-1 1 0 1-3 126 6 1 2 1-7 0 8 6-5 3 2 1 3 3-6 28 8-11 1-2 6-16-2 0 2-2 0-4-7-1-1-135 9 0-1-1 0-1 0-1 1 0-1-2 7 1 4 1-5 0-2 0 4 1 0 1-6 0 3 0 5 1-3 0-2 0-2 1 7 1 1 1 0 0 0 0-1 1 0 0 1 0 0 129-9 7 3 1 4 0-6 1 4 1 4 2-8 10 2 3 6 3-2 8 2 15 8-14-1-2 3-1-2-16-4 0 1 0 2-1-1-1-3-3 7-3-4-136 4 0 0-2-7 0 7-1-6-1-3 0 2 0 2 0 2 0-6 0 5-1 2 0-1 0-2-1-4 0 0 0 9 0-8 0 7-1-8 0 5-1-4-1 4 0 2-2 1 0-6-1 5 0 5 1 1 0 4 0 0 0-5 1 0 1 6 2 1 3-3 0 1 1-4 0-3 0 1 1 0 0 6 1 0 0-3 0 0 0 3 0-3 0 1 0-4 1 2 0 6 0-8 1 7 0-5 0 4 133-3 1 0 2 2 1 0 1 0 1-3 4 6 4-6 3-1 26 10 0 3-11-4-4 4-1-3-6 5-4-2-1 3-6-7 0 5-1-5-1 1 0 5-1 2-2 0 0-5-3-4-137 8-1-5-1 1-2-1-4-2-1 5 0-3 0 6-1-4 0 14 0-7 0 7 0-3 4-2 1-4 0 8 1 1 0-5 1 4 0-6 1 6 0-7 0 1 1 4 1 2 0-7 0 6 141-4 3 6 0-3 1-1 1 1 2 0 2 2 0 0 0-3 1 0 1 4 1-4 2 2 3-1 1 3 4-3 28-6-12 19-24 0-4-6 0-2-2-1-3 2-134 5 0-2-2-2-1 0-1-1 0 0-1-1-1 6 0 0-1 0-1-5 0 0-2-2-2 5-1 4 0-2-3-2-3 0 3 5 3 3 0 3 0 0 2 1 1-2 2 3 0-7 6 4 1-4 0-1 1 2 1 5 151 1 7 0 7-1 8 2 9-2-37 7-3 2-1-3 0 0-5 4-122-3-1 4 0-6-1 2-1 5-1-8-2 5 0-6-2 5-1-3 0 0-2 4-1-1-6 4-6-9-4 7 0-6-4 3-1 1-3-5 12 16 5-1 5-1 2 4 2-5 2 0 3-2 5 3 6 2 0-3 115-2 1 0 2 4 2 1 3-5 3 2 6 3 2 1 8-1 2-5 18 6-9 8-10 3-27-2-100 1 0 0-5 0-19 2-6-8-13 4 27 7 2-1 2-1 9 4 7-2 7-1 2-1 69 6 2-5 4 1 6 2 2 2 3 1 8-5 1 4 3-6" fill="none" marker-start="url(#m1)" marker-mid="url(#m1)" marker-end="url(#m1)"/>
<path transform="scale(.5)" d="M117 5l8 2 13 12-18-2-6-4-1-2-3 8-5-9 10 10 3 0 3 7 0-5 1 4 5 0 6 3 2-1 22-1 5 7-27 1-1 3-2-3-3-5-7 0 0 0-119 16 1-4 0 4 0 3 0-6 0 6 2-3 1 0 0 1 126-5 3-2 0 9 3-6 1 6 8-7 2 3 9-3 33 2-20 8-12 2-2-1-10 5-1-6-1 6-2-1-1 0-2-1 0 3-2-3-3-6-1 9-2-6-1 6-1-1 0 1-123 0 0-9 0 7 0 2-1-6-2 5-1-1 0-5-2-2 0 9-1-8 0 3 3 7 0 0 1 1 1 1 128 2 0-3 1 0 1-2 0 3 1 0 0 6 3-3 1 1 0 2 1-4 1 4 2-2 3-5 1 3 1 3 1-5 3-1 7 6 2 0 1-3 6-2 46 13-32-1-13 2-7-7-15 5-2 2-1-2-1 4-1 0 0-5-3 5 0-9 0 4-2 5-1 0-135-1-2 11 2-8 1 4 1-2 1 2 0-4 0 2 1 1 0-2 1 4 1 1 127-6 2 0 0 0 2 1 2 1 1 0 2 2 1-4 1 5 1-1 3 4 3-5 4-3 1 2 0 1 0 0 1 5 0-2 5-7 3 4 5 5 11-2-8 4-6 8-2-2-7-7-3 3-4 0 0-2 0 5-1 1-1-6 0 3-1 5-1-2 0-1 0 3-1 0-2-2-134 2-2 0-1-8 0 7-1-6 0 6-1-3 0 0-1-1-1-3 0 5-1 3-2-7 0 6 0-4 0 1-2 0 0 6 1 5 1-6 3 6 0-6 1 5 1 2 2-4 0-3 1 1 0 2 0-1 0 0 0-2 0 8 1-2 0-5 0 0 1 5 131-2 0-2 1 7 1-8 0 0 1 2 1 1 1 0 0 3 1-4 0 1 2 3 1 1 0-8 2 9 0-7 1 7 4 0 0-1 1-5 0-1 0 5 0-3 4-1 1 6 3 0 3-7 1 1 7 6 1-3 1-5 25 8-5 9-1-1-24 2-12-3-1-1 0 3-1-1-2-3-3 5 0-1 0-6-1 7-2-4 0 0 0 2-1-4 0 6 0 0-1-1 0-2-1-1 0-3-1 1-1 1-2-4-1 1 0-1-134 0-1 4-2 1-2 0-2-5-2 0-2 2-1 1 0-1 2 10 2 6 1 1 0-2 2-7 0 3 2 3 0-3 1 3 0 2 141-4 1 1 0-1 0-1 2 0 0 2 1-5 1 3 0 3 1-1 1-2 1-3 0 6 1-4 1 4 1-5 2 1 2 5 1-7 1 8 2-6 0 2 2 4 3-3 7-4 3 4 2 2 7 1 3-2 3 0 0 6-8 0-3 6-1-8-4 2-1 0-2 7-1 0-2-2-2 1-3-1-1 1-2 1 0-4-1-4 0 1-1 0-1 2 0 5 0-6-1 6-2-7 0 1 0-2-1 6-2-5 0 4-1-3-2-1 0 0-3-2-132 8-1 0 0-5-1 0 0 2 0-1-1 4 0-2-2 2-1-1 0-1-2 0-1-2 0 1-1-1 0 3 0-3-2 1 0-4 0 1-2 7-3-7-2 7 0-6-4 5 0 9 6 2 0-5 5-2 3 6 0-3 0-1 4 3 2-4 1-2 0 0 1 0 0 3 143 4 1-4 0 0 1 1 2-5 0 9 2-2 1-6 1 6 1 2 0-8 0-1 3 7 1-2 1-5 1 0 0 8 0-5 2 6 0-5 2 2 0-2 2 0 5-1 1-2 11 1 1 5 0 0 3-5 2 3-6 6-6 3-1 4 0-1-6-1 0-4-1 2-1 4-1 0-1-4-1-1-1 2-5 0 0-3 0-2-1 1-1 3-3 4 0 1-1-6-1-3-1 7 0-7-1 3-1 5-2-2 0 1-1-6 0 2-1-1 0 2-1 1 0-4 0 5-1-4-1 4-1 3 0 0 0 0-1-3-122 3 0-5-2-1 0 1-1 1-1 2 0 2-3-1 0-8 0 2-1 4 0-3-3 5 0-5-1-1-2 3-2 0-1-4-1 5 0-6 0 7-5-3-3 2-3-4-1 4-3 8 1-4 0 1 4-1 18 9 2-7 1 1 3-1 5 3 3-1 0 5 3-3 2 3 0-6 2 4 109 0 0 0 3-7 1 2 0 0 0 4 0-6 1 0 2 4 1 0 0 3 1-6 0 8 2-5 1 3 1-6 0 3 2 5 1-9 0 8 0-3 0-4 1 4 3-1 3-1 3 6 0-2 1 0 3-2 3-2 1 1 4 5 0-8 6-1 4 8 9-7-5 9-3 6-9-2-2-4-3 5-1-2-3 0-1 0-2 1-2 4-5 1 0-6-2 3-2-4-1-2 0 5-1-1-1-2-1 2 0 4-3-7-2-1-1 6-1-1-2-3-1-1-1 4-1 0 0 4-3 0-2-1-3 1-100-4 0 0-3-1-5 0-5 0-6 0-8-4 122 13 25-1 12-2 9 3 1-2 5 3" fill="none" marker-start="url(#m2)" marker-mid="url(#m2)" marker-end="url(#m2)"/>
<path transform="scale(.5)" d="M94 2l0 1 0-1 1 2 3-1 0 1 2 3 1-1 0 1 1-4 0 3 1 2 0-6 2 4 0-2 1 1 1 1 0 0 1 2 0-2 0 0 1-1 0-5 1 6 2 2 0-3 1 0 1 2 1-2 0-1 0 3 1-5 1 6 2-1 2-3 1-2 2 5 1 1 0-3 3 2 4-6 5 1 4 1 15 5 13 5-15 4-3-2-2 1-4 3-1-1 0 0-6-3-2 4 0-2 0 0-2-3-1 3-1-4 0-1-2-1 0 7-2 0-1-7-1 7-1-6-2 5-1 1 0-5-2 4-2-2 0-2-1 6 0-3 0-3-1-1 0 0-2 2 0 4-3-3 0-5 0 0 0 8 0-8-1 7 0 2 0-1-1 1 0-9 0 9-1 0-1-2 0-7-3 4-1-2-1-2 8 10 4 0 4 1 1 2 1 0 1 0 0 3 0-5 0 4 0 0 1-3 0 1 1 1 0 5 0-3 1 0 0-2 0 0 1 4 1-3 1 4 0-7 1-2 0 4 1-1 0-3 1 7 0 0 2 2 0-2 0-3 0 3 2-3 0 1 0 2 3-3 0-1 1 0 0 3 1-3 3 4 0 1 2-7 2 6 4 0 0 2 3-3 2-6 3 4 2 3 13-2 6 9-3 1-7-4-2 8-2-5-2 1-7-5 0 8-3-8 0 4-1-4 0 8-1 1 0-6 0 0-2 6-1 0-3-8-1 5-1-1 0-5 0 6-1-5-1 6 0 2 0-3-1-3-1 2 0 1 0 2-1-4 0-4-1 4 0-4 0 7 0-2-1-3-2 2-1-1-1-1-1 2 0 4 0-5 0 4 0 0-1-7 0 9 0 0 0-6 0 4-2-2 0-4 0 4 0-3-1-1-2-1 0 1 0 1-1 0-123 16 1 1 1-2 0-2 0-1 2 2 1 1 126-7 1 3 1 2 0-5 0 2 1 2 2 5 0-6 0 5 0-4 1 5 0-4 1-5 0 0 1 6 0 0 1-3 1-2 2 7 0-1 0-4 0 1 2 0 1 0 1-3 2 4 1-3 0 0 1 3 1 0 4 3 1-4 0-4 1 3 4 1 8-2 47 5-40 12 0-6 0-1-4-2-4 3-3 6-1-4 0 2-2 2-5-2 0-7-1 7-1-1-2-1-2-3-2 1-1 1 0-1-1 4 0 2-2-2 0-5 0 4-1 2 0-5-2 0 0 3-1-3-1-2-1 3-1 1-1 1 0-4 0 0-1-2 0 1-1 7 0-6-1 3 0-4 0-1 0 1 0 5-1 2 0-2-1 1-1-3 0-2 0 7-1 0-1 0-122-6-1 6-2-7 0 6-1-6 0 6-1 1-1-7 0 5-1-7 0 5 0-3 0 0-1-1 0 6 1 7 3-1 124 0 2-3 1 6 1-2 1 2 1-6 0 6 2-4 0 2 0-1 0 1 1-4 0 4 1 5 1-3 1-2 0-2 1 1 0 3 1 0 0-1 0-4 1-1 1 9 0-3 0-4 1-2 1 8 0-3 1 1 1 3 1-4 0 4 0-1 1-6 1 5 0-5 1-2 1 5 3 1 0-6 0 1 2 3 0 0 3-3 15-1 2 9 3-8 2 6 8 1 6-3-13 10-16-2 0 5-1 0-1 1 0-1-1-8 0 4-3-1 0-2-2 6 0 1 0-5-3 5 0-5-1 0-1 6-1-7-1 0-1 1 0 0-2-1-3-1-1 4-1-4 0 1-1 6-1-1 0-1 0-1 0 1-1-4 0 6 0-3 0 3-1-7 0 5 0-1-2 1 0-6-1 9-133 3 1 5 2 2 129-8 2 0 0-1 1 0 1 1 2-1 0 3 1 2 0-4 0 2 1 1 1-2 1 4 0-2 2 0 0 3 1-5 1 7 1-3 0-3 0-1 0 7 0-7 0 7 1-7 0 3 0-1 1 0 0 5 1 0 0-8 0 4 1-1 3-1 2-1 0 3 0 3 0-8 3 9 0 0 2-6 1-1 1 1 1-3 9 1 16 3 0-4 3 8 14 1-22 3-9 2-8 1-1-3 0 6-3 0-1-1-1-2 0-1 0 1-2 3 0-4-1 2 0-1-1 0 0-1-6-2 0 1-1-2 0 6-1 2-1-4 0-3 0 4-2-3 0-2-1 7-1-8 0 1-1 2 0 3 0-2-1-3 0 2-1 0 0 1 0-1-136 6-9 0 142 4 0 0 1 2 1-5 0 4 0-2 1 2 0 0 0-1 2 1 0-3 1-1 0 2 0-2 1 0 0 0 1 4 0 2 3 0 1 2 0-1 1-5 2 3 1-5 1 4 0-1 0 2 1 4 1-4 0-5 0 3 1-3 2 8 3 0 2-5 2 4 2-6 7 0 1-1 2 5 10 0 11 7-21 3-11-4-2 7 0 0-2-5 0-1-1 0-1 4-1-1-1 1 0 2-3-3-1 2 0 0-1-5 0 4-3-4-1 3 0-3 0 4 0-5-1 5 0-1 0 0 0-4 0 7-1-1-1-3 0-2-3 0 0 0 0-2-2 1 0 0-1-1 0 1-133 18 138-7 1 3 0 0 1 0 0 2 2 1 1-1 1-6 0 1 1 7 1-2 0-2 2-4 0 7 1 1 1-7 1 6 0 1 6-6 1 0 0 0 0 3 1 0 0-3 5 2 3 2 1 2 0-1 2-4 14-2 7 16-15-2-3 0-1-6-1 6-1-1-1-3-2 0-1 2-4 5 0-4-1 1-1-1-1-2-2 2-2-2-2-3-2 7-1-2-2-5-1 1-2-1-143 1-1 1-4 8 156 5 12 1 6-1 5 4 5-5 2 9-2 3-13-3 0-1-6 0-4 4-8-1 0-1-129-2 125 12 4 4 12-7 8 0 2 0 9 1" fill="none" marker-start="url(#m3)" marker-mid="url(#m3)" marker-end="url(#m3)"/>
<path transform="scale(.5)" d="M100 4l1-3 6 2 26 6 11 3-16-1-4 0-1 0-2 2-5-2-5 1-1 1-1-1-1 0 3 9 5 0 9-1 2 1 3 3 6 0 0 2 0 2 8 0 3-5 16-2 9 17-11 0-22-8-1 5-2-4-1 3-1-1-3-1-129 12 1-1 134 3 1-1 5 3 3-5 30 3-13 6-10 5-7-6-6-1-3 7-1-2-2-3-1 7-1-1-1 1-123-9-1 4 0 4-2-6 0 3 0 2 0 2-2-5 0 0-1 5-1-4 0-3 0 3 3 7 126 2 0 0 2-2 0-2 0 6 1-2 1-4 1 1 0 0 1 3 0 5 2-9 0 3 2 3 1-3 3 2 1 0 6 1 2-2 3 1 3 1 15 8-9 4-9-5-2 6-3-6-1-2-2 2-3 0-2 6-2-2 0 0-1-7 0 9-1-2-136 2-2 3 2-1 1 8 0-7 1-1 4 8 131-9 0 2 2 0 2-1 2 3 2 0 3 5 3-9 3 4 1-3 2 2 0-2 4 5 5-3 6 9-3 3-2 0-6-3-12 7 0-4-2 3 0-2 0-1-3 1-136-3-2-2-4 1-1 7-1 2 2 1 1 6 2-7 0 5 0-3 2 1 0-3 1 6 1-7 1 1 131 2 2 5 0-4 1 1 0 1 4 2 0-7 1 7 0-5 2-2 0 6 1-6 0 1 4 2 1-2 3-2 2 0 8 2 10-1 14 3-29 14-1-3-3-5-1 6-2-5-1 4-2-1-1-2-2 4-1 2 0-7-2 8 0-5-2-3 0 0 0-1-138 8 0 0-1-8 0 2-1 7 0-3-1-3 0 0 0 4-1-3 0 2-3-6 0 3 0-1-1 7-3 5 2 5 1 0 0-3 0-2 0-1 0-1 2 5 1 2 0-6 2 6 0-8 2 5 0 2 1 1 0-2 141-2 0 1 2-4 0 0 0 3 1-4 1 0 4-1 1 5 0-4 1 6 4 1 3-8 13 6 1-5 1 0 6 4 4 14-10-3-3 3-1-5-3 0-1-2-4 6-3-5 0 0-6 2-1-1-1 0-3-4 0 1-135 6-1-3-3 4-2-2 0 0 0 0 0-5-2 5-1-4-1 3-1-2-1 5-1-6-4-2 0 5-4-3 0-1 3 12 4 5 2-8 5 2 1-2 1 2 1 7 1-6 1 0 0 5 2-3 0 4 2-1 0-2 141-3 0-1 1 5 1-6 6-1 2 7 2 1 6-7 11 14 0 1-7 1-1 1-6-6 0 2-5-3-1 8-1 0-1-9-1 9-1 0 0-5 0-4-1 7-3 2 0-9-3 2 0 7-2-2-2-1-120 3-3-4-1 1-2-4-1 3-1 1-1-5 0 2 0 0-1 6 0-7-1 2-1 1 0 3-3-7 0 1-4-1-1 5-2-3-1-1-1 1-1-2 0 2-3-3-1 3-6 0-2 2-1 2 4 12 1 0 1-7 4 3 1 1 0-2 5-3 6 1 2 6 0-5 3-2 4 1 0 6 3-2 1 0 0-3 1 2 0-5 1 8 0-3 0 1 0-4 0 4 0-1 2 2 0 2 2-5 0-2 1 1 0 5 0-3 4 0 0 4 1-2 0 2 108-5 1 2 0-3 1 1 0-4 1 9 0-2 0-4 1 3 1 3 3-1 0-7 0 2 2 6 0-4 1-2 2 1 0-3 1 6 0-3 5 1 1 4 4 0 1-5 0 4 6-7 4 8 0-9 12 0-4 13-6 3-5 2-2-4-2 3-1 2-2-3-2-1-1 4-1-2-3-5-1-1-1 1 0 0 0 6-1 0-4-2 0-2 0 0-1 1-1-4-2-1 0 3 0 4-1-3 0-4-1 0 0 8-1-3-1-2 0 5 0-6-2 7 0-2 0 0-2 2-1-1-95 0 0 1-1-2-1 1-1-1-1 0 0 2-2 0-2-3 0 1 0 1-1-7 0 1-1 2 0 3-1-1 0-6 0 1-1-1 0 3-1 1 0 1-1 3 0-2 0 0-1 2-2 0-2-8-2 5-1 4 0-7 0-2-1 1-2-1 0 8-2-4-1 1 0-2-9 2-2-3 14 10 4-2 0 3 1 2 2-4 6 8 6-4 2-1 1-2 1 5 0-3 0-2 3-1 2 0 1 1 1-2 2 1 0 5 0-1 1 2 0-2 0 1 1-5 0 1 1 1 0-3 1 1 3 1 0-1 2 0 0 5 0-4 1-1 2 6 3 0 1-1 1-1 6 4 1 0 0-2 0 0 1 1 1-2 2 1 2 0 1 1 1 1 2-1 1 1 3 0 8 0 1-1 0 1 1 0 1-1 2 1 8 0 1 0 2 0 1-1 2 1 5 0 3-1 2 1 0-1 2-4 1-1 0-3 1 5 0-5 0 2 0 0 0 4 1-4 2 1 1-1 0-2 0 3 0 5 1 0 1-6 0 1 1-3 0 8 0-7 2 0 1 3 0 2 1 3 0-7 0 7 1-7 0 6 2-3 2 1 0-3 1-3 0 9 1-4 2-2 0 5 1-3 4-5 1 9 1-7 0 3 3-3 2 7 7-5 0 5 1 0 0-5 2 0 2-2 0 6 1-4 7-4 7 2 2 8-16 0-2 0-5 8-5-3 0 4-1-3-1-3 0 6-1-6-1 2 0 1-2-1-4-1-11-1-3-1-1-1-1 4-1-4-3 7-1 0 0-1-2-3 0 2-1 0-4-6 0 4 0-1 0-3-1 0 0 8 0-3-1 1-3 2-1-3 0 0-1-1-2-3 0 8-2-4 0 1-3-3-1-1-3 6 0-3 0 2-2-6-1 0-2 2-1-3-1 7-1 2-1-6-1-1-1 5-1-7-3 1 0 2-3-2 0 2-1 1-1-2-3 2-2 1-3 2-11-2-2-4-1 1-1-2 0 2-1-2-3 1 0-1-1 2-1-2 0 2-2 1-1-3-12 6-2-5-10-1-13 2 18 8 17 0 4 7 5-4 26-1 4 0 14 2 1-2 1 4 1-4 2 7 1-8 5 2 11-1 1 6 9-3 2-2 3-3 3 0 1 5 0 3 2-8 6 7 4-2 1-4 2 2 5 1 6 3" fill="none" marker-start="url(#m4)" marker-mid="url(#m4)" marker-end="url(#m4)"/>
<path transform="scale(.5)" d="M95 4l12 5 24 25-130 13 2-3 0 2 1-4 2 6 1 1 1 0 0 0 126-6-131 8 0 5-2 2 130 4 2-1 8 2 9 16-147-1-2 0 0 3 0 8 2-2 2-1 0-4 1-2 1 0 1 8 0-3 0 3 2 1 0 0 134-9 3 1 3 4 3-2 2-2 10 3-7 13-6 0 0 0-3-4-137 4-1 2 0-3-1 0-1 0 0 3 0-4-1-5 0 3-1-1-1-1 0 3-3 0-1-1 0 0-1 6 0-9 0 12 2 3 0 1 2-6 0 8 1-1 2-7 0 3 0-2 1 8 0-8 0 0 0 7 1 0 0-5 1-1 1-2 0 4 132 2 2 2 1 0 4-7 1 2 16-1-8 10-1 6-7 1-2-6-137-2 0 1-2 7 0-3 0-2 0-4-1 2-1 1-4 4-1-3 0 3-3 2 0 9 1-2 0 0 0 0 0-5 3 8 0-8 0 1 1 3 2 0 1 0 0 4 3-2 1-1 0 3 2-1 0 1 1 0 137-8 7 1 4 5 1-2 1 3 6-1 12 4-3-1-16 9-2-5-139 4 0-1 0-2-1-1-1 0 0-1-1 0-1 1 0 4 0-2-1-4-1 4 0-6-1 6 0-5 0 3-1-4 0 3-2 1-3-2-1 1-1 1-1-2 0 5-1-7-1 7 0-3-1 0-1 5 0-6-1 2 0-1 0-1-2 1 1 11 2-4 7 5 3-4 2 7 2-6 0 4 0 0 1-7 0 6 0 0 3 1 0 0 0-7 0 2 1-1 4 7 139-8 8 5 1-3 1-1 26 14-22-1-6 2-4 1 0-6-3 4-1-1 0 3-124 2-1 0-2-3-3-5-1 8-1-8 0-1-3 6 0-1-1-3 0 4-1-5-1 7 0-2 0-1-1-5-1 5 0-4 0 1-1 5 0 1-1-3-4-1-3-1 0 6-1-6-3-1-1 3-6-2 4 11 2 2 1-6 7 6 3 1 1 2 1-9 2 3 2 2 1 4 2-5 2 0 2 0 1 5 4-7 1-2 1 2 0 0 0-1 0 4 1 3 0-3 0-3 2 3 1-1 1 4 111-5 4 3 0 3 4-9 5 9 1-3 1 1 0-7 9 4 5-3-4 18-5-5-12 2-11 3-98-2-1-2-1 4-1-2-4-3 0-4 0 2-3 3 0-4-1 0-10 1-1 1-5 6-1-5 3 11 4 0 5-4 10 3 1 1 2-5 0 5 4-1 0 2 5-3 1 2 0 0 0 3 1-5 3 6 4-5 1-1 0-2 2 2 1 0 0 2 2 3 0-3 2 4 3-3 2 0 3 2 3 0 8-1 1 0 0 0 7 0 10 2 2 0 13-1 3-1 1 2 1-1 3-3 3 3 1 0 0-5 1 2 3-2 0 2 1 0 2-4 0 3 1 5 0-3 3 3 0-1 4 0 3-8 0 4 7 0 1 4 1-3 8-3-3 14-23-1-6 1-4-3-6-2-9 0-7 3-6-3-6 7-4-2 0-3-1 3-1-4-9-2-1 0-6 0-12 4-10-4-30 0" fill="none" marker-start="url(#m5)" marker-mid="url(#m5)" marker-end="url(#m5)"/>
<defs><path id="c187" d="M53 91.6l1.9 0.3 1.6-0.3 3.2-0.9 2.4 0.9 2.3 2.3 3.2-2.3-0.3-2.3 1.9-2.4 4.7 0 2.2-2.3-2.2-1.7-3.1-0.7 2.8-2.3 0.3-2.3 1.2-2.4-1.2-1.4-0.8-0.9-0.9-2.4-2.6-2.3-0.4-0.6-0.6-1.7 0.4-2.4-2.4-2.3-2.2-1.7-1.9-0.7-2.8-0.5-2.4-1.8-2.4-0.8-4.7-0.5-4.7-0.5-4.8-0.4-0.8-0.1 0-2.4-3.9-0.9-4.8 0.4-4.7 0-4.8-0.2-2.9 0.7 0 2.4-1.8 1.4-1.5 0.9-3.3 1.6-1.4 0.7 1.4 1.6 1.4 0.8 0.3 2.3 3.1 1.4 2.2 1-0.8 2.3 1.7 2.3 1.6 0.3 3.5 2.1 1.3 1.4 1.1 0.9 3.6 2.2 1 0.2 1.1 2.3 1.2 2.3 1.5 0.8 4.7-0.8-0.7 2.4 0.7 0.8 3.8 1.5 1 0.2 4.7 0.8 2.5 1.4z"/><path id="c188" d="M50.2 84.6l4.7 1.5 4.8 0.8 1.6-2.3 3.1-0.7 1.8-1.7 0.6-2.3 0.8-2.3-0.1-2.4 0.6-2.3-2.1-2.4-0.5-2.3-1.1-1.6-0.3-0.7 0.3-1.2 0.5-1.2-0.5-0.3-4.1-2-0.6-0.3-4.8-1.9-0.8-0.2-3.9-1-4.7-1.3-4.8-0.8-4.7-0.2-4.8 0.5-1.6 0.5-3.1 1.1-4.8 0.7-0.9 0.5 0.9 0.5 1.3 1.9-1.3 2.1-0.3 0.2 0.3 0.1 2.9 2.3 1.9 1.3 1.8 1 2.9 2.1 0.3 0.2 1.9 2.4 0.6 2.3 2 0.8 2.8 1.6 1.6 2.3 0.3 0.1 4.8-0.1 4.7 2.3z"/><path id="c189" d="M52.6 77.6l2.3 1.1 4.8-1.1 1.3-2.4-1.3-1-1.6-1.3 1.6-0.6 2.1-1.8-1.6-2.3 0.6-2.3-1.1-1.9-1-0.5-3.8-1.2-1.4-1.1-3.3-1.1-3.9-1.3-0.8-0.3-1.3 0.3-3.5 0.7-3.3-0.7-1.4-0.4-2.1 0.4-2.7 1.2-3.1 1.2 3.1 1.4 0.9 0.9 1 2.4 1.5 2.3 1.4 1.3 4.7 1 2.6 2.4 0.8 2.3 1.4 1.2 4.7-0.6z"/><path id="c190" d="M43.7 70.5l1.8 1 4.7-1 3.2-2.3-1.1-2.3 0-2.4-2.1-1.5-3.4 1.5-1.3 0.5-4.8 0.3-2.3 1.6 2.3 1.3 4.1 1zM40.3 61.2l0.4 0.2 0.6-0.2-0.6-0.1z"/><path id="c191" d="M30.9 77.1l2.9 1.7 5.2 0.1 5.1 1.1 5.2-1.2 5.1 1.3 5.2-1.4 1.1-1.6 4.1-4.6 1.7-4.7 2.4-4.6-4.1-3.2-1.2-1.5-1.1-4.7 2.3-4.6-5.2-4.7 2-4.7-2-2.5-2.4-2.1-2.3-4.7-0.5-0.9-5.1-3.3-0.2-0.5-3.2-4.6 1.8-4.7-3.6-3.3-1.3-1.4-3.2-4.6-0.6-0.9-5.2 0.3-4-4.1 0-4.6-1.1-0.4-5.2 0-5.2-0.3-4.1 0.7 0 4.6-1 0.4-0.4-0.4 0-4.6-4.8-1.6-5.1-0.3-5.2 0-2 1.9 0 4.6 0.9 4.7 1.1 4.1 5.2 0 0.2 0.5-0.2 0.4-5.2 0-1.7 4.3 1.7 4.7 5.2 0 1.3 4.6-0.8 4.7-0.5 0.7-5.2 0-0.9 4 0.9 4.6 5.2 0-5.2 0-0.2 4.7 0.2 0.8 5.2 0 2.8 3.9 1.2 4.6 1.1 4.7 5.2 3.7 0.6 1 0 4.6 4.5 3.7 3.5 1 1.7 0.3 5.2 1.8z"/><path id="c192" d="M31.4 72.5l2.4 2.6 5.2-0.3 5.1 0.4 5.2 0.8 4.1-3.5 1-1.7 4-3-0.4-4.6 1.6-3.2 0.8-1.5-0.8-1.7-4-3-1.2-0.9-1.4-3.7-0.1-4.7-0.7-4.7-2.9-4.6-5.2-4.3-0.3-0.4 0.3-0.5 2.4-4.2-2.4-2.6-2.5-2-2.1-4.7-0.5-0.6-5.2-3.4-0.8-0.7-4.3-3.9-0.8-0.7-4.4-2.2-5.2 0-3.7 2.2-1.4 1.7-5.2 0.2-2 2.7-2.2 4.7 1.9 4.7 2.3 3.5 1.9 1.1 1.1 4.7-0.7 4.7-0.5 4.6 0.7 4.7 1.7 4.7 1 1 1.3 3.6 2.1 4.7 0.4 4.7 1.3 2.1 5.2 2.1 0.7 0.4 4.5 1.8zM-2.4 2.5l0.1 0.5 5.2 0 1.3-0.5 0-4.6-1.3-0.2-5.2 0-0.1 0.2z"/><path id="c193" d="M47.4 72.5l1.9 1 1.2-1-1.2-2.6zM36.1 67.8l2.9 2 5.1-0.7 2.4-1.3 2.3-4.6 0.5-3.5 5.1 0.1 0.7-1.3-0.7-0.6-4.5-4.1-0.6-1.7-2.6-2.9-0.8-4.7-1.5-4.7-0.3-0.6-1.9-4-3.2-4.7-5.2 0-2.8-4.7-2.3-2.3-5.2 2.3-3.7-4.6-1.5-1.1-3 1.1 2.8 4.6 0.2 0.7 1.9 4 0.5 4.7-2.4 3.3-0.7 1.3 0.7 0.6 2.1 4.1-2.1 4.3-0.2 0.4-0.2 4.6 0.4 0.6 4.4 4.1 0.8 1 3.4 3.7 1.8 1.4 5.1 0.8zM23.5 50.4l-4.4-1.2 4.4-1.1 1.3 1.1zM31 21.2l2.8 2.3 1.6-2.3-1.6-1.5z"/><path id="c194" d="M38.1 63.2l0.9 1.1 5.1 1 1.6-2.1-1.6-1.9-1.9-2.8 1.9-4.1 0.6-0.6-0.6-0.6-1.4 0.6-3.7 0.8-3.7 3.9zM35 49.2l4 3.4 2.6-3.4-2.6-3.3-3.9-1.4 2.9-4.7-3.2-4.6-1-0.5-5.1-0.2-1 0.7 1 2 1.2 2.6 2.9 4.7 1 1.6zM23.2 44.5l0.3 0.3 1-0.3 1.9-4.7-2.9-1.3-1.2 1.3z"/><path id="c195" d="M61.2 85.8l3.7 0.5 5.6 0.1 2.9-0.6 2.8-0.5 3.4-4.1 2.2-4.6 1.7-4.7-1.7-3.4-1-1.2-4.2-4.6-0.4-4.7-3.9-4.6-1.8-3.1-5.6-1.5 5.6-1.3 1.4-3.4-1.4-3.3-1.8-1.3-3.8-1.8-2.6-2.8-1.9-4.6-1.1-2.4-5.6 1-1.5-3.3-2.2-4.6-1.9-2.8-2.3-1.8-3.3-2.8-5.6-1-0.8-0.9-4.8-4.6-4.7-4.6 0-4.7-1-0.4-1.1 0.4 0 4.7 0.1 4.6-4.2 4.6-0.4 0.3-2.8-0.3-2.8-0.4-1.9 0.4-0.4 4.7-3.3 4-0.6 0.6 0.6 4.6-2.8 4.7 0.7 4.6-1.3 4.6 3.4 4.2 0.3 0.4-0.3 0.8-3.5 3.9 3.5 3.8 0.3 0.8 3.2 4.6 0.4 4.7-1.4 4.6 3.1 2.3 1.9 2.3 3.7 3.3 1.3 1.4 4.3 4.3 1 0.3 4.7 1.5 5.6 1.2 5.6 0.9 5.6 0.2 5.6 0.8 5.6-0.1zM8.1 7.1l0.7 2.3 1-2.3-1-1z"/><path id="c196" d="M41.7 81.2l0.8 0.2 5.6 1 5.6 0.8 5.6-0.7 5.6 1.1 4.9-2.4-0.4-4.6 1.1-2.1 5.7-1.6 0.7-1-0.7-0.7-5.7-2.6-0.3-1.3-5.3-3.9-0.5-0.7 0.5-2.9 1.6-1.8-1.6-1.9-1.1-2.7-4-4.6 0.7-4.7-1.2-1.2-5.6-0.1-1-3.3 1-2.3 2-2.3-2-1.4-5.6-0.6-5.6-2-0.5-0.6-5.1-4.7-4.4-4.6-1.2-0.8-5.7-0.8-3.1 1.6-2.5 4.6 5.6 1.6 2.8 3.1-2.8 1.6-4.6-1.6-1-4.7-1 4.7-4.6 4.6-0.9 4.6 0.9 4.6-1.2 4.7 1.2 4.6 5.6 3.1 0.5 1.5-0.5 2-1.1 2.7 1.1 3.7 0.5 0.9 5.1 4.6 3.1 4.7 2.6 1.3 5.6 2.3z"/><path id="c197" d="M42 76.6l0.5 0.1 5.6 2.2 5.6-0.2 5.6-1.5 1.1-0.6 3.1-4.7-1.7-4.6-1-4.6-1.5-1.9-3.8-2.8-1.8-1.9-2.7-2.7-0.1-4.6-2.4-4.7-0.4-4.6-1.9 4.6-3.7 1.6-1-1.6-0.1-4.6-4.5-4-5.6 1.8-4.5 2.2-1.2 1.6-0.7 3 0.7 1.5 2.3 3.2-2.3 4.1-0.2 0.5-0.1 4.6 0.3 0.5 3.6 4.2 0.3 4.6 1.1 4.6 0.7 0.7 5.6 0.4zM31.3 45.6l-3.4-1.5 3.4-1.9 1.2 1.9z"/><path id="c198" d="M39.9 71.9l2.6 2.1 5.6-2.1-0.6-4.6-5-3.4-1.7 3.4zM48.1 71.9l5.6 2.4 2.7-2.4-2.7-4.6zM34.6 62.7l2.3 1.5 4.2-1.5 1.4-1.2 5.6 1.2 3.1-4.7-3.1-2.8-5.2-1.8-0.4-0.3-4.5-4.3-1.1-2.3-1.5 2.3 0.8 4.6-2.5 4.6z"/><path id="c199" d="M44.9 69.7l3.4 1.2 6.4 2.6 6.4-1.8 4.2-2 2.3-3.7 6.4 2 3.2-2.5-3.2-3.1-2.2-1.1 1.9-4.2-3.7-4.2 3.7-4.3 0.3-2.1 0.3-2.1-0.3-0.4-5.7-3.8 2.7-4.2-3.4-2-3.3-2.2 2.4-4.2 0.9-4.3-3.1-4.2-3.4-4.2-2.1-4.2-4.3-0.5-3.7-3.7-2.7-3.9-0.7-0.4 0-4.2-5.7-0.9-6.4-0.9-6.4 0-6.4-0.8-6.4 0.5-6.4 0-6.4 1.3-6.4 0-1.3 0.8 0 4.2 0.5 4.3 0.4 4.2 0.2 4.2 0.2 0.5 6.4 0 2.6 3.7 3.8 3.2 1 1 0.5 4.3-0.9 4.2 2.9 4.2-0.1 4.2 2.4 4.2 0.6 0.6 1.8 3.6 2.7 4.3 1.9 1.9 5.5 2.3 0.9 0.6 1.8 3.6 1.2 4.2 3.4 2.1 6.4 1z"/><path id="c200" d="M54 69.7l0.7 0.3 1.2-0.3-1.2-1.4zM35.5 57.1l6.4 3.3 6.4 0.7 6.4 0 6.4-1.6 6.5-2.1 0.2-0.3-0.2-0.3-2.6-3.9 2.6-3.2 1.1-1.1-0.6-4.2-0.5-0.3-6.5-1.5-0.7-2.4 0.7-0.9 3.2-3.3-3.2-2.2-2.4-2 1.7-4.2-2.5-4.3-3.2-3.3-0.4-0.9-1.8-4.2-3.3-4.2-0.9-1-3.7-3.2-2.7-1.4-6.4-2.9-6.4 0.2-0.2-0.2 0-4.2-6.2-1.4-6.4 0.9-6.4 0.1-1.8 0.4 0 4.2-0.2 4.3 2 1.6 2 2.6-0.2 4.2 0.6 4.2 3.8 4.2-0.5 4.3 0.7 2.8 0.9 1.4 5.5 4.2-0.9 4.2-0.1 4.2 1 1.7 2.2 2.5 4.2 2.9 2.2 1.4 4.2 4.2z"/><path id="c201" d="M46.4 57.1l1.9 0.7 2.3-0.7-2.3-3.6zM40.1 52.9l1.8 1.4 5.6-1.4 0.8-0.3 6.4 0.3 1.5-4.3 0.6-4.2-1.5-4.2-0.6-1-2.6-3.2-3.8-3.1-1.1-1.1 1.1-1 3.6-3.2-1-4.3-2.6-4.2-3.5-4.2-0.2-4.2-2.7-1.9-6.4 0.7-4-3-2.4-0.7-6.4-2.1-4.2 2.8-2.2 4.2 2.5 4.2 1.4 4.2 1.7 4.2 0.8 1 6.4-1-1.5 4.3 1.5 1.2 2.6 3-2.6 2.6-1.1 1.6 1.1 1.8 6.4 2.4-1.3 4.2 1.3 2 2.7 2.2z"/><path id="c202" d="M33.8 36l1.7 0.9 3.9-0.9-3.9-2zM40.5 31.8l1.4 1.4 0.5-1.4 4.3-4.2-0.8-4.3-3-4.2-1-1.5-6.4-1.2-6.4-0.9-2.8 3.6 2.8 1.4 5.1 2.8 1.3 4.3zM27.2 10.7l1.9 2.8 1.2-2.8-1.2-0.9z"/><path id="c203" d="M41.1 91.4l3.1 1.8 5.8 0.3 5.9 0.6 5.8 0.3 5.8-0.3 3.8-2.7 2.1-1.5 5.8-1.3 1.8-2.4-1.8-4.3-0.2-0.9-4.1-5.2 1-5.2-2-5.3-0.5-2.6-0.7-2.6-2.6-5.2-1.5-5.2-1.1-1.2-3.9-4 0.1-5.2-2-2.8-1.2-2.4-3.8-5.3-0.8-1.7-0.6-3.5-4.8-5.2-0.5-1.3-1.5-3.9-4.3-2.2-5.9-1.7-0.8-1.3-5-3.6-5.9 0.7-5.8-0.7-4.1-1.6 0-5.2-1.8-0.6-5.8 0.6 0 5.2 4.6 5.2-4.6 3.5-0.9 1.7-0.7 5.2 1.6 3.1 0.8 2.1-0.8 1.8-1.6 3.4-1.4 5.3 3 2.3 3.5 2.9-1.1 5.2 0.8 5.2 1.6 5.2 1 5.2-1 5.2 1 2.6 1.1 2.7 4.8 3.7 0.9 1.5 1.6 5.2 2.6 5.2 0.7 0.5 5.9 3.6 5.8-0.3z"/><path id="c204" d="M37.6 86.2l0.7 0.3 5.9 2.4 5.8 1.4 5.9 0.2 5.8 0.3 5.8-4 2-0.6 3.3-5.2-2.7-5.2-0.8-5.2-1.8-2.1-1.8-3.2-4-3.5-1.5-1.7 1.5-3.2 1.8-2-1.8-2.8-2.2-2.4-3.6-4-1.2-1.2 1.2-3.9 0.3-1.3-0.1-5.2-0.2-0.3-5.9 0.3 0-5.3-1.5-5.2-4.3-1.9-4.2-3.3-1.7-1-5.8 1-5.9-2.6-1.7 2.6-1.6 5.2-2.5 2.6-2.8 2.6-0.2 5.3 1.3 5.2 0.4 5.2 0.2 5.2 1.1 1 1.7 4.2 0.6 5.2-2.3 4.1-0.8 1.1 0.8 1.3 2.7 4 2.4 5.2 0.7 1.1 2.9 4.1 3 2.5zM20.4 13.2l0.4 0.7 1.4-0.7-1.4-0.7z"/><path id="c205" d="M46.7 86.2l3.3 1.6 5.9 0 4.2-1.6 1.6-1.8 2.2-3.4 1.4-5.2-3.6-2.9-2.2-2.3 1.7-5.3-4.8-5.2-0.5-3.4-5.9-1.8-3.7-5.2 0.2-5.2-2.3-5.2-5.9-3.9-3.5-1.3-2.3-5.3-5.9-1.8-1.7 1.8 1.7 4 2.9 1.3-0.8 5.2-2.1 2.6-2.1 2.6 2.1 2.2 5.5 3-5.5 4.9-0.1 0.3 0.1 0.5 5.3 4.7-3.8 5.2 1.1 5.3 3.3 4.9 0.6 0.3 5.2 3.8 0.7 1.4 5.2 3.2zM38.3 53.9l-4.7-4.2 4.7-3 2 3z"/><path id="c206" d="M54.7 81l1.2 0.4 0.3-0.4 1-5.2-1.3-2.6-3.6-2.6 3.6-1.5 1.1-3.8-1.1-1.3-3.9 1.3-2 3.5-5.8-3.5-5.9 3-1.7 2.3 1.7 0.6 5.9 4.6 5.8 4.4zM36.5 60.1l1.8 3.9 5.9 1.3 3.1-5.2-3.1-2.4-5.9 0.8z"/><path id="c207" d="M43.2 86.7l5 1.6 5.1 0.7 5-2.3 5.1-2.1 5-0.7 2-2.2 1.6-4.9 1.4-3.5 1-1.4-1-0.8-4.6-4.2-0.4-0.5-3-4.4-2-2.5-1.4-2.4-0.2-5-3.5-3.4-1.6-1.5-2.5-5-0.9-1.8-1.7-3.1-3.4-4.1-1.4-0.8-2.4-5-1.2-1.8-2.8-3.1-2.3-1.3-5-0.9-5.1-1.8-2-0.9-0.7-5-2.3-1.3-2.8 1.3 1.1 5-3.3 1.2-4.6 3.7-0.5 0.7-2-0.7-3-1.5-1.3 1.5 1 4.9 0.3 0.8 0.9 4.2-0.9 3.1-2.6 1.8-0.1 4.9 0 5 2.7 4.9-1.8 5-0.4 4.9 2.2 2.6 4.5 2.3-0.7 5 1.2 1.6 5.1 1.9 1.8 1.4 3.2 4.9 5-0.4 0.7 0.4 4.4 3.8 5 0.5 5.1 0.7z"/><path id="c208" d="M36.1 81.7l2 0.4 5.1 0 5 0.6 5.1 1.4 5-1.4 1.3-1 3.4-4.9 0.2-4.9-3.9-5 0.4-4.9-1.4-2.2-3.8-2.7-1.2-1.7-1-3.3-4.1-3.8-2.2-1.1 0.5-5-3-4.9-0.3-0.2-5.1-3.6-5-0.5-1.2-0.6-3.9-3.4-4.6 3.4-0.4 1.6-1.1 3.3-3.9 1.6-3.4 3.3-1.7 4.4-0.3 0.6 0.3 0.3 2 4.6-1.6 5 1.6 4.9 0.6 4.9 2.2 5 0.3 0.1 5 3.8 2.9 1 2.1 0.8 5.1 3.6zM16.7 32.4l1.3 0.6 2.5-0.6-2.5-0.3z"/><path id="c209" d="M36.9 76.8l1.2 0.7 5.1 1 5-1.5 5.1-0.2 3.2-4.9-3.2-2.9-1.6-2.1 1.6-2.8 1-2.1-1-0.9-5.1-3.1-1.3-0.9-3.7-5-5.1-2.4-2.8-2.5-2.2-2.5-3.9 2.5-1.2 0.8-5 3.3-0.4 0.8-1 5 1.4 1 1.3 3.9-0.4 4.9 2.7 5 1.4 0.8 5.1 1.8z"/><path id="c210" d="M37.3 71.9l0.8 0.5 2.3-0.5 2.8-0.9 3.8 0.9 1.2 0.2 0.3-0.2-0.3-0.5-2-4.5-3-4.9-5.1-2.6-3.9-2.3-1.1-0.6-1.3 0.6 1.3 2.7 0.9 2.2 4.1 4.9z"/></defs>
<g fill-rule="evenodd"><use href="#c187" fill="#fff"/><use href="#c188" fill="#8000ff" fill-opacity="0.15"/><use href="#c189" fill="#8000ff" fill-opacity="0.15"/><use href="#c190" fill="#8000ff" fill-opacity="0.15"/><use href="#c191" fill="#fff"/><use href="#c192" fill="#1996f3" fill-opacity="0.15"/><use href="#c193" fill="#1996f3" fill-opacity="0.15"/><use href="#c194" fill="#1996f3" fill-opacity="0.15"/><use href="#c195" fill="#fff"/><use href="#c196" fill="#4df3ce" fill-opacity="0.15"/><use href="#c197" fill="#4df3ce" fill-opacity="0.15"/><use href="#c198" fill="#4df3ce" fill-opacity="0.15"/><use href="#c199" fill="#fff"/><use href="#c200" fill="#b2f396" fill-opacity="0.15"/><use href="#c201" fill="#b2f396" fill-opacity="0.15"/><use href="#c202" fill="#b2f396" fill-opacity="0.15"/><use href="#c203" fill="#fff"/><use href="#c204" fill="#ff964f" fill-opacity="0.15"/><use href="#c205" fill="#ff964f" fill-opacity="0.15"/><use href="#c206" fill="#ff964f" fill-opacity="0.15"/><use href="#c207" fill="#fff"/><use href="#c208" fill="#ff0000" fill-opacity="0.15"/><use href="#c209" fill="#ff0000" fill-opacity="0.15"/><use href="#c210" fill="#ff0000" fill-opacity="0.15"/></g>
<g fill="none" stroke-width="1.20" stroke-linejoin="round"><g stroke="#8000ff"><use href="#c187"/><use href="#c188"/><use href="#c189"/><use href="#c190"/></g><g stroke="#1996f3"><use href="#c191"/><use href="#c192"/><use href="#c193"/><use href="#c194"/></g><g stroke="#4df3ce"><use href="#c195"/><use href="#c196"/><use href="#c197"/><use href="#c198"/></g><g stroke="#b2f396"><use href="#c199"/><use href="#c200"/><use href="#c201"/><use href="#c202"/></g><g stroke="#ff964f"><use href="#c203"/><use href="#c204"/><use href="#c205"/><use href="#c206"/></g><g stroke="#ff0000"><use href="#c207"/><use href="#c208"/><use href="#c209"/><use href="#c210"/></g></g>
</svg>
<svg x="382.04" y="455.55" width="108.00" height="108.00" viewBox="0 0 108.00 108.00">
<path transform="scale(.5)" d="M205 108l2 1 1-1 2-1 3 0 0 2 1-2 0 0 1 10 0-1-2-4 0 6 0-2-1-2-1-4 0 3-1-1 0 6-1-6 0-2-1 2 0-2-1 0 0 2 0 4-1 3 0-8 0 5-1 3-1-5-136-4-19 16 1 2 5 1 3-5 1 4 2 0 1-2 1 3 0-5 140 4 1-3 1-1 2 4 1-2 0-3 0 0 1-3 0 6 1-1 1-4 2 6 0-1 0-6 1 1 0 8 2-5 0-3 0 8-4 2 0 5-3 1-1-2-2 2-1-3 0-1-1 1 0 2-1-5-1 1-1 3 0-1 0 2-1-3-1 6 0-1-1 0-1-1-1 2-1-1 0-3 0-2-1 2-1 1-135-5-2 4-9 4-3-1-16 3 8 8 7-4 1-1 4 4 4 1 1-9 143 3 7 0 2 2 1 2-4 7-4-3-2 3-2-4-5 6 0-1 0 0-1 1-2-1-1 4 0-5-1-4-1 1-2 5 0-5-1 5-2 1 0-1 0-1-121 4-1-4 0 2-1-6-1 7-2-2-3 1 0 1-2 0 0 0-1-5 0 6-1-2-14 0-2 2-1-5 5 8 4 0 5 4 4-2 0-3 3 6 0-5 2 2 2 3 0 1 0-7 0 8 1-2 1-7 0 6 3-5 0 0 109 8 4-3 0 2 1-4 2-4 1 1 5 6 2-2 1-5 4 3 10-2-29 15 0 0-106 3-1 0-2-1-3-8-1 1-2 6-1-3-3-2 0 2-1 4 0-7-3 7 0-5-3 0-3 8 3 1 2 3 1 4 0-4 4 0 0-4 0 3 0-4 1 5 2 4 0-5 3 2 2-5 1 0 2 8 1-7 2 3 2-5 1 2 0 2 1 4 1-7 0 2 0-3 0 7 0-4 0-3 1 6 0 0 0-1 1 3 0-5 0-2 0 7 1-7 0 1 0-1 1 2 1 2 0 1 1 1 1-4 0 6 1-4 0-1 1 5 0-3 0 1 1-1 1 1 1 1 4 1 3 0 6 0 3 0 3 0 6 0 8-1 0 1 8 0 1-2 1 1 2 0 2 0 4-2 5 3 1-4 1 0 4 3 3-6 0 2 4-2 0 2 2-3 0 7 0-4 1 1 1-3 5 1 5 1 5-2-29 8-1 2-3 2-1-4-5 1 0 5 0-5-2-1-2 1 0 1-1-1 0 5-2-4-2-1 0 8 0-4-1-4-1 2-1 3-4-6-1 1-1 7 0 1-3-5-2-1 0 1-1-2 0-2-1 7-1 1 0-4 0 0-2-4-1 5-2 4-1-8-1 1-1-1-1 3 0-1 0-2 0 4-2-3 0 1-1-1-1 5-1-6-1 5 0-6-1 1 0 2 0-3-1 0 0 2-1-1-1-1 0 2-1 0-1 2-1-2-1-2 0 2 0 3-1-2 0 3-1 1 0-7-1 0 0 5 0-4 0 5-1-6 0 1-1 3-1 0-2 2-6-1 0-3-2-2-1 7 0-4-1 0-1 5-1-6 0-2-11 0-10 6 32 4" fill="none" marker-start="url(#m0)" marker-mid="url(#m0)" marker-end="url(#m0)"/>
<path transform="scale(.5)" d="M92 3l12 6 1-2 8-1 4 4-3 0-5 1 0 5-1 3 0-5 0 4-3-3-2 0-1-5-41 7 9 6 10 2 8-1 7 1 3-2 0-1 7-2 0 0-13 12-7 2-2 2 0 1-8 0-4 1-3 6 9-1 0 2 2 1 5 0 126 3 1-1 1-4 1-1 0 5 0-1 1-3 0-2 0 3 1 3 0 1 1-6 0 6 0 4-1-2 0-1 0 8-1 1 0-6-1-2 0 8 0-1 0-3 0 3-2-4 0 0 0 4-2-6-123 7-2-4-1-3-2 2-18 5-1 0-8-3 15 7 3 3 0 3 3-5 7-3 0 7 1-2 128-6 0 0 1 1 3 0 1-1-139 10-2 1-5 7 0 0-2-2-15 2-1-6-11-1 1 18 9-2 2 2 3-6 10-2 3 8 0-4 1-4 1 2 7-3 138 17-1-5-1 6-1-3 0 2-1-6-1-1 0 5-1 4 0-8-1 6 0-1 0-2 0 4-1-6 0 4 0-1-1-1-1 5-137-4-3 4-4-7 0 3-2-2 0 1 0 2-16 3 0-2-3-1-14 1 26 5 3 1 4 6 5-3 0-3 2 3 1 0 1-2 2 0 6 0 127 3 0-4 1 1 0-3 0 3 0 3 0-3 0 1 0-4 1 6 1-4 0-3 0 1 1 5 0 1 3 2 2-1 1-5 0-1 0 5 1 0 0-5 1 0-2 14 0-3 0 2 0 4-1-8-4 2-2 1-1-1-1 5-1 1-134-7-2-2-1 7-1 2 0-5 0 2-2 3-1-7 0 5-1-6-1 5-1-5-6 7 0-3-5 2-6-2 0-3-5-1-11 1 0 3-13 5 29 6 4 3 1-3 2 1 2-2 2 4 0-4 1 3 0-3 1 3 1-2 2 0 2-1 1 4 0-3 1 1 2-4 0 3 140 2 0-7 0 6 1-1 1 2 0-7 0 1 1 6 0-6 1 7 0-5 1-4 0 8 1-4 4 5 0-7 0 7 0-3-3 9-3 0-3 4 0-2-1-2-3-5-1 2-1 5 0-5-1 5 0 0-1-6-1 2 0-1 0 0-1 1-3 4 0-2-1 0-132-3-3-2-3 3 0-2-4 8-22 0-18 8 10 2 7-2 9 1 5 0 11-1 140 0 1-5 1-1 0-1 1 5 6 3 0-7 2 4 1 2 2-4 0 3 0 0 3-6 5 10-3 5-1-1-4 3 0-6-4-1-6 9-6-3 0-1-3-3 0 0-1 3-2 1 0-6-1 1-2 8-1-1 0-4-1-2-1 2-120 4-1-1-3-7-3 3 0 0-1 3-2-2-38 13 18-6 2 5 8 1 2-1 7-3 3-2 3 5 2-1 1-4 2 0 114 5 1-3 5 1 5-3 3 2 2 0 3 5 1-4 5 1 5 1-3 9-13-4-6 8-18-2-105-1-28 2-11-3 28 5 3 6 1-4 7 5 4-1 2-2 6-2 6 4 69-6 1 1 7 1 7 2 9-4 3 1 2 1" fill="none" marker-start="url(#m1)" marker-mid="url(#m1)" marker-end="url(#m1)"/>
<path transform="scale(.5)" d="M92 7l8-2 12 5-4 9-3-8-2 2-6 4-17 2-21 8 24 1 2 1 5-3 5 0 1-4 3-2 4 0-7 10-1 0-6 0-3 5-2 0-1 3-27-4-30 10 33-2 9 3 2-3 9 7 0-6 2 6 1-9 3 2 126 4 1-3 1 3 0 3 0 0 1-3 2 8-1-3 0 8-1-9-1 7 0-5-1 6-2-5-124 6-3 0-1-9-3 6-2 0 0 3-2-2-2 0-1 1-1-6-1 6-10-5-2 1-13-2 3 11 7 5 0-3 2 3 7-6 3 1 0 5 1-3 2-3 3 5 2 2 1-4 1 2 0 2 1-3 3-3 1-3 0 2 0 1 2 2 1-3 127 0 1-1 0 0-134 18-2 0 0-9-3 9 0-5-2 1 0 4-1-2-3-2-14-5-7 7-12-2-33 1 32 11 12 2 4-5 2-4 6 9 0-2 0-3 1 0 1-3 0 2 3 1 4 5 3-4 1-4 1 5 2-3 1 0 2-1 3-1 136 14-2-3 0 6 0-4 0 1-2 4-1-3-1-2 0-3-1 4-1-3 0 6 0-3-1 3-1 1-135-2-2 0 0 2-1-3 0 3-1 0 0-8-1 3-1 3 0-6-1 2-1 3-3-3-4-3-6 7-2 2-6-8-32 18 26-8 2 8 0-3 7-3 0-1 4 7 3 0 1-6 4 0 0-1 0 5 0-3 1 5 0-1 4 1 1 0 0-7 2 5 0 1 1-8 2 3 0 4 0-3 1 0 1 0 1-1 1-2 0 0 1 3 0 5 1-7 130 4 1 0 0-5 0 0 1 0 0 2 0-1 0 0 0-2 0 8 1-5 0-3 2 7 1-2 1 1 0-6 3 0 1 6 0-5 1 12 0-1-1 0-2-2-3 0-1 5-2 0-2-1-1-4-133 1 0-1 0 1 0-1-3 4-1 2 0-3-1 2-1 3 0-2 0-4 0 7-1-6 0 6-1-4 0 0 0 2-1 2-2 0-1-1 0-6-2 2-2 3-1-2 0 3-2-2-11 3-24-2-1 1 0 8 4 0 2 2 9-1 2-2 2-4 7 4 4 3 1-6 0 2 2 4 1-8 1 7 2-5 3 4 0-5 0 1 2-2 0 6 1-3 1 2 1-2 0 3 1-6 1 3 0 6 0-4 1 0 1-2 1 1 0 0 140 2 0 0 0 2 1-5 2-3 0 3 2 6 0-2 1 1 2-6 2 16-4 1 0-6-2-1-3 7-2-4 0-4 0 1-2 2 0 3 0-3-1 0 0 1-1 1-2 1 0-1-1 2-2 0 0-2-1-3 0 2 0-1-1 4 0-5-1 5-131-8 0 1-3 1-1 0-1 1-1-1 0 4-2-3 0 4-1-5 0-1-1 8-2-5 0 5 0-6-1-1-1 3 0-4 0 1-1 7-2-1-1-1-3 1-2-1-2 2-1 0-2-7-1 0-4-2-2 8-1-6-10 0-8 13 2-3 3 5 0 0 1-5 11-1 1 2 5 1 2 2 0-2 2 5 0-5 2-4 0 8 0-5 1-3 1 5 1 2 2-7 1 9 0-8 0 6 3 0 0-6 2-1 0 9 3-4 0-1 1 4 0-4 1 3 141-6 0 3 1-3 0 0 1 2 2 4 4 1 0-3 0-1 4-2 4 7 0-5 6 3-8 9-1-4-3 4-3-2-4 3-1-1 0-6-1 1 0 4-3 0-1-3-1 1-1 5-2-2-1-6 0 3-1 5 0-6-3 5 0-7 0 9-1-5 0 1-1-2-2 6 0-5-1 0-1 3-1-1-117 0-2 3 0 0 0 0-1-3 0-4-1 3-1-3 0-1 0 5-1-2-1 3 0-6 0 2-1 3-2 2-1-5 0 4-1-7 0 0-2 3-1 5 0 1-3-5-1-3 0-1-1 5 0-3-5 1 0 2-2-1-1 4-1 0-1-4-1 2-1-4-4 6 0-1-2-3-6-3-13 10 10 7 4-8 6 9 1-8 3 3 1-1 4 2 3 4 0-2 0 0 3-4 3 1 4-4 0 5 0 3 0-3 1 4 0-8 2 3 1-3 0 6 1-3 2-3 1 3 0 3 0 2 1-5 2-4 1 2 0-2 0 6 0-6 1 2 113 7 2-7 1 4 2-2 1 5 2-4 6-3 2 1 2-1 2 7 17-9 4 0 0 1 1 3-19 6-7 4-6 0-5 0-6 0-2 1 0 0-104 4-2 0-4-4-1-3-2 3-1 1-1-6-2 1-2 3-2 0 0-2 0 6-1-3-1-5-1 2-1 4-2 3-1-6-4 5-2-4-2-1-2 0-2 0-2 2-3-5-2 4-7 2-4-6-10 12 21 2 7-1 0-2 8-1 13 2 25 1" fill="none" marker-start="url(#m2)" marker-mid="url(#m2)" marker-end="url(#m2)"/>
<path transform="scale(.5)" d="M62 8l15-5 4-1 5-1 4 6 2-2 1 3 0-1 3-5 1 2 2 3 1 1 2-3 0-3 0 2 1 3 1 0 0-2 1 3 0-3 2 1 1-1 0-5 1 6 1 0 0 2 0-2 0 0 1-1 2 1 0-2 2 4 0-6 1 4 0-3 0 3 0 1 1 0 3-4 0 1 2-2 0 2-7 6-1 2-1 2-2 3-1-7-1 9 0 0-1-2 0 2 0-1 0 1 0-9-1 5 0-5 0 0-1 0 0 8-2-4-1 4-2 1 0-7 0 0 0 1-1 3 0-3-1 2-1 2-2 1-1-5-1 4-2 1 0-6-2-1-1 7-1 0-1-7-1 2 0-1-1 5-2-3-1 5 0-2 0 0-3-2-4 3-1 0-2 1-4-3-1-1-3 2-15-4-5 12 12 2 3-3 4-4 2 6 3 1 1 2 3-2 1-6 3 6 0 1 2-5 1 0 1 0 0 3 1-2 2 0 0 1 1 2 1-3 1 5 0-2 0 0 1 0 1 0 0-7 1 3 1-3 0 2 0 2 1 5 1-4 0 3 2-2 0 0 0-2 0 0 1 0 0 5 0-7 0 1 1 3 1-3 0-2 0 4 0 0 1-2 0 0 2-2 3-1 5 0-13 11-1 1-1-2 0 2-1-1 0 0-2 4 0-4 0 4 0-3-2-2 0 9 0-6 0 4-1-3 0 4 0-5 0 4-1-5 0 5-2-4-1 1-1-2-1-2 0 4 0 3 0-2-1-1-1 1 0 3 0-8-1 3 0 3-1 3 0-3-1 1 0-6-1 5 0-6 0 6-1-1-1-4-3 8-2 0-1 0 0-6-1-3 0 3-1-3 0 8-1-4-2 4-1-8-5 5-4-1-1 5-2-8-8 4-3-1-38 13 46-5 8 2 4-1 1-3 1 4 1 4 3-3 2-3 0 3 0-3 1 3 3-4 1 3 0 0 2 3 1-4 0 1 1 4 2-7 0 2 0 3 1 0 1 3 0-9 0 0 0 5 2 4 0-6 0 5 0-4 2 0 0-2 1 3 0-5 1 3 1-3 125 7 1-1 2 1 0-2 0-1 0 5 1-1 1 3 0 6-1-7 0 2 0 0-1 0 0 3 0 2-1 2-1-7 0 6-1-6 0 6-125 1-1 0-1-2-1-6 0 7-1-3 0-4 0-1 0 6 0-4-1 4 0 2-1-8 0 1-1 5 0-4-1 0 0 3-1-1-1-3-1 2-1 0 0 3-2 2 0-5-2 4 0-5 0 4-1-2 0 3 0 2-1-6 0 0-3-1-1 3-3 1-1 1-1 0 0-7-5 9-2-4 0 2-1 2-4-6-3-3-4 9-1-7-2 1-19 12 7 3 8-1 3-6 3 8 2-9 15 1 2 3 1 0 1-4 1 6 0-5 3 4 0-5 1 7 1-5 1 0 0 6 1-3 0 4 1 0 0-4 1 1 1 2 0-8 2 9 0-7 1 4 0-6 0 1 1 5 0-3 0 2 1 1 1-2 0 2 0-4 2 7 1-9 0 4 1-2 0 2 0-1 1 1 1-4 0 6 1 0 1-2 0-4-6 19-2-9-1 1 0 5 0-1-1 3 0-3 0 3-1-6 0 5 0-1 0-1 0 1-1 2-1-7 0 1-1 3-1-4-3 1-1 1-1 0-1-1-2 7 0-7-1 1-1 5 0-5-3 4 0 1-1-5 0-2-2 2-3-3 0 4 0 5 0-1-1 0-1-5-1 5-16-3-26 14 14-1 2-8 1 4 16-3 9-1 1 3 1-1 1 1 2 6 1 0 2-7 0 6 0-8 1 5 2-2 2 6 0-8 0 3 1 0 1 1 1 1 0-4 0 7 0-4 0-1 1-1 0 6 0-7 0 7 1-7 0 7 0-7 2 2 0 3 2-1 1-4 0 2 1-3 0 3 1-1 0 0 1-3 2 1 1-1 1 1 0-1 2 1 135 18-9 0-136-8 0 3 0-1-1 0 0 3 0-2-1-4 0 1-2 7 0-5-1-2-1 1 0 4-1-1 0 4-1-7-1 1 0-2 0 6-5-3-2 2 0-1 0-1 0 1-1 3-2-4 0 1-1 0-1 2 0 1-2 0-1-6 0 3-11-1-6-2-6 13 10 0 1-5 2 1 7 0 2 6 2-4 1 5 4 0 0-8 3 5 0-5 0 3 1 6 1-5 1-1 0 2 0-5 1 5 2-3 1 6 0-1 1-1 2-2 1 2 1-6 0 0 0 2 1-2 0 1 0-1 1 4 1 0 1 0 0 0 1-4 0 3 0-1 1 1 0 2 1-2-3 9-1-2 0 1-1 0 0 0-2 1 0 0 0-2-3 4 0-2-1 3 0 2-1-1 0-1 0 1 0-5 0 7-1-3 0-3 0-1-1 1-3 4-1-4 0 5 0 0-1-2-3 3-1-2 0-1-1-3-1 4-1-3-1-1 0 6-1 0-2-7-11 4-22-3 9 10 13 2 2 5 1-1 1-1 2-2 5 1 0-3 0 0 1 0 0 0 1 3 5 3 1-1 1-6 0 7 2-8 1 7 1-1 0-2 1 4 1-8 0 1 1 5 1 1 2-1 1-2 0 0 0 0 1-3 1-2 136 9-1 3-1-1-140 2-2 2 0-5 0 5-2-4-2 4 0-5-1 7-3-7-1 3-3 2-2-2-1 2-1 1-1-1-1 4-3-7 0 2-3-2-2 3 0 1-2-6-1 6-1 0-17 2 11 6 4 5 6-4 6 1 12-1 155-5-23 12-128 3-1-1-8 2-3-4-7 0-1 1-12 3-1-3 1 9 10-1 2 0 6 0 14 7 2-4 115-3" fill="none" marker-start="url(#m3)" marker-mid="url(#m3)" marker-end="url(#m3)"/>
<path transform="scale(.5)" d="M84 9l26-6 6-2 1 3-8 8 0 0-2 1-1-1-5-1-4 2-3-2-1 0-3 0-17 1-19 9 17 2 3 5 7-4 0 2 1 2 6-4 2-3 3-1 8 1 5 0-12 12-1 0-7-1-2 1-2 1-1-3-1 4-1-5-23 8-11 0-7 8 34-3 3 5 4-3 2 1 4-1 129-1 0-1 2 12 0-3-1 7 0-4-1-1 0 0-2-2 0 3 0 2 0 2-2-5 0 4-124 0-1-3-1 4-1-7-2 3-1 2-2-7-7 1-7 6-9-5 3 14 4-1 3-1 1 2 6-1 2 0 3-2 1 3 1-6 1 3 1 1 1-3 1 0 1-1 0 0 1 2 0 2 3 0 0 0 125-2-135 17-1-2-1 0-2 2-2-6-2 0-3-2 0 2-4 6-2-6-9 5-9-4 5 9 5 3 4-5 1 2 1-2 0 3 6-4 1 9 3-5 2 0 3-3 2 1 2-2 135 19-1-7-141 4-1 1-2 1 0-3-1 1-1 3 0-4-12-3-7 3-1 0-4-3-21 12 13-3 10 1 9-2 2 0 2 2 1 2 4-2 1-1 1 0 1 6 0-4 1-2 0 7 1 0 3-3 0 1 1-2 2 4 1-5 1 2 130 2 0-7 2 4 0-3 1 0 1 5 0-3 2 5 1-6 2-1-1 18-1-9 0 3 0-1-3 2-1-1 0 0 0 3 0 1-1 2 0-3-1-6 0 2-1 6 0 0-137-7 0 0-1 7 0-8-1 9-1-5-1 4 0-7-1 5-2-4-1 2-2 1-2-4-1 5-1-6-3 5-2 3-23 7 7-4 1 0 2 5 11-6 4 8 3-3 0 2 2-7 0 1 5 0 1 0 0 4 1-3 0 0 1 4 1-1 1-4 139 5 0 3 0-2 1 1 2 1 0-8 2 8 0-6 1 4 2 2 0-3 0-2 0-1 0-1 1 7 2-5-2 7-1 1-3-2 0 5-4-3-1 6-1-5-1 2-2 1 0-4-2 4 0 0 0 0 0-5-2 7-3-4-1 3-134-7 0 1-4 3 0 0-2 1-6-2 0 0-2 5-4-6-1 2-4 5 0-5-3 2-10 3 10 2 5 7 2-1 2-7 7 1 1 2 0 4 1-5 140 6 1-2 1-1 0 4 0-5 2-1 0 5 1-5 1 6 1-7 1-2 1 2 4-2 3 8 4-5 3 14-1-2-2-2-6 0-1-3-3 1 0 2-1 0-1-1-1 1-2 3-1-5-4 0 0 1-2 3-1 3 0-4-2 5 0-7 0 1-1-2 0 2-1 3-1-1-1-3-1 4-2-1-3 2 0-1 0 3-118-3-1 1-1-3 0 2-1-4-1 5-2-5 0 7-2 0-1-9-2 7-1 2 0-9-1 4 0 5-2-9-1 9 0 0-2-8-4 1 0 2-5 4-2-1-6-1-1-1-9 5 11 0 1 9 5-8 5 3 0 4 0 1 4 0 1-4 5 2 1-3 1 0 0-3 1 2 2 6 0-4 1 3 0-5 1-2 3 8 0-3 1 3 0-6 1 1 0 3 0-7 3 0 109 9 3-6 0 2 1 3 0-4 0-2 2 5 0 2 2-1 0-6 0 4 0-1 1 0 0-5 0 5 0 1 1 0 0-3 2 3 2-4 0 6 4-7 3 7 1-5 1-1 6-1 5 5 0-2 1 1 4-3 1 7 1 0-15 3-2 3-9 0 0-2-1 1-2-4 0 8-1-7-1 8 0-9-1 2 0 3-3-5-1 8-2 0-1-2-1 2 0-2-1-2 0 1-1-5 0 0 0 3-1 3 0 1 0-6-1 3-1 3-1-1 0 2-2 1-1 0-1-2 0 0-1 1-2 0-1 1-95 0-2 0 0-2-3-2 0 3-1-8 0 8-1-4 0-4-1 0 0 3 0 4-2-6-1 4-1 1 0-2 0 0-4 4-1-6 0 6-1-6-1-1-1 1-3 7 0-2-1-2-2 1-2 3-2-2-1-3-1 4-5-2-6-3-5 9 6-2 7 4 1-2 0 6 2-4 2 0 0 5 0-5 1 5 8 0 1-7 3 0 0 3 1 4 1-9 4 5 1-2 0 5 2-3 0 4 1-9 1 6 0-3 2 2 2-3 0 0 0 6 1 1 0 0 1-3 0-5 1 3 1-3 1-1 0 8 0-6 1 1 1 5 1-6 0-2 0 3 0 5 1-5 1-1 2 3 0-3 0 0 0 4 1-3 1 1 1 5 1-1 2 0 2 1 6 0 3 0 2 0 2 0 10 0 1 0 0 0 9 0 3 0 1-1 2 1 1-1 3-1 2 1 2 1 0-2 0 0 1 2 6-4 1 1 1 1 2 0 3-6 0 5 1-5 0 1 1 0 0-1 3 0 2 0 0 2 0-1 2 5 0-2 0 1 0 0 1-5 0 4 3-4 0 1 2-1 3 6 0-5 1 0 0 2 2 0 1 1 7 4 5-8 3 4 0-2 1-3 3 2 1 10-12-2-11 1-1 5-13-6 0 3-3-3 0 2 0 0-1-1 0-1-3 0-1 0 0 2-2 0 0-1-2 4-12 2-2-2-2-1-3-2-1 2-1-3 0 2-3-2 0 2-3 4-1-7-1 2-1 1-1 6-1-2-1-7-2 3-1-2-2 0-1 7 0-3 0 2-3-5-1 1-3 2 0 1-2-5 0 8-1-5-2 4 0-3 0 0-5 1 0-6 0 4 0 1-1-5 0 8 0-5 0-3-4 6-1-2 0 2-2 1-1 1-1 0-2-7-1 4-1-4-1 1-3 1-11 1-3 1-2 0-1 1-1-3 0 0-1 6-2-3 0-1 0 4-6-1-4-8-3 0-16 0 18 17 7-3 5-1 2-2 1 4 5 2 4-7 3 5 0 3 1-8 3 0 3 3 3 2 9 3 0-6 11 1 5-2 1 8 2-7 1 4 1-4 1 2 14-2 5 0 25 1 4 4 5-7 16 0" fill="none" marker-start="url(#m4)" marker-mid="url(#m4)" marker-end="url(#m4)"/>
<path transform="scale(.5)" d="M109 9l-23 25-3 9 127 6 1-1 3-4 0 2 2 1 0 11-2-7 0 5-139 7 9-2 3 1-20 17-14 5 10-3 2 2 2 2 3-4 3-1 143 19 0-9-1 3 0 0-1 1-3-3 0 3-1-2-1 1-1 3 0 3-1-3 0-1-1 4 0-3-136-2-2-1-2 4-1 0-6 0-9 5 16-1 0 2 4 5 1 0 2-2 132-6 0 4 1-2 0 6 1-5 1 6 0-8 0 0 0 7 1-8 0 3 0-2 2 6 1-7 0 8 2-3 0 1 2-4 0 17-3-5 0 3-1 0-4-4-1-1-1 7 0-3 0-2 0-4-2 1 0 1-131-2-6 3-1 6-8-1-1-6-11 15 5 1 2-3 1 2 4-5 5 7 2-8 1-1 135 9 1-1 0 1 2-9 0 6 0 3 1-2 2 2 1-4 0 0 3 0 1 4 0-8 0 1 3 4 0 0 0 0 0-5 1 7 0 6-2 1 0-1 0-1-1 6 0-6-1 1-1 3 0-3-1-4-1 2 0 5-1-3-1-1-1-1-3 2-2-4-1 6 0-5 0 3 0-1-1 3 0-6-1 2-1 2 0 4 0-2-1-3-1 1 0-1-1 1-1 4 0-1 0-2-130-5-8 4-2 5-16-9-3 1 9 10 0 1 0 3 9-5 138 8 2-3 1-3 1-1 1 6 0-7 0 2 1 5 2-7 0 6 0 0 1-3 0 4 0 0 1 2 3-7 3 4 7-5 1 4-3 8-6 2-1-3-3 1-1 0 0 6-3-5-4 1 0 3-1-1-1-2 0-4 0 1-1-2-1 8 0-2 0-1-1-4-1 1 0 4-1 0 0-1-3-4 0-1-1 9-1-8-3 5-1-3-1 6-1 0-123-5 0 3-2-2-2 2-1-6-3 5-8-2-22 1 15 6 4 3 10 3 0-7 2 6 0 3 5-9 4 9 1-3 3-3 112 5 1-4 1-3 0 4 0-4 1 7 0-3 1-3 0 3 0-3 1 0 0-1 0-1 1 2 4 7 1-5 2 0 2 0 2 5 1-4 2-2 2-3 1 9 1-2 3-1 7-6 1 6 2-2-20 10-1 5-5-6-1-1-9-1-1 4 0-4-3 1-1 2-4 3-1 2-2-2-97 2-12-3-12-2-4 5 3 3 9 3 1 3 1-4 6 0 1-4 2 8 4 0 1 1 2-3 1 3 0-5 1-3 2 2 0 2 0 0 4 0 0-2 1 5 1 0 3-3 3 3 1 1 16 0 2 0 27-1 3 0 3-2 1 0 3 3 3-1 0-3 2-2 0 2 1-2 1 0 0-2 1 3 4 5 4-6 0 2 0 3 1-3 1-2 4 1 0 2 4-6 0 5 2 0 1-1 10-3 5 4 4 0-3 5-29 0-10 4-12-4-6 0-1 0-9 2-1 4-1 0-1-3-4 5-4-7-7 3-7-3-10 0-6 2-3 3-7-1-22 1" fill="none" marker-start="url(#m5)" marker-mid="url(#m5)" marker-end="url(#m5)"/>
<defs><path id="c211" d="M40.9 91.6l3.5 1.8 2.6-1.8 2.1-1 3.4 1 1.3 0.3 2.4-0.3-0.2-2.3 2.6-1.3 4.7-0.8 0.9-0.3 3.8-1.1 1.1-1.2-1.1-2.4 4.7 0.9 1.6-0.9 1-2.3 1.6-2.3 0.5-0.2 4.7-2.2 1.1-2.3 3.6-2.1 1.6-0.3 2.4-2.3-1.2-2.3 1.9-1.1 3.1-1.3 0.3-2.3 1.4-0.8 1.4-1.6-1.4-0.7-3.2-1.6-1.6-0.9-1.6-1.4 0-2.4-3.1-0.7-4.7 0.2-4.7 0.1-4.7-0.4-4.1 0.8 0 2.4-0.6 0.1-4.7 0.4-4.7 0.5-4.8 0.4-2.2 0.9-2.5 2.2-1.5 0.1-3.2 0.6-2.2 1.8-2.5 2.3 1 2.4-1 1.9-0.4 0.4-2.6 2.3-0.7 2.4-1 1.4-0.8 0.9 0.8 1.6 0.6 0.8 0.2 2.3 2.6 2.3-3.4 0.9-2 1.5 2 2.3 4.7-0.2 0.4 0.2 1.6 2.4z"/><path id="c212" d="M48 86.9l1.1 0.5 1.5-0.5 3.2-0.9 4.8-1.2 1.8-0.2 1.1-2.4 1.8-1.1 4.7-1.1 0.3-0.1 2-2.3 2.4-1.4 2-1 0.8-2.3 1.9-2.4 3.1-2.3 1.6-1.1 2.1-1.2 2.6-2.1 0.6-0.3-0.6-0.4-1-1.9 0.7-2.4-4.4-1.3-2.5-1-2.2-0.7-4.7-0.2-4.7-0.1-4.7 1-4.7 1.3-4.8 1-4.7 2.4-4.7 2.1-0.3 0.2 0.3 0.8 0.4 1.6-0.4 0.9-1 1.4-0.5 2.3-2.7 2.4 0.9 2.3 0 2.4 0.8 2.3 0.8 2.3 1.7 1.7 3 0.7z"/><path id="c213" d="M48.7 77.6l0.4 0.1 4.7 1 2.9-1.1 1.9-1.2 4.7 0.2 1.6-1.4 2-2.3 0.8-2.4 0.3-0.2 4.7-0.1 1.5-2 2.2-2.3 0.4-2.4 0.6-0.6 3.5-1.7-3.5-1.6-1.4-0.8-3.3-0.7-2 0.7-2.7 0.8-3.1-0.8-1.6-0.5-1.4 0.5-3.3 1.1-3.6 1.3-1.2 0.9-4.7 1.4-1.2 2.4 0.4 2.3-1.3 2.3 2.1 2 1.3 0.4-1.3 1-1.5 1.3z"/><path id="c214" d="M56.4 70.5l2.2 0.6 4.7 0.5 1.7-1.1 0.6-2.3 2.4-0.8 2.7-1.5-2.7-1.5-4.7-0.6-1-0.3-3.7-1.6-2 1.6-0.2 2.4-0.3 2.3z"/><path id="c215" d="M47.1 77.1l1.7 2.6 5.2 1.2 5.1-2.2 5.2 1.7 5.1-1.4 5.2 0.2 3.7-2.1 1.4-2.3 5.2-0.9 3-1.4 2.2-1.2 5.1-3.5-0.4-4.6 0.4-0.6 5.2-3.3 0.3-0.8 1-4.7 1.5-4.6 2.3-3.1 5.2 0 0.4-1.6 0-4.7 0.7-4.6-1.1-4.7-5.2 0-0.6-4.7 0.6-3.1 5.2 0 0.2-1.5 1.6-4.7-1.8-4.7-5.2 0 5.2 0 1.2-4.6 0.9-4.7 0-4.6-2.1-2-5.2 0-5.1 0.3-5.2 1.5-5.1-0.7-5.2 0.7-5.2-0.3-1.9 0.5 0 4.6-3.2 4.7-5.2-1.2-0.9 1.2-3.2 4.6-1 0.9-4.7 3.8 3.1 4.7-3.6 2.7-2 1.9-3.1 3.4-0.8 1.3-1.8 4.7-2.6 2-2.6 2.6 2.6 4.2 0.4 0.5-0.4 0.4-5.2 4.3 2.2 4.6-0.9 4.7-1.3 1.7-3.4 3 2.2 4.6 1.2 4.7z"/><path id="c216" d="M55.1 72.5l4 3 5.2 0.5 5.1-1.7 5.2 0.9 2.3-2.7 2.8-3.1 4.6-1.6 0.6-0.4 5.2-2.4 1.2-1.8-0.2-4.7 3-4.7 1.1-3.2 1-1.4 1.6-4.7 0.5-4.7-0.3-4.6-0.2-4.7 0.5-4.7 2.1-1.1 2.1-3.5 1.9-4.7-2.2-4.7-1.8-2.4-5.2-0.8-1.4-1.4-3.7-1.9-5.2-0.1-4.2 2-1 1.4-4.5 3.2-0.6 0.4-4.7 4.3-0.5 0.3-2.4 4.4-2.7 2.8-2.3 1.8 2.3 3.9 0.4 0.8-0.4 0.7-5.2 3.5-0.4 0.5-2.2 4.6-0.9 4.7 0.2 4.7-1.8 4.6-5.2 3.3-0.5 1.4 0.5 1.4 1.5 3.3-0.3 4.6 4 3.2z"/><path id="c217" d="M58.4 72.5l0.7 0.5 1.6-0.5-1.6-1.6zM62.2 67.8l2.1 1.8 5.1 0 4.3-1.8 0.9-0.8 5.1-2.2 2.3-1.6 2.9-3 1.2-1.7 4-4.3 0.3-0.4 0.5-4.6-0.8-1.6-1.4-3.1 1.4-3.1 1.4-1.6-1.4-2.3-1.6-2.3-0.6-4.7 2.2-3.5 0.7-1.2 4.4-4.6-5.1-1.2-1.7 1.2-3.5 4.3-5.2-3.1-2.5-1.2-2.6-1-1.2 1 1.2 1.4 2.4 3.2-2.4 3.3-3.1 1.4-2.1 0.5-3.1 4.2-1.7 4.6-0.3 0.8-1.5 3.9-2 4.7-1.7 2.8-0.4 1.8-4.7 4.1-0.7 0.6 0.7 1.5 5.1 1.4 0.5 1.8zM84.9 50.6l-1.5-1.4 1.5-1.2 3.4 1.2z"/><path id="c218" d="M62.8 63.2l1.5 1.9 5.1-1.6 0.5-0.3 3.2-4.7-3.7-4.7-3 4.7-2.1 2.8zM67.6 49.2l1.8 4.6 5.2-4.1 2.6-0.5-2-4.7 3.4-4.7 1.1-4.6-5.1-0.5-1.7 0.5-2 4.6 2.2 4.7-3.7 1.8zM84.3 44.5l0.6 0.3 0.3-0.3 0.9-4.7-1.2-1.3-3.2 1.3z"/><path id="c219" d="M38.3 85.8l5.6 0.9 2.8-0.9 2.8-0.5 5.5 0.1 5.6 0 5.6-1.4 5.6 0.4 5.6-1.8 3.1-1.4 2.4-1.1 4.1-3.5 1.5-1.6 3.5-3.1 2.1-2.7 2.8-1.9-1.2-4.6 0.4-4.7 3.1-4.6 0.5-1.8 2.8-2.8-2.8-3.5-0.3-1.2 0.3-0.5 2.9-4.1-1.2-4.6 0.7-4.6-2.4-3.8-1-0.9 1-4.6-3.8-4.6-1.8-4.7-5.6 0.3-0.3-0.3-4.7-4.6 0-4.6 0-4.7-0.6-0.2-0.4 0.2 0 4.7-1.4 4.6-3.7 1.8-3.4 2.8-2.2 1.9-5.6 1.2-1.4 1.6-4.2 2.7-1.4 1.9-2.4 4.6-1.8 3.8-5.5 0.9-2.4 4.6-3.2 2.9-2.5 1.7-3.1 2.9-0.8 1.7 0.8 1.8 5.6 2.9-5.6 2.9-1.3 1.7-3.8 4.6-0.5 2.4-0.3 2.3-3.4 4.6-1.9 1.7-1.4 2.9 1.4 3.3 0.9 1.4 1.9 4.6 2.8 3.1 5.6 1.5zM77.4 16.4zM99.2 7.1l0.5 1.1 0.3-1.1-0.3-0.5z"/><path id="c220" d="M38.6 81.2l5.3 2.7 5.6-1.2 5.5 0.2 5.6 0.1 5.6-1.8 5.6-0.6 5.6-2.1 3.5-1.9 2-3.9 0.7-0.8 4.5-4.6 0.4-0.8 1.5-3.8-1.5-3.9-0.2-0.8 0.2-0.5 5.6-3.5 0.5-0.6 1.1-4.6-1.3-4.7 1.3-4.6-1.2-4.6-0.4-0.5-4.2-4.1-0.6-4.7-0.8-2.3-1.2-2.3-4.4-2.2-5.5 1.5-1.2 0.7-4.4 3.9-2.8 0.7-2.3 4.7-0.5 0.6-5.6 2-5.6 0.3-2.2 1.7 2.2 2.4 1.1 2.2-1.1 4.6-5.5-1.3-1.3 1.3 0.7 4.7-4.1 4.6-0.9 1.6-2.6 3 2.6 2.6 0.5 2.1-0.5 0.8-5.6 3.8-4.9 4.6 4.9 3.3 0.9 1.4zM82.9 31.6l-2.3-1.3 2.3-2.5 4.1 2.5zM60.4 25.6l0.2 0.3 1.9-0.3-1.9-0.3z"/><path id="c221" d="M48.4 76.6l1.1 0.7 5.5 1.1 5.6 0.5 5.6-1.5 1.9-0.8 3.7-3.4 5.6-0.5 0.7-0.8 1.2-4.6 0.2-4.6 3.4-4.7 0-4.6-1.8-4.6 1.8-2 0.8-2.7-0.8-3-1.2-1.6-4.3-2-5.6-2-4.5 4 0 4.6-1.1 1.5-2.5-1.5-2.2-4.6-0.9-0.2-0.1 0.2-0.7 4.6-1.6 4.7-0.4 4.6-2.8 2.7-1.5 1.9-4 3.1-1.4 1.6-1.3 4.6-1.4 4.6zM77.4 46.3l-1.2-2.2 1.2-1.9 3.1 1.9z"/><path id="c222" d="M52.4 71.9l2.6 2.2 5.6-2.2-5.6-3.7zM60.6 71.9l5.6 2.4 2.6-2.4-1.3-4.6-1.3-2.3-4.5-2.3 4.5-1.4 1.6 1.4 4 2 2.5-2 1.7-4.7-2.9-4.6-0.5-4.6-0.8-2-1.1 2-3.4 4.6-1.1 0.5-5.6 1.6-2.8 2.5 1 4.7 1.8 4.6z"/><path id="c223" d="M43.1 69.7l4.5 1.9 6.4 2.2 6.3-2.6 4.6-1.5 1.8-0.7 6.4-1.2 3.9-2.3 1.2-4.2 1.2-2.8 1.6-1.4 4.8-2.1 2.3-2.1 3.3-4.3 0.8-2.8 0.7-1.4 2.6-4.2 0.1-4.2 2.7-4.2-1.1-4.2 0.7-4.3 0.6-0.8 4.2-3.4 2.2-2.9 6.4 0 0.6-1.3 0-4.2 0.5-4.2 0.3-4.3 0-4.2-1.4-0.9-6.4 0-6.4-1.3-6.3 0-6.4-0.5-6.4 0.8-6.3 0-6.4 0.9-6.4 1 0 4.2-2.6 4.3-3.7 3.7-6.4 0.5 0.3 4.2-0.3 0.4-3.6 3.8-2.4 4.2 0.3 4.3 2.2 4.2-2.9 1.7-3.9 2.5 2.7 4.2-5.1 3.8-0.4 0.4 0.4 2.1 0.2 2.1 3.6 4.3-3.1 4.2 0.4 4.2-1.1 0.6-3.4 3.6 3.4 2.5 6.3-1.3z"/><path id="c224" d="M53.1 61.3l0.9 1.4 1.6-1.4 4.7-0.7 6.4 0.7 6.4-3.4 0.5-0.8 3.7-4.2 2.1-1.5 3.4-2.8 3-3 1-1.2-0.1-4.2-0.9-2.8-0.2-1.4 0.2-0.2 5.4-4 1-2.1 0.5-2.1-0.3-4.3 3.7-4.2 0.5-4.2-0.1-4.2 2-2.9 1.6-1.3 0-4.3 0-4.2-1.6-0.3-6.3-0.2-6.4-0.9-5.9 1.4 0 4.2-0.5 0.3-6.3 0.2-6.4 2.3-2.4 1.5-4 3.9-0.2 0.3-3.9 4.2-1.6 4.2-0.6 1.8-2.2 2.4-2.5 4.3 0.9 4.2-2.6 2.4-2.8 1.8 2.8 3 0.7 1.2-0.7 2.8-6.4 1.1-0.5 0.3 0.5 4.2 2.9 4.3-1.7 4.2 5.2 1.8z"/><path id="c225" d="M58.9 57.1l1.4 0.3 1.1-0.3-1.1-4.2zM60.3 52.9l6.4 1.4 2-1.4 2.2-4.3 2.2-3 0.5-1.2-0.5-2.1-0.6-2.1 0.6-0.3 6.3-2 1.1-1.9-1.1-1.2-3-3 3-3.7 0.9-0.5 5.5-3.7 0.4-0.6 2.1-4.2 1.3-4.2 1.7-4.2-1.4-4.2-4.1-2.7-6.4 2.3-1.3 0.4-5 3.3-6.4-1.1-2.5 2-0.1 4.2-3.8 4.2-2.6 4.2-0.8 4.3 3.4 2.8 1.6 1.4-1.6 1.7-3.2 2.5-3.1 3.8-0.2 0.4-1.3 4.2 0.6 4.2 0.9 0.7 6.3 3.6z"/><path id="c226" d="M69.5 36l3.6 0.7 1.5-0.7-1.5-1.9zM62.4 27.6l4.3 4.2 6.4-3.2 0.5-1 0.1-4.3 5.7-2.9 2.3-1.3-2.3-3.4-6.3 0.9-6.4 2.5-4.5 4.2zM78.3 10.7l1.1 2.8 1.9-2.8-1.9-0.8z"/><path id="c227" d="M37.2 91.4l3.8 3 5.8 0.2 5.9-0.2 5.8-0.4 5.8-0.8 3.3-1.8 2.6-1.3 5.8 1.3 5.8-3.9 1.6-1.3 2.6-5.2 0.9-5.2 0.8-1.3 5.8-3.9 1.8-5.3-1.8-4.4-0.4-0.8 0.4-0.6 2-4.6 1.1-5.2 0.8-5.2-0.7-5.2 2.7-2.4 3.5-2.8-1.5-5.3-2-4.3-0.5-0.9 0.5-1 2.1-4.2-0.8-5.2-1.3-2.6-3.5-2.6 3.5-5.2 0-5.2-5.9-0.8-2.3 0.8 0 5.2-3.5 1.2-5.9 0.5-5.8-0.2-5.1 3.7-0.7 1.5-5.9 0.6-4.7 3.1-1.1 5.2-5.8 4.2-1.7 1-0.5 5.2-2.8 5.3-0.9 2-1.9 3.2-0.3 5.2-3.6 3.7-1.4 1.5-1.1 5.2-3.4 5.2-1.1 5.2-1.8 5.3 1.5 5.2-4.4 5.2-1.8 5.2 1.8 2.8 5.8 1.2z"/><path id="c228" d="M36.6 86.2l4.4 2 5.8 3 5.9-0.3 5.8-0.3 5.8-1.2 5.9-2.7 1.1-0.5 4.7-2 3.7-3.2 2.1-3.4 1.2-1.8 2.6-5.2 2.1-3.3 1.4-2-1.4-2-1.7-3.2 0.2-5.2 1.5-3.5 1.9-1.7 0.6-5.2-0.5-5.2 1.7-5.2-0.3-5.3-3.4-3.3-1.8-1.9-0.7-5.2 2.5-2.6 1.2-2.6-1.2-3.1-3.5 3.1-2.4 1.7-5.8 2.6-5.8-0.5-2.7 1.4-3.2 2.4-5.8 2.4-0.6 0.4 0.6 5.2 0.2 5.3-0.2 0.2-1.5-0.2-4.3-0.8-0.7 0.8 0.3 5.2 0.4 1.7 0.9 3.5-0.9 0.7-4 4.5-1.9 2.2-1.9 3 1.9 2.8 1.2 2.4-1.2 1.3-4.4 3.9-1.4 3.4-1.3 1.9-1.3 5.2-2.1 5.2z"/><path id="c229" d="M48.8 86.2l3.9 1.7 5.8-0.1 3.4-1.6 2.4-2 5.9-3.2 5.8-3.7 0.9-1.5 2.6-5.2 1.7-5.3-3.5-5.2 4.1-4.7 0.2-0.5-0.2-0.3-5.8-3.2-5.8-1.7 5.8-0.7 5.8-1.9 2.5-2.6-2.5-3.1-1.7-2.1-0.6-5.2 2.3-1.1 2.1-4.2-2.1-2.2-4.6 2.2-1.2 2.1-2.2 3.2-3.6 1.3-5.5 3.9-0.4 0.4-2.1 4.8 0.3 5.2-3.1 5.2-0.9 0.6-3.9-0.6-1.9-0.3-0.3 0.3 0.3 5.2-4.8 5.2 1.3 5.3-2.4 2.9-3 2.3 0.8 5.2 2.2 3.2z"/><path id="c230" d="M52.3 75.8l0.4 5.2 5.8-1.4 5.8-3.8 5.9-4.8 1.1-0.4-1.1-0.8-4.4-4.5 4.4-2.5 1.9-2.7-1.9-1.8-5.9 0-2.4 1.8 0.5 5.2-3.9 3.3-3.2 2-2.6 4.1zM51.9 65.3l0.8 3.2 2.5-3.2-2.5-0.8z"/><path id="c231" d="M51.2 86.7l3.8 2.2 5.1-1.8 5 0.3 1.7-0.7 3.4-0.9 5-0.5 4.7-3.6 0.4-0.2 5.1-0.3 3.1-4.4 1.9-1.4 5.1-1.9 1.2-1.6-0.7-5 4.5-2.4 1.9-2.5-0.1-4.9-0.4-5 1.2-4.9 0-5-0.9-4.9-1.7-2-0.6-2.9 0.6-5 1.2-4.9-1.2-1.4-3 1.4-2 0.8-0.6-0.8-4.5-3.4-3.9-1.5 1.4-5-2.5-0.6-1.1 0.6-0.6 5-3.4 2.1-5.1 0.8-5 0.8-1.7 1.2-3.4 4.9-3.1 5-1.9 2.1-2.3 2.8-2.8 3.5-0.6 1.4-2.5 5-1.9 1.7-3 3.2-0.2 5-1.9 4.9-4.1 4.9-1 0.6-4.7 4.4 2.1 4.9 0.8 4.9 1.8 2.4 5.1-0.2 5.1 2.3z"/><path id="c232" d="M48.6 81.7l1.4 1 5 1.5 5.1-1 5-1.2 5.1 0.3 5-0.6 5.1-3.4 3.3-1.5 1.8-0.7 5-3.8 0.7-0.4 1.9-5 1.4-4.9 0.8-4.9-1.7-5 2-4.3 0.6-0.6-0.6-1.3-1.4-3.7-3.7-4-2.5-0.9 0-4.9-2.5-1.7-5.1-2.1-4 3.8-1.1 0.5-5 1.2-5.1 2.1-1 1.1-1.5 4.9 0.8 5-3.3 1.3-3.7 3.6-1.1 5-0.3 0.2-5 2.4-1.1 2.3-0.5 4.9-3.2 5-0.3 1.9-0.8 3 0.8 0.7z"/><path id="c233" d="M57.2 76.8l2.9 0.9 5 0.6 5.1-0.8 1.3-0.7 3.7-2 5.1-2.3 1.6-0.6 2.9-5-0.4-4.9 1-2.8 2.7-2.1-1.3-5-1.4-2.5-5.1-2.4-5.1-2.5-2.5 2.5-2.5 2.1-5.1 2.7-0.2 0.1-3.8 5-1 0.5-5.1 4-0.4 0.4 0.4 1 2.1 3.9-2.1 3.1-2.3 1.9 2.3 3.1z"/><path id="c234" d="M59.6 71.9l0.5 0.4 1.8-0.4-1.8-0.7zM68.3 71.9l1.9 0.4 0.9-0.4 0.5-5 2.1-4.9-3.5-3.3-5.1 3-0.5 0.3-1.6 4.9 2.1 3.6z"/></defs>
<g fill-rule="evenodd"><use href="#c211" fill="#fff"/><use href="#c212" fill="#8000ff" fill-opacity="0.15"/><use href="#c213" fill="#8000ff" fill-opacity="0.15"/><use href="#c214" fill="#8000ff" fill-opacity="0.15"/><use href="#c215" fill="#fff"/><use href="#c216" fill="#1996f3" fill-opacity="0.15"/><use href="#c217" fill="#1996f3" fill-opacity="0.15"/><use href="#c218" fill="#1996f3" fill-opacity="0.15"/><use href="#c219" fill="#fff"/><use href="#c220" fill="#4df3ce" fill-opacity="0.15"/><use href="#c221" fill="#4df3ce" fill-opacity="0.15"/><use href="#c222" fill="#4df3ce" fill-opacity="0.15"/><use href="#c223" fill="#fff"/><use href="#c224" fill="#b2f396" fill-opacity="0.15"/><use href="#c225" fill="#b2f396" fill-opacity="0.15"/><use href="#c226" fill="#b2f396" fill-opacity="0.15"/><use href="#c227" fill="#fff"/><use href="#c228" fill="#ff964f" fill-opacity="0.15"/><use href="#c229" fill="#ff964f" fill-opacity="0.15"/><use href="#c230" fill="#ff964f" fill-opacity="0.15"/><use href="#c231" fill="#fff"/><use href="#c232" fill="#ff0000" fill-opacity="0.15"/><use href="#c233" fill="#ff0000" fill-opacity="0.15"/><use href="#c234" fill="#ff0000" fill-opacity="0.15"/></g>
<g fill="none" stroke-width="1.20" stroke-linejoin="round"><g stroke="#8000ff"><use href="#c211"/><use href="#c212"/><use href="#c213"/><use href="#c214"/></g><g stroke="#1996f3"><use href="#c215"/><use href="#c216"/><use href="#c217"/><use href="#c218"/></g><g stroke="#4df3ce"><use href="#c219"/><use href="#c220"/><use href="#c221"/><use href="#c222"/></g><g stroke="#b2f396"><use href="#c223"/><use href="#c224"/><use href="#c225"/><use href="#c226"/></g><g stroke="#ff964f"><use href="#c227"/><use href="#c228"/><use href="#c229"/><use href="#c230"/></g><g stroke="#ff0000"><use href="#c231"/><use href="#c232"/><use href="#c233"/><use href="#c234"/></g></g>
</svg>
<svg x="495.54" y="455.55" width="108.00" height="108.00" viewBox="0 0 108.00 108.00">
<path d="M8.2 108L8.2 105.9 10.5 105.9 10.5 103.5 12.9 103.5 12.9 99.6 15.2 99.6 15.2 94.3 17.6 94.3 17.6 90.9 19.9 90.9 19.9 84.1 22.2 84.1 22.2 75.6 24.6 75.6 24.6 74 26.9 74 26.9 66.4 29.3 66.4 29.3 57 31.6 57 31.6 50.1 33.9 50.1 33.9 46.7 36.3 46.7 36.3 33.5 38.6 33.5 38.6 30.4 41 30.4 41 25.9 43.3 25.9 43.3 26 45.6 26 45.6 32.1 48 32.1 48 50.4 50.3 50.4 50.3 69.4 52.7 69.4 52.7 87.4 55 87.4 55 108" fill="none" stroke="#8000ff" stroke-width="1.20" stroke-linejoin="miter"/>
<path d="M14.5 108L14.5 104.7 19.2 104.7 19.2 99.7 23.9 99.7 23.9 93.8 28.5 93.8 28.5 83 33.2 83 33.2 70.3 37.9 70.3 37.9 59.6 42.5 59.6 42.5 47.7 47.2 47.7 47.2 45.4 51.8 45.4 51.8 46.3 56.5 46.3 56.5 47.1 61.2 47.1 61.2 48.5 65.8 48.5 65.8 46 70.5 46 70.5 52.3 75.2 52.3 75.2 61.5 79.8 61.5 79.8 61.9 84.5 61.9 84.5 64.6 89.2 64.6 89.2 67.7 93.8 67.7 93.8 73.7 98.5 73.7 98.5 80.4 103.1 80.4 103.1 88.1 107.8 88.1 107.8 108" fill="none" stroke="#1996f3" stroke-width="1.20" stroke-linejoin="miter"/>
<path d="M15.2 108L15.2 105.5 19.8 105.5 19.8 92.2 24.5 92.2 24.5 73.9 29.1 73.9 29.1 57.6 33.7 57.6 33.7 44.3 38.4 44.3 38.4 45.6 43 45.6 43 47.8 47.6 47.8 47.6 47.4 52.3 47.4 52.3 51.8 56.9 51.8 56.9 55.8 61.5 55.8 61.5 59.7 66.2 59.7 66.2 60.7 70.8 60.7 70.8 69.1 75.4 69.1 75.4 78 80.1 78 80.1 80.5 84.7 80.5 84.7 85.3 89.3 85.3 89.3 90.6 94 90.6 94 91.9 98.6 91.9 98.6 98 103.2 98 103.2 100.3 107.9 100.3 107.9 108" fill="none" stroke="#4df3ce" stroke-width="1.20" stroke-linejoin="miter"/>
<path d="M23.5 108L23.5 105.6 27.7 105.6 27.7 102.2 31.9 102.2 31.9 97.2 36.2 97.2 36.2 82.4 40.4 82.4 40.4 73.3 44.6 73.3 44.6 73.9 48.8 73.9 48.8 59.7 53 59.7 53 54.7 57.2 54.7 57.2 44.7 61.5 44.7 61.5 43.5 65.7 43.5 65.7 44.8 69.9 44.8 69.9 40.7 74.1 40.7 74.1 45.9 78.3 45.9 78.3 38 82.6 38 82.6 38.5 86.8 38.5 86.8 35.6 91 35.6 91 40.9 95.2 40.9 95.2 44.9 99.4 44.9 99.4 56.2 103.6 56.2 103.6 67.6 107.9 67.6 107.9 108" fill="none" stroke="#b2f396" stroke-width="1.20" stroke-linejoin="miter"/>
<path d="M3.6 108L3.6 104.9 8.8 104.9 8.8 97.5 14 97.5 14 79 19.2 79 19.2 52.1 24.4 52.1 24.4 38.9 29.6 38.9 29.6 31 34.8 31 34.8 29.2 40.1 29.2 40.1 29.5 45.3 29.5 45.3 38.1 50.5 38.1 50.5 45.4 55.7 45.4 55.7 50.8 60.9 50.8 60.9 50.3 66.1 50.3 66.1 50.2 71.3 50.2 71.3 52.6 76.5 52.6 76.5 58.1 81.8 58.1 81.8 66.3 87 66.3 87 74.3 92.2 74.3 92.2 78.4 97.4 78.4 97.4 86.8 102.6 86.8 102.6 93 107.8 93 107.8 108" fill="none" stroke="#ff964f" stroke-width="1.20" stroke-linejoin="miter"/>
<path d="M9 108L9 105.4 13.9 105.4 13.9 98.1 18.8 98.1 18.8 89.9 23.8 89.9 23.8 68.3 28.7 68.3 28.7 39.6 33.7 39.6 33.7 10.3 38.6 10.3 38.6 13.6 43.5 13.6 43.5 10.5 48.5 10.5 48.5 22.3 53.4 22.3 53.4 36.2 58.4 36.2 58.4 48.1 63.3 48.1 63.3 57.9 68.2 57.9 68.2 65 73.2 65 73.2 74 78.1 74 78.1 81.5 83 81.5 83 85.8 88 85.8 88 94 92.9 94 92.9 96.3 97.9 96.3 97.9 102.6 102.8 102.6 102.8 103.9 107.7 103.9 107.7 108" fill="none" stroke="#ff0000" stroke-width="1.20" stroke-linejoin="miter"/>
</svg>
<svg x="41.54" y="569.05" width="108.00" height="108.00" viewBox="0 0 108.00 108.00">
<path transform="scale(.5)" d="M132 98l-77 10 3-1 7 0 67-5 1 1 0-1 2-1 4 2 1 0 3 1 0 1 2-5 0 9 2-2 1 2 1-1 3 1 1-3 2-3 3 0 0 16-2-7-2 7 0-9-2 5 0 2-1 2 0 0-1 0 0-5-1 4-1-7 0 6-1-5-2-2-83 5-13-2 5 7 11 3 1 3 1-5 85 1 1 2 1-2 3 5 0-7 1 2 4 8 0 2-5 7-1-7-1-2-90 6-4 6 2 1 3 3 89-6 2 8 0-4 4-3 0 6-4 3-98 1-3 11 105 6 19-1-14 6 0 0 0-3-8 18" fill="none" marker-start="url(#m0)" marker-mid="url(#m0)" marker-end="url(#m0)"/>
<path transform="scale(.5)" d="M49 85l14 1 2-2 4 3 0 2 1 0 1-7 2 7 2-3 59 3 10 9-6-3-4 3 0-7-60-1-1 8 0-1 0 0-1-2 0-4 0 1-1 0 0 6 0 0 0 1-1-2 0-2 0 1 0-3 0 5-1-2-1-1 0 3 0 1 0 0 0-2-2-5 0 2 0 5-1-9 0 6 0-2-1 5-2-1 0-1-1 1-2-3 0 3-1 1-1-4-2 2-2 0-1-2-1 1 0 2-1-7 0 2 0 2-4 3-3 1-4-8-6 5-22 0 26 10 6 3 4-5 0 2 5 1 1-3 0 4 2-1 1-1 0 3 1-2 0-4 1-3 1 1 0 3 1-2 1 2 1 4 2-7 0 8 0-2 0-3 0 2 1-2 0 2 0 1 0-6 1 5 0 1 0 2 0-8 1 3 0 3 0-2 0 0 0 1 0 0 1 0 0-4 0 7 0-1 1-7 0 5 0 0 1-1 0-1 0-2 0 5 0-6 1 3 0-4 0 0 0 2 0-1 1 2 0-1 0 2 1-4 65 0 0 2 3 4 1-5 15 15-89-5-1 1 0-1-1 3 0 5-1-3 0-3 0 6 0-7 0 0 0 6-1 1 0-9 0 8-1-4-1 3 0-6 0 5 0-2 0 4 0 0 0-1 0-1-1 2 0-2 0 0 0 0 0-4 0-1-1 4 0-2 0-1 0-2 0 1-1 4 0-5-1 6 0 3 0-3-1 0 0-2 0 0 0 1-1-5 0 2 0-2 0 0 0 6-1-1 0 1 0 3 0 0-2-4-2 2-1-2-2 1-1-3-1 3-1 0-1 2-1-4 0 3-19 3 7 6 5 2 1-2 4-5 1 5 2-4 2 6 2-2 0-1 2-1 1 4 1-8 0 6 2-4 0-2 0 3 1 0 0-3 1 5 0 4 0-1 0-5 0 6 1-3 1-3 0-3 0 0 1 9 1-1 1-8 0 0 0 7 1 1 0 1 0-4 1 0 0-2 0 1 1 3 0-7 0 1 0 7 2-7 0 1 0-2 0 4 1 0 0 0 91 8-3 3-89 1 0 3 0-2 0 2-1 0-1-2 0 1 0-2-1-4-1 2 0-2 0-2 0 4 0 3-1 1 0 0 0-3 0-4 0 0 0 4 0-2 0 3-1 1 0 0 0 2 0-8 0 5-1-1-1 0 0-3-1 3 0-3 0 2 0-2 0 4-1-6 0 9-1-8 0 6-2-2 0-5-1 0-2 8-1 1-1-8 0 4-1-5-1 5-2-5 0 5-2 2-2-6 6 17 0-4 0-3 0 0 1 5 1 3 1-2 2-5 2 2 0 3 0 1 0-7 0 6 1-4 0 3 1-1 1 0 1 1 0-3 0 3 1-6 0 2 0 0 1 4 1 2 0-5 0 3 1 3 0-8 0 5 0-6 0 8 0-2 0-4 1-1 0 2 0 6 0-5 0 0 1-1 0-1 0 2 0 2 1-2 0-1 0 3 1-1 0 0 1 4 0-1 0-1 0-7 94 7 6-2-5 6-94 4 0-2 0 4-1-5 0 7 0-4-1-5 0 6 0-5 0-1 0 5-1 3-1-1 0-6 0 0 0 0 0 4-1-1 0-3 0-1 0 1 0 7-1-5 0 5 0-3-1-4-1 1 0 2 0-3 0 1-1 7 0-1 0 0-2-2 0 3 0-6-2 1 0 1 0-1-2 5-1-5 0 5-1-8 0 8-1-3-3-2-5-1-2 6-3-1-3 3 5 3 11 4 3-8 3 6 1 1 0-1 1 1 0-5 0 4 1-5 0 8 2-4 0-4 0 3 1-4 0 7 0 1 0-8 1 4 0 2 0-4 1 7 0-3 0-1 0-4 1-1 0 3 1-1 0 7 0-6 0-3 0 5 0-4 0 5 1-6 0 4 0 3 1-4 0 2 0-4 0 3 0-4-2 10 0 0-1 4-1-1 0-2 0 0 0 5 0 2 0 1 0-3-1 3 0-8 0 0 0 3 0 0-1 5 0 0 0-4 0-3-1-2 0 0 0 7 0-6-1 2-1-1 0 7 0-9-1 8-1-2-1 1 0 0 0-4-2 1-3 0 0 5-1-2-3-3 0-1-15 12 9 2 5-1 2-4 2 0 2-2 2 0 0 4 2 1 0-1 0 4 1-7 0 1 1 2 1 5 0 0 0-8 0 2 1 1 1 4 0-3 0 0 0-1 1-4 0 5 1 2 1-3 0 0 0-1 1 3 0-3 0 3 0 0 0-6 1 8 0 1 0-7 1 4 108 12-16 0-89 0-1 1-3-1 0 1 0 0-1-8-1 6-1-2-1 0 0-3-1 7 0-1 0-8-1 9 0-5-1 0-4 0-3-2-1 4-1-4-2 1-2 1-2-2-2 5-3-4-5 5 9 7 7-2 2 3 0-1 2-3 3 7 1-6 1 3 3 2 1-5 0-3 0 5 2-2 0 6 0-9 0 0 0 9 2-9 0 5 0-4 0 5 1 0 0 3 1-6 0 0 0 1 1-1 1 1 0 5 0-4 0-4 1 5 0 1 0-1 0-6 0 2 1 3 0-2 1 1 0-3 0 1 0 3 0 0 0-3 0 7 1 0 0 0 82-5 2 5 21 5-13-3-92 1 0 3-1-4 0 4-1-2 0 1 0-4-1 2-1-2-1 1-1-1-1 1-1 4-1-4 0 3-1-2-2-1-1 4-1 0-2-1-5-2-2 1-14 2" fill="none" marker-start="url(#m1)" marker-mid="url(#m1)" marker-end="url(#m1)"/>
<path transform="scale(.5)" d="M142 99l0-1-7 0-82-2-3 4 12 8 69-6 3 0 3 2 2 1 1-4 0 4 0-2 2 3 0-6 2 8 2-2 0 0 1-4 0 4 1 3 1 0 2-1 0-1 1-1 1 2 2-4 3 0 6-1 2 3 0-1 15-5-9 15-9 4-2 0 0-1-1 1 0-4-1 4 0-1 0-4 0-1-2 6 0-6 0 3-2-1 0-5-1 1 0 4-1 0-1 2 0-7 0 8 0-3 0-4-1-1 0 8 0-1 0 0-1-1 0-3 0-1 0 5-1-1 0-2-1 3 0-4 0 6-2-8-124 3 34 11 8-1 86-4 1 2 2 3 1-3 0 3 0 2 0-1 1 1 0-7 1 9 0-7 1 6 0-5 0 2 1-3 0-2 0 7 0-1 1-3 0-3 0 3 1 4 0 0 1-5 1-1 1 4 1-1 0 3 0-4 1 3 0 1 0-2 1-1 1 1 0 1 1-1 2-5 3 1 3 3 2 4 0 1 34-2-28 3 0 4-1 3-2-1-2-1-3 2-1-3-2-1-2 5 0-1 0-7 0 0-2 4-1 5-3-9-1 2 0-1-1 7 0 0 0 1-1-7 0-2-1 5 0 2 0 2-1-9 0 2-1 6 0-2-1 0 0 3 0-1-1 1 0 0 0-1 0-1-1-3 0 5 0 0 0-5-1 0 0 2-95-3-2 5-5 5 7 3 2-4 2 2 92 0 0-2 1-2 0 4 0 2 0-2 0 5 0-9 1 3 0 0 1 4 0 1 1-2 0 2 1-5 0 5 1 0 0-2 0-4 0 4 0 2 1 0 0 1 1-3 0-1 0 3 1-2 0 0 2-2 1-2 0 5 0-1 1 0 0 1 2-1 0-6 0 4 0-1 1-2 0-1 0 3 0 4 1-7 0 3 1 4 0-5 1 7 2-5 1-2 1 7 8-5 0 5 1-8 1 8 2-2 1-6 26 0-19 10-7 7-3 0 0-7-1 1-5 0-2 6-1-8 0 8-3-5-2 3 0 3-2-1 0-2-1-4-1 6-1 0 0-1 0-1-1 1 0-6 0 3 0 4-1-4 0 0 0-3-2 3 0-3 0 1 0 2 0 4-1-3-1-4 0 3-1-2 0 4 0-2-1-4 0 9 0-1 0-6 0 4-1 3 0-1 0-2 0-3 0 3-1-5 0 1 0 6 0 1 0-7-1 3 0 4 0-5 0 5 0-1-1 1 0 0 0-1 0 0-1-2 0-1 0 2-1-1 0 2 0-4 0-2-90 6-10-8-7 5 7 7 3 2 1 1 6 3 90-6 2 0 0 4 0-6 0 3 0-2 1 6 0-5 0 6 1-6 0 2 0 0 0 3 1 0 1-4 0-2 1 5 0-2 0 1 0 1 1-1 1-2 0 3 2-2 2 5 1-9 1 0 0 1 1 5 0 3 0-5 0 2 1 2 0 1 0-6 0 1 1-3 0 5 1 2 0-7 1 7 0-3 0-5 3 8 0-2 1-3 0-2 2 5 0-1 1 4 4-7 1 6 14-6 10-1-5 13-12-1-5 1 0 4-4-4-2-4-2 1-3 7-1-1 0 0 0-4-1 1-1 1-1 1-1 0-2 3 0-3 0-1 0-1 0 4-1 1-1-3-1-5 0 7-2-7 0 1 0-2 0 3-1 5 0-7 0 2-1 5 0-1 0-1 0-6 0 4-1 5 0-7 0-2 0 4-1 3 0-6 0 7-1-5 0 2 0 2 0-6 0 4-1-5 0 5-1 4 0-9 0 6 0-6 0 2 0 4 0-3-1 6 0-8-1 8 0 0 0 0 0 0 0-2 0-1 0 2-94-7-3 12 2 4 2-1 91 2 1-8 0 7 0-2 0 0 1-3 0 3 1 2 0-4 0-1 0 1 0-1 1 1 0 5 1-4 0 1 0 3 0-4 0 5 1-1 1-3 1 1 1 3 0-2 0-6 1 5 0-4 1-1 0 0 1 4 0-2 1 2 0 0 1-2 0 0 2 5 0-8 0 7 1-5 0 0 2 0 2 6 0-7 1 7 2 1 2-7 0 6 1-5 4 6 3-2 2 0 7-2 16 0 1-5-3 15-9-3-2 7-8-8-2 6-1-6-1 2-1 5-3-7-1 7 0-6-1 5-1-5-2 1 0 3-1-2 0-4 0 7-1 1-1-4 0-1 0 3-2 2 0-4-1-2-1 1 0 4 0-2-1-5-1 4 0 5 0-6 0 2-2-2 0 3 0 1 0-1-1 2 0-6-1 6 0-7-1-1 0 4 0 2 0 3-1-2-1-6 0 7 0-4-1-2 0 6 0-5 0-3-1 5-1 3 0-2 0-2 0 5-1-3 0 3 0-3 0 2 0-4 0 0 0 4 0-4 0 3-1-1 0-4 0 6-1-2 0 0 0-5 0 4-1 4 0-5 0 0 0 1 0-2-1 2 0 2 0-1 0 1-1 1-93-5-13 2 1 13 6-6 1 4 11-4 1 1 85 6 1-6 0 6 1-9 1 9 0-7 1 4 0 3 0-3 1-5 0 0 0 5 1 3 0-6 1-1 1 1 0 1 0-2 0-2 1 7 1-1 0 1 0 0 0-2 0-4 0 1 1 3 0 2 0-3 1 1 0-2 0 0 1 6 1-2 0-1 1 1 0-6 0 4 1-4 2 4 0 4 1-3 0 3 1 0 0-4 1-4 2 0 1 2 0 4 0 0 0-1 1 1 1-6 1-1 0 5 1 3 2-2 1 3 0-7 2 6 1-1 2-4 9-3 4 6 0 4-4 6 0 0-7-3-8-2-2 4-2 0 0 0-3-2-4 0-2 2-1-4 0 3-1 0 0-2-1 1-1 3 0-5 0 1-1 4 0-5 0 1 0-1-1 4-2 0 0-3 0-2-4 6 0-3 0-1 0 3-1-4 0 1-1 1 0-3-1 0 0 2 0-1 0 1-1 3-1-1 0 1 0-4-1 4 0-4-1 5-1-1 0-1 0 0-79-3-2 4" fill="none" marker-start="url(#m2)" marker-mid="url(#m2)" marker-end="url(#m2)"/>
<path transform="scale(.5)" d="M173 97l-22 1-3 1-1 0-2-4-1 2-2-3-1 3 0-1-1-6-1 7-1 1-1 1-1-2-3 1 0 0 0-2-95-4 15 12 5 2 1 2 2 1 0-2 1-4 2 6 1-3 4 1 1-2 0-1 61-3 1-1 0 0 2 1 0 1 2 0 0 1 0-2 1 1 2 1 1-1 0 3 0-4 1 1 0 2 1-1 0 3 0-5 0 5 1-1 0-1 0 0 0 2 0-3 1 2 0 1 1 1 0-6 1 6 0-6 0 6 1-4 0 6 0-1 1-8 0 7 2 2 0-2 0-2 1 0 0-3 3 2 4 5 1-5 5 5 17-8-5 10-7 5 0 3-5 0-2-2-2-5 0 2 0 5 0-6-1 5 0-4 0 5 0-5 0-4 0 2-1 2-1 5 0-4 0-1-1 3 0 1 0-1-1 0 0 2-1-3-1 2 0-1 0-6 0 1-1 3 0 1 0-2 0-4-1 0 0 4-1 4 0 1-1-7 0 5 0-4 0 4-1-7 0 5 0-4-1-1-2 0-77 1-1 2-2 0 0 0 0 6-1 0-1 0 0-8 0 4-1-4-1 0-2 7 0 0-3-1-1-2-5 1-1 10 1-6 1 9 0-7 3-1 4 3 0 3 1 2 1-9 2 5 0-5 0 9 1 0 0-2 1 1 0-3 2-1 0-2 1 0 1 1 82-3 1 0 1 0 0 3 1-1 0 0 0 0 0-2 1 4 0-1 0 2 0 3 1-1 0 2 0-7 1-1 0 5 0-4 0 3 1 4 1-9 1 0 0 2 1-2 0 0 0 6 0-3 1 5 1 0 1-8 0 6 1 2 1-5 0-2 2 4 2 4 1-8 1 7 8-2 1 1 3-4 0-3 0 15 0 4-5 0-3-6-2 6-2-3 0-6-1 6 0-6-2 3 0 1-1-3-1 4 0-2-1-2-1 5-1-3 0 2-1 4 0 0-1-7 0 3 0-2-1 4 0-3 0-1 0-1-1 7 0-7-1 6 0-8 0 9-1-2 0-5 0 5-1-1 0-2 0 3-1-4 0 3-92 1-1-4-2 0-2 0 0 3-3-4-1 2 0 3-1 0-1-7 0 3-1-1-1 1 2 15 0-7 2 1 5 5 0-7 1 3 1 6 0-1 0-4 1-1 0 1 0 5 1-8 1 1 0 0 1 3 1-2 90 5 0-5 0 0 0 5 0-5 0-2 1 5 0 1 0-4 0 5 1-8 0 4 1 0 0 0 0 4 0 0 0-2 1 0 0-3 1 3 0-6 1 8 1 0 2-2 1-5 1 0 0 0 0 3 2-4 0 8 1-4 1 0 0 0 3 5 0-8 3 5 12 1-3 5-1-2 0 8-4 1 0-1-2-6-3 7-6-7 0 3-1-2-1 0 0 4-1-2-2-4 0 4 0-1-1-3-1 4-1 2 0-1 0-6 0 5-2 4 0-2 0 2 0-7 0-1-1-1 0 6 0-3 0 4-1-6 0 6 0-1 0-3-1-3 0 8 0-4-1-2 0-1 0 1 0 2-1 0 0-1 0-1-88 1-1 5-2-6-2-1 0 2-1 3-1 0-2-2-5-2-1 0 0 7-3-6-8-2-39-1 15 10 22 0 5 1 5 8 0-3 8 2 2-8 5 3 3-1 89 1 1 0 0-3 0 5 2-2 1 1 0 1 0 2 0 0 0-5 2 0 1 0 1-1 1 4 1-3 0 5 1 2 1-1 1-2 1-5 0 0 0 8 0-8 2 3 7-2 2 1 7 0 6 1 4 6-14 1-3 0-10-1-2 2-3-2-1 4 0 1-2 0-1-3-2 6 0-1 0-2-1-2 0 5-1 0 0 0-93 1-2-8-1 4 0 4-5-9-3 9-1-3 0-2 7 7 2 8 94-1 0 0 3-6 0-2 0 6 1-6 1 6 0-3 0-3 1 4 4 1 3-4 1 0 5 6 2-3 15-4-9 10-7 6-1-3 0 4 0-2-10-1-1-4 0 3 0-1-1 6-1-6-3-1 0 3-1 4-1 0 0 1 0-1-1-7-89 8 0 0-2-1-7-1-3-2-1-1 0 4 3 10 7-2 9-3 0 3 1-1 82-3 1 0 0-2 1 8 1-7 4 1 0 3 1 2 4-4 0-3 23 2 13 9-8 1-15 1-11-2-3 3-1-4-3 1-6 0 0 5 0-3-1 0-1 0-2 1-1 2-78-5-3 1-4-2" fill="none" marker-start="url(#m3)" marker-mid="url(#m3)" marker-end="url(#m3)"/>
<path transform="scale(.5)" d="M74 49l67 7-7-1-3-1-6 3-1-6-4 6-1-3-1 4-1 1-1 0-1-5 0 3-2 0-1 2-2-1 0-6 0 1-1 3 0 1-3-4 0 6 0-7-2 7 0-1 0 0-1 1-1-6 0 4-2 2 0-6-2 1-2 5-1-1-1-2-2-4-1 6-1-5-1 5-4 0-4 1-2-2-1-1-1 1-2-1-1-6-3 8 0-1-1-1-2-5-2 7-5-3-25 14 5-5 0 2 10 2 3 0 1-3 5-2 1 5 2-8 0 9 0-6 1-1 1 5 0 1 0-6 2 5 1-4 1 6 1-4 1-3 1 6 0-8 1 6 0 0 0 1 0-1 0 3 1-3 0 2 0-8 1 6 0 3 1-8 0 4 1 3 1 0 0 0 0-4 2-1 1 0 1-3 0 2 0 2 0 0 1-4 0 4 1-2 1-2 0 1 1 3 1-1 0 0 0 0 1-1 2-1 1 1 1 1 0-2 1 2 0-1 2-1 1 1 1-2 0 0 2 1 1 1 1 1 1-3 0 0 1 0 1 3 1-2 0 0 0 2 1-1 0-2 0 3 2-3 1 2 2 0 1-1 0-1 0 2 1 0 1 0 0 0 0 2 2-4 0 3 0-3 1 3 1-1 0-2 0 2 0 2 0-1 0-2 1 2 0 0 1 1 1 0 1-3 0 4 0 0 0-2 0-1 1-1 0 4 0-2 0 2 1 0 1 3 0 1 0-9 0 5 0 2 1-4 0 5 0-1 0-2 1-1 1 1 0-2 1 3 0-1 0 1 1 0 1-1 1-4 0 6 1 1 2-1 0-1 2 1 3-7 3 5 5 3 1-8 13 11-11 5 0-1-3 4-3-7-1-1 0 0 0 8-3-2-1 2 0-6-2 4 0 0-1-1-1 0 0-3 0-2-1 8-1-8 0 3 0-4-2 4 0-1 0 4 0-3-1 2-1-1 0-2-1 3 0 1 0-3 0-3-1 3 0 0 0-1 0-2-1 2 0 0 0 0 0-2-1-1 0 1-49 5 0-6 0 8 0-3-1-1 0-3 0 8 0-6-1 6 0-6 0 1 0-4 0 6-1-4 0 2 0 2 0 1 0 1-1-6 0 0-1 6 0-1-1 0-1 0 0-6-1 6-2 1 0 0-1-3 0-4-1 7-3-2-1 3 0-8-6 7 0-5-3 4 0 1-2-7-1 4-4 2-3-2-10 0 5 8 5 4 2-4 2 5 5-5 1-1 0 0 2-1 0 6 1 0 1-5 0 2 0-4 1 0 1 8 0-2 1 3 0-6 1 0 0-1 0-2 1 9 0-5 0 4 1-4 0 1 2 2 0-7 1 3 0 2 0 4 0-3 2-1 0 2 0-7 0 1 1-1 0 4 0-4 1 2 0 6 0-1 1-5 0 7 0-7 1 5 0-6 0-1 1 3 1 0 0 0 1 5 0 0 0 1 0-5 0 5 1-9 0 5 0-1 0-3 0 1 0 6 0-2 1-3 0-2 0 1 1-1 53-1 1 2 0-2 0 2 0-1 0 0 1 3 1 2 0 0 1-4 0 5 0 1 0-6 1-1 0 3 0-4 1 9 1-7 0-2 1 4 0-3 1-1 1 9 0-9 0 0 1 4 0 0 0 5 0 0 0-5 1 1 0 0 0-1 1 4 1-5 0 4 2 1 0-2 1-3 0 1 2-4 1 5 0 0 8 11-6-2 0-3 0 5-1-3-1 3 0-1-2-3-1-2-2 3 0 3 0 3-1-2-1 0-1-4 0 0-1 3-2-6 0 4-2-4 0 7 0 0-1-7 0 4-1-4 0 9 0-6 0-2 0 0-1 2 0-1 0 1-1 1-1 5-58-8-1-1 0 0-1 3 0 4 0 0 0 2 0-3 0-2-1 3 0 0 0-2 0 2-1-1 0 1 0-6 0 5 0-2 0-4 0 3 0-3 0 2 0 7 0 0-1-5 0 1 0-1 0 3 0-3 0 0-2 4-2 1 0-3 0-2 0 1-1-5 0 4 0-1-1-1 0-2-1 8 0 1-2-8-1 7 0-8-1 4 0-3-2 0-1 7-1-8-5 9-2-7-5 7-2 10 3-3 9-6 2 5 0-2 1-2 0 7 1-2 2 2 1-4 0-1 1-3 0 6 1 1 0-6 0 2 3 5 1-4 0-4 0 4 1 5 1-2 0 1 0-7 1 3 0 0 0-1 1 1 0-1 0-3 0 2 0-2 0 7 0-5 1-1 0 2 0 3 1-2 2-3 58-1 1 2 0-2 1 0 0 2 2-2 2 0 0 2 1-1 1 3 0-2 1-1 3 3 1 5 0-2 1 2 2-5 0 0 1-4 2 5 0-1 1 4 3-3 16 7-12 7-4-2-2-1-1-2 0-3 0 3-1-3 0 2-1 1-3-4-78 0-2 6 0 3-1-7 0 0-2 6-1 1 0-2 0 0-1-4-1 4-1-2-1-4 0-1-1 6-1-5-2 1-11 1-7 5 18 5 2-2 3 1 0 6 1-4 1 0 0 5 2-4 1-5 1 6 0-1 1-5 1 3 84-2 1-1 3 9 3 5-3 4-89 1 0 0 0-2 0-1-1-1-1 1-1-2 0 4-4-2-2-4-4 2 0 4 0-5-2-3 0 5-6 3 9 9 0-2 1-2 2 2 5-1 1-3 1 7 1-1 1-7 0 7 106-4-12 10-3 4-2-2-89-2 0-3 0 8-1-3 0 3-1-7 0 8-1-9-1 4-1-4 0 5-4-2-1 5-3-2-4-2-7 4 6 9 8 2 0-3 3-5 2 0 1-1 2 4 0 4 1 0 0-6 0 2 1-4 1 5 90-1 2 0 1 3 10 2 20 3-20-2-5 2-5 5-2 1-92-8-1 9 0-7-2 1 0 0 0 3-1-3-2 1-1 0-10 4 4 8 0-4 2-1 3 5 3-5 1 5 1-3 1 2 0 3 1 0 1-3 97-1 10 11-12-5-95 9-1-5-1-1 0-2-2 5 0-1-1 2 0-5 0 6-2-6-1 4-1-3 0 0-5-3 0 2-1 5-9 1 5 2 5 3 4 1 4-2 3 1 4 4 4 2 1-7 1 2 1 3 99-5-17 13-82-1-1-2-1 2-2-2-3-1-9 4-2-3" fill="none" marker-start="url(#m4)" marker-mid="url(#m4)" marker-end="url(#m4)"/>
<path transform="scale(.5)" d="M71 67l5 2 63 10-61-3-2-1-5 0 0-1-1 3-16 0-18 2 18 1 2 6 3 2 2-4 5 4 1-7 3 5 1 0 1-6 1 2 1-1 63-1 3 4 4-1 1 16-4 0-5-7-1 3 0-5-62 7 0-2-1-1 0 4-3-6 0 3-1 2-2-4-3-3-1 0-5 6-9-2-11 5-38-9 32 17 19-2 5-1 3-1 0 4 0-3 1-3 0 7 3-1 2 2 1-4 2 3 2 0 0-1 1-3 0-3 1 0 0 2 1-2 0-1 60 1 4 0 4 0 2 2 21-1-95 9-1 0-1 0-1 5-1-3 0 4 0 0-1-3 0 2-1 2-1-8 0 4-1 1-1 2-1-5 0 1 0 6-5-8 0-1-2 2-12 15 9-4 0-3 2 8 1-8 1 1 0 5 0 3 1-7 3 0 1 5 0-7 1 4 0-4 1 8 0-6 1 6 0-2 0 1 0-3 1 3 1-6 1 5 0 1 0 1 3-7 1 0 1 2 86 6 16 3-104 7-1-3-2-3 0 3-1-1 0-2-1 5 0-6 0 4-1-5 0 8-1-3-1-4-1-1-1 7 0-2-1 0-1 2 0-8 0 3 0 6 0-8 0 5-3 2 0 0-1-2-4 0-1-3-1-1-22 1 21 15 2-6 4 6 3-8 1 0 1 1 0 0 2 5 0 1 0-2 1 1 0-1 1 0 0-4 1 4 0-1 1 4 1-2 1 2 0-3 1 0 0 1 0-1 1 0 0 4 0-3 0-6 1 6 0 2 0-7 1 0 0 1 0-1 0 1 0-1 97 3-3 8-93 6 0-5-1 5 0 1 0-1 0-7-1 8-2-2 0-1 0-3-1 0 0 0-1-1-1 3 0 2-1 2 0-1-1-6 0 3 0 1-1-2-2-4-1 5 0-2-1 4 0-1-2 2-1-7-7-1-2 16 6 1 1 0 1 0 4 2 0-7 1-2 2 3 0 6 0-2 0-5 1-1 0-1 0 6 0-5 1 6 0-4 0-2 0 7 1-8 0 2 2-1 0 4 1-5 0 0 1 1 0 5 0 0 1-6 0 3 0 1 0 3 0 2 1-5 0 0 0-1 0 4 0-5 0-1 1-1 0 4 0-1 1 3-2 6 0 7-1-7 0 2 0-2 0-2 0 7 0 0-1-5 0 3 0 1 0-5-1 7 0-2 0 0 0-6 0 0 0 2 0 3-1 1 0-2 0-2 0 0 0 4 0-3-1 2-1-4 0 7-1-6 0 6-1-4-1-2-1 3 0-5-2 3-1 1-2 5 0-1-4-1-1-2-7 13 8-3 3-4 1 7 1-7 0 5 2-4 1 2 1 1 0-4 1-1 1 2 1 1 1 3 0 0 0-4 0 7 1-4 0 1 1 0 0 2 0-3 0 1 1 3 1 0 0-5 1-1 0 2 1-3 0 7 0-2 0-7 1 3 0 0 0-2 0 5 0 0 94-5 10 5-1 11-3-3-9-3-87 8-1-1 0 1-2 0 0-3 0 1-1-4 0 3 0-2-1-3 0 1 0 4 0 1 0-2-1 4 0-1 0-6 0 7 0-4 0 3-1 0 0-5 0 5-1-1 0-6 0 0-1 4 0-4 0 7 0-5-1 2-1-2 0 0-1 4-1-1-1-3 0 3 0 0-4-4-7-1-1 0-3 4-4-3-1-2-1 2 5 10 2 4 6 0 1 3 2-5 0 1 1-5 0 3 3 1 1-4 0 2 2-2 0 3 3 1 0-1 0 0 0 2 0 4 0-5 1-3 1 3 0 4 1-4 0-4 0 0 0 3 0 3 1 0 0-5 0 3 1 3 0-3 0-3 0 8 1-3 0 3 0-7 1 1 1-2 0 7 2-2 0 2 0 0 0 0 1-8 0 2 0 5 0-2 0-5 1 6 0 0 0 2 1-3 0 1 93 0 5 2-16 3-4 2-78 1 0 1-1-5 0 1 0 4 0-3-1 0 0 3-1-2 0 0-1-3 0 3 0 1 0-3-1-1 0 2 0 1 0-1 0-2-2 1-2-1 0 2-1 3-1-2-3-3-2 2 0-2-1 4-2-2-7 0-1-2-3 2" fill="none" marker-start="url(#m5)" marker-mid="url(#m5)" marker-end="url(#m5)"/>
<defs><path id="c235" d="M52.8 88.2l2.8 0.9 3.3 0.1 3.3-0.1 2.4-0.9-2.4-2.8 3.2 0 0.8-2.7 1.6-2.8 0.8-2.7 0.1-2.8 2.3-2.7 0.2-2.8 0.8-2.7-0.9-2.8 0.5-2.7-1.8-2.8-1.1-1.1-1.9-1.6-1.4-0.9-3.2-1.9-3.3-0.6-3.3-1.1-3.2 0.6-3.3 0.4-1.2 0.7-1.9 2.8-0.1 0.1-3 2.6-0.3 0.5-1.4 2.3 0.5 2.7 0 2.8 0.9 1.2 0.8 1.5 0.4 2.8 0.7 2.7 1.4 1.3 0.6 1.5 1.1 2.7 0.7 2.8 0.8 0.9 3.3 1 0.8 0.8z"/><path id="c236" d="M53.3 79.9l2.3 1.9 3.3-0.2 2.4-1.7 0.9-0.9 2.5-1.8 0.7-2.8 0-2.7 0-0.1 2.4-2.7 0.9-2.5 0.1-0.2-0.1-0.3-0.6-2.5-0.3-2.7-1-2.8-1.4-1.1-2.3-1.6-0.9-0.6-3.3-1-3.3-0.5-3.2 1.1-1.8 1-1.5 0.7-2.7 2-0.5 1.9-0.5 0.9-0.7 2.7 1.2 2.3 0.1 0.5-0.1 2.7 2.5 2.8 0.7 1.9 0.6 0.8-0.6 0.7-0.4 2.1 0.4 0.4 3.3 0.9z"/><path id="c237" d="M52.3 71.7l0.1 0.1 3.2 1.5 3.3 1.1 1.9-2.7 0.9-2.8 0.5-1.2 2.2-1.5 0.5-2.8-1.6-2.7-0.1-2.8-1-0.8-3.3-0.6-3.3 0.1-3.2 0.9-0.7 0.4-2.2 2.8-0.1 2.7 0.2 2.8 1.7 2.7z"/><path id="c238" d="M55 66.2l0.6 0.5 3.3 2.2 0.2-2.7-0.2-2.8-3.3-1.6-0.5 1.6z"/><path id="c239" d="M41 109.6l4.2 1 4.2 0.4 4.2-0.5 4.2-0.6 1.6-0.3 0-3.4 0.1-3.4 2.5-1.7 0.9-1.7-0.9-2.9-0.3-0.5 0.3-0.7 0.7-2.7 0-3.4-0.7-1.1-1-2.4 0.9-3.4 0.1-0.5 1-2.9 0.9-3.4-0.6-3.4-0.7-3.4 0-3.4-0.6-3.4-1-3.4-2.9-3.4-0.3-0.4-1.1-3-2.5-3.4-0.6-0.3-4.2-1.4-4.2 0.4-4.2-0.2-2.8 1.5-1.4 2-0.8 1.4-1.8 3.4-1.5 2.7-0.8 0.7 0.8 0.7 1.4 2.7-1.4 1.5-1.8 1.9 1.8 2.3 0.5 1.1-0.5 3-0.3 0.4 0.3 0.5 0.6 2.9 0.1 3.4 0.6 3.4-1.3 3.4 2.9 3.5-0.4 3.4 1.3 3.4-0.3 3.4 0.6 1 1.7 2.4 2.5 3.4z"/><path id="c240" d="M47.1 102.8l2.3 3.4 2-3.4 2.2-0.8 2.9-2.6-0.2-3.4 1.5-3.4 1.6-3.4-1.6-2.8-0.3-0.7 0.3-1 0.9-2.4-0.9-1.8-0.5-1.6 0.5-1.4 1.5-2 0.2-3.4 0.4-3.4-2.1-3.1-0.2-0.3 0.2-0.8 0.9-2.6 0.3-3.4-1.2-1.3-2.8-2.1-1.4-3.4-4.2-2.2-4.2 0.9-4.2 0.1-0.9 1.2-3 3.4-0.3 1.7-0.3 1.7 0.3 1.7 0.2 1.7-0.2 0.8-1.5 2.6 0 3.4 0.8 3.4-0.3 3.4 1 2.6 0.3 0.8 0.9 3.4-0.8 3.4 2.4 3.5 0.5 3.4 0.9 1.7 1 1.7-0.2 3.4 3.4 2.5z"/><path id="c241" d="M45 85.7l0.2 3.5 4.2-1.4 4.2-1.7 0.2-0.4-0.2-0.3-2.7-3.1 2.7-3 0.2-0.4 0.6-3.4-0.5-3.4 0.1-3.4-0.4-3.4 0.5-3.4-0.5-2-0.5-1.4-3.7-2.1-2.1-1.3-2.1-1-2.5 1-1.7 3-0.1 0.4-0.3 3.4-0.7 3.4-0.1 3.4 0.5 3.4 0.7 2.2 1.7 1.2-1.7 1.1-0.7 2.3 0.7 1 2.4 2.4z"/><path id="c242" d="M42.8 78.9l2.4 2.8 2.6-2.8-2.6-1.8zM49.2 75.5l0.2 0.3 0.3-0.3 1.8-3.4-1.5-3.4-0.6-0.9-2.8-2.5 2.8-0.9 2.4-2.5-2.4-3-3.3 3-0.9 2-1.3 1.4-1.1 3.4 1.2 3.4 1.2 0.9z"/><path id="c243" d="M44.8 109.5l4.9 1.5 5.1 0.4 5.2-0.3 5.1-0.3 5.1-0.5 5.2-0.6 0.5-0.2 0-3.1 2.3-3.1 0-3.1 1.1-3.1-1.1-3.1 0.3-3.1 1.4-3.1 0-3.1-1.5-3.1 0.6-3.1-2.1-3.1-0.4-3.1-1.1-1.2-0.8-1.9-0.4-3.1 1.2-3.1-3.1-3.1-2.1-0.9-5.1-1.1-1.8-1.1-3.3-2.3-5.2-0.5-1.9-0.3-3.2-0.7-1.5 0.7-0.4 3.1-3.3 2.6-0.7 0.5 0.7 0.9 0.9 2.2-0.9 3.1-1.5 3.1-1.9 3.1 0.2 3.1 0.8 3.1 0.1 3.1-0.1 3.1-1.3 3.1 1.2 3.1 1.1 3.1-1 3.1 1.7 3.1 0.7 1.3 0.8 1.8-0.5 3.1z"/><path id="c244" d="M49.9 109.5l4.9 0.7 5.2-0.6 1-0.1 0-3.1 4.1-1.2 4.2-1.9 0.9-0.5 2.3-2.6-0.5-3.1 1.5-3.1-2-3.1 0.5-3.1-0.6-3.1 1.4-3.1-2.4-3.1-0.2-0.8-0.6-2.3 0.1-3.1 0.5-3.1-3.6-3.1-1.5-0.5-5.1-1.7-0.8-0.9 0.2-3.1-3.7-3.1-0.9-0.4-0.9 0.4-4.2 2.8-0.5 0.3-0.1 3.1-0.7 3.1-1.3 3.1-1.2 3.1-0.5 3.1 0.4 3.1 0 3.1 0.6 3.1-0.7 3.1 0.4 3.1 0.8 3.1-0.5 3.1 1.2 3.1 1.9 3.1 0.2 1.6 0.2 1.5z"/><path id="c245" d="M53.2 100.2l1.6 3.1 5.2-3.1 3.4-3.1 0.4-3.1-1-3.1 2.3-1.3 1.7-1.8-1.7-1.9-2.4-1.2 2-3.1 0.4-0.5 0.7-2.6-0.7-0.9-5.1-2.2 1.6-3.1-1.6-0.9-2.1-2.2-0.7-3.1-1.3-3.1-0.3-3.1-0.8-0.6-1 0.6-0.4 3.1-0.5 3.1-2.2 3.1-1 1.2-1 1.9-0.5 3.1-0.1 3.1 0.1 3.1 1.1 3.1-1 3.1 0.5 3.1 0.9 2.8 0 0.3 0.8 3.1z"/><path id="c246" d="M54.5 94l0.3 0.5 0.7-0.5-0.7-3.1zM52.9 87.8l1.9 3.1 1.8-3.1 0.3-3.1-1-3.1-0.4-3.1-0.5-3.1-0.2-0.3-0.3 0.3-0.6 3.1-0.4 3.1-0.7 3.1z"/><path id="c247" d="M54.1 103.2l5 1.1 1.7-1.1 3.3-0.9 3.9-2.2 1.2-1.4 2.8-1.8 0.2-3.1 0-3.1 2-2.1 0.9-1.1 0.4-3.1-0.3-3.2 1.8-3.1 1.6-3.2-0.8-3.1-0.2-3.1-0.2-3.2-0.9-3.1-2.3-2.9-0.1-0.3-0.2-3.1-3.4-3.2-1.3-0.9-5.1-1.5-5-0.2-5 0.2-5.1-0.6-5 1.9-2.4 1.1-2.7 2.8-0.2 0.4-2.6 3.1 0 3.2 1.6 3.1 1.2 3.2-1 3.1 1 0.5 0.8 2.6 0.1 3.2-0.2 3.1 2 3.2 0.5 3.1 1.9 3.2 0.9 3.1 4.1 3.1-0.5 3.2 0.5 0.7 5.1 2.4z"/><path id="c248" d="M52.1 93.8l2 1.9 5-1.9-1.7-3.1 1.7-0.1 0.2 0.1 4.8 1.5 2.5-1.5 2.2-3.2-0.1-3.1 0.5-0.8 1.2-2.4 0.6-3.1 1.3-3.2 0.8-3.1-0.5-3.1 0.2-3.2-1-3.1-1.6-3.2-1-1.1-1.6-2-3.5-2.1-3.5-1.1-1.5-0.4-3.9 0.4-1.1 0.1-5.1 0.5-4.3 2.6-0.6 3.1-0.1 0.3-1.6 2.9 0.3 3.1 1 3.2-1.9 3.1 0.3 3.1 1.9 2.3 0.9 0.9 0.1 3.1 2.5 3.2 1.3 3.1 0.2 0.6 3.4 2.6z"/><path id="c249" d="M54.1 81.2l5 3.2 3.6-3.2 0.2-3.1 1.2-1.2 1.7-2-0.6-3.1 1.3-3.1-1.6-3.2 0.9-3.1-1.6-3.2-0.1-0.1-5-2.2-3-0.8-2-0.2-1.2 0.2-2.9 3.1-1 0.6-2 2.6 1 3.1-0.9 3.2 0.7 3.1 1.2 1.7 0.9 1.4 0.9 3.2 3.3 3.1z"/><path id="c250" d="M56.4 71.8l2.7 0.5 0.8-0.5 1.2-3.1-0.6-3.2 0.7-3.1-2.1-1.3-4.8 1.3 2.5 3.1-2.7 1.6-2.8 1.6 2.8 2.3z"/><path id="c251" d="M47.1 110l2.7 1 5.3-0.4 5.3-0.6 0-4.1 3.1-4.2 2.2-3.1 0.6-1.1 0.4-4.2 0.1-4.2 1.4-4.1-1.3-4.2 0.4-4.2-0.7-4.2-0.3-4.2 1.1-4.2-0.1-4.1-0.6-4.2-1-3.6-0.1-0.6 0.1-0.6 0.8-3.6 0.2-4.2-1-1.7-1.1-2.4-1.8-4.2-2.4-2.1-5.3-1-5.3-0.6-5.3 0.7-5.3 2.1-1 0.9 0.5 4.2-1.3 4.1-1.3 4.2 0.1 4.2 3 4.2-0.7 4.2-1.8 4.1 2.5 4.2-2.2 4.2 2 4.2-0.6 4.2-0.7 4.2 1.5 2.7 0.6 1.4 0.2 4.2 0.6 4.2 2.6 4.2 1.3 1.4 2.6 2.8z"/><path id="c252" d="M49.1 101.7l0.7 0.6 3.5-0.6 1.8-0.4 2.8-3.8 2.3-4.2 0.2-0.8 0.7-3.4 1-4.1-0.2-4.2 1.2-4.2-0.6-4.2-0.4-4.2 1.8-4.2-1.3-4.1 0-4.2-0.5-4.2 1.6-4.2-3.3-4.2-0.5-4.1-4-4.2-0.8-0.3-5.3-0.3-5.3 0.2-0.9 0.4-0.3 4.2-1.6 4.1-1.1 4.2-0.5 4.2 1.5 4.2 0.2 4.2-1.7 4.1 2.3 4.2-0.2 4.2 0.3 4.2-0.3 4.2 0.2 4.2 1.3 4.1 0 4.2 0.8 2.3 1.7 1.9z"/><path id="c253" d="M48.9 93.3l0.9 0.9 5.3-0.9 0.6-4.2 0.9-4.1 1.6-4.2-0.3-4.2-2-4.2 2.1-4.2 2.4-3.7 0.2-0.5-0.2-0.4-2.5-3.7 0.7-4.2-1.1-4.2 2.9-3.2 0.5-1-0.5-0.6-4.8-3.6-0.5-2.3-2.3-1.8-3-0.5-0.6 0.5 0.6 3.3 1 0.8-1 0.2-5.3 2.1-1 1.9 0.1 4.2 0.9 3.5 0.2 0.7 1 4.2-0.9 4.1 2.1 4.2 0 4.2-0.6 4.2 0.5 4.2 1.3 4.2 1.7 3.5 1.5 0.6-1.5 1z"/><path id="c254" d="M52.3 80.8l2.8 1.3 0.7-1.3-0.7-1.8zM49.1 76.6l0.7 2.1 2.1-2.1-2.1-3.7zM48.4 55.7l1.4 4.2 5.3-1.6 0.7-2.6-0.7-1.8-5.3-1.8zM48.8 47.3l1 2.8 1.2-2.8-1.2-0.4z"/><path id="c255" d="M37.1 109.8l3.4 1.6 4.3 0.6 4.3-0.1 4.3 0.1 4.4-0.2 4.3-1 1.9-1 0-3.7 1.6-3.8 0.3-3.7 0.5-1.4 1.2-2.4-1.2-2.4-0.3-1.3 0.3-1 1.5-2.8-1.5-2.2-1-1.5 1-3.8-1.1-3.7-0.7-3.8 0-3.7-1.2-3.8-1.3-1.9-0.8-1.9-2-3.7-1.2-3.8-0.3-0.4-3.7-3.3-0.7-0.6-1.8 0.6-2.5 1-4.3-0.9-4.3 3-0.3 0.6 0.3 3.8-4.4 2.1-1.3 1.6 1.3 3.8-0.7 3.8-1.8 3.7 0.2 3.8 0 3.7-0.6 3.8-1.4 3.7 1.4 3.8-0.5 3.7 1.1 3.8 2.3 1.5 1 2.2 0 3.8z"/><path id="c256" d="M42.7 109.8l2.1 0.6 4.3-0.3 4.3 0.2 3.9-0.5 0-3.7 0.5-0.2 3.2-3.6 0.8-3.7 0.3-2.8 0.2-1 1.2-3.7 0.4-3.8-1.8-2.6-0.7-1.1-0.2-3.8-1.1-3.7-0.3-3.8-1.4-3.7-0.6-1.9-1.5-1.9-1-3.8-1.9-1.5-4.3-1.3-4.3 2.1-1.1 0.7-2.6 3.8-0.6 3.8-1.7 3.7-0.1 3.8-0.9 3.7-0.7 3.8-0.5 3.7 0.7 3.8-0.6 3.7 2.4 3.8 1.4 3.4 0.1 0.3 2.1 3.8z"/><path id="c257" d="M45.9 102.3l3.2 1.3 4.3-0.3 1.5-1 2.9-3.7 0.2-3.8 1.8-3.7 0.2-3.8-2.2-2.8-1.2-0.9 0.6-3.8-3.6-3.7-0.2-0.8-1.5-3-2.8-0.7-4.3 0.5-0.1 0.2-0.3 3.8 0.4 3 0.1 0.7-0.1 0.2-3.4 3.6 0.3 3.7-0.3 3.8 0.2 3.7 1.5 3.8 1.7 2.7z"/><path id="c258" d="M44.8 94.8l4.3 3.1 2.7-3.1 1.6-2.2 1.8-1.5 1.1-3.8-2.9-2.2-4.3 0.5-1.1 1.7-1.7 3.8zM47.6 79.8l1.5 3 2.3-3-2.3-1.5z"/></defs>
<g fill-rule="evenodd"><use href="#c235" fill="#fff"/><use href="#c236" fill="#8000ff" fill-opacity="0.15"/><use href="#c237" fill="#8000ff" fill-opacity="0.15"/><use href="#c238" fill="#8000ff" fill-opacity="0.15"/><use href="#c239" fill="#fff"/><use href="#c240" fill="#1996f3" fill-opacity="0.15"/><use href="#c241" fill="#1996f3" fill-opacity="0.15"/><use href="#c242" fill="#1996f3" fill-opacity="0.15"/><use href="#c243" fill="#fff"/><use href="#c244" fill="#4df3ce" fill-opacity="0.15"/><use href="#c245" fill="#4df3ce" fill-opacity="0.15"/><use href="#c246" fill="#4df3ce" fill-opacity="0.15"/><use href="#c247" fill="#fff"/><use href="#c248" fill="#b2f396" fill-opacity="0.15"/><use href="#c249" fill="#b2f396" fill-opacity="0.15"/><use href="#c250" fill="#b2f396" fill-opacity="0.15"/><use href="#c251" fill="#fff"/><use href="#c252" fill="#ff964f" fill-opacity="0.15"/><use href="#c253" fill="#ff964f" fill-opacity="0.15"/><use href="#c254" fill="#ff964f" fill-opacity="0.15"/><use href="#c255" fill="#fff"/><use href="#c256" fill="#ff0000" fill-opacity="0.15"/><use href="#c257" fill="#ff0000" fill-opacity="0.15"/><use href="#c258" fill="#ff0000" fill-opacity="0.15"/></g>
<g fill="none" stroke-width="1.20" stroke-linejoin="round"><g stroke="#8000ff"><use href="#c235"/><use href="#c236"/><use href="#c237"/><use href="#c238"/></g><g stroke="#1996f3"><use href="#c239"/><use href="#c240"/><use href="#c241"/><use href="#c242"/></g><g stroke="#4df3ce"><use href="#c243"/><use href="#c244"/><use href="#c245"/><use href="#c246"/></g><g stroke="#b2f396"><use href="#c247"/><use href="#c248"/><use href="#c249"/><use href="#c250"/></g><g stroke="#ff964f"><use href="#c251"/><use href="#c252"/><use href="#c253"/><use href="#c254"/></g><g stroke="#ff0000"><use href="#c255"/><use href="#c256"/><use href="#c257"/><use href="#c258"/></g></g>
</svg>
<svg x="155.04" y="569.05" width="108.00" height="108.00" viewBox="0 0 108.00 108.00">
<path transform="scale(.5)" d="M131 79l-6 5 3 5 0-1 0 1 0 0 1-2 3 0 1-3 1 4 0 0 2 1 2-4 0 4 8 0 1-3-1 11-1-1-2-4-1 2-1 2-2 2-2 0 0-2 0-5 0 8 0-1 0-6-1 7 0-5 0-4 0 9-1-4 0 0 0 1 0 2 0-4 0 3 0-1-1 0 0-4 0 3 0 4 0-2-1-6 0 7 0 0 0-7 0 7 0-2 0-5 0 2-1 2 0 2 0-1 0 1 0 0 0 0-1-1 0-6 0 9 0-3 0-1 0-5 0 2 0-2-1 5 0-2-1-2 0 1 0 2-1-4-1 1 0-1-1 2 6 8 0 2 0 2 0-2 0 2 1-2 1 2 0 0 0-2 0-1 0 0 0 6 1-7 0 8 0-3 0 3 0-2 0 1 0-3 0-2 0 6 0-7 1 2 0 5 0-2 0 2 0-4 0-1 0 1 1 5 0-7 0-2 0 9 0-9 1 5 0 1 0-1 0 3 0-7 1 1 0-1 0 5 0 2 1-1 0-7 0 5 1-3 0 2 0 4 0-4 1-2 0 4 0-4 1 2 0 4 1-3 0 0 1-2 1 3 0 3 2-7 1 3 1-1 13 9-11 1-1-4 0 1-3 3-1 2 0-3 0 2-2 3-1-5 0 5 0 1 0-6-1-1 0 5-1 2 0 0 0-9 0 4-1-3 0 3-1 0 0 5 0-3 0-5 0 8 0-4 0-4 0 6-1-1 0 3 0-2 0-5 0 4-1 3 0-9 0 0 0 6 0-2 0 2 0-5-1 6 0-2 0-1 0 1 0 0 0-5 0 5 0 3-1-7 0 4 0 4 0-8-1 2 1 14 0-1 0 3 0-1 0-6 1 4 0 2 0 1 0-4 0 2 0 1 0-5 0-3 0 2 0-2 0 9 1-5 0-3 1 0 0-1 0 3 0-3 1 3 0 2 0-1 0 1 0-2 0-1 0 7 0-1 1-8 0 5 0 2 0 0 0-6 1 0 0 7 0 0 0 1 0-3 0 0 1 1 1-4 1 6 0-7 0 6 1-4 1 1 0-5 1 0 0 5 0-5 1 8 4-1 1 2 4 3-2 3-7-3 0 3-1 1-1-4-3 0-1 4 0-5-1 4 0 0 0 4-1-7 0 3 0 3-1-5 0-1 0 7 0-4 0 0-1 2 0-6 0 5 0 2 0-2 0-3 0 6 0-4 0 1 0-3 0 4 0-5 0 6 0-1-1-2 0-1 0-4 0 5 0 0 0-1 0 0 0 1-1-1 0-2 1 13 0 4 0-2 0 0 1 0 0-5 0 6 0-2 1 1 0 2 0-1 0-6 0 6 0-1 0-1 0 2 1-4 0-2 0 2 0-1 0 6 0-5 0 3 1 2 0-4 0 1 0-6 0 6 0-5 2 5 0-3 0 3 0-4 1 7 0-4 0-2 1 2 0 0 0-2 1 4 1-2 0-1 1-2 0 7 0-2 1-1 1-4 2 5 3 11-3-7-2 8 0-2 0-7-1 4-1 2 0-3 0 2-1 1-1 1-1-1 0 3 0-4 0-1-1 3 0-1-1 3 0-6-1-1 0 5-1-5-1-2 0 3 0 4 0-6-1 1 0-1 0 1 0 2 0 0 0-3 0 4-1-3 0 4 0 0 0-6 0 4 0-2 0 2 0-2 0 5-1-7 0 2 0 0 0 1 0-1 0 6 0 0 0-6-1 4 0 3 0-3 0 3 0-3 0 2-2 9 1-6 0 3 0 4 0-4 0 0 0 3 0 1 0 1 0-3 1-2 0 5 0-2 0 1 0 1 1-2 0-2 0-3 0-1 0 1 0 1 1-1 0 4 0 0 0 0 0 1 1 2 0-7 0-2 1 0 0 5 0 0 0-3 1-2 0 4 0 4 1 0 0-4 2 3 1-3 2-2 0 6 1-8 1 7 0-5 11 14-10-1-1-3-2 7 0-3-1 2-2-6-1 2 0 4-2-1 0 2-1 0 0-6 0-1 0 1 0-2-1 2 0 2 0 2 0-3 0-4 0 2 0 2 0 0 0-4-1 3 0 6 0-4 0 1 0 1-1 1 0 0 0-3 0-5 0 5 0 2 0-4 0-2-1 6 0-5 0 1-1-2 0 2 0-3 0 0 0 2 0 0-1-2 0 0 5 13 0 1 0 2 1-3 0-2 0 6 0-6 0 3 0 5 1-4 0 0 1-3 0 7 0 0 0-6 0 3 4-2 1-2 1 4 1 2 0-3 3 4 1-5-5 13-5-1 0-3-1 0 0-2 0 7 0-4-1 5-1-6 0 4 0 0-1 0 0 1 0-1-1-6 0 0 0 7 0-5-1 2 0 3 0-4 1 9 0 2 1-2 0-3 1 3 1-3 1 6 1-3 0-2 1 6 1 1 1-4 0-4 1 3 2 0 0 4-3 4 0 2-1-1-1 3 0-3-5 3 0 0 0-5-1 1 0 1" fill="none" marker-start="url(#m1)" marker-mid="url(#m1)" marker-end="url(#m1)"/>
<path transform="scale(.5)" d="M52 211" fill="none" marker-start="url(#m2)" marker-mid="url(#m2)" marker-end="url(#m2)"/>
<path transform="scale(.5)" d="M148 99l-5-5-2 4-5 1-1-6-84-3-1 8-4 0-1 0-11-5-4 11 13 0 1 3 4-4 2 0 1 1 1 4 1-8 3 3 1-3 1 2 0-2 75 6 2 0 0 1 3 1 0 1 1 0 1-1 2-6 4 0 0 5 1-6 1 8 0-3 3-2 11-1 29 6-22 1-2 3-1 4-8-3-6 3-2-4 0-2 0 2 0 4-1 2-1-4 0-4-2 4-2 2-1-3 0 1 0 1-1 0-1-3-1 0 0 1-1 3-2-2 0 2 0-1 0 1-1 1 0-6 0 1-84-3-1 1 0 2-1 1-1 2-1-3-1 4 0-5-1 1-1-1-4 0-3 2-1 2-2-2-7 11 1-4 1 6 1 1 11-8 0 0 95 6 1-3 0-3 1 0 0 8 0-4 0 4 1-5 0 0 0 5 1-6 0 4 1-3 0 6 0-6 1 6 1-5 0-1 1 5 2-3 1 4 0-4 2 1 2 0 0 0 1-6 3 5 0-2 5 5 0-4 35 6-5 7-2-3-28-1-6 6 0-7-4 0-4-1 0 8-2-9 0 4 0 3 0 0 0-1-1-6 0 1 0 6-1-5 0 6-1-6 0-1 0 5-1-2 0 4 0 1 0-1 0-6-1 3 0 1 0-4 0 5 0-4-1 6 0-7 0 1 0 0 0 0-1 3 0-1 0 4-1-8-1 0-98 3-2 5-1-2 0-4 0 5-9-1-3-7 0 5-14 0-4 13 22-2 7 1 0-6 103 7 1-3 0 0 0 2 1 1 0-4 1 3 0-2 1-1 0-1 2 5 1-6 0 6 1-7 0 4 1 0 0 2 1-6 0 4 0-5 1 8 0 0 0-5 0-1 1 7 0-3 1-4 0-1 0 2 0 4 1-5 0 3 8 2 2-2 8 10-9-2-1 6-1-4-2 3 0-4-1 0-4 4-1-4 0 5-2-8-1 6-1-3 0 2 0-2-1 1-1-4 0 5-2 1 0-2-1-1-1 0 0 3-1-5 0 7-1-3 0 2 0 1-1-7-99-1-5 1-13 0-1 1-7 0 14 7 2 6 3 2 2-2 6-2 99 0 0-2 1-1 1 4 0-4 0 7 0-2 2-5 0 3 0 4 0-7 1 3 1-2 0-1 1 3 1 2 0-1 2 0 1 4 0-5 3 4 12-8 5 5 3-3 2 3 5 2-8 11-11-8-2 1-9 0-6 5-2 3 0 0-3-8-1-1-1 2-97 5-2 2-9-5-5-3-17 8 24 6 2-4 0 7 7-4 104 0 1 4 1 0 1-5 4 4 3-3 8-3-6 11-2 3-3-1-1 3-2-6-5 5-1-6-2 9-1 0-95-6-6-1-2 9 15 5 5 1 84-6 0 8 7 0-4 2-1 3-1-2-81 3-1-2-7-2" fill="none" marker-start="url(#m3)" marker-mid="url(#m3)" marker-end="url(#m3)"/>
<path transform="scale(.5)" d="M104 49l48 4-11 4-3 2-4-1-13 0-1 0 0 1-2 0 0-2-1 2-5-8 0 4-3-5-1 6-1-1 0 4-1-2-2-1 0 1-2 0-1 2-2-2-2-1-1-4-1 7-1-1-1 0 0-1-1 1-1-2 0-2 0-1-1 3 0 0-1 2 0-5 0 0 0 1-2-3-5 7-1-1-1-3-1-2-4 0-1 7-9-1-2-5-1 1-1 4-1-1-2 2-44 1 33 7 0-5 3 4 0-3 1 2 4 0 0-1 2 4 0-6 4 6 0 0 2 1 1-1 0-1 0-4 1 4 1 2 0-3 1-6 0 5 0-2 0 5 1-2 0-1 1-2 0 5 0 1 1-3 0-2 0-4 0 9 0-5 1-2 1-2 0 5 1 3 1-6 2 1 1-3 0 0 0 5 2-2 0 2 0-2 2 0 0-1 1-1 0 1 0-2 1 3 0-1 1-1 0 1 1-1 1 0 3-1 0 0 0 0 0 0 1 0 1 1 0-1 1 0 1 1 1 1 1-1 0-1 6 3 0-1 0 1 1-1 0-1 1-1 0 1 0 0 1 2 1-1 1 0 0-1 0 1 0 0 2 0 0-2 0 4 1 0 0-1 0-3 0 3 1-2 1 2 1 1 1-1 1-2 0 2 1 3 0-2 0 0 1 0 0 0 1 1 0 1 0-3 1 4 0-1 0-3 0-3 1 2 0 1 0 1 0 0 0 2 1-1 0 4 0-1 0 0 1-2 1 0 0 3 0-9 1 8 0 1 0-1 0 1 0 0 0-1 1-2 2-3 0 5 1-5 0 4 1-4 1 1 1 0 0 2 2-1 1 3 10-2 7 0 1-1 0 3 7-3 6 12-14-4-9 6-2-6 0 1 0-3-3 8-1 0 0-3 0 1-1-6-1 8 0-1-1-3 0-3-1 3 0-1-1-2-1 6 0-1 0-6-1 7 0-1-1-2 0 1-1-6 0 3-1 1 0-3 0 8-1-9 0 9 0 0 0-5 0 4-1-2 0-6 0 1 0 7 0 0-1-5 0-1 0-1-1 0 0 0-50-1-1 1-1-1-1 6 0-4 0 3 0 2-1-7 0 3 0-1-1 2 0 0 0 0 0 4 0-4 0 2-3 0 0 2-1-1-2-1 0 3 0-8-1 7-1 0 0-6-1 3 0-1 0-1 0 1 0 1-1 0 0 1 0 0-2-6-4 4 0-1 0 2-1 1 0-4-3 2-2 4-3-6-4 1-5 0-11 2 7 9 5 4 2-7 1 2 4 6 1-4 1 2 1-5 1 4 7-6 0 9 1 0 0-4 1 4 2-5 0 5 0-4 1-2 0-2 1 2 1-2 0-1 0 5 1-4 1 3 0-2 1 2 1 4 0-1 0-5 0-2 1 1 0 1 2 0 0-1 0 2 2-3 58 4 1 3 0-7 0 8 1-3 0-5 1 9 0-5 0-3 0 8 0-3 1-5 1 8 1-7 0 0 3 2 0 5 0-9 0 2 0-1 1 1 0-1 1 1 1-2 0 5 1 3 2-8 0 8 0 1 1-7 1 5 0 1 0-5 3 2 1-3 3 5 1 2 12-4 0-3 1 7 3-2-14 8-1 1-5-2 0 3-1 1-1-1-1-4 0 1 0 3-1-4-1 5-2-1-1-6 0 6 0 1 0-2-1 1 0 2 0-4 0-5-4 1-1 7 0-2 0 0-1-4 0 1-1-2 0 1-2-2 0 2-1-1 0-1-1 3 0-3-64 3 0-3 0 3-1-3-1 6 0-1 0 1 0 0 0 0-1-2 0 5 0-1 0-5-2 1 0-4 0 4 0 3 0-1 0-5-1 0 0 8-1-6 0-1-1 3-1 4 0 0-2-3 0-4-1 2-5-2 0 4-4-4-3 4-1-4-5-1-7 6-9 1-3 10 5-4 9-1 6 6 2-9 5 6 0-6 5 5 3-4 1 4 0 0 1 1 0-5 0 5 0-4 1 3 0-4 0 8 0-6 1 3 0 0 0-3 0 1 0 1 1 1 3-6 5 0 70 1 1 0 0-1 1 3 0 2 2 4 1-1 1-8 1 3 1 0 0 4 1-6 0 2 1-2 3 4 3 1 4 0 6-2-5 10-12 4 0-7-1 0 0 8-1 0-1-3 0-6-1 4 0-4-83 1 0-1-1 1-1 1-4 3-1-4-1 1-4-1 0 6-3-7-15 6-20 10 18 0 14-4 4 1 3 0 95 3 1-2 1-3 0 1 0 3 1 3 4-5 0 5 3-2 1-2 2-2 0-2 6 18 0 0-1-2-5-6-9 9 0-2-1-2-1-1 0 3-111-3-1-3-2 7-8-4 7 8 11-2 104 6 0-1 1 1 3-2 3-3 0 5 14-1-5 6-4 5 0 0-4-5-3 6 0 0-1 1-2-1-1-2 0 0 0 1-1-4-1 6-109 11 3-1 6-3 97 4 1-9 1 0 1 4 1 4 0-1 1 2 2-6 1 4 2-6 1 8 17-1 23 4-30 1 0-3-2 9 0-2-8 2 0-2-2 1-1-7 0-1-2 4-2 3-1-7-1 4-1-1 0 1-97-4-8 15 4 2 106-4 1-1 1 0 0 3 3-3 1 5 2-4 1 3 1-4 4 4 15 10-22-6-1 5-1 0 0-3-2-2-2 2-5 6-91-4-4-3-4 11 1 0 6 4 1 3 1-2 8 2 86-1 1-1 5-1 9-5 5 14-11-2-8 2-84-3 0 4 0-4-1 3-1-3-3 3-5-1-3 1-1-2-13 2" fill="none" marker-start="url(#m4)" marker-mid="url(#m4)" marker-end="url(#m4)"/>
<path transform="scale(.5)" d="M6 66l31 0 1 3 30 1-2 1-3 3-6 3-2 1-5-3-1 4 0-1-1-3-1 2-3 2-1-4-6 4-2-4-10 4-25 0-1 1 21 7 9-1 2-6 4 4 3 5 2-8 2 0 0 6 0 0 0-2 1-1 0-1 1 6 1-1 2-3 0 3 2-4 0 5 1-3 1-6 0 2 1 6 1-8 0 3 0 4 1-6 1 4 0-1 1 0 2 1 1-3 0 6 0 0 0 0 1 1 0 0 3-2 2-5 0 1 71 1 7 13-5-2-1 1-2-6-72 0-2 2 0 2 0 1-1-3 0 3 0-5-1 6 0 2 0-3 0-5-1 9 0-8 0-1 0 8-1-8 0 1 0 1-1 2 0 5-2-1 0 0-2-6 0 4 0 1-1-7 0 8 0-2 0-5-1 6 0-2 0 3 0-5 0 3-1-2 0 4 0 0 0 0-1-6-1 7 0-1 0-1 0 1-1-5 0-2-1 4-1-4-1 5 0-1-2-1 0 2-2 3 0-5-1 5-1-9 0 0-1 6-1-6 0 9-5-1-1-4 0 4-1 0-8-3-3 4-3 0-3 0 0-2-11-5 17 16 1 1 4-7 2 7 2 0 1-5 0 1 2-5 1 4 1 4 2-1 0-1 1-4 1 3 0 4 0-2 1-1 1 2 1 1 1-1 1-5 1 5 0-7 0 2 1 6 0-4 0 1 1-3 0-2 0 1 0-2 3 5 0 2 0-6 1 3 0 2 0-6 0 1 1 5 0 3 1-5 1 1 0 3 0-1 1 2 0-2 0 1 0-3 0-4 1 3 0 2 1-3 0 1 0-1 0-1 1 0 1 2 1-2 0-2 1 0 0 0 4 0 71 2 6 7 2-3 2 3 11-2 19 1 7 9-3 1-1-8-30 7-2 0-1 2-2 0-1 0-86-9 0 2 0-1-2 2 0-1 0-1-1 2-1 0 0-3-1 0-2 2 0 2 0-3 0 1 0 6 0-3-1 1 0-2 0 1-1 4-2 0-1-5 0-2 0 3 0 3 0-1-2-7-1 7 0 0 0-6 0 1 0 6-1-6 0 0-1 3 0-5 0 8-1-3-1-3 0-1-2 5 0-1 0-5-1 4 0 5-2-7 0 6-1-8-2 4 0-3-2 3-1 4-6-8-17 17 3-3 10-1 1-1 3 2 5 1 1-2 2-2 1 7 2 1 2 0 0-3 0 3 2-1 0-2 1 0 1-4 0 6 1-8 0 6 0 3 2-2 0-2 0 4 1-9 1 3 0 0 0 2 0 4 0-1 1-6 0 7 1-6 0 4 0-1 1-1 0-5 1 5 1-4 0-1 94 1 0 6 1-6 5 7 3-2 5-4 25 7 25 1-39 7-7 2-6 0-4 0-1-4-3-3 0 7 0-4-1 4-1-3 0 0-1 1-99-5 0 4 0 1-1 0 0-2 0 1 0 0 0 0 0-5 0 8-1-6-1 3-1-4 0 1-1-2 0 3 0-3-2 1-1-1-1 7 0-7-1-1 0 4-1 0 0 1 0-1-1-2-2 5 0 0-1-6-1 5-3-4 0 5-2-6-3 6-4-4-11 15 3 0 1-6 4 1 0 1 1 0 5 0 0 2 2-6 2 0 2 8 1-8 0 4 1 0 1-3 0 1 1-1 0 8 0-2 0-1 1-2 0-1 0 5 1-6 1 0 0 1 2 5 0 1 0 0 0-1 1-6 0 0 1-1 1 4 0-1 1 0 0-1 1-1 0 4 0 3 0-2 0 1 1 0 1-1 0-6 1 6 100-5 1 7 0-2 0 2 0-8 2 2 0-3 0 3 1 5 1-5 0 4 0-2 1 4 1-3 1-6 0 6 0 3 2-5 1 5 2-5 7 0 11-3 16 6 29 10-29 2-14-2-12 2-1-5-1 0-1 4-2-3-6 4-1-8-4 1-1 0 0-2 0 6-1 0-2-2-1 5 0-7 0 1 0 2-1 1-98 1-1-5 0 5 0 0 0-7-1 2-1 6 0-1 0 0-1-5 0 0-1 2 0 2 0 1-1-4 0 3 0-6 0 6-3 3-1-6 0 0-4 1 0-2-1 0-25 0 19 13 0 4 1-7 1-1 0 4 2-2 0 3 0 2 0-6 1 7 1-8 1 4 1 1 1-3 0 5 2-5 0-1 1 6 1-1 0-2 1 3 0 0 1-2 0-6 0 5 1-1 1-2 0 2 0 1 0-5 0 0 0 9 0-7 1 7 1-8 0 5 0-4 0-2 1 6 0 0 1-4 0 5 0 0 1-1 96-6 0 2 1 1 1-3 0 1 1 1 1 0 0 6 1-6 1 3 1 3 1-1 0-1 0 1 0-5 1 4 2-6 2 0 0 4 2 0 0-3 1 4 0-4 4 6 4 0 0 0 9-5 37-1-29 14-2-2-6 5-3-2-4 3-2-2-4-1-1 0 0-5-1 1 0 4 0 2-1 1 0-8 0 7-1 1 0 0-2-3 0-5 0 8-2-1 0 1-1-1 0-4-1 4 0-7-1 3-1 4-1-8-1 1 0 6-1-3 0 0-1 5-1 0 0 0-1-8 0-1 0 3-1 1-1-4 0 5-1-4-96 3 0-4-1 5 0 4-1-1-1-1 0 2-1-4 0 0 0 0 0 2 0-5-1 0 0 1 0 3 0-5-2-1 0 1-2 0 0 5-1-3-1 3-3-5-2 1-1-2-1 4-1-1-2-3-3 2 0 4-1-4-14 5 12 5 4 5 1-2 1-2 1 4 5-2 1-1 1 5 1-7 1 3 1-2 2-1 1-2 3 0 0 0 0 7 0 0 0-4 2-1 0-1 0 0 1 5 0-1 0 0 0-1 1 5 0-1 0-3 0 2 1 2 3-1 97 1 0-2 0-5 0 2 1 0 0 4 1-8 0 2 0 6 0-4 1 2 0 0 0-1 1 4 0-5 1-2 0 1 1 6 2 0 0-6 0 4 1 2 0-2 0-3 2 3 0 1 0-2 1-2 0 0 1 2 1-4 0 3 0 2 2 0 1-5 2 0 2 7 5-7 1 6 1-6 4 1 4 2 4 9-5 1 0 0-8 0 0-4-3 5-1-2-2-3-1 5 0-1-2 4-1-5-1 1-1 2 0 2 0-3-2-1 0-3-2 3 0-1 0 1 0 0-2 3 0 0 0-8 0 7-1-3-1-3 0 0-1-1 0 9-1-2 0 0-1 2 0-7-1 6 0-8-3 5 0-5 0 8-1-5 0 4 0 2 0-1-93-3-1-5 0 7 0-2 0-4 0 6-1-3 0 2 0-5 0 8-1 0 0-3 0 1 0-4-1 0 0 2 0 2-1 0 0 2 0 0 0-7-1 7-2 0 0 0 0-6-1 5-1-4-1 1 0-5 0 7-1 1 0 1-2-9 0 0-2 4-3 1 0 3-2-5-1 0-4 3-3-1-3-4-1 8 5 7 0-6 4 4 4-3 0 4 1-3 4 2 2 3 0-4 0-2 0 7 3-7 3 1 2 1 0-2 1-1 0 4 0 2 1 2 0-2 1 0 1-2 1 1 1 3 0-4 0 2 0 1 0-4 1-3 0 4 0-3 1 3 0 5 0-4 1 1 0 1 0-1 1 2 0-4 1 2 1-1 1 4 2-2 1 2 1 0 81-6 1-1 0-2 0 3 0 5 1-4 0 1 0-3 0 5 0-6 1 6 1 0 0-7 1 1 0 2 1 5 0-8 0 7 0 0 0-4 1 4 0-3 0 3 1-7 0 1 1 1 2 6 1-8 1 4 0 5 1-4 0 1 0-2 0-2 1-1 0 8 1-7 0 5 0-6 0 3 0 1 4 1 0 3 1 0 0-8 2 3 1-4 1 3 0 4 1-5 1 7 2-5 1-1 15 1 1 0 5 2 6-6 15 13-26-2-6 0-2 4-5 0-6 0-2-1 0 1-1-3 0-2-3 1-8-1-4 1 0 0-1 1-1 2 0 1 0-1 0 0-1-1 0 3 0-4-1 0 0-1 0 4-1 0-1-5 0 6 0-3-1 2-1-5 0 4 0 0-1-3-80 3-1-1 0-2-1 1 0-2 0 3-1-3-1 5 0 1-1 0-1-1 0-4-1-1 0 0-1 2-3 1-2 2-2-3-1 1-2 2 0-4 0 0-4-1-9 1" fill="none" marker-start="url(#m5)" marker-mid="url(#m5)" marker-end="url(#m5)"/>
<defs><path id="c259" d="M38.4 88.2l0.8 0.6 1.2 1.4 1.1-2 0.2-1.1 1.2-1.7 0-2.7 0-0.3 0.7-2.5 0.5-2.7 0.1-0.5 0.2-2.3 0.7-2.7 0.3-2 0.1-0.8 0.1-2.7 0.2-2.8-0.4-1.6-0.2-1.1-0.2-2.8-0.5-2.7-0.3-1-1.3-1.4-0.4-0.4-0.8-0.9-1.3-0.9-1.2 0-1.2 1.1-0.8 0.7-0.5 0.5-1 2.3-0.2 0.7-0.9 2-0.4 2-0.1 0.8-0.2 2.7-0.1 2.8 0.4 1.9 0.3 0.8 0.1 2.8 0.8 2.7 0.1 0.4 0.2 2.4-0.1 2.7 0.7 2.8 0.4 2.7 1.3 2.5zM40.4 85.6l0-0.2 0-0.1 0.3 0.1z"/><path id="c260" d="M38.2 79.9l1 2.1 1.2-1.3 1.3-0.8 0.8-2.7-0.1-2.8 0.5-1.4 0.7-1.3 0.1-2.8 0.2-2.7 0.1-2.8-0.1-2.7-0.6-2.8-0.4-1.3-0.8-1.4-0.4-0.4-1.3-1.5-1.2-0.3-1.2 1.5-0.5 0.7-0.8 1.2-0.6 1.5-0.2 2.8-0.1 2.7-0.3 2.1-0.3 0.7 0.3 0.7 0.6 2 0.1 2.8 0.5 2.7 0 0.5 0.6 2.3 0.7 1.7z"/><path id="c261" d="M39.1 71.7l0.1 0.1 1.2-0.1 1.3-1.7 0.2-1.1 0.6-2.7 0.4-2.4 0.1-0.4-0.1-0.5-0.4-2.2-0.7-2.8-0.1-0.2-1.3-0.3-1.2-1-1.2 0.9-0.4 0.6-0.2 2.8-0.2 2.7 0.5 2.8 0.1 2.7 0.2 1z"/><path id="c262" d="M38.9 66.2l0.3 1.8 1.2-1.8 0-2.8-0.8-2.7-0.4-0.2 0 0.2-0.1 2.7z"/><path id="c263" d="M53.7 109.6l1.2 0.7 2.3 0.6 2.3 0.4 2.3-0.9 2.3-0.2 2.3-0.1 0.6-0.5 0-3.4-0.6-1-1.2-2.4 1.2-2.1 0.8-1.3-0.8-2.1-0.3-1.3 0.3-0.6 1.5-2.8 0.1-3.4-0.2-3.5-0.1-3.4 0.8-3.4 0.2-3.4 0.5-3.4 0.1-3.4-0.6-1.5-0.6-1.9 0.1-3.4 0-3.4-0.6-3.4-1.2-2.5-0.7-0.9 0.1-3.4-1.7-1.3-2.3-0.4-2.3-0.1-2.3-0.2-2.3 1.7-0.3 0.3-2 3-0.2 0.4-0.9 3.4-0.3 3.4-0.7 3.4-0.2 3.4 0.6 3.4 0 3.4-0.6 1.7-0.5 1.7 0.5 1.4 0.5 2 0.1 3.4 0 3.4 0.6 3.5 0.9 3.4-0.9 3.4 1.1 3.4 0.6 3.4 0.5 3.4z"/><path id="c264" d="M58.7 109.6l0.8 0.2 0.4-0.2 0-3.4 1.9-2.1 0.9-1.3 1.4-2.9 0.3-0.5 0-3.4 2-3.3 0.1-0.1-0.1-0.3-2.3-3.1 1.5-3.5-0.4-3.4 1.1-3.4 0.1-3.4-0.2-3.4 0.2-0.6 1.1-2.8-1.1-2.6-0.3-0.8 0.3-3.4-0.5-3.4-1.1-3.4-0.7-0.9-2.3-2.2-0.4-0.3-1.9-1.7-2.3 0.4-1.2 1.3-1.1 0.6-1.3 2.8-0.4 3.4-0.5 3.4-0.1 1.7-0.2 1.7 0.2 0.5 0.4 2.9 0.5 3.4-0.2 3.4-0.2 3.4 0.5 3.4-0.9 3.4 1.7 3.5-0.7 3.4 1.2 2.8 0.5 0.6-0.5 1-0.7 2.4 0.7 1.5 1.3 1.9 1 2 1.5 1.4z"/><path id="c265" d="M58.4 96l1.1 1.2 0.8-1.2-0.8-2.9zM57.1 89.2l0.1 0.3 2.3 2.8 2.3-3.1 1.2-3.5-0.4-3.4 1.5-3.4-0.6-3.4 0.6-0.7 0.7-2.7-0.7-3.4 0-3.4 0.4-3.4 0-3.4-0.4-0.8-2.3-1.6-1-1-1.3-1.4-1.4 1.4-0.9 1.4-2.3 0.8-0.4 1.2 0.1 3.4-0.1 3.4-0.3 3.4 0.7 2.4 0.6 1-0.1 3.4 0 3.4 1.8 2.4 0.4 1-0.4 1.7-1.9 1.7z"/><path id="c266" d="M59.3 89.2l0.2 0.3 0.2-0.3-0.2-0.5zM58.8 82.3l0.7 1.6 1-1.6-1-2.8zM57.2 75.5l2.3 1.7 0.3-1.7 2-3.2 0.2-0.2-0.2-0.4-0.8-3-1.5-3.2-0.3-0.2-2-1.2-0.6 1.2 0.6 2.5 0.4 0.9 0.1 3.4zM59.3 58.5l0.2 0.2 0.6-0.2-0.6-0.3z"/><path id="c267" d="M35.2 109.5l0.4 0.5 1.6 0.5 1.6 0.8 1.5-0.2 1.6 0.2 1.6-0.2 1.4-1.6 0-3.1 0.2-1.4 0.5-1.7-0.3-3.1 0.8-3.1-0.2-3.1 0.1-3.1 0.3-3.1-0.7-3.1 0.4-3.1-0.1-3.1 0.3-3.1-0.5-3.1-0.6-2.6-0.1-0.5 0.1-0.4 0.5-2.7-0.4-3.1 0-3.1-0.1-0.3-1.6 0.3 0.2-3.1-0.2-0.6-1.2-2.5-0.4-0.7-0.5 0.7-1.1 0.9-1.1-0.9-0.4-0.4-0.3 0.4-0.5 3.1-0.8 0.6-1.6 1.8-0.3 0.7 0.3 1.3 0.3 1.8-0.3 1.4-0.5 1.7-0.3 3.1-0.2 3.1-0.6 3.1 0.3 3.1 0.1 3.1 0.1 3.1-0.2 3.1 0.5 3.1-0.2 3.1-0.1 3.1 0.6 3.1 0.1 3.1 0 3.1z"/><path id="c268" d="M38.1 109.5l0.7 0.5 1.5-0.4 1.6 0.3 1.6-0.3 0-0.1 0-3.1 0-0.4-0.3-2.7 0.3-1.7 0.2-1.4 0.4-3.1 0.1-3.1-0.4-3.1 0.7-3.1-0.4-3.1 0-3.1 0.1-3.1-0.3-3.1 0-3.1 0-3.1-0.4-1.6-0.5-1.5-0.2-3.1-0.6-3.1-0.3-0.8-1.6-0.7-1.5 1.5-0.8 3.1-0.6 3.1-0.2 0.8-0.4 2.3-0.3 3.1-0.5 3.1 0.1 3.1 0 3.1 0.2 3.1-0.6 3.1 0.7 3.1-0.1 3.1-0.2 3.1 0.8 3.1 0.3 2.2 0.1 0.9 0.8 3.1z"/><path id="c269" d="M38.2 100.2l0.6 1.8 1.5 0.4 1.6-0.3 0.4-1.9 0.3-3.1 0.3-3.1-0.5-3.1 0.8-3.1-0.3-3.1-0.1-3.1 0.3-3.1-0.9-3.1 0.6-3.1-0.9-2.3-1.6-0.8-1.5-0.6-0.3 0.6-0.2 3.1-0.1 3.1-0.9 3.1-0.1 1.6-0.1 1.5 0.1 0.9 0.3 2.2-0.3 3.1 0.3 3.1 0.1 3.1 0.1 3.1z"/><path id="c270" d="M39.3 94l1 2.5 0.9-2.5-0.7-3.1-0.2-3.1 1.5-3.1-0.8-3.1-0.7-1.1-1.5 0.6-0.2 0.5 0.2 0.8 0.4 2.3-0.4 2.3-0.2 0.8 0 3.1 0.2 1z"/><path id="c271" d="M47.6 103.2l2.1 2.6 5.1-1.6 0.6-1-0.6-2.3-0.6-0.8 0.6-0.3 5-0.8 1.3-2.1-1.3-3.1 1.5-3.1 3.6-2.3 0.6-0.9 0.4-3.1-0.2-3.2-0.5-3.1 0.2-3.2 2.6-3.1-0.4-3.1 0.7-3.2-2-3.1-1.4-3.2-0.7-3.1-1.5-3.2-2.9-1.2-5-0.7-4.4-1.2-0.7-0.2-1 0.2-4 0.6-5.1 0.3-3 2.2-2 1.3-4.2 1.9 0.4 3.1-1.3 2.9-0.2 0.3-0.5 3.1-0.3 3.2 1 2.1 0.4 1-0.1 3.1-0.3 1-1.6 2.2 1.6 0.9 2.1 2.2 0.1 3.2 0.5 3.1 2.4 3.2 1.1 3.1 3.9 3.1 1.5 3.2 3.6 2.4z"/><path id="c272" d="M47.6 93.8l2.1 1.4 1.7-1.4-1.7-2.1-0.9-1 0.9-0.3 4.1 0.3 1 0.1 0.2-0.1 1.3-3.2 0.8-3.1 2.7-0.8 2.2-2.4-0.8-3.1 1.2-3.2 1.3-3.1-0.5-3.1-0.7-3.2 0-3.1-0.3-3.2-2.4-2.7-0.5-0.4-4.5-2.5-5.1-0.7-5-0.1-0.8 0.1-4.3 1.7-2.3 1.5-2.4 3.1-0.3 0.7-1.4 2.5 0.2 3.1-1.2 3.2 2.4 2.7 0.3 0.4-0.3 0.7-1.6 2.4 1.6 2.5 0.4 0.7 2.1 3.1-0.8 3.2 1.4 3.1 1.9 2.8 0.3 0.4 4.8 1.9z"/><path id="c273" d="M49.1 84.4l0.6 0.9 0.3-0.9 3.4-3.2-3.7-2.6-0.8-0.5 0.8-0.6 5.1 0.6 1.5-3.2 0.6-3.1 1-3.1-2.6-3.2 1.6-3.1-1.3-3.2-0.8-0.6-3-2.5-2.1-0.7-3 0.7-2 1-3.8 2.1-1.3 0.5-2.5 2.7 2.5 2.5 0.8 0.6-0.8 1.7-1.1 1.5 0.7 3.1 0.3 3.1 0.1 0.3 1.7 2.9 3.4 3.1z"/><path id="c274" d="M44.7 71.8l5 0.8 1.1-0.8 1.5-3.1-1.5-3.2-0.7-3.1-0.4-0.3-5-0.7-3.9 1 3.5 3.1 0.4 0.9 2.4 2.3z"/><path id="c275" d="M40.8 110l3.1 1.1 5.2-0.3 5.2 0.4 2.1-1.2 0-4.1 3.1-4.2-0.4-4.2 0.4-0.6 3-3.6-0.2-4.2 0.9-4.1 0.4-4.2-0.6-4.2-0.2-4.2 0.4-4.2 0.1-4.2-1.2-4.1 0.6-4.2 1.9-3.7 0.4-0.5-0.4-0.6-1.2-3.6-0.7-4.2-0.8-4.1-1.4-4.2-1-1.2-5.2-1.5-5.2-0.8-5.2-0.6-5.1 1.9-3.5 2.2-1.4 4.2-0.3 0.6-1.9 3.5-1.2 4.2 0 4.2 0.3 4.2 0.7 4.2-0.4 4.1-0.1 4.2-0.1 4.2 0.8 4.2 0 4.2 0.6 4.2-0.4 4.1-0.4 4.2 0.8 4.2 1.3 2.6 1.4 1.6 3.8 2.6 2 1.6z"/><path id="c276" d="M38.8 97.5l5.1 3.4 5.2-0.4 5.2 0.2 1.8-3.2 1.2-4.2-0.1-4.2 0.8-4.1 1.5-2.1 1-2.1-1-4.2 0-4.2-0.5-4.2 0.5-1.4 0.6-2.8-0.6-1.3-1.5-2.8 1.2-4.2-1.2-4.2 1.5-2.9 0.8-1.3-0.5-4.2-0.3-0.6-5.2-2.9-0.2-0.6 0.2-2.8 0.2-1.4-0.2-0.1-5.2-0.6-5.2-1.4-3.7 2.1-1.4 2.3-1.2 1.9-0.7 4.1-2.6 4.2 0.6 4.2 1.1 4.2-0.5 4.2-0.8 4.1 0.2 4.2 0.5 4.2 0.5 4.2-0.1 4.2 0.5 4.2 0.3 4.1 2.2 3.9 0.1 0.3z"/><path id="c277" d="M43.7 93.3l0.2 0.4 5.2-0.4-5.2-0.7zM43 85l0.9 1.2 5.2 2.9 2.3-4.1 2.9-4 0.1-0.2 0.5-4.2-0.6-1.1-3.2-3.1 0.5-4.2 2.7-3.3 0.4-0.9-0.4-1.3-0.7-2.8 0.7-1.4 1.1-2.8-0.6-4.2 0.2-4.2-0.7-0.6-3.5-3.6 0.1-4.1-1.8-1.7-4.4 1.7-0.8 0.8-1.8 3.3-3.3 3.8-0.3 0.4 0.3 0.7 2.8 3.5-1.2 4.2 0.1 4.2-0.5 4.1-0.1 4.2 1.3 4.2 0.9 4.2-0.1 4.2z"/><path id="c278" d="M43.5 64l0.4 1.6 5.2-1.6 1.1-4.1-0.3-4.2 0.8-4.2-1.6-2.5-2.1 2.5-3.1 2.1-1.2 2.1 0.6 4.2zM42.7 47.3l1.2 1.5 2.8-1.5-2.8-1.6z"/><path id="c279" d="M29.3 109.8l0.8 0.3 6.9 1.5 6.8 0.1 6.9 0.1 6.8 0 6.9-0.6 5.5-1.4 0-3.7 0.2-3.8-1.2-3.7 1-3.8 0.5-3.7-2.2-3.8-2.6-3.7 1.2-3.8-2.4-2.5-1.3-1.2-1-3.8-1.7-3.7-2.3-3.8-0.6-1.5-0.8-2.3-6-3.7-3.4-3.8-3.5-2.2-2.7-1.5-4.1-0.9-4.1 0.9-2.8 0.7-4.1 3 0.2 3.8-2.9 2.1-1.8 1.6-1.7 3.8-0.1 3.8-1.9 3.7 2.6 3.8-1.6 3.7 1.2 3.8-0.5 3.7-0.3 3.8 3.6 3.7-0.1 3.8 0.6 0.6 3.4 3.1 2.6 3.8z"/><path id="c280" d="M43.8 109.8l6.9 0.2 6.8 0 1.1-0.2 0-3.7 3.6-3.8 0.4-3.7 1.8-3.8 1-3.7-1-1.3-3.4-2.5-0.4-3.7-2.2-3.8-0.9-0.7-2.1-3 0.3-3.8-5-3.1-1-0.6 0.4-3.8-6.3-3.8-6.8-2.8-6.9 1-3.1 1.8 0 3.8 1.5 3.8-3.3 3.7 1.9 3.8-2.3 3.7 2 3.8-2.3 3.7 0.6 3.8 3.4 3.7-1.1 3.8 2.7 1.7 2.5 2 4.4 3.4 6.8 0.4z"/><path id="c281" d="M36.7 102.3l0.3 0.2 6.8-0.1 1.2-0.1 5.7-0.6 4.4-3.1 2.4-3.8-1.3-3.7-1.9-3.8-0.4-3.7-3.2-3.4-0.5-0.4-3.2-3.7-1.9-3.8-1.3-0.8-6.2-2.9-0.6-0.6-0.3 0.6-1.8 3.7-1.5 3.8-3.3 3.1-0.6 0.6 0.6 0.8 2.1 3-2.1 1.7-1.9 2 1.9 2.1 1.7 1.7 1.2 3.7 4 3.5 0.8 0.3-0.8 2.1z"/><path id="c282" d="M38 94.8l5.8 1.3 3.8-1.3-3.6-3.7 3.6-3.8-3.8-2-6.8-1.7-1.6 3.7 1 3.8 0.6 2.8z"/></defs>
<g fill-rule="evenodd"><use href="#c259" fill="#fff"/><use href="#c260" fill="#8000ff" fill-opacity="0.15"/><use href="#c261" fill="#8000ff" fill-opacity="0.15"/><use href="#c262" fill="#8000ff" fill-opacity="0.15"/><use href="#c263" fill="#fff"/><use href="#c264" fill="#1996f3" fill-opacity="0.15"/><use href="#c265" fill="#1996f3" fill-opacity="0.15"/><use href="#c266" fill="#1996f3" fill-opacity="0.15"/><use href="#c267" fill="#fff"/><use href="#c268" fill="#4df3ce" fill-opacity="0.15"/><use href="#c269" fill="#4df3ce" fill-opacity="0.15"/><use href="#c270" fill="#4df3ce" fill-opacity="0.15"/><use href="#c271" fill="#fff"/><use href="#c272" fill="#b2f396" fill-opacity="0.15"/><use href="#c273" fill="#b2f396" fill-opacity="0.15"/><use href="#c274" fill="#b2f396" fill-opacity="0.15"/><use href="#c275" fill="#fff"/><use href="#c276" fill="#ff964f" fill-opacity="0.15"/><use href="#c277" fill="#ff964f" fill-opacity="0.15"/><use href="#c278" fill="#ff964f" fill-opacity="0.15"/><use href="#c279" fill="#fff"/><use href="#c280" fill="#ff0000" fill-opacity="0.15"/><use href="#c281" fill="#ff0000" fill-opacity="0.15"/><use href="#c282" fill="#ff0000" fill-opacity="0.15"/></g>
<g fill="none" stroke-width="1.20" stroke-linejoin="round"><g stroke="#8000ff"><use href="#c259"/><use href="#c260"/><use href="#c261"/><use href="#c262"/></g><g stroke="#1996f3"><use href="#c263"/><use href="#c264"/><use href="#c265"/><use href="#c266"/></g><g stroke="#4df3ce"><use href="#c267"/><use href="#c268"/><use href="#c269"/><use href="#c270"/></g><g stroke="#b2f396"><use href="#c271"/><use href="#c272"/><use href="#c273"/><use href="#c274"/></g><g stroke="#ff964f"><use href="#c275"/><use href="#c276"/><use href="#c277"/><use href="#c278"/></g><g stroke="#ff0000"><use href="#c279"/><use href="#c280"/><use href="#c281"/><use href="#c282"/></g></g>
</svg>
<svg x="268.54" y="569.05" width="108.00" height="108.00" viewBox="0 0 108.00 108.00">
<path transform="scale(.5)" d="M128 109l2 0 3 0 2-1 2 1 1-4 5 3 5 1 2-6 10 14-3-1-8 0 0-6-1 9-3-7 0 1 0 2-1-2-1 3-1 0-3-3 0 3 0-1-2 3-1-2 0 0 0-3 0 2-1-3 0 5 0-2 0-2 0 0 0-2-1 5-1-1-3-5 0 4-2-2-1-1 0 0 0 2 0-3-1 2 0-1 0 0-1 1-1-1 14 14 1 2 0-1 0-6 0 1 1 0 0 4 0-1 0-1 1 2 0 0 0 2 0-4 0 2 0-1 1-4 0 3 0-3 1 5 1 1 0 3 1-7 0 2 0 2 1 0 0 3 0-7 0 6 1-7 0 5 1-3 1 2 0 2 0-4 1-2 0 8 1-7 1 7 2-2 0-6 1 8 1-1 0-2 0-1 3-3 0 7 1-4 1 0 7 0 1 1 5 3 16 1-15 8-4-3-6-2-1 2-2 0-1-3-1 2 0 1 0 3-1-4 0-1-1 0-3 0 0 2 0 0 0-3-1 0-1-1 0 8-1-5 0 4 0-4 0 1 0-5 0 1 0 8-1-4 0-3 0 3 0 4 0-8 0 0 0 3 0-3-1 7 0 0 0-8 0 0-1 9 0-1-2-3 0 1 0-6-2 0 4 18 0 1 1-2 0 1 0-8 1 1 0 4 0 4 1-5 0-4 1 6 0-2 1 1 1 1 0 0 0-5 1-1 1 1 2 4 0-2 2 3 0-2 2-4 0 1 0 5 3 2 0-3 3-1 1 2 0-4 2-1 2 0 15 5 2 3-4 1-5 4-1 3-9-5 0 0 0-1-1 1 0 2-1 4-1-5 0-3-1 3-2 2-1-2 0-3-1 6 0 3-1-4-1-1-2-3-1 0 0 0-2 1 0 1 0-2-1-1-1 5 0-3-1 7 0-4-1 1 0-1 0-4 0 5-1-1 0 4 0-1-1 0 0 0 0-7 0 0 0-1 0 7 0-1 0 1-1-2-1 0 0-5-1 2-133 7 133 10 1-1 0-3 1 0 1 0 0 0 0-1 0 2 0 3 0-8 1 4 0-4 1 0 0-1 0 1 1-1 0 6 0 1 0-2 1-2 0 6 0-6 0 0 1 2 1-4 0 0 0 3 0 2 3-1 0-5 0 4 1-4 2 9 0-7 0 0 1 1 2 5 2-6 0 5 1 2 0-2 0-6 7 2 0 5 9-4-6 14-2-4-3 3 0 2-1-8-3 8-1-8-3 8-1-5-2 5-1-5-1 4-2-6-2 5-1-2-1-4-1 1-3-2-2 2 0 1-2-3 0 1 0-1 6 17 1-2 2 1 1-5 1 4 1-1 1 0 2-4 7 0 1 8 3-5 1 4 6 11-12-8-2 2-8 4-2-4-2-1 3 13" fill="none" marker-start="url(#m0)" marker-mid="url(#m0)" marker-end="url(#m0)"/>
<path transform="scale(.5)" d="M4 89l2-1 0 1 1-1 141 4-134 3 0 2-1-2-1 1-1 1 0 0-1-5 0 3 0 1 0-5 0 4 0-4 0 5-1-3 0-3 0 6-1-2 0-4 0 3-1 4 0-3-1-3 0 0 0 3-1 0 0 2-1-3 0 0 0-3 0 7-1-2 0-4-1 4-1 0 137 11 12 1 6 3 0 0-7 9-3-1-5-1-5-2-4-3-5 0-1-1 13 12 1 4 7-1 1-2 3-4 12 8 12 0-11 9-3-3-5 1-8-4-3-1-140 8-1 1 0 0-1-1-1-1 0-1-1 2 0 0 1 10 1 0 1 0 0 1 145-9 5 1 1 4 2-4 5-1 4 1 24 17-13-2-2-4-2 2-9-4-3 6-1 2-4-6 0-2-2 8-2-5 0 1-1 0-1-1-134 6-1 0 0 0-1-1-2 1-1-3 0 0-1-2 0 5 0-4-1 1-1-5 0 8 0-2 0-3-1 0 0 1 0-1-1-2 0 1 0-2 0 5 0-6-1 5 0-2-1-1-1 7 0-4 0-3-1 1 0 6 0-3-1-1 0-5 0 6 0 1 0 4 0-1 1 7 0-5 1 2 0-3 0 1 1 1 0 6 1-2 0-3 0-3 0 1 0 0 2 5 1-6 1-1 1 7 0 2 0-2 0-1 0 1 0-1 1-6 0 1 1 2 0 4 1-7 0 5 1 2 0-3 0 3 1 1 0-1 0 2 1-5 0 5 0-1 0-8 0 7 0 1 1-6 0 7 1-1 131-3 2-4 1 4 3-1 2 2 0 0 6 1 4-2 0-2 7 2 0-5 2 1 27 18-13-5-11 2-4 1-4-2-3 1-4-5-2 1-5 2-1 4-1-4 0-2-4-1-3-1-131 5-1 4 0-5 0 5-2 0-1-6 0 2-1-4 0 8-1-3 0-6 0 8 0 1 0-8-1 7 0-5-1 5 0-4 0-4-2 2-3 5 0-6 0 5-2 9 0 0 0 2 0-5 3 3 1 3 2-1 0-1 1 3 0-5 2 5 0-1 0-3 1 2 0 2 0 0 0-8 0 0 1 4 1 4 0-5 0-2 0 3 1-3 0-1 1 0 0 1 1 1 0 5 1-4 0-2 2 4 0-1 1 1 0 1 133-1 3-1 0-2 0 0 1 3 2-6 2 2 1 1 0 1 1-3 1 3 1 5 1-9 23 5 0 0 1 1-8 11-6-5-1 0-12 6-1-2-2-1-2 3 0-6-1 2-1 4-1-5-119 4-1-1 0 1-2 0-1 1 0-1-1 1-1 0-2-2 0 3 0-1-2 0-1-2 0 2 0 0-1 0-1-7 0 3-2-3-1 4-1-2-1 3 0-1 0 3-1-3 0-1-1-2 0 2-1-1 0 1-1 5-2-4 0-3-2 6-3-1 0 0-1-4 0 1-4-1-1 2 8 8 1 6 2-6 1 5 2 1 2-3 1 2 0-4 2 4 1-6 1 1 1 0 1 3 0-6 1 0 0 3 1-3 0 9 0-6 0 4 2-1 1-2 0-3 1 1 0 2 0 2 1-2 0-3 1 8 0 0 0-3 1-5 1 4 1-1 0 1 1-4 0 3 0 2 1-2 0-1 0 5 1-1 1 2 3-1 115-3 1-2 0 4 1-5 1 0 1 2 2 2 0-4 0 1 4-1 2 5 0-7 2 9 7-1 8 1 2-8 9 5 9-1 0 9-9 1-10 0-17-3-2 4-1-1-1-3-1-2-3 0-2 1-112 4-1-3-1 2 0 0-2 2-1-6-2 1-1 0-1-1-3 0-1 0-1 2-1-1-3 2 0 1-1-2 0 1-1-2-4 2 0-3-1 1-4 4 0-3-2 3-7-3 0 1-5-1" fill="none" marker-start="url(#m1)" marker-mid="url(#m1)" marker-end="url(#m1)"/>
<path transform="scale(.5)" d="M2 93l0 3 130 13 6-4 1 3 53 1-35 5-8 5-3-4-5 4 0-3-1 1-4 0 0 2-2-3-6-4-3-1-1 0 15 10 2 4 1-2 6 0 0 1 1 5 1-1 4 1 5-6 3-1 3 6 5-8 14 4 32 14-34-2-10 2-11-8-1 6-2 3-6 0-1 0 0-6-1 5-3-1-140 1-1-1-1 0-1 0-3 1 3 10 155-6 0 1 1-2 0 7 1-8 0 0 3 8 6 1 6-8 31 16-5-6-7 4-2-4-4 5-1-6-2 6-2-4-3 7-2-1-6-3-1 3-1-8-2 3-1 1 0 1-3-5-4 3-2-2 0 8-1-3-1 2-1-8-2 8-1-7 0 8 0-2-2 2 0-2 0 0-2-4-136 6-1 0-2-1 0-2-1 2-1-1 0-5 0 5 0 2-2-3 0-3 0 5-1 0-2-7 0 0 0-1 0 1-1 5 0-4-1-2 0 1 0 13 1-3 1 2 2-1 1-2 0 5 0-5 0 2 1-1 0 7 1-8 1 4 1-2 0 2 1-1 0-1 0-2 1 6 0 0 2 0 1 2 0-6 0 5 1-7 0 7 0-7 1 6 0-2 2 4 128-1 1-1 2-2 0 0 0 0 0 0 1-3 0 8 1-8 0 2 0-2 0 2 0-3 1 0 1 4 0 3 1-6 0 0 0 3 3 1 0-2 2 3 0-2 1 4 0-1 1-3 1-4 1 2 0 5 0-7 0 6 4-3 2 0 1 6 2-1 4 1 4-9 20 8 0-1 4 9-4 0-14-1-6-5 0 6-1 1-4-5-3-2-4 5-4 3 0-5-1 2-1-2-2 2 0-2-1-1 0 7 0 0-1-9-1 7 0-5 0-1-1 5-1 3-1-2 0-1 0 0-1-3 0 0-1-2 0 2 0 1 0-3 0-1-2 2 0 2-1-1-1 0-131 4-1-6 0 0-1 6 0-3-1 5 0 0-1-5-1-3 0 0 0 8 0-6-1-1 0-2 0 4-1 3 0-3 0-1 0 0 0-2-1 0-2 1-3 1 0-3-1 9-1-1 0-6-1-2-1 9 0 9 4-5 1 4 0-5 1 6 0-4 0 3 1-6 2 4 0 4 0-3 2 1 0-2 2-3 0 0 1 0 0 6 0-8 0 1 1 4 0-5 1 2 0 4 0-5 0 5 0-4 0 6 1-3 1 3 1 0 1 1 1 0 2 0 128-2 2 1 0 1 2-6 1 5 0 1 0-6 0 6 0-4 0-5 2 6 0-5 0 3 0 3 0-7 1 3 1 3 0 3 1-3 0-4 1 5 0-5 0-2 1 7 0-4 1-1 0 1 0 3 1-1 0 2 1-3 0-4 1 0 0 4 0 5 1-5 1 4 1 1 0-4 3-2 1 0 2 4 1 2 2 0 1-9 2 9 0-7 1 5 1-1 0-3 6 4 1-7 1 8 5-1 12-1-2 9-3-1-8 0-4 4-3-6-5 4-3 1-2-6-1 6 0-7-1 9-3-5 0 4-2-2 0-5-1 5 0-2-1 3-1-6 0 8-2-4 0-2-1 4 0-4-2 4-1-5 0 5 0-6-1 1 0 7 0-5-1 4 0-2 0 2 0-3 0 1-1-1 0 4 0-7 0 5-1-4 0-1-1 0 0 0-1 1 0-2 0 7 0-8-1 3-1 1-1-4 0 2 0-2-1 2 0 0-118 5-1 1-1-2 0 3-2-2 0 1-2-3 0 3-1 0 0-1-1-3 0 3 0 0-1 1-2-5 0-2 0 2-2 4 0-3 0 4 0-4-1 0-1 4 0 1 0 0-1-8-2 0 0 4-1-1-1-3-1 2 0 6 0-7 0 5-1-7-2 6-1-6-2 7-2-1 0-3-1-2-5 7 6 11 4-1 2-3 6-1 2 5 2-5 0-4 1 0 1 2 0 5 2-1 4-3 1-3 0 5 0-3 1-2 1 3 1-3 2 6 0-1 1-5 1 8 4 1 114-8 1 4 0-5 0 2 1 7 0-1 1-6 0 2 1 4 1-5 1-2 0 5 0-5 2 1 1 0 0 7 0 0 1-7 0-2 1 7 0-7 1 3 2 1 1 1 0 0 0 0 1 3 0-8 2 5 0-2 0 1 0 4 3 0 2-7 3 0 2 1 0 3 0-2 1-2 1 7 1-5 1 1 1 5 1-1 6 1 0-2 0-2 1 0 1 4 4-7 1 5 3 0 9 1-5 3-3-1-4 0-5 6-2-5-3 5 0-1-1 1 0-1-1-5-2 5-1-2 0-1-2-1-1 3-1 1-1 1-2-3-2-3 0 6 0-1-1-2-3-2 0-1-1 6 0-2 0-2 0 0-1 0 0-2 0 4 0-3-2 5 0-5 0 4-1-3-1-1 0 1-2 3-1-3 0-2 0 2-1 2-1-2 0 2 0 2-1-5-1 1 0-2-1 1 0 0-1-1-110 2 0 1-1 1-1-1 0 0-1-2-2 0-2 4-1-4 0 4-2-4 0 1-1 2-1 1-4-5 0 1 0 3-2 0-1-4-1 0-2 5-13-4-10 2" fill="none" marker-start="url(#m2)" marker-mid="url(#m2)" marker-end="url(#m2)"/>
<path transform="scale(.5)" d="M14 96l-3 1-10-1 150 13 16 10-1 0-6-3-2 3-3-1-2-5 0 1 0-3-1 7-1 1 0-7 0 2-3 5-2-1-2-6-2 4 0 2-1-6 0 7-2-1 0-7 0 3 0-3-1 0 0 8-1-1 0-6-1 2 0-1 0-3-2 4-2-2 0 1 0 1 0 0-2-3-2 1-1-1-2 1 13 9 1 3 2 1 0-1 1 1 1 4 0-2 0-1 0-3 1 3 0-3 0-1 0-1 1 0 0 8 1-3 1 2 0-1 1-1 1-1 0-4 1 2 2 1 2 3 2 0 0-7 1 1 2 6 0-2 7 0 3-2 0-3 1 9 9-7 13 2 26 9-39 0-4 4-2-4-2-1-4 0-1-2-2 1-1 6 0-1-1 0-2-1-2-5-1 9-1-6-3-3 0 1-1 0-1 3 0 0-1 2 0-2 0 5 0-2-1-5 0 2-1 0 0 4-1-3 0 2-3-7-138 8-4-2 3 11 144 0 0-7 1 0 0 0 0 6 1-4 1 2 0 2 1 3 0-4 0 0 0 0 0 4 1-6 0 1 0 4 0-3 0-2 3 0 0 5 1 1 0-5 1-1 0 3 2-3 0 6 0-7 1 3 0 3 0-3 1 0 0-5 1 7 2 0 1-6 0 4 1 1 0 1 1-6 0-1 3 7 1 0 1-3 2 5 2-5 0-2 7 0 10-1 3 14-3 3-5-5-6-1-2 4-3 1-1-7-1 8-7 1 0-7-1 6-3-2-1-2 0-1 0 0-1 0-1 5-1-1-1 1 0-4-1 4-1 0-1-5 0 3-1-2 0-3 0 7 0 0-1-8 0 4 0-1 0 3-1-6 0 3 0 5-1 1 0-1 0-1-2-6 0 6 0-5-1 7 0-5-1-1 0 0 0 4-141-5 0 5-2-2 0 4-1-7 0 8 2 7 0-4 1 1 3 0 0-1 0-1 2 0 1 5 1-4 0 2 0-4 1 3 0 5 1-4 129 1 0 3 1 0 0-2 1 0 1-4 1 6 0-5 0 4 0-1 0-6 1-1 0 3 1-1 0 7 0-9 0 9 0-3 1-2 1 3 0 1 1-5 1 4 0 1 0 1 0 0 1 0 1-9 0 2 2 5 1-5 1 2 0 4 1-8 3 9 0-4 0 2 1-7 4 0 7 5 3-5 13 8 3-2 8-6-21 14 0-4-2 0-2 6-7-3 0-3 0 9-1-7-1 2 0 4 0-1-1-4-2 6 0 0-1-4-1-4 0 1-1 6 0-5-1 3 0 0-2-2 0-3 0 3 0 5-2-3-1 0-1-3-2 4 0-5 0 4-1 2 0 0-1-1 0-5-1-1 0 0 0 0-1 1-4-1-131 8-1-2 0-7-1 8-1-1-3 1-8-7-2 16 9-6 5 3 2 0 1 2 1 3 133-1 2-3 1 0 1 4 1-3 0-6 1 4 1 4 1-2 0-6 0 9 0-9 1 1 1 2 2 3 0-4 1 7 2-4 1-1 14 5 2-8 6 6 8-6 13-1-6 17-19-2-1 1 0-6-4 0 0 0-5 9-3-5-1 3 0 1 0 0-3-7-4 8-2-4-1-1-1 0 0 5-1-6-1 4-1 2 0-3-1-2-2-3 0 0-2-1-117 7-5 2-4-1 0-3 0 1-5 1-7-4-1-3 2 19 10-7 8 7 5-1 117-7 1 5 2 0 0-6 0 6 1 2 1-7 1 5 2-2 0 2 1-1 2-3 2 6 2-7 1 4 2-4 2 7 0-7 3 0 1 3 2-4 1 6 1-4 3 0 3 2 7 5-2 3 0-2 0 5-9 1-2-2-2-4 0 5-6-1-1 0-130-1-10-3 0 1-24 2" fill="none" marker-start="url(#m3)" marker-mid="url(#m3)" marker-end="url(#m3)"/>
<path transform="scale(.5)" d="M57 49l38 5-1 5 0-1-1-8 0 7 0 2-3 0-1-7 0 6-3 0-5 0-1-7 0 5-3 2 0 1-2-2-1-4 0 4-4 2-2-4-1 1-3 2-5-5-2 6-1-1 0 1-1-8-2 6 0-5-1 4-3-3 0 4-1-1 0-2-1 2-1 2-1 0-1-5-3 6-2-2-7 2-3-2-2-3-1 4-8-6-1 5-1-4-4 1-4 2-2 1-2-2-3 11 0 3 0-8 2 8 0-4 2-5 0 5 2 4 2-3 1-5 0 7 1-1 0-3 1-1 0 4 0-1 0-2 0-4 1 4 1-2 0 3 1-1 1-2 1 0 0-2 0 0 1 0 0 0 1 2 1 1 2-1 2 1 0-1 1-1 1 2 1-2 0 2 2 0 1-2 0 2 1-3 1 0 3 0 4 1 0 0 1-1 5 0 0 0 2 1 0-1 4 1 1-1 1 0 3 2 5-2 2 1 4 0 2 1 0 0 1-1 2-1 1 3 1-3 0 2 4-1 2 2 0 0 0 0 1 1 5 0 0 0 1 1 2-3 2-2 1 5 0-3 3 4 2 0 1-1 2-3 2 1 2 2 2 0 0 3 1-1 1-7 3 8 0 1 0-3 1-2 2 2 2-3 7 5 1-3 1 1 3 3 2-6 1 6 2-5 3 4 2 1 23-6 2 5 0 0 9 1-7 10-21-1-6-1 0 0-1-1 0-1-1-3 0 3 0-3-1 0-1 5 0-4-1 6-2-9-3 5-2 3-1-1-3 1-1-2-1-5-1-1 0 5-1 0 0 4 0-7-1-1 0-1-1 2 0-2-2 2-1-1-1 2 0-2-1 8-1-4 0-1 0 0-1-1 0 4 0 0-1-3 0 1 0-4-1 3-97 2-1-3 0 2-1 0 0-3 0 6 0-5-2-2-1 6 0-4 0 0-1 1-1 4-1-2-1 2 0 6 0 1 0-4 0 4 1-1 0-2 1 1 0 6 2-5 0-4 0 8 1-5 0 5 1-4 0 4 3-7 106-1 2 0 0 0 2 1 1 2 0-3 0 1 3 0 1 3 1 1 0-2 0 2 1 4 0-3 2 0 1 0 2 0 0 1 0-2 1 1 0-5 1 4 2 4 0-2 4 0 4-3 4-1 3-1 2 7 4-1 40 4-21 6-2-4-10-4-5 7-3-5-1 1-4 3-1-6-2 6-1-6-1 4-1 2-1 2-1-1-3-2-1-1 0 3-1 1-1-5 0 5 0-3-1 0 0 4-1 0 0-7 0 7 0-4-3-1-2-2 0-1-2 1-1-2-113 5 0 2 0-3-1-1-1 4-1 0 0-5 0 1-1 2 0-2 0 4-1-1-1-3-2-2 0 0-1 2 0-3 0 0 0 5-2-3-1 1-1-3 0 2 129 16 0 0 2-2 1 0 1-5 0 3 0-3 0 5 1-1 1 1 0-2 1 2 0 2 1 1 2-8 1 3 0-3 0 3 5 5 1-6 1 5 2-1 1 1 1-4 0 2 2-5 0 4 0-2 1-1 1-1 0 1 2-2 6 8 1 0 19 7-11-4-8 3-1-4-3 1-1 5 0-3-2 0-6 2 0-5-1 6 0 1-1-6 0-1-1 3-1 6 0-3-2 3-1-3 0-5 0 0-1 3-1 5 0 0-3 0-1-3 0-3 0 0 0 6-3-9 0 5 0 1 0 3 0-8-1 1 0 5-1-4 0-1 0 0-1-2 0 6-1-2 0-1-3-1-3 0 0 0-1 0 0-1 13 11 1 0 0-2 2 0 0 1 0 4 0-3 0 6 1 0 0-5 0 0 1 3 1-1 2-4 0 3 2 2 1-4 1 2 1-4 0 5 0 4 2-8 2 2 2 3 4-2 6 0 1-4 10 3 3 2 10-1-8 11-14-2-1-3 0 5-1-1-4 2-1-2 0 1-1-1-1 2-1-4-1 3-2-3-1 2 0-4-1 7 0-6 0 7-2-3-1 0-1-2-1 0 0 2-1 0 0-3-1 1-1-3-141 6-1 1 147 10 0-2 2-1 0 5 1-4 0 1 0 2 0-5 2 2 2 2 1-4 0 5 1-4 1 5 2-6 4 0 2 3 1 3 2-1 1-3 4-4 8 3 8 14-8-6-2 2-1 3 0-2-3 3-4 1-1-9-4 1 0 8-2-6 0-1-4 2-1 5 0-7 0 3-1-3-1 2-1-2-1 5-1-1 0-4-1 7 0-2-1 0 0-3 0 4-1-3 0 1-1 1 0-2 0 0-1-1 0 2-1-6 0 6 0-5 0 8 0 0 0-4 0 1 0-5-1 1 0 3-2-3-140 5-5-3 0 5 0-4-1 9 0 4 1-6 0 1 2 0 3-1 1-1 1 6 1-1 1-2 0-1 0-2 1 2 0 2 0-3 3 4 1-1 130 2 1-1 2-1 2-1 0-4 3 5 0-1 0 3 0 1 0-5 1-2 0 1 2 7 1-9 2 5 1-2 0 6 1 0 5-2 3-1 3 3 2-2 6-6 2 3 3 1 7-2 1 0 0 8-4 7-9-1-6-4-2 4 0 2-2 0-2-8-1 3-2 2-1 2-6-4 0 1 0-4-2 7-1 0-1-8 0 4 0 5-1-7 0 3-1-2 0 1-2-2-2-1-1 2-1-2-2 0 0 0-129 1-2 2-2-2-6 1 1 14 7-3 5 5 1-1 131-2 0 0 1 2 0-3 1 2 0-2 0 0 1 1 0 2 3-6 1 6 0 0 2-3 1-2 0-1 0 3 1 0 1 1 1 0 2 1 1-5 3 4 0 0 0-6 2 7 2-7 0 1 1 4 5-2 6 3 1-1 0-3 2 0 2 4 12-4-15 16-1-2-3-4-1 4-3-5-1-1-4 2-3 7 0-2 0-2-1-2-1 3 0-3-3 5 0-7-2 3 0 3-1-1-1 3 0-1-1 1 0-3-3-2 0-3 0 6 0 1-1-6-1 2 0 5 0-1 0-5-1 2 0-5-1 8 0-1 0-3-1-2-2-1 0-1-118 8-5 1-5-6 0-1-1 1-2 1-16 4 17 8 3 1 6-2 3 3 3 0 0-3 119-3 1 1 1-1 0-2 1 0 0 7 2-5 1 1 1 3 0-6 1 8 1-8 4 0 3 6 2 0 0-1 2 1 0-6 1 4 1-2 3 1 3 0 4 3 2 0 3 3 4-3 2-6 7 13-2-1-15 2-1 2-3-1 0-2-1 0-1-1-1 1-4-1 0 3-1-3 0-1 0 4-1-1-1-4 0 4-1 2-2-2-1-1-1 2-1-5-1 2-2 0-2 0-3-1 0-1-115 5-4-4 0-1-8 1-1 4" fill="none" marker-start="url(#m4)" marker-mid="url(#m4)" marker-end="url(#m4)"/>
<path transform="scale(.5)" d="M7 79l-1 0-3-3-1 3 1 5 1-3 2-1 2 2 1-1 5 16-1-1-1-3-1-3 0 6-3 1-1-2-1-2 0-2-2 2-2-2 150 16 13 12-13 0-5-8-3 1-6 7-7-6 11 9 2 2 3 4 4-7 17 11-13 2-2 5-1 0-3 0-146-1 0 1 0 0-2-3 0 3 0-3 1 13 1-1 2 1 3 0 142 0 6-6-3 11-2 2-1-2-138 5-1-1-1-2-1-3 0 2 0 2-1-5 0 3-2-1 0 1-1 2 0-1 0-6 0 7-1-5-1-2-2 0 0 12 0 5 1-6 0 5 2 0 1 0 0 1 1 2 1-2 1-2 0 1 1 3 0-3 0-5 1 7 0-3 0 3 0-4 1-1 0-1 0-1 0 7 1-5 0 5 0 0 1-4 0-3 0 1 2 7 0-8 0 1 0 7 0-8 1 1 0 2 0-2 1 1 1 5 0-1 0-1 132 1 1-1 4 0 0 0 1 0 2-3 2 4 0-1 21 0 3 11-4-3-4 2-2 3-8-4 0-1-1 3-2-1-4 1 0-5 0 0-1 4-3-1-2-3-1-2-1 2-133-2 0 0-1 3 0-1 0 6-1-6-1 2 0-1-1 1-1 2 0 0 0-5 0 2-2-2-1 6-2-6-1-1-1 8 0-8-2 3 0 4 0-7-2 0-1 7 0 9 2-2 1-1 2 5 0-1 2-7 0 9 0-4 1 3 0-2 1-2 0 2 1-5 0 6 0-7 1 6 1-3 1 1 1-2 1-2 0 6 0-3 0-2 0 2 0-2 1 1 0 3 0-1 1 5 0-3 0-5 1 1 1 2 0 3 0-2 0 2 0-4 2 4 1 1 131 0 1-1 3-1 0-4 1 7 0-7 4 7 1-6 2-1 4 7 14-5 18 8-27 5-1-5 0-1 0-1-1 6-1 1-2 0-3-1 0 3-7-4-6-5-118 9-1-1-1 1-1-1-2 0-1-2 0-1 0 2-2 0 0-4-1 6 0-4-1 2 0-2 0 2-1-7 0 3-1 3 0-5 0 7 0 1 0-9-1 1-1 3-1 5 0-5-1-1 0 6 0 0-1-4 0-1-1 3 0-6 0 3-1 3 0-1-1-3 0-2-1 2-1-3-1 0 0 1-4 7-1 0-3-4-2-2 0-2-1 6 0-2 8 13 2-6 1 0 2 2 2 0 0 1 1-2 1-1 4 3 0-4 1 7 1-1 1-4 2 0 1 1 1 1 0-1 0 3 1 3 0-6 0-1 1 4 0 2 1-8 0 0 0 2 1 0 0 0 0 4 1-2 0 2 1-3 1 6 0-3 1-5 1 7 3 0 115-7 3-1 1 7 2-1 2-6 2 5 3 3 2-2 11-4 5 3-8 10-1-3-2 4-5-4-1 3-5-5-3 2-112 3-2-1-1 0 0-3-1 0-1 0-1 0 0 0-1 0 0 1-1-1-2 2-4-2-1-1-3 4-1-1-1 0-1-3 0 1-3 2-1 2 0-4-4-1-2 0" fill="none" marker-start="url(#m5)" marker-mid="url(#m5)" marker-end="url(#m5)"/>
<defs><path id="c283" d="M50.2 88.2l4.7 1.3 4.8-0.4 4.7 0.7 4.8-1.6-1-2.8 0.3-2.7 0.7-0.6 2.3 0.6 2.4 0.4 0.6-0.4 1.2-2.8-1-2.7-0.8-2.8 2-2.7-2-2.5-0.3-0.3 0.1-2.7-4.5-2.8 0.3-2.7-0.3-0.2-2.5-2.6-2.3-1.6-4.7-0.5-1.2-0.6-3.6-1.4-4.7-1-4.7-0.2-0.8-0.2-4-0.9-4.7-0.5-4.8 0.1-4.7 0.2-4.8 0.3-1.7 0.8-3 1.3-3.2 1.5-1.6 1.4-2.9 1.3 2.9 2.8 2.4 2.7 2.4 1.7 0.8 1.1 3.6 2.7 0.3 0.3 4.8 2.3 0.3 0.2 3.2 2.7 1.2 1.1 2.9 1.7 1.4 2.7 0.5 0.3 4.7 2.5 3.6 2.7 1.2 0.7 1.5-0.7 3.2-0.5 0.8 0.5z"/><path id="c284" d="M48.3 79.9l1.9 0.8 4.7 2 4.8-0.2 4.7-1.3 1.8-1.3 0-2.7 1.3-2.8 1.7-1.7 1.5-1-1.5-1-1.3-1.8-0.1-2.7-2.8-2.8-0.6-2.7-4.7-2.2-1.5-0.6-3.3-1.7-4.7-1-1.6 0-3.1-0.2-4.8-0.9-4.7-0.7-4.8 0.8-3.8 1-0.9 0.3-4.8 0.9-1.6 1.5 1.6 2.8 1.7 2.7 1 2.8 2.1 1.4 1.7 1.3 3 1.5 2.2 1.3 2.6 2 3.5 0.7 1.2 0.6 2.2 2.2 2.6 1.5z"/><path id="c285" d="M53.3 74.4l1.6 1.2 1.6-1.2 3.2-1.5 1.6-1.2 2.7-2.8-1.9-2.7-1-2.8-1.4-2.3-0.6-0.4-4.2-1.5-4.5-1.3-0.2 0-4.7-1-4.8-0.1-4.7 1.1-4.8 1.9-0.3 0.9 0.3 0.7 0.3 2 3.1 2.8 1.4 2.7 4.7 1.1 1 1.7 3.8 0.9 1.5-0.9 3.2-1 4.3 1z"/><path id="c286" d="M42.1 66.2l3.4 2.1 4.7-0.1 4.7-2-3.2-2.8-0.6-2.7-0.9-0.3-1.5 0.3-3.2 0.9-4.8 1.4-2 0.4 2 0.6z"/><path id="c287" d="M32.1 109.6l1.7 0.7 5.2-0.7 0-3.4 0 3.4 5.1 0.6 5.2 0.8 5.1-0.2 5.2-0.9 1.3-0.3 0-3.4 0.4-3.4 0.4-3.4 1.1-3.4 2-3 0.5-0.4-0.5-0.4-3.8-3 3.1-3.5 0.7-2 0.6-1.4-0.6-2.2-2.6-1.2-2.6-1.7-0.3-1.7-0.6-3.4 0.9-1.9 0.8-1.5-0.8-1.1-1.9-2.3-3.3-3.1-0.3-0.3 0.3-1.7 0.4-1.7-0.4-0.2-5.1-2.4-1.7-0.8-3.5-1.7-3.7-1.7-1.4-1.1-2.4-2.3-2.8-0.9-5.1 0.2-5.2-1.6-5.2 0.1-5.1 1.7-3.9 0.5-1.3 0.2-2.5-0.2-2.6-0.4-5.2 0-0.2 0.4-1.1 3.4 0.2 3.4 0.1 3.4-0.3 3.4 0.5 3.4 0.8 3.4 5.2 0-5.2 0-0.7 3.4 0.7 2.3 5.2 0 1 1.1 0.7 3.4 3.4 0.9 2.4 2.5 1.3 3.4 1.5 1.2 1.1 2.3 1.5 3.4 1.7 3.4 0.8 2.5 0.9 0.9 2.9 3.4 1.4 0.9 2.1-0.9 3.1-1.2 3.4 1.2 0 3.4zM23.5 97.2l-2.6-1.2 2.6-0.6 0.7 0.6zM54.4 68.7z"/><path id="c288" d="M48.5 109.6l0.8 0.2 2.1-0.2 0-3.4-2.1-0.5-0.8 0.5zM40.9 102.8l3.2 1.6 2.5-1.6 2.7-1.1 4.7 1.1 0.4 0.8 0.4-0.8-0.4-0.4-1.3-3 1.3-3.4 0.8-3.4-0.1-3.4-0.7-1.2-1-2.3-1.1-3.4 1.1-3.4 0.5-3.4 0.5-1.3 0.7-2.1-0.7-0.5-3-2.9-2.1-1.9-2.7-1.5 2.7-3.4-1-3.4-4.2-2.1-1.8-1.3-3.3-1.8-5.2-0.6-2.6-1-2.5-1.2-3.9 1.2-1.3 0.3-1.3-0.3 1.3-2.3 0.4-1.1-0.4-0.2-5.2-0.2-0.9 0.4-4.2 1.7-5.2 1.7-3.2 3.4-0.4 3.4 0.1 3.4 3.5 3 0.5 0.4 0.5 3.4 1.1 3.4 0.4 3.4 2.7 2.8 0.8 0.6 3.1 3.4 1.2 1.5 1.2 1.9-0.7 3.5 4.7 3.4 4.3 3.4 0.9 1.7 1.7 1.7 3.4 1.3 5.2 0.7zM56.7 85.7l2.9 1 1.1-1-1.1-1zM44.1 75.5z"/><path id="c289" d="M48.6 99.4l0.7 0.1 0.2-0.1-0.2-0.2zM38.4 96l0.6 0.2 0.5-0.2 2.1-3.4 2.5-0.9 2.2-2.5-1-3.5-0.3-3.4-0.4-3.4-0.5-0.1-2.9-3.3 2.9-2.2 2.2-1.2-0.2-3.4-2-1.1-2.1-2.3-3-3-1-0.4 1-0.5 3.1-2.9-3.1-2.3-5.2 0.1-5.1-0.7-5.2 0-2.6-0.5-2.6-0.4-1.4 0.4-1.6 3.4-2.1 2.1-1.9 1.3 1.9 2.7 0.4 0.7 3.3 3.4 1.4 3.4-2.3 3.4 2.3 1.7 2.9 1.7 2.3 3.4 3 3.4 2.2 1.1 5.1 1.9 1.3 0.5 2 3.4zM33.8 82.3l5.2-1.3 4 1.3-4 1.9zM7.6 58.5l0.4 1 1.6-1-1.6-1z"/><path id="c290" d="M26.9 78.9l1.8 1.2 1.6-1.2-1.6-0.8zM33.2 75.5l0.6 0.5 2.6-0.5-2.6-0.4zM22.6 72.1l0.9 0.9 5.2-0.1 1.4-0.8 3.7-1.7 3.4 1.7 1.8 2.7 2.6-2.7 0.5-3.4-3-3.4-0.1-0.2-5.2-1.9-5.1-1.3-5.2-1.7-2.6 1.7 2.6 1.8 3.9 1.6-0.6 3.4-3.3 2.8z"/><path id="c291" d="M25.6 109.5l5.7 0.5 5.6 0.5 5.6-0.4 5.6 0.5 5.6 0.2 5.6 0.2 5.6 0.1 5.6 0 5.7-0.6 5.6-0.7 1.6-0.3 0-3.1-1.6-0.5-2.8-2.6-0.2-3.1 1.6-3.1-4.2-1.8-1.6-1.3 1.6-0.7 3-2.4-1.6-3.1-1.4-0.9-3.6-2.2-2.1-2.7-0.4-0.4-3.3-3.1 0.3-3.1-2.2-2.7-0.4-0.4-0.3-3.1-4.9-3.1 0.3-3.1-0.3-0.3-5.6-1.2-1.2-1.6-4.4-2.2-5.6-0.3-5.6-0.4-0.4-0.2-5.2-2.5-2.9-0.6-2.8-3.1-3.7 3.1-0.6 3.1-1.3 0.5-2.2-0.5-3.4-2.6-3.7 2.6-1.9 0.6-5.2 2.5 2.3 3.1 2.9 2.9 0.3 0.2-0.3 0.8-5.6 2.3 5.6 2.3 0.3 0.8 0.5 3.1 0 3.1-0.8 2.1-0.6 1 0.6 3.1 1.4 3.1 4.2 2.7 1.4 0.4 2.4 3.1-2.3 3.1 4.1 1.8 3.4 1.3 2.2 1.8 1 1.3-1 3.1z"/><path id="c292" d="M55.6 109.5l3.7 0.3 5.6 0.1 5.6 0.1 3.1-0.5 0-3.1-3.1-2.2-0.8-0.9-0.1-3.1-0.7-3.1-2.3-3.1-1.7-1.4-1.2-1.7 1.2-3.1-2.1-3.1 0.6-3.1-2.6-3.1-1.5-2.6-0.4-0.5-2.2-3.1-3-2.4-0.6-0.7-4-3.1-0.6-3.1-0.4-0.4-0.3 0.4-5.3 1.3-2.1-1.3 2.1-2.6 1.8-0.5-1.8-0.3-2.8 0.3-2.8 0.3-2.8-0.3-2.8-2.3-5.7-0.2-5.6 1.9-2.5 0.6-0.8 3.1-2.3 2.5-0.3 0.6 0.3 0.5 3.5 2.6-3.5 2-0.8 1.1 0.8 3.1 1.3 3.1 4.3 2.6 0.6 0.5-0.6 2.3-0.4 0.8-3.3 3.1 3.7 0.8 3.9 2.3-0.7 3.1 2.4 3.1 2.4 3.1 3.3 2.7 5.6 0.1 0.5 0.3 5.1 2 5.6 0.5 5.6 0.3 1.9 0.3z"/><path id="c293" d="M44.3 100.2l3.8 1.6 5.6-1.6 5.6 0 3.1-3.1-2.3-3.1-0.8-1.5-1.3-1.6 1.3-3.1-5-3.1-0.6-2-0.2-1.1-5.4-3.1 2.3-3.1-0.3-3.1-2-1.8-5.1 1.8-0.5 0.3-0.3-0.3-2.7-3.1-2.6-1.6-4.5-1.5-1.1-0.6-0.8 0.6-0.7 3.1-4.2 1.6-2.6 1.5 1.1 3.1 1.5 1.2 1.6 1.9-1.6 2.2-0.3 0.9-1.4 3.1 1.7 1.4 3.9 1.7 1 3.1 0.8 2.3 5.6 0.8-0.6 3.1 0.6 0.6 5.6 1.3zM35.7 63l1.2 0.6 0.2-0.6-0.2-0.2z"/><path id="c294" d="M53.1 97.1l0.6 0.1 0.3-0.1-0.3-1zM42.2 94l0.3 0.2 5.6-0.2-2.5-3.1-3.1-2.1-2 2.1zM34.2 87.8l2.7 1.3 4.1-1.3-1.1-3.1 2.6-1.5 5.6-1.1 0.2-0.5-0.2-0.1-5.4-3-0.2-0.2-5.6-2.5-3.8 2.7 2.4 3.1-0.5 3.1zM46 87.8l2.1 0.9 1-0.9-1-1z"/><path id="c295" d="M46.2 100.1l2.1 1 6.4 1.1 6.4-0.9 6.5-0.1 2.5-1.1-2.5-2.1-0.9-1.1 0.9-1.5 2.5-1.6 1.7-3.1-1.6-3.2 3.8-2.7 0.4-0.4-0.4-1.1-0.4-2.1-1-3.1 1.4-2.1 0.8-1.1-0.8-3.1 0-3.1-3-3.2-3.4-2.3-0.6-0.8-4-3.2-1.9-1.9-4.8-1.2-1.6-0.3-6.4-2.6-0.8-0.3-5.6-1.9-6.4-1-6.4 0.5-3.8-0.7-2.6-0.8-2.9 0.8-3.5 0.8-6.4 0.8-4.5 1.5-1.9 0.7-6.4 0-2.1 2.5 0.5 3.1 0.9 3.2 0.7 3.1 6.4 0 3.2 3.2 3.2 2.1 0.2 1-0.2 0.6-1.1 2.5 1.1 2.6 0.5 0.6 2.3 3.1 3.6 2.8 0.9 0.4 4.2 3.1 1.3 0.8 2.8 2.4 3.6 1.6 1.8 1.5 2.8 3.1 1.8 1.3 6.4 1.4z"/><path id="c296" d="M39.9 90.7l2 1.5 6.4-1.1 6.4 0.5 6.4-0.9-2-3.2 2-1.5 3.7-1.6 2.8-1.6 1.1-1.6-1.1-1.1-2.1-2 0.6-3.2 0.1-3.1-3.7-3.1-1.4-1.5-1.7-1.7 0.1-3.1-4.8-3.2-6.4-2.6-1.2-0.5-5.2-1.6-6.4-0.4-4.8-1.2-1.6-0.2-6.4-0.7-3.6 0.9-2.8 0.6-6.4 1.4-2.9 1.2 2.9 2.2 0.8 0.9 0.5 3.2 0.6 3.1 2.8 3.2 1.1 3.1 0.6 0.6 2.7 2.5 3.3 3.2 0.4 0.6 5.1 2.5 1.3 3.2-0.7 3.1 0.7 0.5 6.4 1.2z"/><path id="c297" d="M47.5 87.5l0.8 0.2 0.6-0.2-0.6-1.2zM43.4 81.2l4.9 2.4 6.4-1.8 1-0.6 0.9-3.1-0.1-3.2-1.8-3.1-1.6-3.1-4.8-3.2 3-3.1-3-1.4-2.9-1.8-3.5-1.6-6.4 0-4.1-1.5-2.3-0.8-5.8 0.8-0.6 0.3-6.4 2.4-0.1 0.4 0 3.2 0.1 0.2 3.9 2.9-0.2 3.2 2.7 3.1 6.4 2.5 1.1 0.6 4.8 3.2 0.5 1.6 6.4 1.2z"/><path id="c298" d="M39 74.9l2.9 1.2 1.8-1.2 3.2-3.1 0.6-3.1-4.4-3.2-1.2-3.1-6.4-2.1-6.4 1.5-1.4 0.6 1.4 1.3 2.8 1.8-0.7 3.2 4.3 1.6 4.6 1.5z"/><path id="c299" d="M49.6 110l0.4 0.2 5.9 1.1 5.8-0.5 5.8-0.6 2-0.2 0-4.1 1.9-4.2 2-1.7 4.4-2.5-1.5-4.2-2.9-2.2-2.9-2 1.6-4.1 1.3-3.5 0.5-0.7 0.5-4.2-1-2.1-5.9-1.1-1.2-1 1.2-1.1 3.2-3.1-3.2-4.2-0.3-4.1-4.8-4.2 5.1-4.2 0.4-4.2-0.4-0.2-4.1-4-1.7-1.5-5.8-2.1-1.1-0.5-1.6-4.2-3.2-1.2-5.8-0.8-5.9-0.6-5.8-1.3-5.9-0.3-5.8-0.4-2 0.4-3.9 0.9-5.8 0.2-4.7 3.1 0.7 4.2-1.9 3.3-5.8 0-0.5 0.8 0.5 1.7 5.8 0 2.9 2.5 0.5 4.2 2.5 1.7 1.8 2.5 1.9 4.2 1.1 4.1 1 2.1 0.4 2.1 1.8 4.2-1.3 4.2 3.2 4.2 1.3 4.2 0.5 0.4 5.8 3.5 0.3 0.2-0.3 0.5-2.4 3.7 2.4 2.1 4.1 2.1 1.8 1.3 4.7 2.9 1.1 1.2 5.9 1.3 5.4 1.7z"/><path id="c300" d="M43.6 101.7l0.6 0.2 5.8 0.9 3.4-1.1 2.5-1 5.8-1.6 2.1-1.6 3.3-4.2-3.3-4.2 3-4.1 0-4.2-3.2-4.2-1.9-1.5-1.5-2.7 1.5-3.1 1.2-1.1-0.7-4.2-0.5-1.3-1.3-2.8-2.7-4.2 0.8-4.2-1.3-4.2-1.3-2.1-1.8-2.1-4.1-2.1-2.6-2-3.2-2.7-5.9 0.8-2.7-2.3-3.1-0.9-5.1 0.9-0.8 0.1-0.4-0.1-5.4-1.9-4.3 1.9-1.6 1.7-4.1 2.5 4.1 2.9 0.8 1.2-0.8 3.2-0.3 1 0.3 0.7 1.6 3.5 2.1 4.2 2.2 1.2 0.9 3-0.9 4.1 2.5 4.2 0.7 4.2 0.9 4.2 1.7 2.3 2.7 1.9-2.7 4.2 5.9 3.6 0.4 0.5-0.4 0.5-3.5 3.7 3.5 2.1 5.8 0 3.7 2.1z"/><path id="c301" d="M52.2 93.3l3.7 2.3 2.2-2.3 0.7-4.2-0.3-4.1-2.6-4.2 2.7-4.2-1.9-4.2-0.8-1.9-1.6-2.3 1.6-2.1 1.4-2.1-1.4-1.9-5.1 1.9-0.8 0.3-0.3-0.3-1.5-4.1 1.8-1.6 3.5-2.6-3.5-2.9-2.2-1.3 1.4-4.2-5-2.9-5.9-1-5.8 0.4-1.7-0.7 1.7-1 3.1-3.1-3.1-2.4-5.9 1.2-3.1 1.2-2.4 4.1-0.3 1.4-0.6 2.8 0.6 1 2.7 3.2 0.3 4.2 0.8 4.2-0.2 4.1 2.2 2.1 2.9 2.1 3 3.9 1.9 0.3 3.9 0.9 1.1 3.3-1.1 1.2-3.1 3 3.1 2.9 2.1 1.3-2.1 3.6-0.2 0.5 0.2 0.3 0.8-0.3 5.1-1.3 1.3 1.3 4.5 3.7z"/><path id="c302" d="M41.6 80.8l2.6 1.1 1.3-1.1 0.6-4.2 0.8-4.2-2.7-2.8-2.3 2.8 0.8 4.2zM33.2 64l5.1 1.4 5.9-0.8 0.2-0.6 0.4-4.1-0.6-2.1-1.3-2.1-4.6-3.9-0.6-0.3 0.6-0.5 4.1-3.7-4.1-1-5.8-0.4-4 1.4 1.7 4.2 2.3 2.4 1.7 1.8-1.7 2.1-3 2.1 3 3.6zM38.3 61.4l-2.3-1.5 2.3-1 2.9 1z"/><path id="c303" d="M25.1 109.8l2.9 0.9 5.1 0.7 5 0.2 5.1-0.1 5 0.3 5.1 0.1 5-0.3 5.1-0.3 5-0.1 3.4-1.4 0-3.7-1.2-3.8-2.2-3.7 2.2-3.8-0.8-3.7-1.4-1.6-4.2 1.6-0.8 0.1-0.2-0.1-0.5-3.8 0.1-3.7-2-3.8-2.5-2.2-2-1.5 2-3 0.8-0.8-0.8-0.9-3.8-2.8-1.2-3.8-5.1-3-0.9-0.8-3.2-3.7-0.9-3.8-5.1 1.7-1.6-1.7-3.4-2.2-5.1-1.1-3.3-0.4-1.7-0.4-0.8 0.4 0.8 1.9 0.3 1.8-0.3 0.4-1-0.4-4-1.6-5.1 0.7-1.7 0.9-2 3.8-1.3 1.6-1.2 2.1 1.2 1.9 1 1.9-1 1.5-1.6 2.3 1.6 2.2 1 1.5-1 3-1.3 0.8 1.3 3.7 1.1 3.8-1.1 3.7 1.3 3.8 2.9 3.7 0.8 0.8 5.1 2.7 0.5 0.3 0.3 3.7 4.2 2.9 2.1 0.9zM12.9 76.1z"/><path id="c304" d="M45.7 109.8l2.5 0.2 5.1 0.4 4-0.6 0-3.7 1-0.3 3-3.5-0.5-3.7 2.6-3.8-4.7-3.7 1-3.8-1.4-2.6-2.1-1.1-0.2-3.8-2.7-2.1-3.1-1.6 0.6-3.8-2.6-2.3-5-1.2-0.3-0.2 0.3-3.8-1.6-3.8-3.5-1.8-5 0.2-5.1-0.9-5 1.4-2.3 1.1-2.7 3.3-0.7 0.5-0.7 3.8-1.8 3.7 0.9 3.8-1.3 3.7 0.5 3.8 0.3 3.7 2 3.8 0.3 3.7 0.5 0.3 5 2.4 0.8 1.1 4.2 3.3 1.3 0.4 3.8 2.3 5 1.2 5.1-0.1 2.5 0.4z"/><path id="c305" d="M40.7 102.3l2.5 0.1 5 0.2 5.1 0.4 2.1-0.7-1.4-3.7-0.7-3.8-1.7-3.7 1.1-3.8-4.5-2-2.3-1.7-0.2-3.8-1.5-3.7-1-1.2-5.1-0.7-3.1-1.9-0.8-3.7-1.1-0.7-2 0.7-3.1 0.8-3.9 2.9 2.6 3.8-3.7 2.9-1.3 0.8 1.3 0.7 2.5 3.1-1.5 3.7-1 2.8-0.2 1 0.2 0.1 4.6 3.6 0.4 1 3.8 2.8 1.3 0.3 5 3.3z"/><path id="c306" d="M39.3 94.8l3.9 3.6 5-2.6 0.4-1-0.4-1.2-1.7-2.5-0.4-3.8-2.9-2-5.1-0.4-2.3-1.3-2.7-2.1-3.2 2.1 0.7 3.7 2.5 2.9 0.5 0.9 4.5 3.1zM36.5 79.8l1.6 1.3 0.9-1.3-0.9-0.7z"/></defs>
<g fill-rule="evenodd"><use href="#c283" fill="#fff"/><use href="#c284" fill="#8000ff" fill-opacity="0.15"/><use href="#c285" fill="#8000ff" fill-opacity="0.15"/><use href="#c286" fill="#8000ff" fill-opacity="0.15"/><use href="#c287" fill="#fff"/><use href="#c288" fill="#1996f3" fill-opacity="0.15"/><use href="#c289" fill="#1996f3" fill-opacity="0.15"/><use href="#c290" fill="#1996f3" fill-opacity="0.15"/><use href="#c291" fill="#fff"/><use href="#c292" fill="#4df3ce" fill-opacity="0.15"/><use href="#c293" fill="#4df3ce" fill-opacity="0.15"/><use href="#c294" fill="#4df3ce" fill-opacity="0.15"/><use href="#c295" fill="#fff"/><use href="#c296" fill="#b2f396" fill-opacity="0.15"/><use href="#c297" fill="#b2f396" fill-opacity="0.15"/><use href="#c298" fill="#b2f396" fill-opacity="0.15"/><use href="#c299" fill="#fff"/><use href="#c300" fill="#ff964f" fill-opacity="0.15"/><use href="#c301" fill="#ff964f" fill-opacity="0.15"/><use href="#c302" fill="#ff964f" fill-opacity="0.15"/><use href="#c303" fill="#fff"/><use href="#c304" fill="#ff0000" fill-opacity="0.15"/><use href="#c305" fill="#ff0000" fill-opacity="0.15"/><use href="#c306" fill="#ff0000" fill-opacity="0.15"/></g>
<g fill="none" stroke-width="1.20" stroke-linejoin="round"><g stroke="#8000ff"><use href="#c283"/><use href="#c284"/><use href="#c285"/><use href="#c286"/></g><g stroke="#1996f3"><use href="#c287"/><use href="#c288"/><use href="#c289"/><use href="#c290"/></g><g stroke="#4df3ce"><use href="#c291"/><use href="#c292"/><use href="#c293"/><use href="#c294"/></g><g stroke="#b2f396"><use href="#c295"/><use href="#c296"/><use href="#c297"/><use href="#c298"/></g><g stroke="#ff964f"><use href="#c299"/><use href="#c300"/><use href="#c301"/><use href="#c302"/></g><g stroke="#ff0000"><use href="#c303"/><use href="#c304"/><use href="#c305"/><use href="#c306"/></g></g>
</svg>
<svg x="382.04" y="569.05" width="108.00" height="108.00" viewBox="0 0 108.00 108.00">
<path transform="scale(.5)" d="M68 103l2 6 5-1 5-3 1 4 2-1 1 1 4 0 1 0 4 3-1 0-1-1 0 0 0 2 0-2 0-1 0 1-2 1-1 2-1-4-2 5-1 1 0 1-1-5 0 3 0-2 0 0 0-2-1 6 0-1 0 0 0-3-1 5 0-3-1-2-1 3 0-1-4 1 0 0-1-3-2-1 0 1 0 2-2 4-1-3-1-6-7 6-3 1-14 12 5-3 1-1 6 0 2 0 1-3 0 7 3-3 0-1 1 3 0 1 0-2 0-6 3 8 1-7 1-1 0 8 1-4 0 2 0-4 1 3 0-3 1-2 1 5 0 3 0-7 0 6 1-6 0 2 0 2 0 3 2-3 0-1 1 0 0 0 0-5 0 0 1 5 0 0 0-2 0 0 0 1 1 3 0 0 0-6 0 3 0-1 1 2 0 1 0-5 1-1-7 10-1 7 0-5-1 3 0 1 0-6-2 9 0-1-1 0 0-3 0 3 0-8 0 0-1 2 0 7 0-8 0 3 0-3-1 3 0 4 0-3 0-1 0 1 0-5 0 1 0 8 0-8 0 8-1-8-1 1 0 1-1 2 0 0-1-3-3 1 0 1 0-1-1 1 0 1 0-3 0 6-2-3-1 0-2-2-6 2-4 3-15-8 0 19 1-3 15-5 2 0 1 5 1-4 1 2 3 4 0-3 3-5 0 1 0 5 1 0 1-2 2 1 1-2 2-2 0-1 1 6 0 0 0-5 1 4 1 1 0-2 1 0 0 1 1-4 0 2 0 6 0-9 1 7 0-5 0 6 0-8 1 7 0 1 0 1 1-8 132 18-132-9-1 5-1 0 0 2-1 1 0 0 0-7 0 0 0-1 0 7 0-1-1 2-1-3 0 1 0-1 0-4-1 8 0-3 0-1-1 0 0-3-1-2-1 2 0 1 0-2-1 0-1 0-1 0-2 3 0 1-2-2 0 3-1-1 0-5 0 9-2-6-2 0 0-3-1 8-1-6-1 2 0-2 0-1-1 1-8 5-1-3-5-4 2 14 9-1 0 5 7 1 0-2 0-5 0 5 0-6 3 7 1-5 2 6 0-7 0 0 2 3 1-5 0 0 1 4 2-3 0 0 0 3 0 2 2 3 0-6 0 2 0-2 1-3 0 3 0 3 0 1 0-2 1-4 0-1 0 1 1 4 0 0 0-4 1 4 0-1 0 2 0 3 0-8 1 4 1 3 1 1 0-1 0-3 2 5-1 0-3 2-1-2-3 2-1 5-1-6-1 6 0-2-2-3-1 6-2-4-1 5-2-5-1 5-3-8-1 8-3-2 0-6 0 8-3-5-3 4 5 9 1-4 4-3 0 8 8-8 1 4 2-3 0 3 0 1 2 1 1-1 4 0-4 7-3 4-8-4-2-2-11 8" fill="none" marker-start="url(#m0)" marker-mid="url(#m0)" marker-end="url(#m0)"/>
<path transform="scale(.5)" d="M210 88l1 0 0 1 2 0 3 6 0 2-2-2 0 0-1-2 0-2 0 2 0-3 0 7 0 0-1-3 0 2-1-5 0 0 0 3-1 0-1 0 0 3 0 0 0-4-1 0 0-3 0 0 0 6-1-4 0 3 0 1 0-5 0 4 0-4 0 5-1 1 0 0-2-1 0-1-1 2-1-2-132-3-2 15 12-1 12 5-2 1-5 0-3 3-7 2-3 1-3 1-7-9-1 0-19 18 12 0 12-8 3 4 1 2 8 1 1-4 137 15-2 0-2 0-138-8-2 0-2 5-2-4-6 4-6-1-3 3-1 4 4-1 4 1 2 4 1-4 6-1 0 0 142 7 0 0 1 0 1 1 0-1 0 2 1-1 1 0 1 7 0-5 0 6 0 1-1 2-1-6 0 6 0-4 0 1 0-4-1 0-1 3 0-2-1-1 0 1 0-2 0 5 0-6-1 4 0 1 0-1-1-3 0 8 0-2 0-3-1 2-1-2 0 0 0 1 0-3-1 4 0 3 0-3-2 3 0-3-1 2-1 1 0 0-1 0-134-6-1 1 0 0-1-1-2 5-1-6 0-2-5 8-1-2-3-6-9 4-1-2-2 4-14 2 14 3 2 4 1-5 6 3 1 2 3 2 6-1 0 0 3-2 3 1 1-4 1 4 131 3 1-6 0 7 1-5 0 5 0-1 0-8 0 7 0 1 1 0 0-1 0 2 1-2 0-7 0 4 0 3 1-2 1-2 0 4 1-1 0-6 0 1 1 6 0 2 0-9 0 7 0 0 0-1 2-5 1 6 1-5 1 5 0-3 0-3 0 1 1 1 0 6 1-5 0-3 0 1 1 5 0-5 1-1 0-1-3 17 0-6 0 5-3-4-2 6 0-4 0-4-1 8 0-5-1-3 0 8 0 1 0-8-1 5 0-5 0 8-1-6 0 2-1 4-2 0 0 0-1-5-1-4-130 0-2 1-4 1-1 2-1 4 0-4-6-2-2-1-4 5-2-1-4 2-5-1-11-2-13 5 13 6 0 0 1 1 22-6 1 9 1-5 2-1 0 1 0-3 1 1 2-2 2 6 1-1 0-2 1 0 1 1 2 2 132 0 0 1 1-1 0-1 2-1 0-2 1 1 0 5 1-7 0 1 1 0 0 2 0-3 1 8 0-7 0 3 1 0 1 2 0 2 0 0 0-8 0 0 1 8 0-1 0-3 2 4 0-5 1 3 0-1 2 2 1-3 2 0 1 0 0 2 0-5 0 13-1-2-4 0 0 1-1 3 0 0-3 1-2-3 0-3-2 7-1-6 0 1-1-2 0 2-1 1 0-1-1 2 0-1 0 3-1-3-1-2 0-2-3 0 0 3-1 4-1-2 0 2 0 0-1 0-2-2 0 3 0-1-1 0-2 0-1 0 0-1-1 0-1 0-1-1-1 1 0 0-118-4-2 5 0-4-1 4-1-6-2 3-2 1 0 2-13-6-1 0-4 5-26 8 10 1 8-5 2 8 8-1 8 1 2-2 0-7 2 2 2 1 2 3 0-4 2 2 1-2 1 0 1 1 0 4 0-2 115 3 3-2 0 3 1-2 1 1 1-4 0-3 0 3 0-1 0 3 1-2 1 1 0 0 1-4 1 8 0 0 0-3 1-5 1 3 0-2 0 2 0 2 1-2 0-3 1 5 2-6 0 3 0 4 1 2 0-9 0 3 1 3 0-6 1 3 1 0 1-1 1 6 2 0 0-4 1 2 2 3 2-1 1-5 2 6 1-6 4 9-5 0 0 1-7 2-2 0 0-3-4-1-1 2 0-3-4 1-1 1 0 1-1 0 0 1-3-2 0-1-2-1-1 0-2 0-1 1-2 0-1-1-1 6-2-2 0 0-2-2-1 3-111-4-2-1-4 0-1 2 0 3-1 1-2-4-18 3-11 0-8-1" fill="none" marker-start="url(#m1)" marker-mid="url(#m1)" marker-end="url(#m1)"/>
<path transform="scale(.5)" d="M215 93l0 3-189 13 53-1 1-3 7 4 6 2-1 0-1 1-8 4-1 1-3 0-2 2 0-3-5-1-4 4-9-5-24 10 13-4 4 8 4-6 3 1 5 6 4 0 0-1 2-5 0 1 6-1 1 2 2-4 137 17-3-1-1 0-1 0-140 0 0 2-3-1-1 1 0-6-2 6-5 0-2-3-1-6-12 8-9-2-34 2 40 3 6 8 6-1 3-8 0 0 1 1 0 7 0-5 1-1 9 3 2 3 143 0 2-1 1 3-1 6 0-5 0 1-1-1 0 0 0-1 0 1-2 7-1-2 0-3 0 5-2-1 0-5 0 5 0 2-1-1-1 0 0-2-1 0-1 3-1 0-3-1-134-1 0 0-2-6 0 8 0-2-2 1-1 0-1-8-1 6 0 3-1-8-3 2-3-3-3 4 0 1-1-2-2-3-2 5 0 3-6 0-2 1-3-7-1 4-2-6-2 6-3-5-4 4-6-4-6 6 6 11 1-1 20-7 4 9 4-1 2 1 1-6 2 0 4-1 0 5 0-7 1 0 0 6 2 2 0-1 0-3 1 2 0-2 2 1 0-2 3-2 0 0 0 3 1 0 1-4 0 3 0 4 1-6 0 2 0-3 1 1 0 8 0-5 1 0 0 0 0 0 1 2 1 3 129-1 0-3 1 1 0-2 1-4 0 7 0-7 1 2 0 5 1 1 0-2 2 0 0 0 1-3 0-1 0-2 1 2 0 2 1 0 1-4 1 1 0 7 0-8 0 2 1 3 0-5 1 2 2 1 1-2 1 3 0 15-1-9-1 8 0-6-1 7-1-6 0-3-3 2-2-1-1 6 0-3 0-1 0 0 0-2-1 1 0-2 0 4-1-3 0 0 0 8 0-6-1 1-1 5 0 0-1-2 0-3 0-3-1 0 0 6-1 0-127-7-3 3-1 0-1-1 0 2-1-1 0 1 0-3-1-1 0 3-1-2-1 6 0-4 0 3-1 3 0-3-1 0-1 1-1-5 0-1-1 1 0 7 0-9 0 9-1-4-1-2-1 0-1 2-1-2-1 5-3-3-3-5-4 2-4 5 0-1-1-6-6 5-15 1-3 0-5 10 12 1 5 1 1-1 0-7 7 6 0-3 1 4 1 2 0-7 2-2 1 9 2 0 1-2 2-4 1 0 3 6 1-4 0 3 1-4 1-4 1 4 0 5 0-9 1 4 0 1 0 2 1-5 0 4 1 1 0-4 1-1 0-2 0 3 1 3 0-4 0 5 1-1 0 3 1-5 0-1 1-2 0 6 1-1 0-6 1 2 0 1 0 6 0-9 1 8 0-6 0 7 0-4 0-2 1 1 1-1 0 5 0 1 1-2 130 2 1 0 2-1 0 0 1-3 1-3 0 4 0-5 0 5 0-4 0 6 1-3 0-5 1 2 0 6 0-8 0 1 1 1 0 0 2 3 1 0 0 2 1 2 0-3 1-5 2 7 0-4 0 3 1 0 0-5 1 1 4 5 0 10-5-7-1 5 0-3-2 4-2-7-1 6-2-6-1 3 0 6 0-7 0 5-1-6-1 3-1-3 0 4-2-4-1 7 0 1 0 0-1-2 0-3-1 0 0 4 0-4-2-1 0-2 0 2-2 5 0-1-1-3 0 3-1 1 0-1 0 1-1-3-2 2 0 1-2-2 0 3-1-1-1-1-2 2-116-9 0 0-1 2 0 2-1-1-2-1 0 1 0 0 0-1 0-1 0-1-1 2-1 3 0 4 0-7 0 5-1 1 0-2 0 2 0 1 0-4 0 1-1 1 0-3-1-2 0 0 0-1-1 6-1 0-1-4-1 2 0-2-2-2 0 8-1-3 0 1-1-6 0 3-1 2-2 2-1-4-2 5-1-2 0-7-1 1-2 6-3-1-6-4-2 6-3-4-9 0-3 1-9 13 10-1 3 0 1-5 4 7 1-4 1 4 1-2 0-2 5 3 1 1 1-5 1-1 2 5 1-7 0 1 0 3 0-2 2-2 4 0 2 7 2-3 0-2 0 1 1 4 2-3 0 3 0-3 0-5 1 4 0 1 2-2 1 4 0-7 1 2 0-2 1 9 0 0 1-7 0 0 2-1 0 5 0-5 1 2 2-1 0 6 1 1 0 0 0-5 0 4 1-3 0 3 1-5 0 3 0-6 0 2 0-1 113 8 0-1 1-1 3 1 2-8 1 6 0-1 2-2 0-3 1 0 1 5 0-3 1-2 0 3 5 3 1-4 0 5 1-7 1 4 0-4 3 9 1-5 6 1 2 3 4 1 1 4-10-2-12 4-2-5-2 4 0-4-3 0 0 1 0 3-3 1-2-1-1-3 0 1-1-1 0 4-1 0-2-4-2 0-2 2 0 0-1 1-1 1 0-2 0-1 0 0 0 1-109-3-1 1 0 0-1 1 0-1 0-1-1 2 0-1-1 3 0 2-1-2-1-2 0-2 0 2 0 3-3-4 0 1-1 4 0-5 0 1-2 0 0 3-1-3 0 2 0-3-1 5 0-2 0-4 0 0 0 2-1-1-3 5 0-3-1-3 0 5-2-2-2 3 0-1-1-1-2-3-1 2 0-1-2 3-2 1 0-6 0 6 0-1-2 0-3-4-2 5-5-6-2 0-4 1-10 5" fill="none" marker-start="url(#m2)" marker-mid="url(#m2)" marker-end="url(#m2)"/>
<path transform="scale(.5)" d="M216 96l-2 1-4 0-3 0-1 0-3-1-137 13 24 0 2 3-2 0 0-1-3 0-1 1 0 2-1-1 0 1-2 0 0 3-1-3 0-1 0-3-1 9 0-1 0-7 0 1-2 6 0-4 0 5-1-8 0 0-1 1 0 7-1-3 0 2-2-6-2 6-2 1-3-7-1 7 0-5-1-1 0 5 0-4-1-3-1 7-3 1-4-3-4 3-1 0-26 5 14-2 8 7 2-6 0-3 2 5 7 2 1-2 2-4 0 6 1-7 2 7 2-3 2-1 0 2 1-4 1 7 0-2 0 1 2-6 0 5 1 0 0 3 1 0 0-6 1-1 0 5 0-6 0 5 0-3 1 2 1 0 0-1 2-3 0 3 132 14-137-8-2 8-1-4 0 0 0 3 0 0-1-2 0 3-1-2 0-2 0 3-1-5 0 2 0 5-1-5 0 0-1-4-1 1 0 0-3 2-1 6-2-9-1 5-2 1 0 0-2 1 0-6-2-1-1 2-5 0-2 1-1 4-5-4-38 0 22 8 11 1 6 0 1 2 1 5 3-5 2 3 1 0 1-7 1 6 0-5 1 6 1 0 0-6 0 4 3 2 1-2 1 0 0 3 0-3 0-3 0-2 1 3 0 6 1-3 1 3 0-6 1 0 0 1 1 4 3 1 0-6 0 1 0 4 0-3 0 0 0 4 0-6 1 2 1 0 0-1 0 2 1-6 0 2 1 0 0-2 0 6 0-3 1 4 0-7 1 9 142-2-1 5-1 3 0 4-2-7 0 5-1-6-1 2 0 1-2 3-1 0-2 2-133-6 0 0-1 6 0-5 0 3-1 0 0-5-1-1-1 8 0-9 0 8 0-1-1-7 0 8 0-2-1-3-1 1 0-3 0 7 0-4 0-1 0 5-1-5 0 3-1 2 0 0-1 0-1-4 0 3-1 1-2-5 0 0-1 0-1 1 0 2-3 2-1 1 0-7-7 6-2-1-2-7-1 6-3-4-4 1-6 5-3-3-9 5 7 6 5 2 13-8 3 5 7-5 4 0 1 9 0-4 0 2 1-7 2 8 1-4 1-2 1 5 1-7 1 2 1 7 1-2 0 1 0 1 0 0 0-6 2 5 1-1 0-3 1-2 0 7 0-9 0 9 1-2 0-7 0 3 0 3 1 3 0-5 0 4 0-7 1 2 1 4 1 0 1 2 0 0 128-4 1-1 0 5 1-6 0 2 0-4 1 6 1-5 2 2 0-1 0-1 3 2 1 3 0-4 2-3 2 11-8 7-3-1-1 1-1-1 0-7-1 9-127-9-1 0-1 1-5 1-1-1 0 0-1 0 0 1-1 5 0 1 0 0 0-1 0-5-1 4 0 3-2-6-1 3-1 0-2-2 0 5-1-8 0 5 0-2-1 2 0-3-1 5-1-7-1 8 0-7-1 3-1 4-1-6 0 4-1-3-1-2 0 6-1-5 0-3 0 9-9-3-1-6-1 0-1 4-26 6 14 1 8 6 4-6 4 8 13-5 1 1 2 4 1-7 1 4 1-3 1 6 0-8 1 5 1 2 0-8 0 0 1 4 1 5 0-3 0-6 2 5 0-5 2 4 0 4 0-3 134 1 0 3 1-5 2 0 5-3 9 6-13 3-1 3-6 4-5 1-1-3 0 1-2-2-1 0-1 5-5-2-116-7-2 1 0 0-2 3 0 2-1 3-1-2-1-4-1 1 0 0 0 5-3-4-2 4-4-8-2 6 0 1-1-4 0 4-3 1-4-9 0 0-5 6 0-6-2 5-19 2 10 12 5-5 3-2 4 0 1 4 1-6 2 4 1-3 2 7 2-7 1 0 3 0 0 4 3 3 1-6 1 3 2 1 1-2 1 2 1-5 1 7 1-2 1-6 0 6 2-2 0 2 116 2 5 1 9-7 9 7 5 4-23-3-1 1-10 2-113-2-2 0-14 3-2 0-5 1-1-1 0-4-2 6-10-4 0-2 0 5" fill="none" marker-start="url(#m3)" marker-mid="url(#m3)" marker-end="url(#m3)"/>
<path transform="scale(.5)" d="M160 49l53 6-2 2-2-1-4-2-4-1-1 4-1-5-8 6-1-4-2 3-3 2-7-2-2 2-2-6-2 5-1 0 0-2-1-2-1 2-1-3 0 4-3-1 0-4-1 5-2-6-1 7 0 1-1 0-2-6-5 5-3-2-1-1-2 4-3-6-1 4-1 0-1 2-1-1-3-7 0 5-1 2-4 0-4-6 0 7 0-1-3 1-1-9 0 7-1 2 0-1-1-4-77 15 9-1 1 0 1-5 24 6 1-1 3-4 2 5 2-6 2 6 3-3 0-1 1 3 7-5 2 3 3 2 0-4 0 5 0-3 3-6 1 7 2-2 0 3 2-3 1-2 0 5 2-6 3 3 0 1 2 0 3-4 1 3 1-5 2 2 1 3 1-1 1 0 5 0 0-1 1 0 0 0 2-2 3-1 0 2 1 1 1-3 2 1 1 1 0 0 2-1 4 0 2-1 5 2 3-2 1 0 1 1 4-1 1 1 1-1 0 0 5 0 1 1 1 0 3-1 3 0 1 0 1 1 0 2 1 0 2-2 0 2 1 0 1-2 1 2 0-1 2 0 2 1 0 1 1-2 1-2 1 2 0-2 0 0 0 0 1 2 1 2 1 0 0-2 0 3 1-2 1 4 0-1 0-2 0-4 1 1 0 6 0-3 1 4 1-2 2 3 2-9 0 5 2 4 0-4 1-4 1 5 0 3 0 9-2-2 0 2-1-4-1 3 0-4 0 0-1-2-2 4 0-3 0 6-1-5 0 2 0-2-1 3-97-2-1-1 0 2 0-4-1 3 0 0-1 1-2-2 0-2-1 1 0-1-2 1-1-1 0-1 0 0-1 5 0 4 0-7-1-2-1 5-1-4-1 5 0 2-4-1-1 1-1-3-4-5-2 9 0-6-1 4-1-5-1 0 0 3 0 0 0-3-1 4 0 1-1 0-5 1-22 1 7 9 5 1 2-7 3 1 4 1 5 3 3 2 1-2 1-2 1 1 0 1 1-1 0-1 0-4 3 5 1 0 1 0 1 3 0 0 1-4 0-2 0 2 1-1 1-3 1 3 1-1 1-3 0 1 0 0 3-1 0 0 1 0 106 1 2 7 1-4 1-1 0 5 1-4 0-4 0 8 2-4 0-1 0 6 1-7 0 3 1-1 0 1 0-4 0 9-1 3 0-1-1 0-2 1 0-3 0 0 0 5-1-4 0 0-2 2-1 3-1-1 0 3 0-5 0 4-1-5 0 1-1 4 0 0 0 0-1-4-1 2 0 2 0-3-113-4-1 2-1 2 0 0-1-3-1 1 0 2-1 2 0 1 0-3-1 4-1 1 0-4-1 4 0-4 0-3 0 7-1-6 0 2-1 3-1 0-1-4 0 3-1-2-2 2-1 1-2-4 0 2-1-6-2 6-2-6 0 6-4-3-1-1-4 5-5-7-10 4-5 4-17-6 31 16 2 0 5-8 2 1 1 1 0 0 1 1 1-2 1 4 0 1 1-2 0 4 2-1 2 1 0-5 1 6 5-5 1-3 0 3 1-3 2 8 1-5 0 2 0 2 1-2 1-5 0 3 0 1 1 1 1 0 1 0 1 2 1 0 5 3-1 1-1 0 0 0-3 0-2 1-1 1 0-4-1 3 0-1 0 4-1 1 0-5-1 0 0-2 0 5 0 1 0-5-1 8-2-3 0-3 0 6-1 0 0-6-4 6 0-5 0 5-1-8-1 5 0-5-1 8-1 0-1-6 0 3-1-5 0 5-1-6-1 5 0 2-1-7-5 3-3 3 0-5 0 2-3-3-1 4-8-3-11 4-8 9 10 1 4-2 9-3 2 4 6 0 4 2 1-3 3-2 1 8 1-9 0 5 1-1 1 2 0-4 2 2 1-3 2 4 2 3 0-3 0-3 0 1 0 3 0-3 0 5 1-8 1 8 0-7 1 1 0 0 0-2 134 17-141-6 0-1-1 9 0-2 0-4-1 2 0 4-1-7 0 1 0 2-1-2-1 2-1 0-2 2 0-6 0 7-1-4 0-4-1 2-3 0 0 3-1 1-2-2-1 1-1-1 0 2-3-2-1-4-1 5-1-2-14 2-1 9 7-3 4 4 2 3 1 1 2-3 1-3 5 0 1 6 2-5 1-1 0 5 1-1 2-2 1-2 1 2 0 3 1-4 0 2 0 3 1-2 0-2 2-4 0 5 145 8 0 5 0-4-5 2-2-2-138 1 0-4-1 0 0 3-1 1 0-5 0 8 0-3 0-5-1 6 0-7 0 4 0 2 0 3 0-4-2 0 0 0 0 2 0-1 0-1-1-1-1 5 0-1-1-2 0 1-1-5-1 5 0-5-1 2-1 5-1-7 0 0 0 3-2-1-3-1 0-1-3-1 0 8-4-9-1 9-4-1-2-1 0-2 0-1-3-2-9 6-1 5 0 0 8 2 2-1 2-3 6 6 1 2 3-3 4 1 5 2 1-6 1 2 0 4 1-9 3 9 1-8 0 6 0-5 1 3 0-1 0 4 0-5 2-3 1 4 1 1 3 2 0-1 0-1 0 0 1 3 129-3 1 1 3-3 0 2 0-3 1 2 0-1 0-2 1 5 1 1 1-6 1 1 3 1 2-1 0 1 1 1 0 4-5 5-6-1-2 2-2-2-128-1 0 0-3 2 0-2-1 0-1 1-3 5 0-3-1-2 0 3 0-2-1-3 0 4 0 5-1-1-1 0-3-4 0 1 0-4-5 7-1-2-3-2 0-3-2 8-3-2 0 2-2-6-5 4-10 1-3-7-9 11 12 4 2-4 2 0 1 3 0 1 6-3 4 2 1-4 1-1 2 7 1-1 1 0 0-6 3 2 1 5 2-1 1 0 0-1 1-3 1 1 0 2 0 0 2 3 1-6 0 6 4-2 1-1 0 0 0 3 1-2 0 2 0-1 0-2 1 1 0-2 130 4 1 1 5-5 7 3 2 11-16-4-2-1-1 0-5 6-3-4-2 3-117-8-3 0 0 2 0 2-1 1 0 3 0-1-1-3 0 5 0-6-1 5 0-6-1-1 0 7-1-4 0 3-2 2-1-3 0 2-1 1-1-5 0 3 0-1-2 2-1-7-2 5 0-3-1 0-1 6 0-2-1-2-2-3-4-2-2 1-2 5-2-4-2 4 0 2-11 2 1 6 5 3 2-3 2 0 3-3 4 0 3-1 0 2 1-4 2 6 1-1 1 1 1 0 3-6 4 0 0 8 2-2 0-6 1 3 1-1 1-2 1 2 0 5 1-7 1 9 0-6 1-1 0 2 118 4 1-7 0 4 2 3 3-3 6 2 3-1-11 9-1-4-7 0-1-1-3 5-115-4 0-1-4 2-1 0-2 0-1-2 0 5-2-1 0-1-3 3-1-6 0 4-1-3 0 3-1 1-1-3 0 0 0 3-4-2-2 0 0-1-1 3 0-2-4 3 0-2-14-2-4 1" fill="none" marker-start="url(#m4)" marker-mid="url(#m4)" marker-end="url(#m4)"/>
<path transform="scale(.5)" d="M214 79l-1-3-2 3-1 0-2 2 1 1 1-2 2 1 2 3 1 7-2 2-2 0 0-2-1 4 0 2-1 0-3-7 0 6-1-3-1 3-1 1-117-2-20 12 21 6-7 6-7-7-3-1-5 8-12 0 13 2 4 7 3-4 2-2 138 16-145 1-2 0-1 0-2-5-13-2 11 11 6 6 142 0 0 0 0 0 2 0 1-2 0 0 2 1 1 1 1-2 0 3-2 0-1 2-1 5 0-1 0-6 0 7-1-3 0 1-2-3 0 3-1-2 0 2 0 2-1-1 0-3-1 5 0-4 0 1-1 1 0 3-138-3 0-2-3 0-27 12 20 1 1-1 1-3 2 3 1 0 1 0 3 0 1 1 132 1 0-1 0-1 1-3 1-1 0 2 0-2 1 7 0-8 0 1 0 7 0-8 1 0 1 3 0-2 1 1 0 5 0 0 1-5 0-1 0-1 0 3 0 4 1 0 0-2 0-1 0 3 1 1 0-4 0-4 1 5 1 1 1 2 1-3 0 1 1-1 2-5 0 5 1-4 0 5 0 10-1-7-2 3 0 4 0-7-2 8 0-8-1 0-1 1-2 6-1-6-2 5 0 0 0-5 0 2-1 1-1 0 0-1-1-1-1 1 0-1 0 1 0 5-1-8 0 0-128 0-4 2-1-2-2 2-1 3-4 1 0 1-1-5 0 0-3 4-2 1-1-2-1-1-8 5 0-3-7-2-2 3 0 7 14 5 4-7 2 7 0-6 4 6 0-7 1 4 0-4 3 0 1 6 0-1 1 1 131-1 2-3 0 3 0-2 0 2 0-4 1-2 0 1 1 7 0-3 0-5 1 5 0-4 0 3 0-1 0-1 1-3 0 3 0-2 0 0 1 1 1 2 1-1 1 3 1-5 0 6 0-7 1 4 0 2 1 2 0-2 1-6 0 9 0-4 2 3 0-1 2-4 1 1 2 2-1 10-1-2 0-2 0-2-2 4-3 4-1 0-4-8 0 1-1-1-1 3-1 0 0-2-1 6 0-1-1 1 0-6 0 3-1 1 0-1-1-1 0 6 0 0-1 0 0-5 0 0-2-3-1 5 0-5 0 7 0 1-1-6-1 4 0-2 0 2-1 2 0-6 0 2-1 2-2-1 0-1 0 2-1 1-2-3 0 3-1 1 0-1-2 1-118-9-3 5-2 0-8 1 0 3-3-2-1 0-1-1-1-4-1-1 0 6 0-7-29 2 15 13 4-3 12 4 3 2 2-3 3-5 2 6 2-6 0 7 4-1 0-5 112 8 0-1 2 0 1-1 0 0 3 1 1-7 0 8 0-3 1-3 1 1 0 2 1-4 0 0 0 4 1-6 0 0 0 2 1 4 0 2 1 1 0-6 0-1 1 2 0-1 0 3 1-3 1-1 2 0 1 4 1 1 1-3 0-4 4 1 1 1 1 1 0 1 2-1 2-2 1 0 2 6-10 3-2 0-4 5 0-4-1 2-3-3 0 1-1 2-1 0-1 1-3-4-1 1-4 2-2-2 0 0-1 0 0 1-1-1 0 0-1 0-1 3 0-4 0 1-2 3-1-3-1 2 0 2-112-3-2-2-5 5-1-3-5 4-3-4-1 3" fill="none" marker-start="url(#m5)" marker-mid="url(#m5)" marker-end="url(#m5)"/>
<defs><path id="c307" d="M40.1 88.2l4.3 1.7 4.7-1.3 4.7 0.8 4.8-1 0.7-0.2-0.7-0.6-0.9-2.2 0.9-0.4 2.7 0.4 2 1 1.4-1 3.3-2.7 4.7-2.8 2-2.7 2.7-1.9 1.4-0.9 3.3-2.7 4.7-2.8 4.4-2.7 0.3-0.5 2.7-2.3 2.1-2.7 2.9-2.8-2.9-1.5-1.2-1.2-3.6-1.6-3-1.2-1.7-0.9-4.7-0.2-4.7-0.2-4.7 0-4.7 0.3-4.3 1-0.4 0.1-4.7 0.4-4.8 0.8-3.4 1.5-1.3 0.7-4.7 0.4-2.1 1.6-2.6 2.6-0.3 0.2 0.3 2.7-4.2 2.8 0.4 2.7-0.9 1-1.6 1.8 1.6 2.7-0.3 2.8-1.6 2.7 1.9 2.8 4.7-0.4 0.3 0.4 0.8 2.7z"/><path id="c308" d="M43 79.9l1.4 1.1 4.7 1.5 4.7-1 4.8-0.3 1.8-1.3 2.9-1.4 2.5-1.3 2.2-2.8 4.7-0.3 2.7-2.4 2-1.4 3.4-1.4 1.3-1 2-1.7 1.3-2.8 1.4-2.7 1.4-2.8-1.4-1-4.7-1.3-1.2-0.4-3.5-1.1-4.7-0.7-4.7 0.8-4.7 0.9-1.6 0.1-3.1 0.1-4.8 0.9-3 1.7-1.7 0.7-4.6 2.1-0.1 0.7-0.4 2-2.7 2.8-0.5 2.7-1.1 1.6-1.3 1.2 1.3 0.9 1.9 1.8 0.7 2.8z"/><path id="c309" d="M52.6 74.4l1.2 0.8 1.5-0.8-1.5-2.7 4.8-1 3.2 1 1.5 0.9 2.9-0.9 1.8-2.1 3.1-0.7 1.6-0.2 1.4-2.5 3.3-2.6 0.3-0.2-0.3-2.7-2.8-2.8-1.9-0.2-4.7-0.8-4.7 0.1-4.7 0.8-0.4 0.1-4.4 1.4-3.5 1.4-1.2 0.9-1.2 1.8-1 2.8-1 2.7 1.6 2.8 1.6 1.2z"/><path id="c310" d="M54.1 66.2l4.5 2.7 4.7 0 3.6-2.7 1.1-1.5 4.3-1.3-4.3-1.2-4.7-1-1.9-0.5-2.8-0.5-1.7 0.5-0.3 2.7z"/><path id="c311" d="M47.3 109.6l1.5 0.4 5.2 0.5 5.1 0.3 5.2-0.6 5.1-0.5 5.2 0.4 1.3-0.5 0-3.4-0.7-3.4 4.5-1.4 3.1 1.4 2.1 1 1.5-1 1.7-3.4-3.2-2.5-0.5-0.9 0.5-0.4 5.2 0.4 2-3.4 2-3.4 1.1-2.3 1.3-1.2 1.5-3.4 2.4-2.9 1.7-0.5 2-3.4 1.4-1.7 5.2 0 0.5-1.7-0.3-3.4 0.5-3.4 0.5-3.4-0.4-3.4 0.2-3.4 0.2-3.4-1.2-3.4-5.2 0-5.1 0.4-2.1-0.4-3.1-0.5-5.1-1.6-5.2-0.2-5.2 1.9-5.1-0.4-2.3 0.8-2.9 3-0.5 0.4-4.6 1.7-3 1.7-2.2 1-4.2 2.4 0.1 3.4-1 1.4-2.4 2-1.1 3.4-0.8 3.4-0.9 2.3-0.7 1.1 0.7 3.4-5.2 3.4 1 3.4 2.6 3.5 1.6 3.4-5.2-0.4-0.4 0.4 0.4 0.3 2.3 3.1 1.4 3.4 1.5 3.4-1.5 3.4z"/><path id="c312" d="M61.6 102.8l2.7 1.9 3.4-1.9 1.7-1.5 5.2-0.2 3.8-1.7 1.3-1.9 1-1.5 4.2-3.2 0.5-0.2 4.3-3.4-0.5-3.5 0.9-1.7 1.5-1.7 3.2-3.4 0.4-0.3 3.2-3.1 0.1-3.4 0.8-3.4 0.9-3.4 0.2-0.2 3.7-3.2 0-3.4-0.4-3.4-3.3-3.4-5.2-1.8-4.1-1.6-1-0.4-5.2 0.1-0.7 0.3 0.7 1.7 1.2 1.7-1.2 0.2-1.5-0.2-3.7-1-2.3 1-2.8 1.1-5.2 0.7-3.2 1.6-1.9 1.2-4.8 2.2-0.4 0.7-0.8 2.7 0.8 1.2 3.6 2.2-3.6 1.3-2.3 2.1-2.8 2.8-0.7 0.6 0.7 1.3 1.1 2.1 0.6 3.4 0 3.4-1.7 3.4 0 3.5-0.9 3.4 0.9 2.5 0.7 0.9 0.7 3.4 3.7 2.1zM48.1 85.7l0.7 0.8 5.2-0.8-5.2-0.6zM64.3 75.8l-0.5-0.3 0.5-0.2 0.2 0.2z"/><path id="c313" d="M69 96l0.4 0.2 0.7-0.2 1.3-3.4 3.2-2.3 1-1.1 4.1-2.3 2.8-1.2 2.4-2.7 0.5-0.7 2.3-3.4 2.4-1.8 2.3-1.6-0.1-3.4-0.5-3.4 3.4-2.7 0.2-0.7 2.4-3.4-2.6-1.4-2-2-3.1-3.4-5.2-0.5-2.6 0.5-2.6 0.8-5.1 0.5-5.2 0.1-3 2 3 3 0.9 0.4-0.9 0.3-2.8 3.1-2.3 2.7-1.6 0.7-0.3 3.4 1.9 0.9 3.1 2.5-3.1 2.8-1.4 0.6 0.7 3.4 0.7 3.4 0.6-3.4 4.5-1.5 4.8 1.5-4.8 2-5.1 1.4-2.2 3.5 2.2 2.8 1.9 0.6zM69.4 89.2zM98.7 58.5l1.7 1.4 0.4-1.4-0.4-1.2z"/><path id="c314" d="M72.3 75.5l2.3 0.9 1.1-0.9-1.1-0.7zM67.3 72.1l2.1 2.1 1.8-2.1 3.4-1.8 4.1 1.8 1 0.7 5.2-0.7-3.4-3.4-0.6-3.4 4-2 2-1.4-2-1.6-5.2 0.8-0.8 0.8-4.3 1.8-5.2 1.1-0.4 0.5-2.4 3.4z"/><path id="c315" d="M25.8 109.5l1.3 0.3 5.6 0.5 5.6 0.8 5.6 0.1 5.6-0.2 5.5-0.3 5.6 0.1 5.6-1.2 5.6 1.1 5.6-0.6 4.6-0.6 0-3.1 0-3.1 0.9-0.9 2.8-2.2 2.8-1.3 4.3-1.8-4.3-3.1 4.8-3.1 0.8-0.2 4.2-2.9 1.4-3.1 0.5-3.1-0.5-1-0.7-2.1-0.1-3.1 0.5-3.1 0.3-0.8 5.5-2.3-5.5-2.3-0.3-0.8 0.3-0.2 3.1-2.9 2-3.1-5.1-2.5-1.9-0.6-3.7-2.6-3.4 2.6-2.2 0.5-1.3-0.5 1.3-3.1-5.6-3.1-2.4 3.1-3.1 0.6-5.3 2.5-0.3 0.2-5.6 0.5-5.6 0.2-4.4 2.2-1.2 1.2-5.5 1.9 0 3.1-5.6 3.1 0.4 3.1-0.4 0.4-2.2 2.7 0.3 3.1-2.8 3.1-0.9 0.6-2.2 2.5-3.4 2.3-1.4 0.8-0.8 3.1 2.2 1.6 2.3 1.5-2.3 1.8-4.2 1.3 1.6 3.1 0.2 3.1-3.2 2.7-1.3 0.4z"/><path id="c316" d="M35.5 109.5l2.8 0.5 5.6 0.1 5.6-0.3 3.1-0.3 0-3.1 2.4-0.4 5.6 0.4 5.6-1.2 5.4-1.9 0.2-0.1 5.6-0.1 3.6-2.9 0.7-3.1 1.2-0.4 2.5-2.7 0-3.1 3.1-2.1 4.7-1-2.6-3.1-2.1-2.3-0.3-0.8 0.3-0.3 4.9-2.8 0.7-1.2 0.8-1.9 0.3-3.1-1.1-1.5-2.5-1.6 2.5-2 0.6-1.1-0.6-0.9-2.2-2.2-0.3-3.1-3.1-0.7-5.6-2-5.5-0.4-3.8 3.1-1.8 0.1-1.4-0.1-4.2-0.4-2.1 0.4 2.1 0.6 1.8 2.5-1.8 1.2-5.6-0.7-1.4 2.6-4.2 3.1-2.7 3.1-2.3 3.1-0.5 0.5-1.6 2.6-2.4 3.1 0.1 3.1-1.7 3.1 0.2 3.1-0.2 0.5-1.9 2.6-2.1 3.1-0.9 3.1-0.4 3.1-0.3 0.4-2.8 2.7z"/><path id="c317" d="M49.1 100.2l0.4 0.2 5.5-0.2 5.6 0.8 2.4-0.8 3.2-2.1 5.6 0.4 1.3-1.4 4.3-2.9 0.3-0.2-0.1-3.1 2.1-3.1 3.2-2.2 1.3-0.9-0.7-3.1-0.6-1.1-1.4-2 1.4-2.6 0.7-0.5 1.9-3.1-2.6-1.6-4.4-1.5-1.1-1.5-5.6-0.1-2.1 1.6-3 3.1-0.5 0.6-0.9-0.6-4.7-1.8-1.8 1.8-0.1 3.1 0.2 3.1-3.6 3.1 0.1 3.1-0.4 0.4-5.5 2.4-0.4 0.3 0.4 0.8 2.1 2.3-2.1 2.3-0.5 0.8-1.2 3.1zM71.8 90.9zM71.5 63l0.3 0.7 0.8-0.7-0.8-0.2z"/><path id="c318" d="M62.6 90.9l3.6 3.1 2-3.1-2-2-3.7-1.1-1.9-1-1 1 1 1zM67.9 87.8l3.9 1.3 3.2-1.3-0.6-3.1-0.6-3.1 2.2-3.1-4.2-2.8-5.6 2.3-0.6 0.5-5 3.1 5.6 1.8 2.2 1.3z"/><path id="c319" d="M39.1 100.1l2.1 1.2 6.4-0.1 6.4 1.1 6.3-0.3 3.9-1.9 2.5-0.4 6.4-1.2 2.4-1.6 2.3-3.1 1.6-1.7 3.9-1.4 2.5-2.1 1.4-1.1 5-3.1 3.7-3.2 2.2-3.1 0.4-0.6 1.2-2.6-1.2-2.5-0.2-0.6 0.2-1 3.2-2.1 3.2-3.2 6.4 0 0.7-3.1 0.9-3.2 0.5-3.1-2.1-2.7-6.4 0-1.6-0.5-4.8-1.3-6.3-1-3.5-0.8-2.9-0.8-2.5 0.8-3.9 0.8-6.3-0.8-6.4 1.3-5.6 1.8-0.8 0.3-6.3 2.6-1.6 0.3-4.8 1.6-1.4 1.5-5 3.2-3.4 3.1-0.4 3.2-2.5 3.1-0.4 3.1 0.4 0.6 1.5 2.6-1.3 3.1 0.1 3.2 3.7 3.1-0.9 3.2 1.1 3.1 2.1 1 0.9 2.1-0.9 1.1z"/><path id="c320" d="M47.6 90.7l6.4 1.2 6.3-0.8 6.4 1.3 2.3-1.7 4.1-1.3 6.3-1.4 0.9-0.5 0.2-3.1 1.3-3.2 4-3.1 3.9-3.2 2.5-2.3 0.8-0.8 1.2-3.1 2.5-3.2 0.6-3.1 0.5-3.2 0.7-0.8 3.1-2.3-3.1-1.3-6.3-1.3-2.4-0.6-4-1-6.4 1-0.5 0-5.8 1.4-6.4 0-4.5 1.8-1.9 0.9-6.3 2.1-0.3 0.1-4 3.2 0.1 3.1-2.2 1.8-1.7 1.4-3.1 3.1-0.1 3.1 0.6 3.2-2.1 2.3-0.8 0.8 0.8 1.3 2.8 1.9 3.6 1.8 1.9 1.3z"/><path id="c321" d="M60 87.5l0.3 0.1 0.4-0.1-0.4-0.3zM54 81.2l6.3 2 5.6-2 0.8-0.2 6.4-1 0.8-1.9 4.9-3.2 0.6-0.3 6.4-2.5 0.4-0.3 2.7-3.1-0.6-3.2 3.9-3.1 0.3-3.2-0.3-0.7-6.4-2-0.9-0.4-5.5-0.9-2.4 0.9-3.9 1.6-6.4-0.2-3.4 1.7-3 1.7-2.8 1.5 2.8 3.1-4.4 3.2-1.7 3.1-0.2 0.3-1.6 2.8-0.1 3.2 1.7 3.1z"/><path id="c322" d="M64.7 74.9l2 1.5 3.8-1.5-1.9-3.1 4.5-1.4 4.1-1.7 0-3.2 2.2-1.1 2.3-2-2.3-0.9-6.3-1.3-6 2.2-0.4 0.5-1.6 2.6-3.8 3.2-1 3.1z"/><path id="c323" d="M39 110l2 0.5 5.8 0.4 5.9 0.5 5.8-1.2 0.3-0.2 0-4.1 5.5-1.8 5.9-2.4 5.8-2.1 2.3-2.1 3.5-1.9 2.7-2.3-2.7-4.2 5.6-4.1 0.3-0.7 2.2-3.5 2.3-4.2-0.5-4.2 1.8-4.2 1.7-4.2 0.4-4.1 2.1-4.2 1.7-2.7 2.6-1.5 0.3-4.2 2.9-2.5 5.8 0 0.5-1.7-0.5-0.8-5.8 0-1.9-3.3 1.2-4.2-5.1-3-5.9-0.3-3.9-0.9-1.9-0.4-5.9 0.2-1.4 0.2-4.4 0.4-5.8 1.4-5.9 0.1-5.8 1.3-2.9 1-2.9 4.2-5.9 3.2-1.2 0.9-3.5 4.2-1.1 4.2 5.2 4.2-4.6 4.2 0 4.1-0.6 0.9-2.9 3.3 2.9 3.4 0.9 0.8-0.9 0.8-5.9-0.8-1.5 4.2 1.5 4.2 1.6 4.2 2 4.1-3.6 2.4-2.7 1.8-1.8 4.2 4.5 2.6 2.3 1.6 1.6 4.2z"/><path id="c324" d="M55.6 101.7l2.9 1 5.8-0.9 0.3-0.1-0.3-4.2 5.9-2.4 5.8 0.2 3.4-2-3.4-3.3-0.9-0.9 0.9-1.2 5.8-2.6 0.5-0.3-0.5-1-4-3.2 4-2.5 1.5-1.7 0.8-4.2 0.7-4.2 2.9-4.2-0.9-4.1 0.9-3.6 1-0.6 2.7-4.2 2.1-4.2-1.1-4.2 1.1-1.7 3.4-2.4-3.4-2-2.1-2.2-3.7-1.7-4.6 1.7-1.3 0.6-2.3-0.6-3.5-0.8-2.2 0.8-3.6 4.2-5.9-2.7-2.9 2.7-2.9 3.4-2.2 0.7-3.6 3-0.6 1.2-1.5 4.2 1.3 4.2-3.2 4.2-1 4.1-0.9 3-0.7 1.2 0.7 0.7 2.2 3.5-2.2 3.8-0.4 0.4-3.9 4.2 0.9 4.2 2.1 4.1-2.9 4.2 2.9 4.2 1.3 1.2 5.9 1.7z"/><path id="c325" d="M50.7 93.3l2 2.3 2.6-2.3 3.2-0.9 4.5-3.3 1.3-1.2 5 1.2 0.9 0.3 0.2-0.3-0.2-0.6-1.7-3.5 1.7-1 3.2-3.2-3.2-3.3-1-0.9 0.8-4.2 0.2-0.8 5.8 0.5 3.2-3.9 2.6-2.2 2.1-2-0.2-4.1 1-4.2 1.3-4.2 1.7-3.1 0.5-1.1-0.5-4.2-3.6-4.1-2.3-0.8-5.8-1.8-3.1 2.6 3.1 3.1 2.1 1-2.1 0.7-5.8-0.2-5.9 0.2-4.9 3.5 2 4.2-2.9 1.6-3.1 2.6 3.1 2.5 2 1.7-0.8 4.1-1.2 1.1-2-1.1-3.8-2.4-1.7 2.4 1.7 2.4 2.1 1.8-1.3 4.2-0.8 0.3-2.3 3.9 2.3 3.6 0.9 0.6-0.9 0.9-2.1 3.3-0.4 4.1z"/><path id="c326" d="M62.7 76.6l1.6 3.7 1.4-3.7 1-4.2-2.4-2.8-2.9 2.8zM65.1 64l5.1 1.3 5.8-0.7 0.5-0.6 1.8-4.1-2.3-1.7-1.9-2.5-3.9-4-3.9 4-2 3.4-0.3 0.8 0.3 2.8zM70.2 61.6l-4.2-1.7 4.2-0.9 2.6 0.9zM67.3 47.3l2.9 3.5 5.8 0.4 4-3.9-4-1.4-5.8 0.7zM75.9 39l0.1 0.1 0.4-0.1-0.4-0.2z"/><path id="c327" d="M36.5 109.8l3.3 1.4 5.1-0.2 5.1 0.5 5 0.4 5.1-0.3 5-0.1 5.1 0.1 5-0.4 5.1-0.6 2.9-0.8 0-3.7 2.2-1.1 4.6-2.7-0.2-3.7 0.6-0.5 5.1-1.8 1.8-1.5 1.9-3.7 1.3-3 0.3-0.8-0.3-0.5-1.4-3.2 1.4-3.3 0.3-0.5-0.3-3.7-5 0.2-0.2-0.2 0.2-0.3 4.4-3.5 0.6-1.1 1.4-2.6-1.4-2.1-1-1.7 1-2.1 0.9-1.7-0.9-1.6-1.8-2.1-3.2-3.8-5.1-1.2-5 1.2 0.7-3.7-0.7-0.4-1.1 0.4-4 0.7-5.1 1.2-2.9 1.8-2.1 1.4-4.1-1.4-1-0.8-0.5 0.8 0.5 1 1.5 2.8-1.5 1.1-4 2.6-1 1-4.1 2.8-1 2.8-0.5 1-4.5 3.3-0.4 0.4 0.4 0.4 2.2 3.4-2.2 2.5-1.4 1.2-2.5 3.8-0.5 3.7-0.7 3.8-5.1 0.5-1.8 3.2 1.8 2.8 0.8 1-0.8 1.5-1.2 2.2-2.1 3.8z"/><path id="c328" d="M51 109.8l4 0.6 5.1-0.6 0-3.7 5-0.1 5.1 0.1 5-1.5 4.7-2.3 0.4-0.1 4.9-3.6 0.2-0.3 4.4-3.5 0.6-2.5 0.4-1.2 2.3-3.8 0.7-3.7 0.4-3.8-1.5-3.7 0.7-3.8-1.3-3.7-0.2-3.8-1.5-1.3-2.3-2.5-2.7-1.3-5.1-1.1-5.1 0.4-5 0.1-2.9 1.9-2.2 2.7-1.1 1.1 1.1 1.6 1 2.2-1 0.6-5 1.1-2.4 2 1.4 3.8-4.1 1.8-2 1.9-1.1 3.8-1.9 1-1.2 2.7 0.7 3.8-1 3.7-0.8 3.8-0.7 3.7 3 3.5 1 0.3z"/><path id="c329" d="M53.3 102.3l1.7 0.6 5.1 0.1 5-0.4 3.8-0.3 1.3-0.1 4.9-3.6 0.1-0.2 1.7 0.2 3.4 0.2 0.3-0.2 1.1-3.8 3.7-3.1 0.4-0.6-0.4-3.8-1.8-3.7 1.8-3.5 0.5-0.3-0.5-0.7-5.1-2.8-0.4-0.2 0.4-0.2 5.1-2.8 0.2-0.8-0.2-0.2-5.1-2.9-1.8-0.6-3.3-1.1-1.7 1.1-0.8 3.7-2.5 0.9-5.1 1.8-0.8 1.1-4.2 3.6-0.3 0.1 0.3 0.3 2.7 3.5-2.7 1.5-3.9 2.2 0.6 3.8-0.7 3.7-0.5 3.8-0.6 1.6z"/><path id="c330" d="M59.7 94.8l0.4 1.3 5 2.5 5.1-3.8 4.3-3.7 0.7-1.4 2.7-2.4 0.5-3.7-3.2-1.9-2.2 1.9-2.8 1.3-5.1 1.3-2.2 1.1 2.2 3 0.3 0.8-0.3 0.4-5 2.2zM70 79.8l0.2 0.3 0.5-0.3-0.5-0.2z"/></defs>
<g fill-rule="evenodd"><use href="#c307" fill="#fff"/><use href="#c308" fill="#8000ff" fill-opacity="0.15"/><use href="#c309" fill="#8000ff" fill-opacity="0.15"/><use href="#c310" fill="#8000ff" fill-opacity="0.15"/><use href="#c311" fill="#fff"/><use href="#c312" fill="#1996f3" fill-opacity="0.15"/><use href="#c313" fill="#1996f3" fill-opacity="0.15"/><use href="#c314" fill="#1996f3" fill-opacity="0.15"/><use href="#c315" fill="#fff"/><use href="#c316" fill="#4df3ce" fill-opacity="0.15"/><use href="#c317" fill="#4df3ce" fill-opacity="0.15"/><use href="#c318" fill="#4df3ce" fill-opacity="0.15"/><use href="#c319" fill="#fff"/><use href="#c320" fill="#b2f396" fill-opacity="0.15"/><use href="#c321" fill="#b2f396" fill-opacity="0.15"/><use href="#c322" fill="#b2f396" fill-opacity="0.15"/><use href="#c323" fill="#fff"/><use href="#c324" fill="#ff964f" fill-opacity="0.15"/><use href="#c325" fill="#ff964f" fill-opacity="0.15"/><use href="#c326" fill="#ff964f" fill-opacity="0.15"/><use href="#c327" fill="#fff"/><use href="#c328" fill="#ff0000" fill-opacity="0.15"/><use href="#c329" fill="#ff0000" fill-opacity="0.15"/><use href="#c330" fill="#ff0000" fill-opacity="0.15"/></g>
<g fill="none" stroke-width="1.20" stroke-linejoin="round"><g stroke="#8000ff"><use href="#c307"/><use href="#c308"/><use href="#c309"/><use href="#c310"/></g><g stroke="#1996f3"><use href="#c311"/><use href="#c312"/><use href="#c313"/><use href="#c314"/></g><g stroke="#4df3ce"><use href="#c315"/><use href="#c316"/><use href="#c317"/><use href="#c318"/></g><g stroke="#b2f396"><use href="#c319"/><use href="#c320"/><use href="#c321"/><use href="#c322"/></g><g stroke="#ff964f"><use href="#c323"/><use href="#c324"/><use href="#c325"/><use href="#c326"/></g><g stroke="#ff0000"><use href="#c327"/><use href="#c328"/><use href="#c329"/><use href="#c330"/></g></g>
</svg>
<svg x="495.54" y="569.05" width="108.00" height="108.00" viewBox="0 0 108.00 108.00">
<path transform="scale(.5)" d="M96 104l3 0 2-1-26 15-1 1-8 3 0 7 1 0 1 0 0-2 2 1 0-1 0 1 1-3 0 3 0-4 1 3 1-3 0 0 1 0 0-1 0 1 0 0 1-2-7 8-1 2 0 0 0-1 0 1-1 1 0 0-1 0 0-2-1 1-1 3 0 0 0-1-1 2 0 1 0-2 0 1-1 2 0-2 0 3 0-2 0 1 0-2 0 2-1-3 0 2 0-3 0 4 0 0 0-3 0 3-1 1 0-8 0 8 0-2 0 1 0 1 0 0-1-1-1 1-2-4 0 3-1-5 0 6-11 9 1 1 1-6 0 5 1-4 0 5 1 0 0 0 0-2 2 0 0-1 0-1 0 3 1-3 0 3 0 1 0 0 0-5 0 3 0 2 0 0 0-3 0 3 1-1 0 0 0 1 1-2 0-2 0 3 0-2 0 2 0-4 0 2 0 1 0 1 0-2 1-1 0-1 0 1 0 1 0-1 0-1 0 2 0-2 0 2 0 0 1-6 0 4 0 0 0 0 0 1 0-1 0-1 0-1 1 1 0-1 1 0 0-2 0 3 0-1 0-1 0 1 0-1 0 0 0 3 0-1 1-3 0 3 1-2 0 0 0-1 0 0 0 0 0 1-7 9-1 0 0 0 0 0 0 1-1-1 0 0 0 1 0 0 0 0 0 0 0 0 0-1-1 2 0-1 0 1 0 0 0 0 0 0 0 1 0-3 0 1 0 1 0-2-1 0 0 3 0-1 0 1 0 0 0 0 0 1-1 0 0-1 0 1 0-2 0-2 0 5 0 0 0-2-1 3 0 0 0-2 0 3 0-1 0-2 0 0 0 0 0-1-1 4 0-2 0-1 0 5 0-1 0 0 0 0 0 1 0-3 0 1 0-2-1 2 0-3 0 5-1 0 0-1 0-3-1 4 0-4 0 2-1-2 0 4 0 0 0-2 0 1-1-7 0 7 0-2-1 2 0-3-8 9 1 1 1-3 1 6 1-1 0-1 1-2 0 5 0-2 0 1 0-3 0-1 0 3 1-6 0 0 0 4 1 4 0-1 0-1 0-1 0 2 0-1 1 2 0-3 0-4 0-1 0 5 0 0 0 2 0-2 0-5 0 8 0-9 0 4 0 5 0-5 0 4 0-4 1 4 0-4 0-1 0 2 0 3 0-6 0-1 0 4 0 4 0-4 0 2 0-1 0 2 0-3 0 1 0 2 1-3 0 1 0-5 0-1 0 5 0 1 0-1 0 4 0-9 0 3 0-2 0 1 0-1 0 7 0-6 0 3 0-1 0 3 0 1 0-5 0 4 0-6 0 2 0 6 0-3 0 3 1-8 0-1 0 3 0-1 0 1 0-1 0 3 1-5 0 1 0 0 0 2 0-1 0 0 0-1 0 1 0 1 1-2 0 0 0 0 0 0 0 0 0 0 0-1 0 1 0-1-1 14-1 0 0-1 0 1 0-1 0 0 0 2-1-3 0 1 0 0 0 1 0 0 0 0 0 0 0-1 0 0 0 0 0 0 0 3 0-6-1 4 0-3 0 3 0 3 0-2 0-3 0-2 0 4 0 2 0 0 0-4 0 0 0 3 0 0 0-1-1 0 0 1 0 0 0 0 0-2 0 6 0-7 0 2 0-3 0-1 0 3 0-3 0 2 0 6 0-4 0 0 0-4 0 8 0-5 0-3 0 3 0 5 0-8 0 8 0 0 0-7-1-1 0 7 0-6 0 0 0 3 0 0 0-3 0 3 0 3 0-3 0-1 0 2 0 4 0-5 0-2 0 1 0 1 0 5 0-9 0 9 0-2 0 2 0-1 0-8 0 4-1 3 0 1 0-5 0 3 0 0 0 1 0 1 0-6 0 3 0-3 0 4 0-3 0 6 0-2 0 1 0-2 0-4 0 0 0 1 0 5 0 1 0-3 0-5 0 6 0-5 0 4 0-4 0-1 0-1 0 5 0 0 0 0-1 1 0 2 0-6 0 2 0-2 0-1 0 5 0 2 0-2 0 2 0-3 0 4 0-2 0-2-1-2 0 6 0-1 0 0 0 0 0-7 0 0 0 4 0 4 0-8 0 2 0 6 0-2 0-2 0 2 0-1 0 1 0-2 0 3 0 0 0-4 0 4 0-4 0 3 0-3 0 5-1-8 0 3 0 0 0-3 0 5 0 1 0-2 0 3 0-5 0 2 0-5 0 5 0-1 0 3 0-2 0 1 0 3-1-2 0 0 0 2 0-7 0 4 0 2 0-4 0 5 0-3 0-1 0 3-1-2 0 1 0 2 0-3 0 3 0-3 0-5 0 8 0-3 0-1 0 3-1-5 0 5 0 0 0-4 0 1 0-3 0 4 0 2 0 1 0-2 0 1 0-5 0 6-1-1 0-2 0 0 0 2 0 1-1-7 0 3 0-1-1 3 0 1 0-1 0 2-1-1 0-3-1 2-3 10 0 1 0-2 1 3 0-3 1 2 0-3 0 3 0-2 0 1 1 1 0 1 0-1 0-1 0-1 0 2 1-1 0-3 0-3 0 6 0-5 0 3 0 4 0-1 0 0 1-1 0 1 0-2 0-2 0-1 0 0 0 5 0-4 0-1 0 3 0-3 1 1 0-1 0 2 0-4 0 4 0-4 0 8 0-9 0 2 0 1 0 5 0-5 0 5 1-5 0 0 0 1 0-2 0 3 0-4 0 6 0-2 0-1 0 4 0-3 0 1 0-3 1 2 0 1 0 0 0-1 0-4 0 4 0 2 0-5 0-1 0 3 0 0 0-1 0 5 0-4 0 0 0-1 0-1 1 2 0-4 0 6 0-3 0 6 0-4 0-1 0 5 0-7 0 1 0 5 0-6 0 0 0 4 0 0 0-2 0 1 0 0 0 2 0-5 0 1 1 0 0-1 0 3 0 1 0 0 0-3 0 3 0-4 0 1 0 2 0-3 0 6 0-8 0 0 0 3 0-2 1 1 0 1 0 2 0 3 0-5 0-2 0 2 0 2 0-4 0-1 0 8 0-3 0-1 0-1 0-1 0-2 0 0 1 1 0-1 0 0 0 1 0 0 0 4 0 1 0-5 0 2 0-3 1 0 0 0 0 2 0 0 0 1 0-3 1 0 0 2 0-2 0 1 0 0 1 0 0-1 0 0-7 10-1 2-1-2 0 3 0-2-1 2 0-1-1 0 0-1 0 1 0-1 0 4 0-3-1 2 0-2 0 7 0 0 0 0 0-8 0 0 0 1-1 3 0 0 0-1 0-1 0 3 0 1 0-2 0-4 0 1-1 4 0-3 0 0 0-1 0 6-1-3 0 2 0-5 0 4-1-1 0 0 0-1 0 2-1-1 0 1 0 3 0-1-1-2-3 10 1-3 0 4 0-5 1 1 0 0 0 1 1-4 0 4 0-2 1 1 0-3 0 1 0-1 1 5 0-1 1 0 0-1 1-3" fill="none" marker-start="url(#m0)" marker-mid="url(#m0)" marker-end="url(#m0)"/>
<path transform="scale(.5)" d="M215 79l-22 10 1-2 2 0 6 2 2 0 1-5 0 5 1-1 0-2 0-1 0 1 1 2 0-2 0 1 0 1 1 0 0 0 2-7 1 3 2 2 0-2 0 1 1-1 0 3 1-2 0 2 0-1 0 0 0-1 0-3 1 2-12 6-1 0-1 1-1 0-2 0 0 0-2-1 0 3-4-1 0 1 0-1-1 2-1-3 0 4-1 0 0-5-2 2-1 4 0-1-2 4 0-1 0 1-2-1 0-2 0 2-2 0 18 41-3-1-18 11 5-2 2 1 2-1 3-1 1-4 3 0 0 0 3 0 1 3 1-4 0 0 1 2 3 3-5 12-10-3-1 0-2 2 0-5-1-2 0 3-6 2-2 3-4 1-1-4-2 2-1 2-2 0-22 9 1 0 0 0 3 1 0-2 1 0 1 2 1-1 0 0 0-1 1 0 2-2 2 2 0 1 1-5 1 1 0 5 0-2 2-3 1-1 1-3 1 7 1-6 1-1 19 1 8 6-9 9-12-2-7-2-3 7-1-3-1-6-1 1-1-1 0 3-1-1 0-2-1 8-3-8-1 3 0 4-4-5 0 3-1-2 0-1 0-1-2-1 0 0 0 9 0-9 0 6 0-1-1-2 0 4-1-3-1 4-2-3 0 0-1 2-1 2-2 0-3-1-1 0-1 1 0 0-2 0 0 0-14 10 1-1 1-2 1 3 0 0 1-5 1 1 1 3 1 0 0-1 0-4 0 2 2 0 1-1 0 4 1-5 0 3 0 0 1 2 1-8 0 7 0-7 0 5 0-2 1 0 0 5 0-3 1 1 0 1 0-5 0 3 1-5 6 4 1 1 0-4 0 0 5 2 1-3 0 3 0 5 0-3 2-5 2 0 7 3 9-2-2 14-14-2-9 2 0-3-4 2-3-1-2-3-1 1 0 0-1 4-1 1 0-6-2 0 0 4-3 4-3 0 0-2-1 3 0-4 0 2 0-4-2-3 0 5-1-2 0-1 0 0 0 4-1-6 0 4-1-2 0-1-1 5 0-2-1 0 0 0 0 4 0-5 0 3-1 2 0 0-1-4 0-1-1 6-1-2-1 1 0 0-23 11 0 0 0-1 2 1 1-1 0 0 0 0 1 0 0 0 1 1 1-1 3-1 0 1 1 1 1-2 1-1 1-2 1 3 2-2 0 3 1 0 0-2 1 0 0-2 1-4 0 2 1 4 4-3 1-2 1 2 0-1 0 1 5 1 2-4 2 0-26 10-2 3 0-2-3 1-2 0" fill="none" marker-start="url(#m1)" marker-mid="url(#m1)" marker-end="url(#m1)"/>
<path transform="scale(.5)" d="M201 133l0 2-4 3-18 10 1 1 1 0 4-4 0 2 7-6 7 6-5 8 0-4-5 5-1-6 0 9-1-8-1-1-5 6-1-2-4-2-3 2-2 0 0 5-1-3 0 1-1-2-1 2 0 0-1 0 0 1-3 0-18 10 0 0 1 0 4-2 1 0 0 0 0 0 2 2 1-4 1 2 0 1 0-4 1 2 1 1 3-4 1 2 1-3 0 1 1-1 2-1 0 6 1 0 0-4 1-2 1 1 1-1-10 12-2 1-1 1-7-3 0 5-2-2-1 3 0-4 0-1-1 5 0-7-1 0 0 5-1 4-2-7 0 0 0-1 0 1-1 6 0-2 0-2-1 3 0-2-1 4 0-4-1 3 0 0-2 0-1 0-1-1-1 2-2-1-1 0 0 0-1 1 0 0 0 0-1 0-12 10 0 0 1 0 0-3 1 0 0 3 0-4 1-1 1 0 2 0 1-2 1 6 1-7 0 1 1-2 0 2 0-2 0 0 1 5 1-5 0 6 1-5 0 6 1-7 1 1 0 8 0-8 1 3 0-2 1 4 0-5 1 3 2 4 0-4 1 4 1-5 4-2 3 0 18 11-30 0-3 1-3-1-1-2-1 2-2 0-3 1 0-2-2 5 0-1-1-3 0 1 0-2-1 0 0 0-1 4 0-5-1 4 0-3 0 2 0 2 0 1-1-4 0-1 0 2-2-1 0 7 0-3-1-3 0 6 0-3 0-2-1 4-1-5-1 3 0 3-5 0-15 9 2-1 11-6 2 3 0-4 2 0 3 5 1-5 1 0 1 1 4 0 1 0-32 10 0 0-2 0-1 0" fill="none" marker-start="url(#m2)" marker-mid="url(#m2)" marker-end="url(#m2)"/>
<path transform="scale(.5)" d="M204 129l5-5 0 1 1 0 0-1 1-3 1-1-4 10 0 5-3 0 0-1 0-4-2 1-1 2-1 1 0-2-1 0 0 2-1 2 0-5 0 2 0-1-1 1 0 4 0-1 0-1-1 3 0-2-1 3 0-1 0-1-17 12 0 0 1-2 0 1 1 1 0 0 0-1 2 1 0-1 0-1 1 2 1 0 0 0 1-4 1-1 0 3 0 2 1-4 0 0 0 0 1 2 1-5 0 5 1-6 0-1 0 3 1-2 0 4 0 1 1-1 1-5 0 0 0 0 1 3 0-2 0 0 0-1 2 3 0-3 1 4 4-4 0 3-8 7-4 6-4-6 0 4 0 1-2-5 0 4 0 3-2-3 0-2-1 0-1-1 0 2 0 0-1 0 0-1-1 7 0-9-1 5 0 2-1-6 0 2-1 5 0-6-1 1 0-1 0 1-1 0-1 0 0 1 0 5 0-3-1 0 0 3 0-2 0 0 0 0 0-3 0 1 0-1-1 4 0-1 0-2 0 1-1 2 0-1 0 1-1 0-1-1-24 12 1 0 0-1 1 1 2-1 0 1 1-2 0 1 1-1 0 1 0-1 0-1 1 3 1-3 0 0 0 1 1-1 0-1 0 4 1-1 0-3 0 1 2 3 0 0 1-1 0-1 1-2 0-1 0 0 1 1 0 0 0 4 1-5 0-3 0 3 1 0 0 4 0-2 0-4 0 6 0-2 0-2 1 5 0-2 0-1 1-1 0 3 1-6 0-1 0 2 0 3 1-6 1 7 1-1 0-5 0 1 1 0 0 4 0-3 0-2 1 3 0-3 0 1 0 1 1-2 0-1 0 4 1-3 1 1 6 1 2 2 0-5 0 4 2 0 1 5 1-1 4-8-20 11-3-1-3 3-1-3 0 2-1 1-2-2-1 8 0-5-2-1-2 4 0-3-1-1-1-2 0 2 0 3-1 3 0-5 0-1 0-2 0-1-1 4 0-1 0 5-1-2 0-6 0 4 0-3-1 1 0 1 0-1 0-1 0 0 0 0 0 3-1-4 0 5 0 1-1-1 0-5 0 3-1-3 0 1 0 7 0-1 0-5 0 1 0-2 0-1 0 2-1 3 0-1 0-2 0 0-1 2 0 0 0 5 0 0-1-3 0-1 0-1 0 4 0-3-1 3-2 0 0-1 0 0-1 1-1 1 0 0-1-1-1 0 0 0-2 1 0 0-16 9 1-2 0 1 1 2 0-2 0-1 0 2 1-3 1 4 1-2 0 0 0-3 0 0 1 0 0 1 0 1 0-2 2 5 0-1 1 1 0-6 0 0 1 6 1-3 0-1 0 2 1-3 0-2 0 4 0-6 0 2 0 3 0-2 0 1 1-3 0-1 0 1 1 0 0 6 0-6 1 2 0 2 0-4 0-1 1 2 1 3 0-3 1-1 0 1 0 4 0 1 0-6 1 5 0-5 0 6 1-4 0-3 0 2 1 2 0-3 1 4 0 4 0-4 1-2 2 1 2 1 0 3 1-2 1-4 10-1 1-1 2 6-13 4-5 2-3-1-1 2-6-1-2-1-3 2-1 0 0-3 0 4-1 5-1-6 0 2 0-2-1 1 0-3 0 5-1 0 0 0 0 0-1 1 0-7-1 2-1 7 0-8 0 2 0-1 0 7 0 0-1-1 0-1 0-6 0 7 0 1-1-1 0-6 0 5 0-6 0 4-1-4 0 5 0-5 0 3 0-2-1 2 0-1 0 6 0-8-1 5 0-4 0 3-1 2 0 0 0-2 0-1 0-1 0 6-1-7-1 5 0 1 0-2 0 0-1-1 0 2-3 1-1 1 0-1 0 1 0 0-21 10 0 0 3 0 0 0 1-1 0 0 0 0 2 0 0 1 1 0 0-3 1 0 0 2 1 1 0-1 0 0 2-3 1 0 1 3 0 1 0-3 0-2 1 4 1 0 3-7 0 2 0 0 1 2 0-4 1 2 0 5 0-8 1 0 0 5 0 0 0-2 0-3 0 0 1 6 0-5 0-1 1 2 0 0 3-2 1 0 0 1 7-1 0 1 7 5-35 4 0 0-1 3 0-1-2 1-1-2-3 2 0-2 0 3-1 0 0-4-1 2 0-1 0 2-2 0 0-1-1 1" fill="none" marker-start="url(#m3)" marker-mid="url(#m3)" marker-end="url(#m3)"/>
<path transform="scale(.5)" d="M214 49l1 6 0-2-2 1 0 2 0-1 0-3-1 1 0 3 0-3 0 1-2-1 0 0-2-2 0 5 0-6 0 6-1 1-2-3 0 3-1-5 0 6-3 0-1-1 0 0-1 2 0-1-1-6 0 5-1 2 0-3-1 1 0 1 0-4-1 2-1 3-1 0-8 0-1-1-1-7-43 18 11-5 0 5 2-7 3 5 2 0 1-2 2 4 1-4 0 4 2-1 1-3 2 4 1-1 0-2 1 2 0 1 0 0 1-2 1 2 0 0 1-2 0 0 1 1 1-5 0 0 2 3 0-3 1 2 0 0 0 0 1-2 1 3 0-3 1 2 3-5 0 2 5-1 0 1 1 0 1 0 7-1 18 16 0-4-1 1 0 1-2 0 0 0-1 0 0 3-1-1-2-1 0-1-1 3-1 1 0-2-2 2-1 0-36-9-4 1-1 0-1 0-1-1-2 2 0 1-1-2 0 0 0 1-1-1 0 2 0-1-1 0-1 0-1 1-1-2-2 4-1 0-1-4-1 3-1 1 0-4 0 3-2-2 0 2 0-2 0 4-1 1 0 0 0-5-1 6 0-1-1-1-1 1-2 2-1-3-1 2 0-5-1 3 0 0-1-2 0 2 0 2 0-3-1 1 0 3-1 0 0-1-1 0 0-5 0 6-3 0-1 0-2-5-3 4-2-3 0-3-1-1-4 3 0 3-19 1-8 11 1 0 0-2 10-3 3 5 1-9 1 4 0 3 0 1 1-3 1 1 1 1 2-5 0 1 3 6 2 0 0-3 0-1 1 0 0 3 1 0 0-7 1 8 0-3 0 0 1 1 1 0 0 2 1-7 0 2 1-2 0 7 1 0 0-5 1 4 0-1 0-3 0 4 1-1 0-1 0 2 1-6 0 3 0-1 2-2 3 2 0-2 2-2 0 3 0 0 0 0 0-2 1 0 1-1 0 0 4 0 52 9 1-1 0 0 1-2 1 1 1 0 1-1 3 1 0-2 0 1 0 3 1-3 1-3 1-1 1 1 1-3 1 4 0 5 0-7 1 0 0 5 0-5 0 0 1-1 0 1 2 2-7 6-1 1-1 0-3 1-1-2-1 4 0-4-1 0 0 3-1-3-1 1 0-1 0 1 0-1-1 5 0-2 0-1 0-1-1 2 0-2 0-1-2 2-1 6 0-4 0 3-2 1-1 0 0 0 0-1 0 0 0 2-1-2 0 1-1 0-60-8-2 0 0 1-3 2-2 0-1 0 0-3-1 2-5 4 0-2-1 0-1-4-2 7-1 1 0-3 0 4-1-7 0 4 0 3 0-3-1 0 0-3 0 1-1 2 0-6-2 6 0 2 0-7 0 4-1-5-1 4 0-2-1 1-1-2-2 1-1 6-1 1 0-1-1-1-1 1 0-6 0 5-7-1-2 3-7-9-1 9-6 9 13-3 0-4 1 0 0 0 1 4 0 3 0-1 1-2 0 2 0 0 1-1 0-2 1 5 0-1 0 1 1-2 0 2 1-8 0 6 2-6 1 3 0 4 0-6 0 3 1 4 1-1 1-3 0-1 0-1 0 4 0-3 0 4 1-1 0-3 1-2 0-2 0 5 1-4 0-1 0 2 1 1 1 2 0-2 0 2 2-5 0 1 1 1 1 1 0 0 0-1 1-1 0-1 2 0 0 0 0 1 0-1 1 0-15 10-2 0 0 0-1 1 0 1-1 1 0-3-1 1 0 3-1-1 0-1 0 1 0 2-1 0-1-1 0 2-1 1-1-5 0-1 0 6-1-2-1 1 0-5 0 8 0-6-2 4-1 2 0-2 0-7-1 6 0-2 0 5-1-3 0-1-2-5 0 0-2 9-12-2-1-6 0 5-2 0 5 8 2 1 1-1 4-2 1-2 0 3 0 0 1-3 0 4 0-2 0 7 2 0 0-2 1 1 1 1 0-8 1 0 1 3 0-3 0 5 0 1 1-3 0 1 0-1 0-1 1-2 1 1 0 0 0-2 1 1 0 0-8 10-1-1-1 3 0-1-2 2 0-3 0 1-2-1 0-1 0 5 0-3-1 0 0 5 0-3 0 2-1-2-2-1 0 0 0 5 0-3 0 0-1-1-1 2-2 1 0-4-3-3 0 3-2 6-12 2 0 2 6 1 3 3 2 1 1-2 0 2 2-6 0-1 2 0 3 3 1-4 1 1-9 9 0 0-2 0-1 4 0-2 0 0 0 3-1-1-2 4-2-7 0 7-2 0-1 7 1 4 1 0 0-9 0 4 104 5-103 6-1-2-1 4 0-4 0-1 0 0-1 2-1 1-1 2 0-2-1 0 0 4 0-9 0 2-1 2-2 0-6 4 1 8 0-1 0 3 3-6 1 6 1-1 2-5 0 2 0 1 0 0 1-2 92 1-97 7-1-1-2 6 0-1-1 4-1-1-2 1 0-6-2 6-6-7 4 9 1 4 1 1 1 0 1 0 0-2 0-1 1 1-10 11 0 1 0 0-1 0 0-5 0 4 0 0-1-2 0 3-1-2 0 2 0-1-1-2-1 3 0-2 0 1-1 0 0 0-1 1" fill="none" marker-start="url(#m4)" marker-mid="url(#m4)" marker-end="url(#m4)"/>
<path transform="scale(.5)" d="M215 77l-3 0 0 0-1 2-3 0 0-3-1 3-81 7 64 3 0 0 2-2 2 0 2 1 0-1 2-1 2-5 1 5 1 1 2-1 2-4 0 7 0-1 0-7 1 0 0 0 2-1 2 2 0 3 0 0 1-1 1-2-7 8-8 2 0-2-4 0-3 0 0 5 0-2 0 0-1-3-1 5 0-2 0 2-1 0 0-3 0 3-1-1 0 2-3 0 0 0 0 0 0 1-1 1 0 1-91 6 95 40 1 4 6-6-9 7 0 2-1 6-5-8-1 8-2-8-7 6-1 1-1 0-2 2-20 9 3 1 2-3 0 0 2 0 0 3 3-4 1 3 0-5 1 4 2-2 0-4 1 1 0 7 5-3 0-1 2-2 1 1 3-4 2 7 13-7-19 10-3 6 0 1-1 0-1-5-3 3-3-3-3 2-2-1 0 0-2 2-1-4-2 7-1-7 0 7-2-6 0 6-1-7 0 7-1-1 0-4-1 4 0 2-2-2-1 0-3 0 0 2-2-2 0 2 0-2-1 2 0 0-1 0-93-2 77 12 2 0 1-2 0 2 0-4 0 3 0-2 2 0 1 2 0-1 3 1 0 0 0-6 0 3 2 0 0 2 0-3 1-2 1 0 0-2 1 7 0-3 0-2 0 7 0-8 1 8 1-4 1-5 0 0 1 7 1-6 3 8 1-5 0-4 2 4 1-4 1 5 1 1 0-2 1 1 1 1 3-6 1 2 5 4 1-2-13 6-3 1-2 2-1 0-5 6-1-9-5 5-4 3-1-2 0-2-2-4 0 3-1 1-2 0 0-3-1 7 0-2-1-2 0 0-1 1-1 1-1-3 0 3-1-1-1 0-2 2-2 2-21 10 0 0 0 0 3-1 6-1 0 1 0-1 3-2 3-2 0 1 1 0 0 2 1 0 0 0 0-2 0-2 1 2 1 0 4-3 1-1 0 3 3 0 1 0 6-3-26 10-5 1-4-1 0 0-5 5" fill="none" marker-start="url(#m5)" marker-mid="url(#m5)" marker-end="url(#m5)"/>
<defs><path id="c331" d="M17.4 88.2l1.3 0.4 0.7-0.4 1.7-1.4 1.6-1.4 0.7-0.4 2.4-2 0.4-0.3 1.9-1.5 2.3-1.3 2.4-2.6 0.1-0.1 2.2-2.2 0.6-0.6 1.8-1.1 1.4-1.6 0.9-0.7 2.1-2.1 0.2-0.1 2.4-2.1 0.5-0.5 1.8-2 0.7-0.8 1.7-1.9 0.6-0.8 1.7-2.8 2-2.7 0.3-0.9 2.4 0 1.2-1.9-0.7-2.7 0-2.8-0.5-0.5-2.4 0-0.5 0.5 0 2.8-1.8 1.3-1.3 1.4-1 0.7-2.2 2.1-0.2 0.1-2.3 1.2-1.4 1.4-1 0.7-2.2 2.1-0.1 0.1-2.3 1.4-1.1 1.2-1.3 1.1-1.7 1.7-0.6 0.5-2.1 2.2-0.3 0.5-2.2 2.3-0.1 0.1-2.3 2.6 0 0.1-2.4 2.3-0.2 0.4-1.6 2.7-0.5 1.3-0.8 1.5-1 2.7-0.6 1.3z"/><path id="c332" d="M27.5 77.2l0.6 0.5 2.3-0.5 2.4-2.2 0.5-0.6 1.8-1.1 2.1-1.6 0.3-0.2 2.3-1.9 0.7-0.7 1.6-1 1.7-1.7 0.7-0.7 1.8-2.1 0.5-0.4 2-2.3 0.4-0.5 1.7-2.3 0.6-1 1.3-1.7 1-2.7 2.4 0 0-0.1 0-0.1-2.4 0-0.4 0.1-1.9 0.2-2.3 1.4-1.2 1.2-1.2 0.7-2.3 2 0 0.1-2.4 1.8-0.9 0.9-1.4 0.9-2 1.8-0.3 0.4-2.4 2.3-0.1 0.1-2.2 1.9-0.8 0.8-1.6 2.4-0.4 0.4-1.9 2.6-0.1 0.1z"/><path id="c333" d="M36 68.9l1.5 0.5 0.5-0.5 1.8-1.4 2.3-1.3 2.4-2.4 0.3-0.4 2-1.7 0.9-1 1.5-2 0.5-0.8-0.5-1.5-2.4 0.7-0.9 0.8-1.4 1.3-1.5 1.5-0.9 1-2.3 1.7-2.3 2.4-0.5 0.4z"/><path id="c334" d="M44.4 60.7l0.1 0.2 0.5-0.2-0.5-0.1z"/><path id="c335" d="M17.2 109.6l4.3 1.7 4.7-0.1 4.7-0.2 4.6-1.1 0.6-0.3 0-3.4 4.1-2 3.3-1.4 1.3-0.8 4.6-2.6 0.1-0.1 3.9-3.3 0.8-0.5 3.4-2.9 1.2-2.1 2.4-1.3 2.3-1.8 1.9-1.7 2.8-1.4 2.4-2 2.2-2.3 2.8-1.1 1.9-2.7 4.7-0.7 1.5-3.4 3.1-1.2 3.7-2.2 1-1.2 1.8-2.2 2.4-3.4 0.5-0.2 4-3.2 0.6-0.7 2.8-2.7 1.9-2.6 4.6 0 0.8-0.8 2-3.4-1.2-3.5-1.6-1.5-4.6 0-2.7 1.5-2 0.9-4.6 1.8-1.7 0.8-3 1.3-4.7 1.9-0.4 0.2-4.2 2.2-4.3 1.2-0.4 0.1-4.7 1.3-4.6 2-4.7 3.2-0.4 0.2-4.3 3.1-0.5 0.3-4 3.4-0.1 0.1-4.7 3.3-4.7 3.3-0.1 0.1-1.3 3.4-2.7 3.4-0.5 0.4-2.6 3-1.9 3.5-0.2 0.2-3 3.2-1.6 2.2-1 1.2-2.1 3.4-1.6 1.3-2.4 2.1-2.3 1.2-4.3 2.2z"/><path id="c336" d="M20.4 109.6l1.1 0.4 4.7-0.2 3.9-0.2 0-3.4 0.8-0.2 4.6-2 3.1-1.2 1.6-0.5 4.6-2.8 0.3-0.1 4-3.4 0.4-0.4 4.7-3 2-3.4 2.6-2.1 1.9-1.4 2.8-2.2 2.1-1.2 2.6-1.4 2.2-2 1.7-3.4 0.7-0.5 4.7-2.9 4.7-2.3 3.5-1.1 1.1-0.5 2.4-2.9 2-3.4 0.3-0.1 4.7-1.8 1.8-1.5 2.8-3.1 0.4-0.3 2.2-3.4 2.1-1.5 4.6 0 1.4-1.9-1.4-2.6-4.6 0-4.7 1.5-2.2 1.1-2.4 1.4-4 2-0.7 0.3-4.7 1.5-2.5 1.6-2.1 1.2-4.7 1.2-3 1-1.7 0.9-4.6 1.8-1.1 0.7-2.4 3.4-1.2 1.4-4.7 1.2-1 0.8-3.6 3.2-0.3 0.2-3.6 3.4-0.8 0.7-2.3 2.7-1.8 3.4-0.6 0.5-3.8 2.9-0.8 1.2-1.5 2.3-2.7 3.4-0.5 0.6-2.1 2.8-2.3 3.4-0.2 0.5-3.5 2.9-1.2 1.8-4.7 1-1.1 0.6z"/><path id="c337" d="M33.5 99.4l2 2.1 4.7-1.1 1.6-1-1.6-3.2-4.7 0.8zM41.4 96l3.4 0.3 0.5-0.3 3.8-3.4 0.4-0.8 2.3-2.6 2.4-2.7 0.9-0.8 3.4-3.4 0.3-0.1 4.7-1.9 2.9-1.4 1.8-1.4 1-2 3.6-2.7 1.2-0.7 1.5-3.4 2-2.5 2.3-0.9 2.4-1.2 4.6-1.5 0.4-0.7 4.3-1.8 4.3-1.6 0.4-0.6 1.3-2.8-1.3-3.1-4.7 2.2-3.1 0.9-1.6 1.3-4.6 1.6-1.5 0.5-3.2 2.6-1.8 0.8-2.9 1.4-4.6 1.8-0.2 0.2-3.2 3.4-1.3 1-4.3 2.4-0.4 0.5-4 2.9-0.6 1-2.4 2.4-2.3 1.6-0.9 1.8-3.8 3-0.5 0.4-2.7 3.5-1.4 2-1 1.4 1 3z"/><path id="c338" d="M35.3 99.4l0.2 0.3 1.6-0.3-1.6-0.3zM42.4 92.6l2.4 1.4 1.6-1.4 1.1-3.4 2-1.4 2.1-2.1-2.1-1.8-2.2 1.8-2.5 1.9-1.2 1.6zM61.8 72.1l1.7 1.8 2.6-1.8-2.6-0.9zM66.7 68.7l1.5 2 4.6 0 1.2-2-1.2-2.1-4.6 0.6zM89.7 58.5l1.8 0.4 1.1-0.4-1.1-1.6z"/><path id="c339" d="M17.6 109.5l4.6 2.4 4.6 0 4.6-1.3 2.2-1.1 0-3.1 2.5-0.9 4.2-2.2 0.4-0.3 4.6-2.5 0.7-0.3 4-2.4 0.8-0.7 3.8-2.5 0.9-0.6 3.7-3.1 4.7-3.1 4.4-3.1 0.2-0.2 2.7-2.9 1.9-1.7 1.5-1.4 3-3.1 0.1-0.1 4.7-2 1.9-1 1.9-3.1 0.8-0.8 4.6-2 0.4-0.3-0.4-1-0.4-2.1 0.4-0.4 4.7-0.4 3-2.3 1.4-3.1 0.2-0.4 3.3-2.7-3.3-1-4.6 0.4-1.9 0.6-2.8 2.4-4.6 0-1.9 0.7-2.7 0.8-4.7 2.2-4.6-0.5-1.5 0.6-3.1 2.1-3.3 1-1.3 1.2-1 1.9-3.7 1.5-4 1.6-0.6 0.4-4 2.7-0.6 0.4-3.7 2.7-1 0.8-3.8 2.3-0.8 0.6-2.8 2.5-1.8 3.1-3.1 3.1-1.6 2.2-1 0.9-2.4 3.1-1.2 1.7-1.5 1.4-1.5 3.1-1.6 2.7-0.5 0.4-4.1 3.1zM104.2 50.6l1.3 2.1 4.7 0 0.6-2.1-0.6-0.7-4.7 0z"/><path id="c340" d="M18.7 109.5l3.5 1.8 4.6-0.1 4.1-1.7 0-3.1 0.5-0.3 4.7-1.8 1.9-1 2.7-2.1 1.8-1 2.8-3 0.2-0.1 4.5-2.9 0.3-0.2 4.3-2.6 0.6-0.5 4-2.6 0.8-0.5 3.5-3.1 0.4-0.1 2.3-3 2.3-1.4 2.2-1.7 2.3-3.1 0.1-0.1 4.6-3-0.5-3.1 0.5-1.3 4.7-0.7 0.7-1.1-0.7-0.7-3.9-2.4-0.8-0.2-1 0.2-3.6 1.1-4.6 1.8-0.3 0.2-4.3 2.5-1.8 0.6-2.9 2.9-0.6 0.2-4 0.7-4.5 2.4-0.1 0.1-3.7 3-1 0.8-3.2 2.3-1.4 1-1.8 2.1-2.8 2.8-0.3 0.3-2.9 3.1-1.5 1.6-1.4 1.5-2.4 3.1-0.8 1.7-0.8 1.4-2.8 3.1-1 0.7-3.5 2.4zM85.5 63l1.5 0.7 0.6-0.7-0.6-2.6z"/><path id="c341" d="M20.2 109.5l2 1 4.6-0.1 2-0.9 0-3.1 2.6-1.5 3.6-1.6 1.1-0.7 3.1-2.4 1.5-1.4 1.9-1.7 2.7-2.4 1.1-0.7 2.6-3.1 1-0.2 4.6-2.5 0.6-0.4-0.6-3.1 4.6-2.4 1.2-0.7 3.5-2.7 0.6-0.4-0.6-0.6-2.5-2.5-2.2-0.7-2 0.7 0.6 3.1-3.2 1.3-3.6 1.8-1 0.3-4.7 1.2-2.4 1.6-2.2 2.7-0.3 0.4-4.3 2.6-0.5 0.5-3 3.1-1.2 1.3-1.4 1.8-1.9 3.1-1.3 1.1-2.1 2-2.5 1.7-2 1.4zM67.5 72.3l1 1.6 1.5-1.6-1.5-0.7z"/><path id="c342" d="M26.8 103.3l0 0.2 4.6-0.2 0.1 0 3.6-3.1 1-0.4 2.6-2.7 2-3.1-4.6-0.2-0.3 0.2-2.2 3.1-2.2 1.9-0.8 1.2-3.8 3.1z"/><path id="c343" d="M36.2 103.2l2.1 1.2 4.2-0.8 0.7-0.4 1.3-3.1 2.2-1 4.2 0 1.8-2.2 2.4-0.8 2.5-2.3 1.8-1.7 3-1.4 1.2-0.9 4.2-1.7 2.1-0.6 1.8-3.1 0.3-0.2 4.2-1.4 2.4-1.6 1.8-1.2 3.7-1.9 0.6-0.4 3.5-2.8 0.7-0.6 4.2-2.5 4.2-2.5 0.7-0.6 1.9-3.2 1.6-0.8 2.5-2.3 1.5-3.2 0.3-0.2 4.2 0 2.7-2.9 0.4-3.2-0.3-3.1-2.8-2.8-4.2 0-3.9 2.8-0.4 0.3-4.2 1.6-2.6 1.2-1.6 0.6-4.2 2-1.3 0.6-2.9 1.2-3.8 1.9-0.5 0.3-4.2 2.2-2.8 0.7-1.4 0.8-3.3 2.3-0.9 0.4-4.2 1.5-2.8 1.3-1.4 1.1-2.6 2-1.6 3.1-0.1 0.2-4.2 2-0.9 1-2.6 3.1-0.7 3.2-4.2 2.1-0.8 1-1.4 3.2-2 2.8-0.3 0.3-1.3 3.1-1.6 3.2z"/><path id="c344" d="M38 100.1l0.3 0.4 0.5-0.4-0.5-0.5zM42 96.9l0.5 0.3 0.8-0.3-0.8-1.5zM51.4 90.7l3.7 2.4 1.5-2.4 2.8-1.1 2.7-2.1 1.5-1.1 4.2-2 4.2-2.9 0.8-0.3 3.4-1.5 2.5-1.6 1.7-0.8 3.7-2.4 0.6-0.2 3.6-2.9 0.6-0.4 4.1-2.7 0.1-0.1 3.9-3.1 0.3-0.2 4.2-2.4 0.6-0.5 1.8-3.2 1.9-1.5 4.2 0 1.5-1.6 0.7-3.2-0.6-3.1-1.6-1.6-4.2 0-2.3 1.6-2 1.4-3.4 1.7-0.8 0.4-4.2 1.8-1.9 1-2.3 0.7-4.2 2.4-0.2 0-4.1 1.9-2.1 1.3-2.1 1.4-2.4 1.7-1.8 1.1-3.7 2.1-0.5 0.3-4.2 2.5-0.5 0.3-3.7 1.4-1.8 1.7-1 3.2-1.5 1.1-2.6 2-1.6 1.7-1.3 1.5-0.9 3.1 2.2 3z"/><path id="c345" d="M58.5 81.2l0.9 0.8 2.3-0.8-2.3-0.6zM62.6 78.1l1 1.8 1.8-1.8 2.4-1.7 3.8 1.7 0.4 0.1 0.1-0.1 1.1-3.2 2.8-3.1 0.2-0.4 0.4 0.4 3.8 1.6 4.3-1.5 0-0.1 4.2-2.4 1.1-0.7 3.1-2 1.5-1.2 2.7-2 1.9-1.1 2.2-3.2 0.1-0.1 3.8-3 0.5-0.7 4.2 0 0.8-2.5-0.8-2.7-4.2 0-4.3 2.7-4.2 1.9-2.5 1.3-1.7 1.1-4.2 1.1-1.7 0.9-2.5 2.6-1.2 0.6-3.1 1.3-2.5 1.8-1.7 2-2.1 1.2-2.1 0.9-3.6 2.2-0.6 1.2-4.2 1.9z"/><path id="c346" d="M86.2 62.4l2.7 2.9 4.2-0.4 3.9-2.5 0.3-0.2 2.1-3 2.1-1.4 2.1-1.7-2.1-1.7-4.2 1.4-0.5 0.3-3.7 2.5-3.4 0.6-0.8 0.3z"/><path id="c347" d="M6.8 110l4.6 2.2 5.2-0.2 5.2-1.1 1.3-0.9 0-4.1 3.9-2.7 2.5-1.5 2.7-2.1 4.5-2.1 0.7-0.5 3-3.7 2.3-1.9 2.1-2.3 3.1-3.7 1-0.4 4.2-4.2 4.1-4.2 1.1-1.4 5.2-1.9 1.9-0.9 3-4.2 0.3-0.2 5.2-4 5.3-4.1 4-4.2 1.2-0.8 2.9-3.4 2.3-2 3.2-2.2 2-2.8 1.1-1.4 4.1-2.4 2.3-1.7 2.9-2.7 5.2 0 1.4-1.5 0.9-4.2-2.3-2.7-5.2 0-5.2 1.9-2 0.8-3.2 0.6-5.2 1.7-4.6 1.9-0.6 0.2-5.2 1.3-5.3 1.2-3.4 1.5-1.8 1-5.2 3-0.3 0.1-4.9 3.1-1.6 1.1-3.6 2.1-3.2 2.1-2 1.2-5.2 3-4.6 4.2-0.7 1.1-1.7 3-3.5 3.9-0.3 0.3-1.3 4.2-3.6 2.6-1.7 1.6-2.5 4.2-0.8 4.2-0.2 0.3-2.4 3.8-2.6 4.2-0.2 0.5-2.7 3.7-1.5 4.2-1 1.2-4.6 3z"/><path id="c348" d="M10.4 110l1 0.5 5.2-0.2 0.8-0.3 0-4.1 4.4-1.2 4.2-3 1-1.1 3.9-3.1 1.3-0.9 4.3-3.3 0.9-2.4 1.9-1.8 3.4-3.4 0.5-0.7 4.7-3.7 0.6-0.5 3.4-4.2 1.2-2.4 0.8-1.8 3.6-4.2 0.8-0.7 5.2-1.9 2.2-1.6 3-2.9 1.2-1.2 4-2.8 2.5-1.4 2.8-1.6 4-2.6 1.2-0.7 3.8-3.5 1.4-1.7 1.8-2.5 3.4-2.3 2.9-1.8 2.3-1.9 2.6-2.3-2.6-1.9-5.2-0.3-4.3 2.2-0.9 0.9-5.2 2-3.3 1.3-1.9 0.8-5.3 2.9-1.1 0.4-4.1 0.7-5.2 3-0.7 0.5-4.5 3.6-1 0.6-4.2 2.3-3.2 1.9-2 1.6-4.1 2.6-1.1 0.7-2.6 3.4-2.7 4.2-3.1 4.2-2.1 2.2-2.6 2-2.6 2.1-1.6 2.1-1.1 4.2-1.9 4.1-0.6 0.5-3.3 3.7-1.9 3.9-0.3 0.3-2 4.2-2.9 3.5-1 0.7z"/><path id="c349" d="M16.1 101.7l0.5 0.9 5.2 0.6 2.1-1.5 3.1-3.5 0.9-0.7 4.3-2.8 1.8-1.4 1.7-4.2 1.7-2 2.5-2.1 2.8-3.8 0.5-0.4 3.2-4.2 0.7-4.2 0.8-0.5 2.6-3.7 2.6-3.6 0.5-0.6-0.5-0.2-5.2-2.3-3.6 2.5-1.6 2.7-0.9 1.5-4.4 3.6-0.4 0.6-3.1 4.2-1.7 1.4-3.3 2.8-1.9 2.4-0.5 1.8-2.1 4.1-2.6 2.3-1.7 1.9-1.5 4.2-2 3.3zM68 51.5l0.7 1 5.2 1 3.2-2 2.1-1.9 4.3-2.3 0.9-1 1.8-3.2-1.8-1.6-5.2 1.1-1 0.5-4.3 2.5-5.2 1-1.2 0.7zM87.7 39l1.9 1.4 2.2-1.4-2.2-0.8zM93 34.8l1.8 2.7 3.4-2.7-3.4-0.9z"/><path id="c350" d="M21 97.5l0.8 3.3 1.7-3.3 3.5-2.7 2.9-1.5 2.3-2 0.9-2.2 3.1-4.1 1.2-2.1 1.2-2.1-1.2-1.7-1.9 1.7-3.3 1.4-2.7 2.8-2.5 3.3-0.4 0.8-4.8 4.2zM40.9 76.6l1.8 0.7 0.6-0.7-0.6-0.8z"/><path id="c351" d="M11.5 109.8l4.9 2.6 4.9 0.1 5 0.2 4.9-0.5 4.9-1.3 2.2-1.1 0-3.7 2.8-1.9 4.9-1.6 0.5-0.3 4.4-2.6 1.5-1.1 2.4-3.8 1.1-1.2 4.7-2.5 0.2-0.2 4-3.6 1-0.8 3.3-2.9 1.6-1.5 2.8-2.3 2.1-3.4 0.4-0.3 3.5-3.8 0.1-3.7 1-0.7 4.9 0 1.4-3.1 2.2-3.8 0-3.7-3.6-3.8 4.9-1.5 1.3-2.2-1.3-0.8-4.9-0.5-1.5 1.3-3.4 2.2-5-1.4-4.9 2-1.3 0.9-3.6 3.8-5 0.8-4.9 2.9-5 0.4-3.9 3.4-1 0.9-2.7 2.9-2.2 2.1-2.3 1.6-2.7 3.8-2.6 3.7-1.3 3.8-1 1.2-3.1 2.5-1.6 3.8-0.2 0.4-3.7 3.3-1.3 3.8-4.4 3.7-0.5 0.3-4.9 3.5z"/><path id="c352" d="M14.7 109.8l1.7 0.9 4.9 0.2 5 0.6 4.9-1.1 1.5-0.6 0-3.7 3.4-1 3.9-2.8 1.1-1.2 4.9-1.8 1.1-0.7 3.8-3.4 0.4-0.4 3.6-3.7 1-1.4 2.6-2.4 2.3-2 2.1-1.7 2.9-3.8 2.6-3.7 2.3-3.4 0.4-0.4-0.4-1.2-3.3-2.5-1.6-1.9-2-1.9-3-0.9-2.9 0.9-2 0.4-5 2.8-0.6 0.6-4.3 3.7-3 3.8-1.9 1.3-3.1 2.4-1.9 2.1-1.1 1.7-3.2 3.7-0.6 0.9-2.4 2.9-2.3 3.7-0.2 0.5-2 3.3-2.9 3.7-0.1 0.3-4.9 2.3-1.7 1.2zM69.1 64.8l1.6 0.7 0.5-0.7 0.6-3.8-1.1-0.2-2 0.2z"/><path id="c353" d="M26 109.8l0.3 0.1 0.1-0.1 0-3.7 4.8-1.4 4.9-1.4 1.4-1 3.5-3.7 0.1-0.1 4.9-3.2 0.6-0.5 4.3-3.7 2.5-3.8 1.2-3.7 1.3-1.6 1.7-2.2-1.7-2.8-5 1.6-4.9-0.9-3 2.1-1.9 2.1-1.6 1.7-3.4 2-1.6 1.7-2.4 3.8-0.9 1.3-1.5 2.4-2.3 3.8-1.1 1.6-1.9 2.1 1.6 3.8z"/><path id="c354" d="M30.9 98.6l0.3 1.7 4.9-0.9 0.8-0.8 3.8-3.8 0.4-0.8 2-2.9-2-2.5-2 2.5-3 1.1-2.3 2.6-2.6 3.3z"/></defs>
<g fill-rule="evenodd"><use href="#c331" fill="#fff"/><use href="#c332" fill="#8000ff" fill-opacity="0.15"/><use href="#c333" fill="#8000ff" fill-opacity="0.15"/><use href="#c334" fill="#8000ff" fill-opacity="0.15"/><use href="#c335" fill="#fff"/><use href="#c336" fill="#1996f3" fill-opacity="0.15"/><use href="#c337" fill="#1996f3" fill-opacity="0.15"/><use href="#c338" fill="#1996f3" fill-opacity="0.15"/><use href="#c339" fill="#fff"/><use href="#c340" fill="#4df3ce" fill-opacity="0.15"/><use href="#c341" fill="#4df3ce" fill-opacity="0.15"/><use href="#c342" fill="#4df3ce" fill-opacity="0.15"/><use href="#c343" fill="#fff"/><use href="#c344" fill="#b2f396" fill-opacity="0.15"/><use href="#c345" fill="#b2f396" fill-opacity="0.15"/><use href="#c346" fill="#b2f396" fill-opacity="0.15"/><use href="#c347" fill="#fff"/><use href="#c348" fill="#ff964f" fill-opacity="0.15"/><use href="#c349" fill="#ff964f" fill-opacity="0.15"/><use href="#c350" fill="#ff964f" fill-opacity="0.15"/><use href="#c351" fill="#fff"/><use href="#c352" fill="#ff0000" fill-opacity="0.15"/><use href="#c353" fill="#ff0000" fill-opacity="0.15"/><use href="#c354" fill="#ff0000" fill-opacity="0.15"/></g>
<g fill="none" stroke-width="1.20" stroke-linejoin="round"><g stroke="#8000ff"><use href="#c331"/><use href="#c332"/><use href="#c333"/><use href="#c334"/></g><g stroke="#1996f3"><use href="#c335"/><use href="#c336"/><use href="#c337"/><use href="#c338"/></g><g stroke="#4df3ce"><use href="#c339"/><use href="#c340"/><use href="#c341"/><use href="#c342"/></g><g stroke="#b2f396"><use href="#c343"/><use href="#c344"/><use href="#c345"/><use href="#c346"/></g><g stroke="#ff964f"><use href="#c347"/><use href="#c348"/><use href="#c349"/><use href="#c350"/></g><g stroke="#ff0000"><use href="#c351"/><use href="#c352"/><use href="#c353"/><use href="#c354"/></g></g>
</svg>
<svg x="609.04" y="569.05" width="108.00" height="108.00" viewBox="0 0 108.00 108.00">
<path d="M4.7 108L4.7 106.9 7.5 106.9 7.5 106.4 10.2 106.4 10.2 105.3 13 105.3 13 101.4 15.7 101.4 15.7 98.3 18.5 98.3 18.5 90.8 21.2 90.8 21.2 88.4 24 88.4 24 81 26.7 81 26.7 71.7 29.5 71.7 29.5 64.2 32.2 64.2 32.2 54.7 35 54.7 35 41.1 37.7 41.1 37.7 25.5 40.4 25.5 40.4 10.4 43.2 10.4 43.2 9.7 45.9 9.7 45.9 15 48.7 15 48.7 33.6 51.4 33.6 51.4 63 54.2 63 54.2 85.8 56.9 85.8 56.9 101.3 59.7 101.3 59.7 108" fill="none" stroke="#8000ff" stroke-width="1.20" stroke-linejoin="miter"/>
<path d="M0.1 108L0.1 84.3 3.5 84.3 3.5 80.8 6.9 80.8 6.9 73.6 10.3 73.6 10.3 72.7 13.7 72.7 13.7 66.9 17.1 66.9 17.1 66.1 20.6 66.1 20.6 61.7 24 61.7 24 63.1 27.4 63.1 27.4 56.3 30.8 56.3 30.8 56 34.2 56 34.2 52.6 37.6 52.6 37.6 51.8 41 51.8 41 54.9 44.4 54.9 44.4 56.8 47.8 56.8 47.8 56.6 51.2 56.6 51.2 68.3 54.6 68.3 54.6 79.4 58 79.4 58 87.4 61.4 87.4 61.4 100.9 64.9 100.9 64.9 106.7 68.3 106.7 68.3 108" fill="none" stroke="#1996f3" stroke-width="1.20" stroke-linejoin="miter"/>
<path d="M0 108L0 80 3.1 80 3.1 74.6 6.2 74.6 6.2 69.3 9.3 69.3 9.3 63.8 12.4 63.8 12.4 62 15.5 62 15.5 63.4 18.6 63.4 18.6 58.3 21.7 58.3 21.7 61.3 24.8 61.3 24.8 60.9 27.9 60.9 27.9 61.9 31 61.9 31 64.8 34.1 64.8 34.1 66 37.2 66 37.2 72 40.3 72 40.3 76.4 43.4 76.4 43.4 80.1 46.5 80.1 46.5 81.8 49.6 81.8 49.6 92.2 52.7 92.2 52.7 96.7 55.8 96.7 55.8 101.7 58.9 101.7 58.9 106.7 62 106.7 62 108" fill="none" stroke="#4df3ce" stroke-width="1.20" stroke-linejoin="miter"/>
<path d="M0.1 108L0.1 98.2 3.2 98.2 3.2 95.6 6.3 95.6 6.3 89 9.5 89 9.5 84.9 12.6 84.9 12.6 81.7 15.8 81.7 15.8 76.5 18.9 76.5 18.9 66.8 22.1 66.8 22.1 62.6 25.2 62.6 25.2 54.2 28.3 54.2 28.3 49.1 31.5 49.1 31.5 42.5 34.6 42.5 34.6 36.8 37.8 36.8 37.8 34 40.9 34 40.9 38.6 44.1 38.6 44.1 35.1 47.2 35.1 47.2 47.3 50.3 47.3 50.3 58.9 53.5 58.9 53.5 80.1 56.6 80.1 56.6 95.8 59.8 95.8 59.8 105.6 62.9 105.6 62.9 108" fill="none" stroke="#b2f396" stroke-width="1.20" stroke-linejoin="miter"/>
<path d="M0 108L0 83.8 4.2 83.8 4.2 74.3 8.4 74.3 8.4 64.3 12.6 64.3 12.6 55.4 16.8 55.4 16.8 55.9 21 55.9 21 49 25.1 49 25.1 45.7 29.3 45.7 29.3 45.4 33.5 45.4 33.5 48 37.7 48 37.7 45.9 41.9 45.9 41.9 41.2 46 41.2 46 43.9 50.2 43.9 50.2 41 54.4 41 54.4 41.9 58.6 41.9 58.6 37.8 62.8 37.8 62.8 51.2 66.9 51.2 66.9 56.4 71.1 56.4 71.1 68.4 75.3 68.4 75.3 92.3 79.5 92.3 79.5 105.1 83.7 105.1 83.7 108" fill="none" stroke="#ff964f" stroke-width="1.20" stroke-linejoin="miter"/>
<path d="M0.1 108L0.1 67 3.8 67 3.8 48.7 7.6 48.7 7.6 37.9 11.3 37.9 11.3 28.2 15.1 28.2 15.1 25.6 18.8 25.6 18.8 23.8 22.6 23.8 22.6 35.4 26.3 35.4 26.3 36.4 30.1 36.4 30.1 48.1 33.8 48.1 33.8 48.5 37.6 48.5 37.6 59.4 41.3 59.4 41.3 61.6 45.1 61.6 45.1 67.9 48.8 67.9 48.8 82 52.6 82 52.6 85.2 56.3 85.2 56.3 92.4 60.1 92.4 60.1 98.9 63.8 98.9 63.8 102.9 67.6 102.9 67.6 105.1 71.3 105.1 71.3 106.8 75.1 106.8 75.1 108" fill="none" stroke="#ff0000" stroke-width="1.20" stroke-linejoin="miter"/>
</svg>
<rect x="41.54" y="1.55" width="108.00" height="108.00" fill="none" stroke="#000" stroke-width="0.62"/>
<path d="M56.55 109.55v2.6M79.51 109.55v2.6M102.46 109.55v2.6M125.42 109.55v2.6M148.37 109.55v2.6" stroke="#000" stroke-width="0.62" fill="none"/>
<rect x="41.54" y="115.05" width="108.00" height="108.00" fill="none" stroke="#000" stroke-width="0.62"/>
<path d="M56.55 223.05v2.6M79.51 223.05v2.6M102.46 223.05v2.6M125.42 223.05v2.6M148.37 223.05v2.6M41.54 202.19h-2.6M41.54 179.85h-2.6M41.54 157.52h-2.6M41.54 135.19h-2.6" stroke="#000" stroke-width="0.62" fill="none"/>
<rect x="155.04" y="115.05" width="108.00" height="108.00" fill="none" stroke="#000" stroke-width="0.62"/>
<path d="M175.90 223.05v2.6M198.24 223.05v2.6M220.57 223.05v2.6M242.90 223.05v2.6" stroke="#000" stroke-width="0.62" fill="none"/>
<rect x="41.54" y="228.55" width="108.00" height="108.00" fill="none" stroke="#000" stroke-width="0.62"/>
<path d="M56.55 336.55v2.6M79.51 336.55v2.6M102.46 336.55v2.6M125.42 336.55v2.6M148.37 336.55v2.6M41.54 311.51h-2.6M41.54 286.76h-2.6M41.54 262.01h-2.6M41.54 237.26h-2.6" stroke="#000" stroke-width="0.62" fill="none"/>
<rect x="155.04" y="228.55" width="108.00" height="108.00" fill="none" stroke="#000" stroke-width="0.62"/>
<path d="M175.90 336.55v2.6M198.24 336.55v2.6M220.57 336.55v2.6M242.90 336.55v2.6M155.04 311.51h-2.6M155.04 286.76h-2.6M155.04 262.01h-2.6M155.04 237.26h-2.6" stroke="#000" stroke-width="0.62" fill="none"/>
<rect x="268.54" y="228.55" width="108.00" height="108.00" fill="none" stroke="#000" stroke-width="0.62"/>
<path d="M293.58 336.55v2.6M318.33 336.55v2.6M343.08 336.55v2.6M367.83 336.55v2.6" stroke="#000" stroke-width="0.62" fill="none"/>
<rect x="41.54" y="342.05" width="108.00" height="108.00" fill="none" stroke="#000" stroke-width="0.62"/>
<path d="M56.55 450.05v2.6M79.51 450.05v2.6M102.46 450.05v2.6M125.42 450.05v2.6M148.37 450.05v2.6M41.54 434.18h-2.6M41.54 411.12h-2.6M41.54 388.06h-2.6M41.54 365.00h-2.6" stroke="#000" stroke-width="0.62" fill="none"/>
<rect x="155.04" y="342.05" width="108.00" height="108.00" fill="none" stroke="#000" stroke-width="0.62"/>
<path d="M175.90 450.05v2.6M198.24 450.05v2.6M220.57 450.05v2.6M242.90 450.05v2.6M155.04 434.18h-2.6M155.04 411.12h-2.6M155.04 388.06h-2.6M155.04 365.00h-2.6" stroke="#000" stroke-width="0.62" fill="none"/>
<rect x="268.54" y="342.05" width="108.00" height="108.00" fill="none" stroke="#000" stroke-width="0.62"/>
<path d="M293.58 450.05v2.6M318.33 450.05v2.6M343.08 450.05v2.6M367.83 450.05v2.6M268.54 434.18h-2.6M268.54 411.12h-2.6M268.54 388.06h-2.6M268.54 365.00h-2.6" stroke="#000" stroke-width="0.62" fill="none"/>
<rect x="382.04" y="342.05" width="108.00" height="108.00" fill="none" stroke="#000" stroke-width="0.62"/>
<path d="M397.91 450.05v2.6M420.97 450.05v2.6M444.03 450.05v2.6M467.09 450.05v2.6" stroke="#000" stroke-width="0.62" fill="none"/>
<rect x="41.54" y="455.55" width="108.00" height="108.00" fill="none" stroke="#000" stroke-width="0.62"/>
<path d="M56.55 563.55v2.6M79.51 563.55v2.6M102.46 563.55v2.6M125.42 563.55v2.6M148.37 563.55v2.6M41.54 562.88h-2.6M41.54 536.08h-2.6M41.54 509.28h-2.6M41.54 482.48h-2.6" stroke="#000" stroke-width="0.62" fill="none"/>
<rect x="155.04" y="455.55" width="108.00" height="108.00" fill="none" stroke="#000" stroke-width="0.62"/>
<path d="M175.90 563.55v2.6M198.24 563.55v2.6M220.57 563.55v2.6M242.90 563.55v2.6M155.04 562.88h-2.6M155.04 536.08h-2.6M155.04 509.28h-2.6M155.04 482.48h-2.6" stroke="#000" stroke-width="0.62" fill="none"/>
<rect x="268.54" y="455.55" width="108.00" height="108.00" fill="none" stroke="#000" stroke-width="0.62"/>
<path d="M293.58 563.55v2.6M318.33 563.55v2.6M343.08 563.55v2.6M367.83 563.55v2.6M268.54 562.88h-2.6M268.54 536.08h-2.6M268.54 509.28h-2.6M268.54 482.48h-2.6" stroke="#000" stroke-width="0.62" fill="none"/>
<rect x="382.04" y="455.55" width="108.00" height="108.00" fill="none" stroke="#000" stroke-width="0.62"/>
<path d="M397.91 563.55v2.6M420.97 563.55v2.6M444.03 563.55v2.6M467.09 563.55v2.6M382.04 562.88h-2.6M382.04 536.08h-2.6M382.04 509.28h-2.6M382.04 482.48h-2.6" stroke="#000" stroke-width="0.62" fill="none"/>
<rect x="495.54" y="455.55" width="108.00" height="108.00" fill="none" stroke="#000" stroke-width="0.62"/>
<path d="M496.21 563.55v2.6M523.01 563.55v2.6M549.81 563.55v2.6M576.61 563.55v2.6" stroke="#000" stroke-width="0.62" fill="none"/>
<rect x="41.54" y="569.05" width="108.00" height="108.00" fill="none" stroke="#000" stroke-width="0.62"/>
<path d="M56.55 677.05v2.6M79.51 677.05v2.6M102.46 677.05v2.6M125.42 677.05v2.6M148.37 677.05v2.6M41.54 652.48h-2.6M41.54 627.58h-2.6M41.54 602.67h-2.6M41.54 577.77h-2.6" stroke="#000" stroke-width="0.62" fill="none"/>
<rect x="155.04" y="569.05" width="108.00" height="108.00" fill="none" stroke="#000" stroke-width="0.62"/>
<path d="M175.90 677.05v2.6M198.24 677.05v2.6M220.57 677.05v2.6M242.90 677.05v2.6M155.04 652.48h-2.6M155.04 627.58h-2.6M155.04 602.67h-2.6M155.04 577.77h-2.6" stroke="#000" stroke-width="0.62" fill="none"/>
<rect x="268.54" y="569.05" width="108.00" height="108.00" fill="none" stroke="#000" stroke-width="0.62"/>
<path d="M293.58 677.05v2.6M318.33 677.05v2.6M343.08 677.05v2.6M367.83 677.05v2.6M268.54 652.48h-2.6M268.54 627.58h-2.6M268.54 602.67h-2.6M268.54 577.77h-2.6" stroke="#000" stroke-width="0.62" fill="none"/>
<rect x="382.04" y="569.05" width="108.00" height="108.00" fill="none" stroke="#000" stroke-width="0.62"/>
<path d="M397.91 677.05v2.6M420.97 677.05v2.6M444.03 677.05v2.6M467.09 677.05v2.6M382.04 652.48h-2.6M382.04 627.58h-2.6M382.04 602.67h-2.6M382.04 577.77h-2.6" stroke="#000" stroke-width="0.62" fill="none"/>
<rect x="495.54" y="569.05" width="108.00" height="108.00" fill="none" stroke="#000" stroke-width="0.62"/>
<path d="M496.21 677.05v2.6M523.01 677.05v2.6M549.81 677.05v2.6M576.61 677.05v2.6M495.54 652.48h-2.6M495.54 627.58h-2.6M495.54 602.67h-2.6M495.54 577.77h-2.6" stroke="#000" stroke-width="0.62" fill="none"/>
<rect x="609.04" y="569.05" width="108.00" height="108.00" fill="none" stroke="#000" stroke-width="0.62"/>
<path d="M633.61 677.05v2.6M658.51 677.05v2.6M683.42 677.05v2.6M708.32 677.05v2.6" stroke="#000" stroke-width="0.62" fill="none"/>
<text transform="translate(55.75 692.05) rotate(-45)" text-anchor="middle" font-size="9.00" y="3.42" fill="#000">13.3</text>
<text transform="translate(78.71 692.05) rotate(-45)" text-anchor="middle" font-size="9.00" y="3.42" fill="#000">13.4</text>
<text transform="translate(101.66 692.05) rotate(-45)" text-anchor="middle" font-size="9.00" y="3.42" fill="#000">13.5</text>
<text transform="translate(124.62 692.05) rotate(-45)" text-anchor="middle" font-size="9.00" y="3.42" fill="#000">13.6</text>
<text transform="translate(147.57 692.05) rotate(-45)" text-anchor="middle" font-size="9.00" y="3.42" fill="#000">13.7</text>
<text x="95.54" y="715.60" text-anchor="middle" font-size="9.00" fill="#000">aR</text>
<text transform="translate(175.10 694.08) rotate(-45)" text-anchor="middle" font-size="9.00" y="3.42" fill="#000">0.102</text>
<text transform="translate(197.44 694.08) rotate(-45)" text-anchor="middle" font-size="9.00" y="3.42" fill="#000">0.108</text>
<text transform="translate(219.77 694.08) rotate(-45)" text-anchor="middle" font-size="9.00" y="3.42" fill="#000">0.114</text>
<text transform="translate(242.10 694.08) rotate(-45)" text-anchor="middle" font-size="9.00" y="3.42" fill="#000">0.120</text>
<text x="209.04" y="715.60" text-anchor="middle" font-size="9.00" fill="#000">p</text>
<text transform="translate(292.78 692.05) rotate(-45)" text-anchor="middle" font-size="9.00" y="3.42" fill="#000">0.05</text>
<text transform="translate(317.53 692.05) rotate(-45)" text-anchor="middle" font-size="9.00" y="3.42" fill="#000">0.10</text>
<text transform="translate(342.28 692.05) rotate(-45)" text-anchor="middle" font-size="9.00" y="3.42" fill="#000">0.15</text>
<text transform="translate(367.03 692.05) rotate(-45)" text-anchor="middle" font-size="9.00" y="3.42" fill="#000">0.20</text>
<text x="322.54" y="715.60" text-anchor="middle" font-size="9.00" fill="#000">b</text>
<text transform="translate(397.11 692.05) rotate(-45)" text-anchor="middle" font-size="9.00" y="3.42" fill="#000">89.2</text>
<text transform="translate(420.17 692.05) rotate(-45)" text-anchor="middle" font-size="9.00" y="3.42" fill="#000">89.4</text>
<text transform="translate(443.23 692.05) rotate(-45)" text-anchor="middle" font-size="9.00" y="3.42" fill="#000">89.6</text>
<text transform="translate(466.29 692.05) rotate(-45)" text-anchor="middle" font-size="9.00" y="3.42" fill="#000">89.8</text>
<text x="436.04" y="715.60" text-anchor="middle" font-size="9.00" fill="#000">inc</text>
<text transform="translate(495.41 690.03) rotate(-45)" text-anchor="middle" font-size="9.00" y="3.42" fill="#000">0.2</text>
<text transform="translate(522.21 690.03) rotate(-45)" text-anchor="middle" font-size="9.00" y="3.42" fill="#000">0.4</text>
<text transform="translate(549.01 690.03) rotate(-45)" text-anchor="middle" font-size="9.00" y="3.42" fill="#000">0.6</text>
<text transform="translate(575.81 690.03) rotate(-45)" text-anchor="middle" font-size="9.00" y="3.42" fill="#000">0.8</text>
<text x="549.54" y="715.60" text-anchor="middle" font-size="9.00" fill="#000">q1</text>
<text transform="translate(632.81 690.03) rotate(-45)" text-anchor="middle" font-size="9.00" y="3.42" fill="#000">0.2</text>
<text transform="translate(657.71 690.03) rotate(-45)" text-anchor="middle" font-size="9.00" y="3.42" fill="#000">0.4</text>
<text transform="translate(682.62 690.03) rotate(-45)" text-anchor="middle" font-size="9.00" y="3.42" fill="#000">0.6</text>
<text transform="translate(707.52 690.03) rotate(-45)" text-anchor="middle" font-size="9.00" y="3.42" fill="#000">0.8</text>
<text x="663.04" y="715.60" text-anchor="middle" font-size="9.00" fill="#000">q2</text>
<text transform="translate(32.79 201.89) rotate(-45)" text-anchor="end" font-size="9.00" y="3.29" fill="#000">0.102</text>
<text transform="translate(32.79 179.55) rotate(-45)" text-anchor="end" font-size="9.00" y="3.29" fill="#000">0.108</text>
<text transform="translate(32.79 157.22) rotate(-45)" text-anchor="end" font-size="9.00" y="3.29" fill="#000">0.114</text>
<text transform="translate(32.79 134.89) rotate(-45)" text-anchor="end" font-size="9.00" y="3.29" fill="#000">0.120</text>
<text transform="translate(8.30 169.05) rotate(-90)" text-anchor="middle" font-size="9.00" fill="#000">p</text>
<text transform="translate(32.79 311.21) rotate(-45)" text-anchor="end" font-size="9.00" y="3.29" fill="#000">0.05</text>
<text transform="translate(32.79 286.46) rotate(-45)" text-anchor="end" font-size="9.00" y="3.29" fill="#000">0.10</text>
<text transform="translate(32.79 261.71) rotate(-45)" text-anchor="end" font-size="9.00" y="3.29" fill="#000">0.15</text>
<text transform="translate(32.79 236.96) rotate(-45)" text-anchor="end" font-size="9.00" y="3.29" fill="#000">0.20</text>
<text transform="translate(8.30 282.55) rotate(-90)" text-anchor="middle" font-size="9.00" fill="#000">b</text>
<text transform="translate(32.79 433.88) rotate(-45)" text-anchor="end" font-size="9.00" y="3.29" fill="#000">89.2</text>
<text transform="translate(32.79 410.82) rotate(-45)" text-anchor="end" font-size="9.00" y="3.29" fill="#000">89.4</text>
<text transform="translate(32.79 387.76) rotate(-45)" text-anchor="end" font-size="9.00" y="3.29" fill="#000">89.6</text>
<text transform="translate(32.79 364.70) rotate(-45)" text-anchor="end" font-size="9.00" y="3.29" fill="#000">89.8</text>
<text transform="translate(8.30 396.05) rotate(-90)" text-anchor="middle" font-size="9.00" fill="#000">inc</text>
<text transform="translate(32.79 562.58) rotate(-45)" text-anchor="end" font-size="9.00" y="3.29" fill="#000">0.2</text>
<text transform="translate(32.79 535.78) rotate(-45)" text-anchor="end" font-size="9.00" y="3.29" fill="#000">0.4</text>
<text transform="translate(32.79 508.98) rotate(-45)" text-anchor="end" font-size="9.00" y="3.29" fill="#000">0.6</text>
<text transform="translate(32.79 482.18) rotate(-45)" text-anchor="end" font-size="9.00" y="3.29" fill="#000">0.8</text>
<text transform="translate(8.30 509.55) rotate(-90)" text-anchor="middle" font-size="9.00" fill="#000">q1</text>
<text transform="translate(32.79 652.18) rotate(-45)" text-anchor="end" font-size="9.00" y="3.29" fill="#000">0.2</text>
<text transform="translate(32.79 627.28) rotate(-45)" text-anchor="end" font-size="9.00" y="3.29" fill="#000">0.4</text>
<text transform="translate(32.79 602.37) rotate(-45)" text-anchor="end" font-size="9.00" y="3.29" fill="#000">0.6</text>
<text transform="translate(32.79 577.47) rotate(-45)" text-anchor="end" font-size="9.00" y="3.29" fill="#000">0.8</text>
<text transform="translate(8.30 623.05) rotate(-90)" text-anchor="middle" font-size="9.00" fill="#000">q2</text>
<rect x="531.6" y="60.2" width="86.6" height="137.2" rx="2.2" fill="#fff" fill-opacity="0.8" stroke="#ccc" stroke-width="0.75"/>
<circle cx="552.5" cy="73.0" r="7.1" fill="#8000ff"/>
<text x="579.9" y="78.1" font-size="14.4" fill="#000">T1</text>
<circle cx="552.5" cy="95.1" r="7.1" fill="#1996f3"/>
<text x="579.9" y="100.2" font-size="14.4" fill="#000">T2</text>
<circle cx="552.5" cy="117.2" r="7.1" fill="#4df3ce"/>
<text x="579.9" y="122.3" font-size="14.4" fill="#000">T2.2</text>
<circle cx="552.5" cy="139.3" r="7.1" fill="#b2f396"/>
<text x="579.9" y="144.4" font-size="14.4" fill="#000">T3</text>
<circle cx="552.5" cy="161.4" r="7.1" fill="#ff964f"/>
<text x="579.9" y="166.5" font-size="14.4" fill="#000">T4</text>
<circle cx="552.5" cy="183.5" r="7.1" fill="#ff0000"/>
<text x="579.9" y="188.6" font-size="14.4" fill="#000">T5</text>
</svg>
</body></html>
